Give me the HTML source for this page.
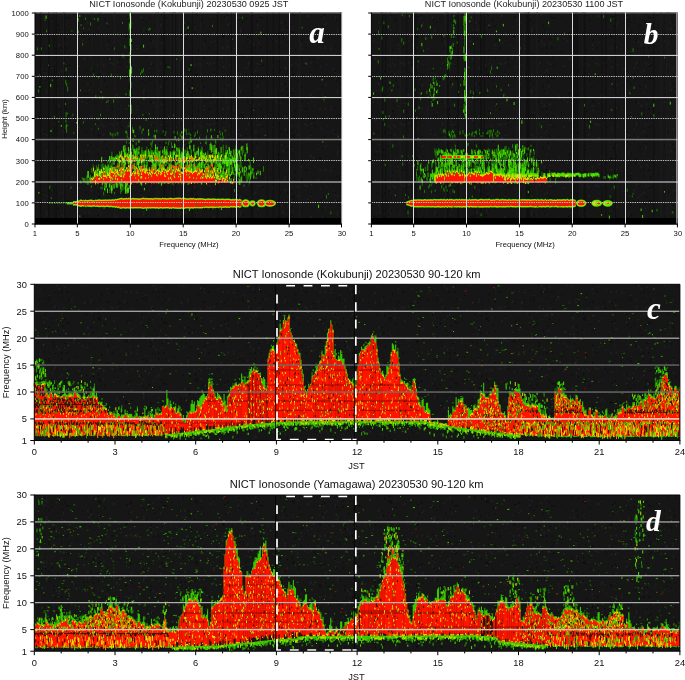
<!DOCTYPE html><html><head><meta charset="utf-8"><title>NICT Ionosonde</title><style>html,body{margin:0;padding:0;background:#fff}svg{display:block}</style></head><body>
<svg width="685" height="680" viewBox="0 0 685 680">
<defs>
<pattern id="nz" width="97" height="61" patternUnits="userSpaceOnUse"><rect width="97" height="61" fill="#161616"/><path d="M61.7 53.2v1.5M82.5 22.5v1M1.2 12.8v1.5M15.2 47v2M91.8 52.7v1.5M39.4 55.2v1.5M28.6 35.6v2M67.2 3.9v1.5M45.7 18.6v2M34.8 34.1v1M48.7 52.7v1.5M3.5 55.8v1.5M48.7 21.4v1.5M87.8 32.2v1.5M65.5 58.8v1M93.2 33.3v1.5M10.1 25.6v1.5M92.7 26.8v2M30.2 16.2v1M59.6 29.5v1M55.8 2v2M66.9 16.6v2M68 56.5v1M31 16.1v2M61.5 47.1v2M32.8 55.3v1M49.2 31.2v1.5M49.1 55.2v2M93.7 57.8v1M10.5 57.1v2M3.4 27.5v2M.1 23.9v1.5M52.2 17.8v2M44.4 9.2v1.5M78 39v1.5M53.8 36.3v2M83.3 33.3v1M70.4 17.7v1M30.3 58.1v1.5M23.3 2.4v1.5M1.3 31.4v1.5M74.3 14.5v1M68.5 16.9v1.5M1.5 7.4v2M3.5 14.9v1M84.4 32.2v1.5M45.8 53.8v1.5M86.5 8.4v2M55.7 47.9v1M25.4 5v1M31.6 25.3v1.5M58.4 48.6v1M94.4 41.6v1M58 24.4v2M37.9 36.8v1M29.9 35.4v2M54 40v2M52.2 13v1M76.8 50.9v1.5M68.9 3.2v1.5M64.7 13.2v2M33.7 13.9v2M67 47v2M91.3 21.4v2M20.4 10.7v1M3.2 11.9v1.5M62.8 20.6v1.5M84.5 36.5v1.5M11.2 39.4v2M22.8 58.6v2M2.4 13.6v1.5M44.5 45.8v1M89.3 38.1v1.5M64.9 38v1M4.6 49.2v2M66.1 37.8v1M8 18.5v2M93.6 9.6v2M68.9 53.9v1.5" stroke="#0c0c0c" stroke-width="1.3"/><path d="M59.2 43.8v2M61.9 31.3v1M42.3 7.8v1M19.9 12.7v1M27.5 56.7v2M59.4 10.7v1M16.7 15.1v2M34 23.9v1.5M67.2 36.8v1M71.8 54.8v1.5M10.3 44.2v1.5M29.1 47.1v2M7.7 35.4v1M22.5 35v1.5M61.8 8.6v2M3.1 29.1v1M28 26.7v1M10.7 48.5v1M46.7 30.4v2M34.3 46.4v2M55.2 .7v1.5M82.6 40.6v1.5M89.1 28.2v2M63.7 24.6v2M73.6 37.6v1M18.6 34.6v1M20.8 40.5v1M6.8 12.1v1.5M82.3 40.6v1M32.2 34.3v1M39.8 48v1.5M90.9 57.1v1.5M46.9 28.3v1.5M91.3 53.9v1.5M13.6 1.4v1.5M49.2 50.9v1M31.9 17.5v1.5M33.2 40.2v1M56.5 40.7v2M64.8 42.5v1.5M78.9 3.9v2M74 34.3v1.5M84.4 57.4v1.5M66.6 2.9v1M20.2 32.8v2M6.8 3.4v2M35.5 3.3v1M24.1 44.3v1M17 42.1v1M54.5 2.1v2M56.4 14.1v1.5M91.5 6.3v2M46.7 12.5v1.5M79 38.2v1.5M43.9 11.3v1M35.6 22.8v1M52.4 6.5v1.5M63.8 2v1.5M87.8 21.8v2M2.1 26.9v1M86.6 41.7v1M44.5 16.7v2M.6 3.6v1.5M16.1 2v2M53.7 55.4v1M85.4 29v1M4.9 2.2v1M20.4 1v1.5M40.2 45.3v1M84.7 59v1M29.6 5.2v1.5" stroke="#222" stroke-width="1.3"/></pattern>
</defs>
<rect width="685" height="680" fill="#fff"/>
<g fill="none">
<rect x="35" y="12.5" width="307" height="211.5" fill="url(#nz)"/>
<rect x="35" y="218" width="307" height="6.5" fill="#000"/>
<path d="M174 12.5v205.5M218.9 12.5v205.5M158.1 12.5v205.5M179.3 12.5v205.5M299.6 12.5v205.5M114.8 12.5v205.5" stroke="#1b1b1b" stroke-width="1.5"/>
<path d="M173.8 12.5v205.5M92.3 12.5v205.5M200.3 12.5v205.5M235.4 12.5v205.5M226.1 12.5v205.5M170.4 12.5v205.5M101.1 12.5v205.5M164 12.5v205.5M156.3 12.5v205.5M63.5 12.5v205.5" stroke="#1b1b1b" stroke-width="1"/>
<path d="M64.7 12.5v205.5M54.2 12.5v205.5M231.3 12.5v205.5M175.5 12.5v205.5M251.9 12.5v205.5M192.4 12.5v205.5M56.4 12.5v205.5M273.4 12.5v205.5M267.2 12.5v205.5M279.1 12.5v205.5M172.5 12.5v205.5M340.4 12.5v205.5M289.2 12.5v205.5" stroke="#101010" stroke-width="1"/>
<path d="M217.6 12.5v205.5M130.9 12.5v205.5M251.6 12.5v205.5M163.9 12.5v205.5M164.3 12.5v205.5M48.8 12.5v205.5M40.7 12.5v205.5" stroke="#101010" stroke-width="1.5"/>
<path d="M80.6 89.4v1.9M106.5 101.4v1.6M100 96.5v2.1M45.1 19.5v1.5M65.5 102.9v2.1M140.5 72.7v2.4M148.8 28.6v2.3M107.1 22.6v1.7M122.5 21.8v2.1M41.4 47.4v2.4M46.6 30.1v2.2M120.6 75.9v3.4M142.6 70.9v2M71.9 30.3v1.4M78.5 18.2v3.4M90.6 22.3v3.2M39.5 74.3v1.2M49.3 44.5v2.2M143.9 97.3v2.3M98.5 76v2.4M126 93.1v2.3M78.5 30.5v2.6M123 54.2v3.3M63.9 62.5v1.8M128.8 104.9v1.7M149.2 113.1v1.5M142.9 113.9v2.1M113.6 99.5v3.1M73 113.8v1.8M114.3 47.5v2M101.1 90.9v2.1M124.8 45.2v3M149.6 27.7v1.5M109.9 58.4v1.4M131.1 44v2.8M97.7 18v1.7M98.3 127.8v2.4M54.4 115.7v2.8M83.4 121.4v2.1M58.7 121.2v1.2M111.4 73.7v3.1M73.7 132.5v1.4M128.2 125.5v1.5M81.1 24.2v1.9M94.3 18v2M67.8 124.8v1.7M85.5 17.5v2.4M141.8 69.6v3.5M95.8 95.3v2.2M102.8 96.3v2.9M100.5 113.7v2.5M95.4 123.3v1.8M146.2 118.4v2.6M52.3 79.4v1.8M83.5 27.7v1.2M98.1 18.2v3.3M150.2 28.5v1.4M143.5 68.3v3.3M82.7 43.1v2.3M140 125.9v3.3M48.5 64.6v1.3M117.1 132v1.3M37.4 47.4v2.9M93.6 73.6v2.5M108 99.8v2.8M38.7 89.5v3.1M98.1 117.7v2.4M323.9 98.9v1.5M265.2 134.7v1.3M168.1 66.3v1.7M253.9 109.5v1.3M302.1 26.6v1.9M306.2 62.5v2.1M216.2 148.8v2.2M242.3 16.7v2.1M184 35.2v1.4M169.7 66.7v1.6M189.2 69.1v1.5M325.3 96v1.1M212.5 24.9v2.3M322.8 141v1.9M261.7 59.7v2.1M173.4 114.7v1.2M176.6 58.3v1.8M232.8 38.5v1.3M301.8 54.8v1.2M338.2 136.4v1.1M328.3 193v2M91.3 185.1v2.8M100.8 186.7v2.5M70.9 186.5v2.1M114.6 192v2.4M171.1 204.2v2.9M326.4 195v3.8M330.9 211.4v2.9M166.6 199.5v2.2M131 200.5v2.7M270.8 202.1v3.1M244 184.5v2.3M212.9 207.2v2.3M104 207.1v2.1M49.8 185.5v3.5M79.9 215.3v2.1M51.3 197.1v1.8M162.8 202.7v3.1M124.2 186.9v2.7M129.8 199.2v3.6M120.7 190.1v3.9M234.5 188.9v3.2M103.7 191.6v3.4M129.6 38.2v7.9M131.5 108.7v5.2M131.4 104.6v5.2M130.2 30v3.8M130.8 45.6v6.8M129.7 90.2v5.9M130.1 77.2v5.2M130 121.5v6M130.5 104.3v4.6M129.8 91.3v4.6M130.1 64.3v6M131 44.7v5.7M130.4 36.5v7.8M131 81.3v7M130.2 59.2v3.8M129.7 21.8v5.3M130 12.6v7.2M130.8 47.9v5.7M130.9 21.8v7.1M131.1 69.3v7.5M130.4 52.7v7M130.9 15.7v6.8M130.4 77.9v3.1M129.2 23.1v7.6M129.9 30.2v6.2M131.6 67.6v6.7M66 124.8v4.7M65.7 79.8v4.4M66.1 67.6v3.8M66.7 83.2v3.3M66.6 123.8v4.8M67.7 86.8v4.6M66.6 128.8v4M65.9 119.6v3.2M66 112.2v4.9M67.3 112.4v2.2M215.4 172.1v4.2M208.7 161.3v2.6M161.4 170.1v2.2M155.8 170.6v6.1M191.8 170.2v3.6M121.5 163.4v3.2M170.9 163v6.7M215.2 177v2.7M217.6 155.9v5M159.7 156.6v6.6M150.4 155.8v3.2M150.7 153.2v4.3M204.6 174.4v2.6M136.1 163.3v2.1M223.6 176.2v3.2M212.4 175.1v4.7M236.8 168.9v3.6M228.9 178.7v4.1M226.3 162.2v4.6M243.7 150.3v2.7M87.2 176.3v4.9M194.1 179.3v4.7M200.5 162.5v5.6M158.5 175.2v5M107.1 166v5.6M229.3 169.5v5.8M197 162.3v3.2M198.7 165.3v3.6M206.2 169.8v2.6M172.5 179.7v4M184.6 179.6v4.8M241.6 176.2v6.3M224.3 172.9v4M196.9 151.9v2.3M235.9 155.9v6.4M130.7 166.1v2.9M159.2 155.9v6.2M215.5 160v5.8M222.4 153.3v2.6M139.9 168.6v5.7M247.4 175.3v6.5M124.9 157.2v3.5M188.5 153.4v3.1M249.7 179.1v4.7M142.1 168.4v5.7M112.1 162.5v6.9M191.5 152.3v6.9M175.7 171.6v6.5M236.1 149.2v4.2M182.9 168.4v3.4M157.4 172.8v6.5M179.6 147.6v5.8M175.8 169v2.1M167.4 153.7v5.3M192.6 160.5v2.3M185.4 164.3v4.4M147.4 176.3v5.9M138.8 159.2v4.1M214.9 158.1v6.2M144.7 161.8v6.6M162.5 162.1v6.8M238.9 177.8v6.7M152.4 165.1v5.4M145.2 172.3v6.2M167 146.1v6.4M164.1 150.7v3.1M238.2 158.1v2.5M185.6 167.9v6.1M200.4 149.3v2.9M180 180v2.5M185.3 149.9v2.7M190.9 179.6v2.6M129.2 165.7v4.5M153 174.8v7M99.4 180.3v2.5M124.1 166.1v2.4M141.6 178.1v4.6M209.9 166.4v3.1M230.1 160.2v5.1M217.3 168.1v4.2M211.8 174.2v3.8M208.8 168.4v5.5M150.8 176.9v3M167.3 158.9v4.6M230 166.2v6M207.2 157.5v4.4M140 156.9v6.6M146.8 146.7v5.1M141.1 154.8v2.8M223.2 171.9v6.2M229.7 164v2.4M104.1 170.4v4.9M131.5 158.2v5.3M164.8 169v3.1M124.7 170.8v2.4M143.1 154.7v6.7M109.9 167.4v6.7M189.1 172.2v4.9M108.6 164.5v5.8M210.9 161.7v5.3M203.6 162.6v2.2M99.4 168.7v2.4M117.4 178.7v6.5M226.2 155.2v3.2M211.6 176.2v6.4M211.3 168.3v3.6M157.4 173.7v2.5M251.1 166.7v6.8M162.5 167.8v4.9M229.9 178.7v4.1M155 163.4v6.7M202.2 165.5v5.3M178.9 158.1v3.7M197.1 168.5v4M234.5 164.3v3.6M86.9 175.2v3.6M130 168.2v3.2M125.2 154.7v2.6M195.8 166.7v6.7M128 156.9v5.1M122.9 168.4v5.7M116 168.2v6.4M162.1 169v3.3M152.4 165.1v6.6M121.2 177.7v2M190.3 175.1v4.5M181.8 157.1v5.7M191.1 149.8v5.7M178 167.2v4.5M130 164.8v4.9M130.2 178.5v4.2M137.8 156.9v3.3M150.8 147.9v5.8M224.3 160.1v6.5M201.9 146.4v4.3M142.4 151.6v2.7M171 163v4M223.3 153.5v3.8M187.8 153.5v6.6M242.1 149v5M235.9 160.5v4.5M202.7 178.2v3.6M146.8 171.2v6.5M91.4 167.8v4.7M228.7 156.3v4.2M160 161.1v6.6M161.3 157.5v2.5M215 150.6v6.7M211.5 169v5.2M131 175.7v3.9M141.7 165.6v3.9M195.7 166.5v2.1M156.2 157v3.8M131.7 178.7v6M192.8 175.6v3.3M185.7 166.9v6.4M126 151.9v3.3M122.6 160.5v5.9M188.9 169.6v5.4M211 171.5v5.1M198 178.2v5M153.5 174.9v3M202 152.3v4.3M165 177.2v3.3M141.6 155.1v6.8M126.4 177.4v6.6M236 145.1v5.5M101.3 167.2v3.9M108 180.4v2.2M239.8 165.5v3.2M172 178.4v6M246.7 172.4v3.3M181.5 177.8v6.6M194.3 168.7v4.7M119.3 160.5v3.6M156.6 151.9v5.1M218.9 158.6v5.7M207.1 175v4.9M233.7 177.1v3.4M169.5 177v6.9M94.9 171.5v5.4M137.2 149.6v4.2M247 173.8v2.4M146.7 151.5v6.8M223.2 146.8v6.8M187.3 147.4v4.9M124.5 177.1v2.6M205.1 171.9v4M161.2 172.6v4.8M174.1 168v6.6M151.2 166.7v5.4M251.2 170.7v4M157.4 174.2v2.8M248.3 172.7v6.8M166.8 161.9v2.2M113.1 175.7v5.5M182.8 171.4v2.5M203.4 164.6v3.6M152.5 167.4v6.3M206.1 155v6.5M145 156.6v2.5M187.5 172.9v4.6M236.5 161.7v3.3M210.2 174v4.6M112.1 178v2.5M221.1 159.8v6.5M109 159.1v3.8M171.2 152.2v3.6M227 150.2v4.5M229.4 175.2v2.9M115.7 179.9v3.7M119.3 159.3v6.2M121.8 176.2v5M231.6 154.6v4.2M156.8 147v5.8M178.2 179.3v4.9M178.9 161.4v7M164.6 150.7v3.9M224.7 177.7v5.1M202.6 169.5v4.5M111.3 178.6v5.6M227.5 151.4v2.8M105.9 172.5v3.5M162.9 177.9v5.5M107.2 168.9v5.4M222.5 160.2v4.5M124.4 171.3v3.5M235.5 150v7M237 163.2v4.4M127.6 170.7v6.9M109 179.9v3.7M185.4 177.4v3.7M157.5 150.8v3.8M154.6 150.4v5.8M123.2 176.2v3.2M110.5 165.4v5.7M236.1 147.9v2.1M224.6 164.7v4.3M178.8 152v3M155 161.6v6.1M130.3 173.4v4.9M143.4 169v5M154.9 165.2v3.8M177.6 161.3v2.1M172.6 151.5v3.4M167.4 158v4.9M173.7 165v3.4M117.4 173.2v3.4M87.4 179.4v5.4M139.3 166.3v5.1M199.6 176.7v5.8M167.3 180.5v3.1M124 165.5v2.2M152.9 170.9v3.9M135.4 167.4v5.7M106.8 178.1v2.5M124.6 157.8v2.8M198.4 176.3v5.2M229.8 169v5.1M202.3 170.4v5.4M109.7 178.5v4.6M93 176.4v7M147.5 155.1v3.6M183.3 173.3v2.5M232.6 168.6v5.1M244.6 169.8v2.4M160 174.8v6M133.4 175.6v6.8M237.6 149.2v4.3M200.4 178.2v2.6M107.5 170.1v5.6M193 156.4v5.4M122.3 171.6v3.9M96.9 172.5v5.7M220.2 152.7v6.6M113.9 166.7v4.7M166.4 159.9v2.6M181.8 151.2v7M109.8 157.7v6.9M169.5 156.4v5.1M193 170.9v2.8M186.9 164.8v4M190.5 158.6v2.4M185.2 160v2.7M141.1 153.9v5.5M167.3 170.6v6.5M187.1 163.4v3.5M165.6 152.2v4.3M219.7 175.1v2M133.9 170.8v3M143.9 160.3v4.4M143 163.4v2.3M139.1 177.8v3.6M204.9 176.3v6.3M131.3 148.3v4.6M189.6 156.7v3.9M174.6 166v2.7M216.4 175.4v2.8M223.2 144.6v3.7M195.2 166.3v3.1M138.6 156v6.3M85.9 177.9v5.8M90.5 174.7v6.9M215.4 160.2v6.5M223.1 166.5v4.1M98.3 178.1v6.3M150.6 178.5v4.5M137.4 171.6v6.3M184.9 149.5v5.3M167.9 159.1v4.9M143.7 155.5v6.1M145.5 171.9v2.5M113.7 178.9v4M112.4 156.8v2.6M225.6 149.9v3.3M169.5 176.2v2.3M129.1 165.1v5.5M187.4 178.3v3.3M103.2 171.2v5.4M101.2 175.6v3.8M172.5 177.5v5.6M167 174.6v6.9M175.4 144.5v3.1M217.8 163.9v3.2M159.2 157.3v4.6M115.8 167.5v3.5M153.1 174.6v6.8M195.1 151.3v2.6M252.6 171.3v2.9M140.1 170v3.9M154.5 163.6v2.5M225.6 176.9v5.1M197.7 176.3v4.4M200.9 152.8v3.6M238.6 165.3v4.3M180.4 175.6v6.3M237 150.2v4.9M242.5 151.9v3.5M209.1 165.7v6.2M169.2 152.7v3M151.8 142.7v4.7M135.6 153.1v6.9M133 163.3v5.8M174.5 170.7v2.5M148.8 173.1v2M163.2 177.5v4.9M226.6 163.3v4.3M231.9 165.5v6.2M147.2 151.6v2.9M196.3 177v6.1M159.3 153.8v4.6M125.8 147.8v5.5M176.5 151.6v6.7M112.7 170.4v4.3M245.6 152.5v4.7M134.7 156.1v6.6M140.3 165.6v3.8M129.9 166.7v5.3M211.5 168.5v3.4M194.4 151.7v7M212.9 177.1v3.4M121.3 170.7v5.6M220.9 167.8v2.8M138.3 174.6v4.2M238.8 156.3v2.3M224 159.9v6.4M186.1 153.4v5.2M222.4 172.6v2.6M250.1 161.9v5.2M226.2 165.7v4.1M227.6 156.5v6.8M226.6 153.6v6.8M214.7 164.9v2.5M175.3 150.9v2.7M209.6 167.4v6M137.2 175.4v5.1M221 154.3v4.5M178.6 170.9v4.6M228.4 157.5v6.4M151.5 174.1v2.3M142.7 169.7v6.3M145.8 172.2v6.9M116 172.7v4.5M189.8 179.8v4M183.7 173.6v4.9M157.6 148.1v6.7M229.8 156.5v5.8M226.6 167.5v3.3M241.1 161.9v4.9M187.5 175.8v2.8M217.1 173.7v2.6M147.2 173.2v6.1M169.9 154.9v6.5M129.8 158v3.3M155.9 167.3v2.3M191.4 157.1v5.3M240 153.9v5.2M136.7 155.3v4.4M111.8 155.7v5.5M224.5 176.9v5.3M189.6 165.3v4.3M237.2 171.9v4.8M243 145.7v6.4M155.7 172v3.9M250.6 164.5v6.6M110.3 158.2v3.6M207.5 166.7v6.9M246.2 173.9v3.9M206.2 173.5v5.9M111.9 151.6v6.7M169.5 178.1v3.2M156.8 159.2v4.1M158.8 169v4.2M198.2 153v5.2M178.4 167.2v5.2M207.3 159.5v5.6M136.3 149.4v6.9M161.7 168.3v4.3M147.3 160.5v6.4M138.9 150.4v4.1M212.9 174.4v4.1M202.5 164.8v6.2M184 170.8v3.2M107.5 161.2v2.1M240.9 157.3v4.5M227 176.2v4.8M225.8 159v5.4M248.7 172.2v6.1M94.9 172.3v4.4M143.9 171.9v3.7M169.5 176.8v2.3M119.2 155v3.4M207.6 171.2v4.1M172.1 155.5v5M151.6 167.5v3.5M209.1 175.5v3.9M155 181.1v2.1M186.4 169.3v6.7M236.4 158.4v3.2M123.2 158.8v5.7M226.6 175.7v4.2M160.3 150.4v3.7M153.9 151.8v4M166.4 157.7v5.5M233.1 158v3.9M237.6 155.2v5.2M102.9 163.4v4.8M113 172.7v2.3M237.5 157.7v4.6M138.2 176.2v5.2M200 167.5v4.7M226.2 144.8v4.5M192.6 164v6.2M126.7 178.2v5.4M206.4 173.7v3.8M154.3 150.4v6.7M131.4 157.1v6.7M125 165.7v4.8M163.2 148.4v5.7M205.6 174.7v4.5M139.9 171v3.9M162.1 156.8v5M163 178.5v5.3M179.3 173.9v5.3M191.3 167.7v4.6M127.6 179.6v4.3M237.1 162.7v4.8M135 149.6v4.7M163.3 153.1v6.8M175.4 164.6v6.5M111.6 171.9v2.3M127.3 175.7v5.6M207.7 169.4v6.3M203.3 161.4v5.5M182.7 147.4v6.1M229.1 172.4v3.3M213.2 170v4.7M226.2 173.1v2.6M175.8 163.1v3.1M128.4 170v3.8M191.6 155.8v6.2M199.2 159.8v2.2M97.9 174.5v2.8M196.9 170.7v3.2M157.9 169.5v5.9M142.7 150v5.8M137.8 173.3v5.9M111.3 180.3v2.7M210.9 154.8v2.9M194.7 154.6v6.9M173.1 164.8v6.8M182.6 164.4v3.3M119.2 174.2v3M218.7 154.3v6.3M101.2 164.2v2.7M180.9 156.4v3.9M139.2 179.6v3.5M202 178.6v6.1M141.9 147.2v6.5M162.9 164.3v3.7M97.8 180.2v3.5M219.6 152.7v4.8M165.6 169.4v5.8M231.6 158.4v6.2M137 167.5v6.3M111.9 170.9v4.1M155.6 161.4v5.9M202.8 174.3v6.6M170.5 157.9v6.5M201.6 168.5v3.1M126.3 176.7v6.6M127.4 167.3v2.3M125.5 152.8v4.2M157.2 156.5v5.1M170.2 176.9v3.8M227.8 164v7M177.6 157.6v5M178.1 153.2v3M198.3 146.4v4M146.4 166v4.1M151.5 179.3v4.7M218.9 165.9v4.5M112.9 172.6v2.8M224.4 176.4v5.8M185.3 172.4v7M246.8 177.3v4.4M173.5 153.1v3.7M137.3 174.9v2.6M115.8 176v6M116.1 165.9v4.3M245.1 157.5v3.8M202.3 148.7v3.2M197.2 167.2v2.5M231.8 150.5v2.9M119.7 167.2v2.5M113 162.1v2.7M201 150.7v5.3M240.5 156.3v5.7M197.2 164.7v5.7M96.4 165.3v6.4M164.3 164v6.1M182.7 180v3.6M124 149v5.4M104.6 176.3v5.8M115.1 176.1v4.8M206.6 173.8v5M242 165.9v7M181.3 153.6v3.2M235.8 173v2.8M169.9 166.8v3.1M138.2 173.4v5.9M126.2 181v2.3M110.4 170.1v6.8M191 179.3v4.6M173.3 150.5v2.8M106.7 180.9v2.2M241.8 174.6v6.5M146 158v2.3M171 170.1v3.6M117.6 157v5.2M150 151.2v6M188.8 167v2.6M93.3 164.7v6.3M166.4 179.9v3.2M244.9 153.6v3.3M192.6 177.7v4.9M182.5 170.5v6M124.9 179.7v2.3M151.1 155.9v5.9M121.1 167.5v3.9M94.2 178.7v2.1M191.1 148.9v3.5M179.3 171.9v4.5M220.9 158.3v3.9M207.2 176.6v3.9M92.4 176.3v5.2M131.5 169.8v3.3M190.9 169.5v5.2M130.8 160.4v2M119.2 177.3v2.9M234.7 173.1v7M206.3 156v3.8M105 171.8v3.5M220.8 157.3v2.3M136.5 170.2v4.5M232.7 161.3v4.7M144.5 153.5v6.6M98.8 173.2v2.8M163.4 166.1v4.3M238.9 172.9v3.3M198.3 153.8v4.3M132.4 144.3v5.1M127.2 160.2v2.4M142.1 158.9v4M237.1 154.3v4.4M220.9 165.5v3.4M103.3 179.3v2M198.5 174.7v4.3M149.5 178.8v3.3M210.9 154.3v6.4M131.1 153.7v6.6M218.8 167v5.8M187.8 154.1v3.3M231.6 164v5.3M145.7 150.8v2.2M196.1 174.5v3.4M215.3 167.2v3.1M129.1 176.6v6.3M168.8 166.7v2.6M182 154.1v6.8M123.5 168.8v6.8M110.7 173.4v3.8M136.5 161.1v5.8M202.2 156.6v3M138.6 149.2v4.7M162.5 157.4v4.3M174.2 167.2v4.4M202 166.3v6.4M157.9 152.1v4.5M176.9 148v6.5M228.5 152.9v4.6M115.1 178.7v3.4M121.5 150.8v6.7M215.3 174.2v4.1M142.4 157.3v5M99.5 177.3v2.4M93 169.7v3.8M201.5 154.8v3.3M144.9 164.2v4.3M143.5 151.5v3.6M166.6 171.6v4.8M132 172.5v2.2M153.4 175.9v4.7M201.5 179.4v4.9M181.2 157.5v5.6M130.7 177.2v2.4M151.6 167.2v5M144.9 160.1v2.8M123.4 178.9v4.4M137 179.9v3.9M210.7 160.6v2.7M90 177.3v4.6M219.9 175.4v4.5M218.9 154.5v3.3M182.6 173.5v6.5M235.8 171v3.7M165.7 156.8v5M177.4 176.6v3.7M102.8 163.7v2.6M225.2 153.3v3M187 175.2v3.8M137.1 150.2v5.8M207.8 173.6v3.1M190.4 178v3.1M212.4 178.8v4.1M133.3 145.2v5.9M249.9 174.7v2.9M177.9 172.4v3.7M209.7 158.9v3.5M131.8 159.4v4.7M228.6 166.5v7M147.6 160v5.1M125.6 176.7v6.9M121.9 172.6v2.7M239 164.3v2.6M183.9 152.2v6.1M208.1 155.4v2.1M157.6 174.5v5.1M178.6 158.7v5.8M256.1 176.7v2.2M147.4 161.8v4.2M175.6 169.6v3.9M123.9 163.3v6.4M174.3 167.8v6.9M112.4 167.9v6.4M202.1 147.5v3.6M191.7 150.7v2.8M109.9 165.5v5.8M215.7 158.3v5.8M252.4 168.3v5.2M216.7 158.6v5.4M263.5 166.2v5.5M218.4 165v6M172 153.7v4.1M228.7 147.4v2.7M102.4 173.3v5M212 158.7v3.2M213.1 170.5v3.5M178.2 178.2v3.3M142.8 176.2v2.5M111.4 163.6v2.5M187.5 151.6v3.1M121.2 170.6v2.2M80.9 180.1v3.7M118.1 169.8v4.3M112.9 171v5.3M223.8 159.5v3.3M82.4 177.2v2.8M145.2 180v2.4M151.6 159.1v3M186.8 167.4v3.2M235.9 147.4v5.7M201.7 169.1v5.4M143.6 169.2v6.3M127.2 153.1v5.4M197.9 163.6v2.8M207.9 150.7v4.8M161.9 173.8v6.7M142.6 159.3v3M202.4 151.7v2.5M111.5 174v2.9M112.1 156.5v2M100.1 174.8v6.8M145.7 180.4v2.5M171.5 163.8v5.8M164.1 156.4v3M253.8 171.7v4.9M137.6 157.6v6.9M181.8 163.8v4.5M195.8 166.7v5.1M168.2 177.3v4.9M235.3 163.5v3.4M153.8 163.2v2.7M98.5 164.2v6.1M249.7 159.7v2.2M170.3 154.8v6.4M166.1 172.1v3.2M199.5 176.2v2.7M200.6 152.7v4.9M192.8 171v5.7M171.6 165.2v5.4M213.9 169.4v5.9M240.1 160.8v6.8M129.7 168.7v5M165.3 153.1v4.5M213.1 153v2.7M141.6 150.1v5.9M224.9 155.3v6M141 157.6v3.2M191.3 150.2v2.2M96.2 176.3v4.2M136.7 164.2v6.4M153.1 163.6v6.2M138.8 167.4v4.2M229.7 151.4v2.7M125.6 173.2v3.2M163.2 171.2v2.3M143.2 175.5v4.3M207.1 153v5.4M182.7 171.2v2.5M129.4 173.6v6.7M203.1 174v4M135.3 168.4v6.1M166.6 156.6v2.5M134.4 151v2.2M238.5 171.9v3.4M146.4 161v4M201.9 173v5.3M128.3 169.6v2.7M210.3 176v3.1M193.8 158.1v3.9M154.5 166.2v3.7M117 179.3v4M169.5 178v4.3M131.1 166.6v6.3M217.3 153.5v4.5M147.9 167.4v4.5M184.8 173.6v6.3M152.6 157.3v6.6M118.3 179v3.2M153 167.7v3.3M215 154.2v6.1M193.5 148.5v3.3M187.8 155.8v3.2M127.8 172v2.6M166.1 174.6v2.5M106.5 179.7v3.3M167.1 153.4v2.4M197.7 179.6v4.3M196.4 172.5v3.3M157.7 169.4v6.7M100.9 171.4v2.9M173.1 178.8v6.6M162.9 158.8v5.1M122.2 167.8v3.8M126.1 172.6v3.6M179.8 150.6v5.8M166.7 168.4v4.5M219.4 163.4v5M155.2 170v7M189.5 153.8v6.4M198.1 174.3v6.1M248.9 165v4.9M146.9 156.7v4.6M160.1 150.6v4.3M88.4 179.3v5.4M89.9 177.9v5.3M189.5 154.9v5.9M126.8 173.8v5M138.9 168.7v2.5M219.8 130.7v2.4M174 131v2.3M222.5 132.1v3.7M220.7 137.4v1.8M214.8 138.8v2M210.8 129.1v2.4M126.3 130.3v3.4M129 137.3v2.8M148.1 138.5v2M117.8 132.1v3.2M205.6 141.8v2.2M176.5 138.9v2.5M223.1 136.1v3.9M210.6 138.5v1.7M171.5 142.2v3.4M195.3 132.3v3.9M199.5 136.7v3.3M210.6 142.2v3.8M197.5 130.5v3.2M189 132.3v2.5M211.9 137.1v3.1M169.1 140.4v2.2M115.2 133.2v2.7M134.6 134.6v2.1M215.8 140.8v3.3M206.4 135.4v4M189.1 141.3v3.1M190.7 133.7v2.6M150.9 141.9v3.4M184.7 128.4v3.2M215.4 139.9v3M156.8 129.5v2.9M141.9 130.2v3.5M127.2 135.2v3M166 141.6v2.6M165.8 131.4v2.1M168.4 142.1v3.2M154 134.5v3.2M111.1 133.7v1.8M154.6 135.2v1.8M127 131.7v2.8M177.4 131.2v3.5M196.6 137.8v1.6M189.7 142.1v2.3M135.3 135.6v1.8M142.6 137.8v1.5M125.5 131v1.9M222.2 138.1v3.4M190.3 137.1v3.3M126.5 141.3v2.1M165.1 133.8v2.2M200.6 142.2v1.8M136.2 141.9v3.3M194.5 135.2v1.9M190.9 137.5v3.7M152.6 140.1v3.3M178.6 137.4v2M207.5 129.1v3.3M130.7 142.9v2.5M214.5 128.9v1.9M154.7 129.9v2.2M112.8 133.3v3.3M183 136.6v2.7M220.7 133.4v1.9M186.8 132.8v2.3M191.1 139.7v2.9M206.3 140.8v3.8M132.5 127.2v3.7M225.2 129.7v1.8M211 128.5v2.2M186.3 129.1v3.5M110.3 132.1v2.8M163.1 130.3v2.3M180.2 133.4v3.4M129.2 142.2v1.9M122.9 185.3v5.1M109.8 188.8v4.2M104.6 186.4v4.1M119.2 182.5v3.7M105 185.5v4.2M121.7 183v4.6M122.2 184.7v5.8M102.2 186.4v3.2M115.1 180.6v5M104.6 183.9v5.3M114.1 186.4v2.5M105.1 186v5.3M110.3 180.2v5.6M104.7 181.3v3.9M106.4 183.9v3.1M121.5 188.4v3.5M112.4 183.4v5.7M111.9 187.2v3M110.6 186.8v3.2M117.8 182v5.3M127.2 189.1v3.8M105.7 182.7v2.6M104.5 185v4.7M121.1 184.8v3.9M110.9 185.1v2.2" stroke="#1e8400" stroke-width=".9"/>
<path d="M50.7 83.9v3.1M39.9 86.1v1.4M51 130v2M79.8 15.3v1.4M46.1 15.5v3.4M61.3 125v1.7M76.5 122.1v1.3M143.6 44.7v2.9M192.2 87.2v1.9M188.1 26.5v2.3M322.1 79.1v1.3M260.8 31.7v2M191.1 64.1v2M189.4 208.1v3.1M162.4 199.7v3.6M318.6 204.6v3.4M144.4 187.9v2.4M146.7 207.3v3.5M221.4 206.8v3.2M38.9 191.9v1.6M130.2 52v5.5M131.4 66.4v7.1M130.6 20.2v7.1M131.4 38.8v3.3M129.9 24.1v4.6M129.6 69.5v7M130.1 11.5v4.9M130.1 58.1v5.6M158.9 150.9v6.4M191.2 161.7v4.9M112 177.8v2.6M176.7 162.3v2.9M203.1 173v2.2M167.3 178.4v3.6M179.1 181v2.3M217 164.2v2.9M162.6 166.8v3.9M119.8 180v3.3M131.6 159.8v3M123.8 175v5.6M181.6 162v6.6M223.2 158.7v2.5M129.5 165.9v3.9M119.3 175.3v4.4M104.4 167.8v2.6M182.8 159v5.6M117.1 154.5v3.6M100.4 170.7v6.4M118.1 177.7v5.3M136.9 178.6v4.1M124.4 170v3.5M153.8 162.6v6.9M107.3 169.3v6M188.1 151.2v6.9M132 178.7v3.1M113.8 157v4.1M217.9 160v5.1M165.9 163.9v2.2M221.1 146.9v6.2M164.3 168.4v4.7M179.5 155.1v5.9M166.5 176.9v5.5M226.4 159.6v6.3M242 145.8v3.6M129.8 172.7v5.2M138.2 175.6v5.5M189.9 145.1v4.3M203.3 152.9v4.4M123.4 145.7v6M148.6 149.3v2.8M204.5 172.9v4.1M132.2 173.9v5.4M191.6 158.4v3.7M214 168.2v5.2M97 171.1v2.8M205.3 172.7v3.3M121.1 167v5.4M103.1 180.6v3M196.9 151.2v4M124.6 164.1v4M179.3 149.8v6.1M233.2 157.6v5.1M186.3 153.3v2.9M233.1 171.9v2.9M168.3 171v6.1M159.2 154.4v2.3M175.4 154.6v5.1M249.2 173.1v2.6M121.1 153.5v2.2M171.8 156.9v2.1M166.3 179.5v2.5M217.4 175.4v4.5M198.5 149.7v5.8M122.4 156v3.5M239 172.4v2.4M144.5 166.4v2.7M143.1 154.7v5.3M159.5 151.6v2.1M164.5 167.7v3.1M223.6 158.7v4.7M142.9 174.7v2.5M199.4 162v3.8M227.4 161.3v4.8M116.7 171.8v5.7M176.6 171.4v3.9M146.4 167.8v2.6M134.6 172.7v5.6M144.3 164.3v5.4M120 177.8v6.2M95.6 170.1v6.3M185.4 172.4v5.2M148.7 152.2v2.2M229.6 148.6v5.4M94.8 175.5v3.6M177.8 175v3.6M159.4 163.9v5.9M121.7 150.7v6.5M237.2 171v2.8M105.2 180.3v3.6M242.6 167.4v4.8M182.6 177.7v3.5M189.8 178.2v2.5M90.1 176.9v3.1M103.1 177.2v3.5M114.3 157.8v3.8M147.8 177.3v2.2M152 150.2v4.3M189.4 164.7v4.9M214 150.9v3.2M246.9 143.4v6.8M167 152v2.7M118.3 173.9v5.3M189.8 145.4v3.7M180.2 167.7v5.7M180.1 175.9v6.7M168.9 176.7v5.4M156.2 157.2v5.8M130.8 160.9v2.5M173.4 153.7v3.8M129.4 174.7v4.7M119.8 172.2v6.3M238.8 150.8v2.5M112.6 167.5v4.2M250.3 176.4v3.1M188.2 165.1v4.3M180.4 157.6v3.7M227.4 161v5.8M155.5 144.4v4.7M192.5 174.5v3M246.6 167.2v3M128.6 155.3v3.8M163.3 164.5v5.8M239.4 171.9v5.6M127.4 153.3v5.2M239.4 149.8v4.7M154.4 163.9v3.4M249.3 165.7v3.6M226.5 176.7v3.6M152.3 166.9v5M205.5 156.4v5.3M193.8 165.9v6.7M195.9 166.1v4.4M176.5 178.8v3.9M190.3 175.7v5.2M151.2 157.8v2.5M153.7 172.6v3.4M241.1 176.8v5.3M155.9 163.1v6.8M124.2 168.7v2.2M169.6 165.8v3.3M163.5 167.6v4.8M141.5 165.7v6.7M143.9 159.2v3.2M175.9 155.4v3.4M240.2 170.9v2.8M131.6 157.1v6.8M119.5 158.4v4.4M180 153.5v2.8M174.9 172.7v2.5M250.8 172.8v4.4M181.7 172.9v2.1M130.1 155v3.5M256.5 172.6v2.7M182.5 167.1v2.5M152.9 160v6.5M139.4 166.2v5.8M135.7 168.2v2.2M181.2 161.6v6.8M197.2 165.6v5.3M142.8 159.6v2.5M200.5 152.1v2.4M108.6 173.9v3M92.2 179.9v2.3M138.5 161.6v6.3M152.3 157.8v5M168.4 172.1v3.4M118.4 172.1v5.7M153 157.2v5.3M229.3 157.8v6.5M207.2 166.8v5.3M253 168.2v2.6M126.1 177.4v2.6M187.9 169.7v2.7M204.1 175v3.6M145.3 168.2v6.7M200.8 169.5v3.5M161.1 171.4v5M232.6 155.9v5.2M221 173.5v2.7M175 166.6v2.5M161.4 155.8v6.8M157 174.5v2.1M113 169.5v6.5M115.7 168.8v6.1M237.7 169.4v2.4M124.9 144.9v6.2M183.8 157.1v6.4M118.6 174.8v3.8M230.1 152.8v3.9M161.3 170.2v3.2M152.4 178.9v3.4M159.1 157.2v5.2M128.9 148.9v6.4M215.9 148.5v2.8M138.8 174.3v4.3M149.4 167.2v3.7M213 172.1v3.2M109.5 167.8v4.3M239.4 168.4v2.6M226.6 152.8v6.1M173.4 151.9v6.7M167 176.3v3.8M169.1 162.9v2.8M232.8 166.9v6.2M214.9 157.8v3.5M102.4 172.7v4.8M128.8 166.8v4.7M161.9 165.4v6.7M191.1 168.4v3.8M188.9 164.6v7M156 152.1v3M190.7 170.8v2.5M187.2 159.8v5.6M123.4 158.2v3.6M130.7 169.8v4.5M227.3 159.9v4.8M161 174.4v3M202.2 162.6v3M187.8 167.2v4.4M172.5 169.7v6.3M159.7 169.8v2.7M110.4 159.8v2.4M130.5 156.9v3.5M103.2 166.6v5.9M141.6 178.1v6M211.2 143.5v6.7M215.3 150.8v6.3M144.9 150.8v5.5M204.3 153.7v5.4M123.2 159.5v3.3M137.6 159.6v5.5M158.7 167.9v4.4M145.6 170.3v5.4M208.4 157.3v4.4M214 156.8v4.2M234.6 160.5v2M107.3 179.3v4.2M99.9 172.9v6.8M164.1 175.1v3.8M130.2 154.9v3.8M234.5 159.8v7M145.6 154.9v4.2M179.5 149.5v6.5M220.3 156.9v2.6M153.4 152.2v3.1M155.2 168.3v5.2M121.6 167.4v2M180.1 160.4v6.7M169.1 164.8v4.1M159.7 177.8v2.6M97.7 172.9v4.1M115.3 156.7v3.6M157.6 173.2v5.1M221.4 165.7v2.8M131.3 152.2v5.8M113.5 175.6v3.4M188.2 179.3v5.5M196.3 159.3v2.6M235.5 157.6v4.5M231.3 158.8v5.6M181.2 155.8v6.4M83.9 178v3.6M137.1 153.2v5.8M107.2 167.3v2.2M130.1 167v5.4M174.2 171.1v7M247.2 147v6.4M201.9 151.7v4.6M139.3 173.6v6.8M121.1 173.1v6.3M231.2 159.1v5.7M157.3 146.8v2.5M163.9 172v5.5M164.3 178.5v5.2M138.2 161.1v2.1M138.8 159.9v5.1M115.3 169v4M160.1 160.2v5.9M175.1 167v3.8M182.5 153.1v4.7M195.2 167.8v3.7M148.2 176.6v6.6M220.3 174.7v4.8M151.8 179.2v4M122 158.5v5.9M218.3 156.4v4.7M172.7 168.9v4.2M88.3 171v6.8M130.6 153.8v2.4M177.6 180v3M201.4 152.3v5.3M208.8 164.6v3.2M233.9 149.3v6.4M106.2 166.1v6.9M141.7 158.3v6.5M163.7 159.8v4.3M108.1 164.4v6.1M234.4 155.2v4.6M218.3 151.7v6M174.5 152.1v2.9M135.6 150.7v4.7M198.2 170.8v5.8M211 169.7v6.4M164.4 159v5.1M236.3 149.6v5.6M205.8 162.7v2.2M184.8 176v5.7M208.4 174.9v6.9M195.4 169.1v3.3M158.6 175.3v2.2M145.7 150.3v6.2M222.9 175v5.6M206 171.3v5.4M136.9 147.8v5.4M216.6 147.9v6.2M180 173.3v2.1M101.1 169v3.9M97.9 180.7v3.1M114.8 179.9v2.7M131 169.3v4.3M185.4 169.3v6.3M170.4 151.3v6.4M149.2 151.3v6.3M150.3 158.3v3.7M121 168.7v3M213 145.2v6.6M167.5 176.6v5.3M202.6 159v4.2M113.4 175v4.6M91.3 179.6v2.7M120.1 168v2M118.1 165.7v4M250.8 171.1v2.6M215.5 179.2v6M158.8 174v5.2M142.7 174.1v4.1M253.8 175.5v3.3M155.6 169.5v3.5M149.3 155.3v4.7M239.8 179v6M176.2 166.1v5.5M212.3 161.2v4.5M173.6 175.9v2.3M241.2 147v3.7M214.9 144.7v6.7M218.9 164.1v6.3M205.1 168.1v4.4M131.4 154.5v3.9M193.9 144.7v6.4M151.7 155.3v2.6M133.9 149.2v6.5M225 171.3v5.5M178.7 155.2v3.8M135.4 155.2v5.5M109.5 156v3.9M141.7 178.7v6.9M124.6 150.4v4.1M137 170.9v2.1M130.7 178.8v3.5M165.8 175.8v2.1M141.5 168.3v7M119.8 151.4v6.4M125 152v6M175.5 179.1v4.3M114.7 169v3.3M127.1 167.3v3.1M124.8 170.7v3M205.1 173.5v5.3M194.8 163.2v4.9M211.5 159.3v7M221.6 174.3v2.4M184.3 177.1v3.4M201.3 179.2v5.1M225.7 152.8v6.6M204.6 173.1v6.8M226.4 152.4v5.7M204.7 163.8v4.4M124.4 156v6.2M168.4 177.8v4.8M161.6 178.7v6.9M124.2 176.9v6.1M109 169v5.9M95.9 170.5v6.1M216.3 172.2v6.3M194.3 161.5v2.4M166.8 150.7v5.1M230.8 150.9v5.5M203.8 156v3.1M188.6 177.2v3.1M195.1 167.4v2.3M162.4 167.2v4.7M171.6 156.8v5.7M187.6 160v4.4M233.7 157.6v5.2M109.7 173.6v6.6M127.3 169.2v2.8M231.5 171.6v3.4M131.2 172.3v2.7M125 159.9v5.7M224.9 155v6.5M237 163.6v3M119.2 175.8v4.7M198.7 163.3v4.4M193.3 177.3v2.6M179.3 160v3.2M195.1 152.4v6.5M130.8 155.4v6.2M168.6 171.3v4.9M108.9 172.3v4.9M216.4 149.4v2.7M244.2 170.1v5.7M134.8 148.5v4.7M139.2 158.3v3M183.3 170.6v2.2M229.3 147.1v4.3M159.2 178v5.2M220.1 159.5v6.1M178.1 147.8v4.5M216.1 149.1v4.5M146.6 164.9v4.1M124.7 159.1v5.7M128.4 157v2.6M165.9 168.8v5.5M197.5 175.2v6.8M142.6 175.1v4.5M210.1 144v6.1M205.7 175.3v2.5M210 155.4v5.1M112.5 167.2v5.4M236.8 170.9v3.4M184.5 155.9v5.1M201.9 157.6v5.1M168 169.5v3.7M141.7 154.3v4.8M112.2 157.5v4.2M222.8 157.2v6.8M167.7 167v3.1M161.3 178.7v5.8M165 156.4v6.9M153.2 174v6.7M134.4 165.8v6M236.7 170.6v2.7M195.6 153.6v4.7M211.4 146.2v6.5M183.5 148.4v2.6M220.5 177v2.9M139.5 159.5v3.5M228.2 160.1v5.8M155.8 163.3v5.5M181.1 173.4v6.6M174.1 150.3v4.7M245.9 170.1v2.3M157.1 153.3v5.5M145.5 176.2v6.3M220.5 164.3v6.1M139 146.3v3.7M236.3 152.4v3.7M228.9 171.1v4.3M109.3 171.6v2.5M229.2 164.2v6.4M170.9 174.3v4.6M128.4 173.1v5M140.8 178.2v6.3M109.4 176.2v4.9M114.4 176.6v4M131.1 177.5v6.3M114.1 158.7v6M191.2 163.7v5.6M197.3 174.5v6.4M183.4 171v5.4M225.2 157.7v6.3M260.3 170.8v4.4M187.3 151.3v6.8M165.6 177.1v6.2M161.1 163.9v6.5M136.7 157.4v2.9M162 157v6.3M198.4 148.2v3.6M212.2 175.8v6.9M166.1 149v4.6M130.3 154.2v4.5M214.9 166.7v3.1M114.6 174.3v2.8M240.8 156.3v3.5M253.5 157.5v5.5M201.5 150.7v5.4M174.8 174.9v5.4M227.1 173.5v5.8M131.4 170.2v5.9M122.8 166.6v5M151.6 178.9v3.4M220.9 170.4v3.6M101.7 156.9v5.6M124.4 154.9v6.4M208.2 170.2v5.4M248.6 158.9v2.4M152.3 159.3v2.6M212.7 169.9v5.7M158.1 160.4v5.2M175.3 161.1v4.3M177.5 162.4v2.2M159.9 154.1v6.2M145.1 169v2.6M168 156.9v4.3M129 161.8v5.9M224.6 159.9v4.1M134.3 163v6.3M128.3 161.2v2.8M216.3 157.7v6.1M120.3 172.8v4.9M111.2 156v3.4M117.9 163.1v4.5M132.9 154.7v3.9M189.9 165.9v6.3M156 171.7v3.1M145.8 173.2v2.1M162.6 150.2v3M226.8 161.5v4.6M91 178.9v4.6M129.9 155.9v5.9M171.9 170.3v6.6M115.8 156.3v2.9M131.3 179.5v4.8M145.3 169.8v4M197.3 150.7v2.1M157.4 155.4v5.5M125.7 161.7v3M235.6 166.5v4.6M92.1 177.2v2.2M170.4 178.7v2.5M181.9 152v5.9M132.5 178.6v3.1M144.4 171.8v3.6M237.3 153.3v3.1M172.2 145.8v2.2M182.8 176v3.8M170.3 174.3v2M160.6 158.6v5.5M152.1 158.7v4.5M131.1 158.4v3M158.7 179v4.9M151.8 152.6v3.3M235.3 164.5v6.5M103.6 172.9v6.7M107.6 169.6v6M182.3 177.7v3.4M216 166.5v4.1M245 154.2v6.9M236.8 158.8v4.4M124.5 153.6v3.5M131.5 171.7v5.6M135.3 168.9v6.7M237.5 163.4v6.9M87.9 171v6.8M123.2 169.3v4.1M99.1 174.7v2.8M164.9 151.3v3.9M205.5 152.4v2.9M125.5 171.1v5M231.1 178.3v5.8M166.8 174.2v4.3M225.8 158v3.2M95 172v4.8M157.7 172v5.2M155.6 147.7v5.7M119.7 162.5v4.6M227.3 149.9v3.6M182.2 154.4v5.6M196.2 180.4v2.6M97.1 175.2v4.9M222.8 170.8v6.9M201.5 162.1v6.2M209.9 174.2v3.9M131.3 151.7v3.8M114.4 166.9v2.5M205.9 166.5v2.4M168.6 170.8v2.2M155.9 152.7v6.6M226.9 157.1v5M145.6 153.4v2.7M192.2 156.9v2.6M194.5 164.7v4.6M192 169.1v5.2M105.8 169.4v5.4M158.3 169.2v6.4M105.2 164.6v4.9M164.6 146.3v5.7M138.8 151.7v2.7M138.4 161.8v5.2M139.9 174.9v3.5M144.8 165.4v4.1M193.8 163.7v2.8M156.7 177.5v5.8M102.3 178.8v6.4M186.2 168v2.7M219.2 163v6.2M230.4 158.4v6.2M186.3 155.8v3M199.8 162.7v6.7M104.1 172.3v5.1M191.6 169.9v6.1M174.5 143.5v4.8M111.3 166.1v4.9M129.1 156.7v5M245.1 166v2.4M217.9 155.2v5.9M97.3 178.3v4.7M118.7 155.7v6.2M96.6 178.6v3.4M128.4 156.4v6.7M170.2 164.1v4.7M150.1 170.8v2.8M101.8 172.2v4.4M258 170.6v3.5M228 168.1v4.9M129.8 156.6v2.3M138.3 169.3v5.1M217.8 170.4v4.9M97.9 167.3v6.7M107.5 174v6.3M117 170.3v5.8M244.2 167v3.3M189.8 162.3v6.9M237.4 153.3v5.2M94.4 171.6v6.3M239.7 150.7v5.5M223.3 167.7v6.3M111.6 175.2v2.1M176.8 147.2v3.7M128.4 147v4.1M208 164.1v5.7M179.8 156.4v3M203.3 155.3v2.3M177.7 168.9v3.2M101.6 177.1v3.9M200.3 152.6v6.1M143.1 128.6v1.9M181.8 131.2v2.4M138.9 139.2v3.6M175.1 136.1v3.1M133.1 130v3.3M211.4 135.3v2.8M178.8 138.5v2.6M181.9 135.5v3.3M155.4 134.9v3.9M148.7 132.2v3.6M191 140.3v2.3M148.5 129.5v2.1M133.7 129.6v3.4M217.9 135v3.1M133.1 138v3.9M128.5 187.9v4.8M125.9 188.6v5.4M111.5 185.2v5.9M122.8 183.3v3.1M121 181.9v4.3M125.4 182.5v5.8M126 183.1v3.5M109.4 183.5v4.2M106.2 182.9v5M117.1 183.6v4.5M111.7 187.5v5.9M107.5 188.4v4.7M125.5 185.8v5.3M127.7 187.8v5.7M126.3 183.1v4M116.3 181.3v6M125.5 186.2v4.2M104.5 188v2.2M120.7 184v5.5M114 183.6v4.7M127.4 181v4.6M127 186.4v5.3M129.2 185.2v3.8M112 188.4v2.4M125.7 189.2v3.8" stroke="#4ce200" stroke-width=".9"/>
<path d="M117.7 170.7v2.4M185.6 175.5v2.6M125.9 170.4v3.3M153.4 170.8v1.6M141.1 174.9v3.4M100.3 177.5v3M100 171.4v2.4M124 179v2.2M99.3 172.9v2.2M199.3 168.5v3.4M176.7 178.1v3.8M190.6 175.1v1.9M194.9 171.5v2.8M159 172v3.8M136.6 168.3v2.9M138.1 176.4v1.6M149.6 178.1v3.8M124.6 179.8v3.2M127.8 178.9v3.5M155.5 179.3v2.8M173 175v3.8M137.2 168.4v3.6M143.2 171.5v3.2M179.7 171.5v3.5M145.7 180.4v3.9M157.1 179.9v2.4M163.2 178.7v3.3M103.6 178.6v3.6M126.9 169.9v3.7M189 170.9v3.3M176.5 168.6v3.1M108.3 177v2.9M176 169.8v2M121.7 169.6v3.7M97.8 169.1v1.7M113 178.5v2.7M152 171v2.9M226.6 169.7v3.7M117.6 179.4v3.4M134.9 172.7v3.7M137 172.1v3.1M194.9 179.3v4M212.8 176.6v3.5M100.2 171.8v1.7M154.4 178.4v2M185.9 180.5v1.6M217.6 169.9v1.9M216.7 177.1v2.4M207.5 173.5v2.5M99.3 178.2v2.8M109.6 170.4v3.4M105 179v2.7M128.4 167.3v2M207.1 168.3v3.5M224.9 177.9v3.4M146.1 170v3.9M186.7 176.9v2.7M178.8 176v2.6M183.7 169.1v2.7M143.6 175.3v2.4M171.4 180.6v1.6M214.4 169.7v2.3M107.7 172.3v2.8M194.3 172.8v2.1M207.1 175.1v2.2M183.8 169.3v3.5M200.7 169.8v2.9M216.8 174.3v2.5M123.3 176.6v3.2M226 175.6v3.8M196.6 177.7v4M128.8 167.5v4M213.8 168.2v1.8M191.3 178.2v3.9M161.9 168.3v3.3M137.1 171.4v2M153.6 177.9v2.2M218.1 175.1v2.4M219 171.9v2.6M147.2 169.3v2M212 170.6v2.7M150.8 177.9v1.7M230.2 174.2v2.3M140.6 171.9v2.5M111.1 169.6v2.6M149.9 170.1v1.9M142.5 168.9v2.6M215.5 172.9v3.2M205.9 178.2v2.4M125.8 169.9v2.3M115.5 175.2v2M115 176.4v3.9M120.9 172.1v3.7M126.5 168.8v3.7M217.8 175.1v3.6M159.4 174.1v2.4M140.1 171.8v3.4M136.9 168.4v1.7M118.6 176.9v3.6M206.5 180.5v3.9M176.4 176.2v2.9M96.1 179.8v1.8M162 173v2.5M225.8 172.5v2.4M127.2 176.7v2.8M200.7 170.3v3.2M170.8 172.8v2.7M208.6 168.4v4M95.6 180.5v3.9M186.4 168.9v2.6M103.5 167.8v1.8M161.6 173.8v3.5M190 170.2v3.9M110.7 168.2v2.9M170.8 176.1v2.6M152.3 179.8v2.4M168.3 169.5v2.2M171.5 167.3v1.9M181 172.1v3.9M153.9 179.6v3.8M166.5 172.7v3.2M191.8 175.7v2.4M170.1 172.8v2.8M101.5 169.2v3.7M94.5 171.8v3.7M218.3 180.6v2.8M200.2 173.6v3.3M173 173.2v2.9M140.8 169.1v2.8M152 170.8v1.5M95.5 180.4v3M189.4 179.8v3.4M127.6 173.4v3.8M227.3 174.4v2.7M208.6 178.5v1.8M146.1 168.5v3.4M140.7 178.9v3.8M214 167.2v3.1M143.4 173v3.3M147.7 174.4v3.6M115.9 169.2v2M168.2 179.9v3.9M143.1 175.5v2.4M178.5 167.6v3.6M104.5 179v2.9M220.6 169.7v2.7M105.7 179v3.7M141.5 175.2v2.4M135.9 171.4v2M209.2 178.7v2.7M190.8 177.6v3M117.5 169.5v3.2M123.1 173.3v3.5M123.9 178.8v3.9M206 167.9v1.8M139.9 179.5v2.3M123.4 167.8v2.9M153 178v2.2M204.5 176v3.2M99.5 170.9v2.6M139 170.6v3.3M184.1 171.1v2.6M210.3 173.6v2.1M201.9 169.7v3.1M143.7 168.5v3.4M202.4 169.3v2.3M165.4 172.1v2.9M144.1 178.2v2.1M196.2 176.3v2.3M117.3 169.6v3.3M116.3 173.7v3.7M93.6 167.6v3.8M176.2 169.3v3.3M166.8 170.3v3.3M172.7 175.6v2.2M177.4 174.6v4M207.5 174.3v2.9M158.6 170.1v1.6M191.4 168.5v2.3M145 168.6v3.7M110.5 168.3v3.8M145.3 170.5v1.7M225.5 180.7v1.8M192.8 173.4v1.9M187 172.6v1.8M215.9 170.2v2.6M142.3 168.7v2M132.9 172.7v1.8M110.7 175.9v3.3M144.9 176.3v1.8M217.7 168.1v1.7M201.4 169.8v1.9M119.4 170.2v3M179.8 173.7v3.9M226.8 176.6v2.2M149.1 172v4M126 180.6v2.2M136.7 178.2v1.7M177.3 178.3v3.9M96.9 176.9v3.7M229.4 177v2.4M122 169.5v2.3M161 175.7v1.7M191.5 180.1v3.8M121 168.2v1.7M151 173.3v3.5M170.1 180.3v2.9M104.3 176.5v3.6M131 169.5v2.7M125.8 179.4v3.1M140.4 174.5v4M138.5 178.8v1.5M222.5 177.4v3.1M201.6 172.5v3.6M221.3 178.2v1.8M210.8 170.8v1.7M200.3 179.4v1.9M94.7 176.8v2.7M167.7 167v1.9M94.4 174.4v3.8M104.3 174.4v2.8M109.8 171.3v2.9M145.1 173.6v2.3M116.1 180.4v2.7M136.4 179.3v3.2M149.6 175v3.9M106 174.7v3.1M139.8 174.3v3.5M158.1 169.9v2.9M107 178v3.1M169.8 158.4v2.9M133 160.1v1.7M181 160.2v2.1M220.6 158.1v2.8M121.4 156v2.7M129.6 154.5v1.8M179 158.2v2.7M166.3 160.4v1.9M129.5 160.2v2M133.1 158v2.2M195.4 156.1v1.9M151.1 155v1.6M201.9 156.3v2.9M189.2 160.5v2.1M192.6 160.3v1.9M133.6 157.2v1.6M190.4 156.1v2.9M214.9 157v2.2M190 155.7v2.2M210.5 157.6v1.6M129.2 159.3v2.4M212.6 156.2v2M135.3 156.6v2.1M211 154.9v1.6M141.4 160.6v2.5M163.9 160.6v2.6M204.1 156.3v2M142.3 158.4v3M191.4 157.7v1.9M209.6 155.7v1.9M120.2 159.8v2.6M201.4 158.4v2.7M137.3 157.8v1.8M189.6 157.6v1.7M163.8 158.5v1.6M213 155.6v1.7M134.6 159.8v1.6M217.4 155.3v2.8M125.2 154.6v2.8M152.4 159.6v1.6M220.9 155.8v1.8M187.6 157.6v1.6M210.6 156.4v2.4M128.2 159v2.4M202.4 155.3v2.1M225.4 156.5v1.7M193.8 158.1v3M196.5 159.3v2.1M198.7 158.3v1.8M152.3 155.3v2.4M173.6 158v2.7M122.5 157.1v2M206.8 155.4v2.4M225.5 155.4v2M215.6 158.8v1.9M186.5 157v3M217.4 155.8v1.8M170.5 154.7v2.8M119.2 160.2v2.5M220.1 157.7v1.8M166.1 159.7v2M162.3 159.6v2.7M126.9 154.4v2.9M197.9 158.9v2.3M210.2 160v2.2M131.6 159.2v1.7M143.1 154.6v1.6M179.1 160.4v2.5M169.5 156.7v2.8M123.9 157.7v2.7M213.6 159v2.4M122.4 158.1v2.6M150.8 155.4v2.3M165.9 155.7v2M205.5 158.9v2M136.2 156.5v1.8M157.1 159.1v1.5M214.7 158.6v2.5M213.8 160.6v2.2M145.4 154.5v1.9M117.9 158.5v1.9M199.9 157.9v2M149.2 160.1v1.6M128.4 157.1v2.9M116.5 157.8v1.6M165.8 159v1.8M215.4 155.7v1.9M169.5 159.3v2.1M123.8 160v2.9M165.9 157.2v2.9M209.7 154.7v2.7M192.2 158.8v1.8M144.1 159.1v1.5M179.4 159.2v2.5M131.7 160.6v2.2M212.1 155v2.2M143.9 155.6v1.9M148.9 154.5v2.2M206.2 160.3v2.5M134.1 156.1v3M215 157v1.9M129 158.2v1.8M120.8 160.3v1.8M199.4 156.9v2.7M203.9 157.9v3M152.3 159.3v2.1M140.9 155.1v2.8M124 157.7v2.6M196 156.4v1.5M154.8 155.1v2.9M140 157.7v2.8M162.4 155.4v1.8M119.6 156.3v1.6M192.4 157.1v1.9M194.7 157.9v2.7M165.1 160v2.5M206.4 157.9v1.7M190 160.4v1.7M158.4 158.6v2.7M183.1 157.2v2M191.4 155.1v2.5M168.6 155.3v1.7M210.4 157.4v2.4M217.2 155.2v2.3M213 159.2v1.6M183.5 157.2v2.8M184.5 160.3v2.6M120.6 154.6v2.4M210.1 156v1.6M221.5 154.4v2.4M155.1 158.7v3M133.1 155.1v1.5M140.3 154.5v1.8M176.4 154.5v2.6M212.6 154.5v2.8M177.7 154.9v2.1M180.7 158.2v2.5M186.1 160.1v2.2M207.7 159.1v2.7M209.1 154.9v1.7" stroke="#d8e000" stroke-width="1"/>
<path d="M148.8 174.2v1.8M197.3 173.3v2.1M208.5 167v3.1M187.3 173.6v1.6M135.6 166v2.6M136.1 168.7v2.2M179.2 164.1v2.6M192.2 171.5v3.4M121.7 168.8v2.2M198.2 174.1v2.4M195.4 170.2v2.5M120.2 170.2v1.6M142.9 172v2M202.2 174v2.7M128.2 171.2v1.6M152.4 174.1v2.4M213.1 170.1v1.6M212.3 164.7v1.7M206.4 168.4v2.7M211.6 170.2v2.8M181 171.3v2.9M144.3 173.4v2.7M163 169.4v1.6M197.2 171.9v1.8M151.2 169.1v2.8M206.6 169.1v2.2M194.2 164.1v3.2M115.2 171.2v2.9M139.3 174v1.8M110.1 169.9v3.1M160.7 172.5v2M178.1 172.1v2.3M175.1 168.9v3.4M175.3 167v2.2M124.5 172.9v3.4M170.1 168.4v3.5M206.8 172.3v3.3M173.2 171.2v2.7M164.6 173.1v2.9M197.9 172.9v1.7M176 165.5v3.3M155.4 169.9v1.7M180.5 165.6v3.3M177.2 174.2v3.4M156.5 171.2v3.1M185.9 171.3v2.7M207.5 168.7v3.4M132.2 164.6v3.4M188.9 172.9v1.7M154.7 173.8v2.1M128.5 165v3M145.3 172.2v2.8M152.7 169.2v2.6M154.3 166.5v3.4M113.7 166.6v2.8M183.8 172.6v1.8M168.7 173.1v1.8M131.6 169.2v2.7M187.2 170.3v1.7M142.1 165.7v1.7M133.8 164.7v1.9M173.7 166.4v1.9M120.1 173.2v3.1M212.2 169.7v1.6M115.8 166.9v1.7M131.1 164.1v1.8M163.9 168.9v1.7M185.4 167.8v2M183.5 168.1v2.6M172.8 165v2.8M184.4 172.3v2.6M171.5 164.7v2.1M114.5 169.4v2.8M213.1 171.5v3M143.3 168.8v2.1M210.1 166.5v1.7M173.6 165.8v3M186.1 165v2.8M187.1 166.3v1.9M194.8 170.4v1.9M206.5 166v1.6M122.2 168v1.6M161.1 164.6v2.1M119 164.5v2.8M196.8 168.2v3.3M161.1 165.4v1.6M111 171.2v2.1M178 171.6v3.3M200.3 174.2v3.5M152.1 164.7v2.1M120.9 170.2v2.2M202.9 172.5v3.1M167.6 166.6v2.5M144.1 166.3v2.2M130 171.5v2.7M113.8 173.9v2.8M171 171.9v3.1M110.5 172.3v3M151.9 167.8v3M201 169.9v2.5M141.2 167.1v1.9M130.1 171v1.5M181.7 172.2v2.5M209.7 172.3v2.9M160.3 165.9v3.2M145.3 172.5v1.7M211.4 164.1v2M199.5 171.4v2.1M174.5 165.8v2.6M153.2 171.8v3.4M120.3 167.6v1.8M188.5 165.7v1.6M113.1 173.9v2.5M133.1 167.3v2M189.3 164.6v2.5M197.7 168.4v2.2M149.9 170.3v1.6M177.9 165.9v1.9M131 168v3.3M143 165.5v1.8M204.6 170.4v2.3M131.7 166.6v3M147 172.6v2M123.7 164.1v3.2M117.1 165.6v2M162.7 164.4v1.9M140.5 166v3.2M129 169.4v2M179.9 167.4v2.8M122.6 172.2v2.3M135.4 173v3.1M160.7 173.3v3.3M171.2 168v3M189.4 172.3v2.6M114 172.8v3.1M162.6 172.1v2.7M148 168.6v2.4M176.5 164.8v3.3M212.6 167.1v1.7M144.1 174.1v2.4M122.2 166.7v1.7M129.9 173.4v1.9M165.3 172.1v2.1M136.2 170.3v2.6M198.2 167.5v2.2M131.6 171.7v1.6M130.9 164.5v3.5M141.4 169.5v3.3M212.4 164.1v2.8M113.7 173.8v1.7M185 158.6v1.9M191.8 157.5v2.5M121.1 156.6v1.7M156.4 157v2M159.9 156.8v1.5M157.6 157.6v2.5M166.7 158.4v2M141.2 158.1v2.4M124.8 157.4v1.7M171.7 158.9v1.6M158.2 159.4v2.1M126.6 158.1v2.3M140.6 158.4v1.5M190.6 156.6v1.8M183 159.1v1.7M165.8 159.4v1.9M189.3 159.2v2.1M179.6 159v1.9M182.8 158.9v2.2M156 156.1v2.3M162.6 156.6v2.4M182.6 159.6v2.1M176.3 157.3v1.9M136.3 156.4v1.7M135.4 159.6v2.3M131.6 158v2.2M185.1 157.7v1.6M170.7 158.7v2.5M168.2 159.6v1.9M154.6 158.3v1.6M158.7 159.2v1.9M191.9 159.1v1.9M142.6 157v2.2M189.4 159.4v1.7M128.1 158.3v1.9M192.7 156.7v1.9M126.9 158.7v2.3M144.9 156.7v2M176.6 158.3v1.7M174.9 159.4v2.5" stroke="#ff5a00" stroke-width="1"/>
<path d="M91.1 179.1h1.1v3.8h-1.1zM92.1 179.9h1.1v3.1h-1.1zM93.1 178.5h1.1v4.1h-1.1zM94.1 176.6h1.1v6.1h-1.1zM95.1 182.3h1.1v1h-1.1zM96.1 175.2h1.1v7.3h-1.1zM97.1 175.8h1.1v7.4h-1.1zM98.1 179.1h1.1v4.1h-1.1zM99.1 175.6h1.1v7h-1.1zM100.1 176.9h1.1v6h-1.1zM101.1 178.1h1.1v4.1h-1.1zM102.1 172.6h1.1v10.1h-1.1zM103.1 176.5h1.1v6.5h-1.1zM104.1 172.1h1.1v10.7h-1.1zM105.1 176.5h1.1v6.4h-1.1zM106.1 177.8h1.1v5.3h-1.1zM107.1 175.4h1.1v7.1h-1.1zM108.1 175.5h1.1v7h-1.1zM109.1 176h1.1v6.2h-1.1zM110.1 180.6h1.1v2h-1.1zM111.1 172.5h1.1v10.2h-1.1zM112.1 172.9h1.1v10.2h-1.1zM113.1 172.9h1.1v9.8h-1.1zM114.1 174h1.1v9.1h-1.1zM115.1 179.2h1.1v3.8h-1.1zM116.1 172.7h1.1v9.8h-1.1zM117.1 174.2h1.1v8.8h-1.1zM118.1 175.1h1.1v7.3h-1.1zM119.1 170.7h1.1v11.9h-1.1zM120.1 176.6h1.1v6h-1.1zM121.1 176.5h1.1v5.8h-1.1zM122.1 170.1h1.1v12.4h-1.1zM123.1 177h1.1v5.7h-1.1zM124.1 174.9h1.1v7.3h-1.1zM125.1 170.8h1.1v11.9h-1.1zM126.1 168.5h1.1v14.7h-1.1zM127.1 171.4h1.1v11.4h-1.1zM128.1 166.7h1.1v16.5h-1.1zM129.1 171.2h1.1v11.7h-1.1zM130.1 175.4h1.1v7.2h-1.1zM131.1 175.4h1.1v7h-1.1zM132.1 173.9h1.1v9h-1.1zM133.1 172.2h1.1v10.1h-1.1zM134.1 173.8h1.1v9.3h-1.1zM135.1 173.8h1.1v8.6h-1.1zM136.1 168.4h1.1v14.5h-1.1zM137.1 173.9h1.1v8.3h-1.1zM138.1 175.9h1.1v7h-1.1zM139.1 169.4h1.1v12.8h-1.1zM140.1 171.2h1.1v11.1h-1.1zM141.1 174.5h1.1v8.3h-1.1zM142.1 171.4h1.1v11.4h-1.1zM143.1 169.9h1.1v12.6h-1.1zM144.1 172.7h1.1v9.6h-1.1zM145.1 173.3h1.1v9.6h-1.1zM146.1 171.1h1.1v11.5h-1.1zM147.1 173.2h1.1v9.1h-1.1zM148.1 175h1.1v7.4h-1.1zM149.1 170.8h1.1v11.8h-1.1zM150.1 174.5h1.1v8.3h-1.1zM151.1 172.5h1.1v10.7h-1.1zM152.1 173.6h1.1v9.1h-1.1zM153.1 170.1h1.1v12.9h-1.1zM154.1 173.9h1.1v9.3h-1.1zM155.1 173.1h1.1v9.1h-1.1zM156.1 171.4h1.1v10.8h-1.1zM157.1 170.6h1.1v12.5h-1.1zM158.1 173.8h1.1v8.7h-1.1zM159.1 171.7h1.1v11.1h-1.1zM160.1 172.8h1.1v9.5h-1.1zM161.1 173.8h1.1v9.2h-1.1zM162.1 171.6h1.1v10.7h-1.1zM163.1 169.6h1.1v13.1h-1.1zM164.1 172.9h1.1v9.4h-1.1zM165.1 170.5h1.1v12h-1.1zM166.1 171.9h1.1v11.2h-1.1zM167.1 171.8h1.1v11h-1.1zM168.1 171.4h1.1v11.3h-1.1zM169.1 169.8h1.1v12.9h-1.1zM170.1 174.3h1.1v7.9h-1.1zM171.1 174.7h1.1v8.1h-1.1zM172.1 173.4h1.1v9.8h-1.1zM173.1 170.8h1.1v12h-1.1zM174.1 177.5h1.1v5h-1.1zM175.1 172.1h1.1v10.9h-1.1zM176.1 169.6h1.1v12.8h-1.1zM177.1 171h1.1v11.8h-1.1zM178.1 177.2h1.1v5.3h-1.1zM179.1 171.3h1.1v11.7h-1.1zM180.1 177.1h1.1v5.4h-1.1zM181.1 173h1.1v9.3h-1.1zM182.1 173.5h1.1v9.7h-1.1zM183.1 172h1.1v10.6h-1.1zM184.1 168.5h1.1v14.4h-1.1zM185.1 171.4h1.1v11h-1.1zM186.1 172.4h1.1v10.3h-1.1zM187.1 170.8h1.1v11.7h-1.1zM188.1 171.7h1.1v11h-1.1zM189.1 177.8h1.1v5.2h-1.1zM190.1 172h1.1v10.9h-1.1zM191.1 172.5h1.1v10h-1.1zM192.1 173.8h1.1v8.9h-1.1zM193.1 172.6h1.1v9.6h-1.1zM194.1 171.8h1.1v11.4h-1.1zM195.1 171.3h1.1v11.6h-1.1zM196.1 171.8h1.1v11h-1.1zM197.1 175.2h1.1v7.6h-1.1zM198.1 173.8h1.1v8.8h-1.1zM199.1 174.1h1.1v8.9h-1.1zM200.1 172.3h1.1v10.8h-1.1zM201.1 171.8h1.1v11.3h-1.1zM202.1 178.3h1.1v4.2h-1.1zM203.1 174.8h1.1v7.4h-1.1zM204.1 171.5h1.1v11.7h-1.1zM205.1 177h1.1v5.3h-1.1zM206.1 178.5h1.1v4.4h-1.1zM207.1 176.9h1.1v5.5h-1.1zM208.1 176.6h1.1v6.5h-1.1zM209.1 178.1h1.1v4.2h-1.1zM210.1 176.5h1.1v6.4h-1.1zM211.1 178.3h1.1v4.3h-1.1zM212.1 173h1.1v9.7h-1.1zM213.1 175.9h1.1v6.6h-1.1zM214.1 177.8h1.1v5h-1.1zM215.1 181.1h1.1v1.3h-1.1zM216.1 181.1h1.1v1.6h-1.1zM218.1 177h1.1v5.7h-1.1zM219.1 179.5h1.1v3.4h-1.1zM221.1 176.8h1.1v6.1h-1.1zM222.1 180.4h1.1v2.4h-1.1zM223.1 178.7h1.1v3.6h-1.1zM224.1 181.4h1.1v1.5h-1.1zM225.1 180h1.1v2.8h-1.1zM226.1 177.3h1.1v5.4h-1.1zM227.1 181h1.1v1.3h-1.1zM230.1 182.6h1.1v1h-1.1zM232.1 183.2h1.1v1h-1.1zM233.1 180.4h1.1v2.6h-1.1z" fill="#ff1400"/>
<path d="M91.6 177.9v1.6M92.6 178.7v1.6M93.6 177.3v1.6M94.6 175.4v1.6M95.6 181.1v1.6M96.6 174v1.6M97.6 174.6v1.6M98.6 177.9v1.6M99.6 174.4v1.6M99.6 177.7v2.1M100.6 175.7v1.6M101.6 176.9v1.6M102.6 171.4v1.6M103.6 175.3v1.6M104.6 170.9v1.6M104.6 175.2v1.9M105.6 175.3v1.6M106.6 176.6v1.6M107.6 174.2v1.6M108.6 174.3v1.6M109.6 174.8v1.6M109.6 176.6v1.4M110.6 179.4v1.6M111.6 171.3v1.6M111.6 177.2v1.2M112.6 171.7v1.6M113.6 171.7v1.6M113.6 174.9v1.7M114.6 172.8v1.6M115.6 178v1.6M116.6 171.5v1.6M117.6 173v1.6M117.6 178.2v2.2M118.6 173.9v1.6M119.6 169.5v1.6M120.6 175.4v1.6M121.6 175.3v1.6M122.6 168.9v1.6M123.6 175.8v1.6M124.6 173.7v1.6M125.6 169.6v1.6M126.6 167.3v1.6M127.6 170.2v1.6M128.6 165.5v1.6M129.6 170v1.6M130.6 174.2v1.6M131.6 174.2v1.6M132.6 172.7v1.6M133.6 171v1.6M134.6 172.6v1.6M135.6 172.6v1.6M136.6 167.2v1.6M137.6 172.7v1.6M138.6 174.7v1.6M139.6 168.2v1.6M140.6 170v1.6M141.6 173.3v1.6M141.6 176v2.4M142.6 170.2v1.6M143.6 168.7v1.6M144.6 171.5v1.6M145.6 172.1v1.6M145.6 177.6v1.4M146.6 169.9v1.6M147.6 172v1.6M148.6 173.8v1.6M149.6 169.6v1.6M149.6 171.9v1.9M150.6 173.3v1.6M151.6 171.3v1.6M152.6 172.4v1.6M153.6 168.9v1.6M154.6 172.7v1.6M155.6 171.9v1.6M156.6 170.2v1.6M156.6 173.8v2M157.6 169.4v1.6M158.6 172.6v1.6M159.6 170.5v1.6M160.6 171.6v1.6M160.6 173.7v1.6M161.6 172.6v1.6M162.6 170.4v1.6M163.6 168.4v1.6M164.6 171.7v1.6M164.6 174.3v2.5M165.6 169.3v1.6M165.6 175.5v1.5M166.6 170.7v1.6M166.6 172.6v1M167.6 170.6v1.6M167.6 173.2v1.7M168.6 170.2v1.6M168.6 177.6v2M169.6 168.6v1.6M170.6 173.1v1.6M170.6 176.7v2.3M171.6 173.5v1.6M172.6 172.2v1.6M173.6 169.6v1.6M174.6 176.3v1.6M175.6 170.9v1.6M176.6 168.4v1.6M177.6 169.8v1.6M178.6 176v1.6M179.6 170.1v1.6M179.6 173.8v1.1M180.6 175.9v1.6M180.6 178.6v1.8M181.6 171.8v1.6M182.6 172.3v1.6M183.6 170.8v1.6M184.6 167.3v1.6M185.6 170.2v1.6M186.6 171.2v1.6M187.6 169.6v1.6M188.6 170.5v1.6M189.6 176.6v1.6M190.6 170.8v1.6M191.6 171.3v1.6M192.6 172.6v1.6M193.6 171.4v1.6M194.6 170.6v1.6M195.6 170.1v1.6M196.6 170.6v1.6M197.6 174v1.6M198.6 172.6v1.6M199.6 172.9v1.6M200.6 171.1v1.6M200.6 177.6v1.2M201.6 170.6v1.6M202.6 177.1v1.6M203.6 173.6v1.6M204.6 170.3v1.6M205.6 175.8v1.6M206.6 177.3v1.6M207.6 175.7v1.6M208.6 175.4v1.6M209.6 176.9v1.6M210.6 175.3v1.6M211.6 177.1v1.6M212.6 171.8v1.6M212.6 176.1v1.9M213.6 174.7v1.6M214.6 176.6v1.6M215.6 179.9v1.6M216.6 179.9v1.6M218.6 175.8v1.6M219.6 178.3v1.6M221.6 175.6v1.6M222.6 179.2v1.6M223.6 177.5v1.6M224.6 180.2v1.6M225.6 178.8v1.6M226.6 176.1v1.6M227.6 179.8v1.6M230.6 181.4v1.6M232.6 182v1.6M233.6 179.2v1.6" stroke="#d8e000" stroke-width="1.1"/>
<path d="M103.6 178.3v1.9M112.6 177.7v2.4M116.6 174.8v1.9M119.6 174.3v1.9M121.6 178.8v2M122.6 171.7v1.8M128.6 169.1v2.2M129.6 175.5v2.1M134.6 174.4v1.8M135.6 177.3v1.4M138.6 179.2v2.3M139.6 172.9v1.9M140.6 176.3v2.2M148.6 176.9v1.3M151.6 174.7v2.3M157.6 174.8v1.6M171.6 178.8v1.7M173.6 175.2v1.4M186.6 173.7v1.5M188.6 174.5v1.1M193.6 177.2v1.7M196.6 177.4v1.9M201.6 175.9v1.7M203.6 176.6v1.1M218.6 177.7v2.2" stroke="#4ce200" stroke-width="1.1"/>
<path d="M48.8 203.3H68.9" stroke="#1e8400" stroke-width="1.2" stroke-dasharray="1.5 1.2"/>
<path d="M66.8 203.3H74.2" stroke="#4ce200" stroke-width="2.2"/>
<path d="M73.1 203.3V200.9h1.1V201.1h1.1V200.9h1.1V200.8h1.1V200.2h1.1V200.2h1.1V199.6h1.1V199.5h1.1V200h1.1V199.8h1.1V200h1.1V199.4h1.1V199.9h1.1V199.9h1.1V199.7h1.1V199.6h1.1V199.4h1.1V199.7h1.1V199.9h1.1V199.9h1.1V199.6h1.1V199.7h1.1V199.5h1.1V199.3h1.1V199.3h1.1V199.7h1.1V199.4h1.1V199.6h1.1V199.4h1.1V199.3h1.1V199.6h1.1V199.5h1.1V199.3h1.1V199.2h1.1V199.5h1.1V199.1h1.1V199.2h1.1V199.2h1.1V198.7h1.1V198.9h1.1V198.4h1.1V198.5h1.1V197.9h1.1V197.7h1.1V197.8h1.1V198.3h1.1V197.9h1.1V197.9h1.1V197.8h1.1V198.1h1.1V197.8h1.1V197.8h1.1V198.1h1.1V198.1h1.1V197.8h1.1V198h1.1V198h1.1V198h1.1V198.1h1.1V198.2h1.1V198.2h1.1V198.1h1.1V197.9h1.1V197.6h1.1V197.7h1.1V198h1.1V197.7h1.1V198h1.1V197.9h1.1V198.1h1.1V197.9h1.1V198h1.1V198.2h1.1V198h1.1V197.8h1.1V197.8h1.1V198.1h1.1V197.7h1.1V197.9h1.1V198h1.1V198.1h1.1V197.6h1.1V198h1.1V197.8h1.1V198h1.1V198h1.1V198.1h1.1V197.7h1.1V197.8h1.1V197.7h1.1V198.1h1.1V198.1h1.1V197.7h1.1V197.8h1.1V197.5h1.1V197.7h1.1V197.6h1.1V197.5h1.1V197.9h1.1V197.6h1.1V197.6h1.1V197.7h1.1V198h1.1V198.2h1.1V198h1.1V198.2h1.1V197.7h1.1V198h1.1V197.9h1.1V197.8h1.1V198.3h1.1V198.2h1.1V198.3h1.1V198.1h1.1V198.2h1.1V198h1.1V198.2h1.1V198.1h1.1V198.5h1.1V198.4h1.1V198.7h1.1V198.5h1.1V198.3h1.1V198.3h1.1V198.6h1.1V198.6h1.1V198.5h1.1V198.3h1.1V198.6h1.1V198.4h1.1V198.7h1.1V198.6h1.1V198.4h1.1V198.8h1.1V198.6h1.1V198.6h1.1V198.5h1.1V198.7h1.1V198.8h1.1V198.5h1.1V198.6h1.1V198.6h1.1V198.7h1.1V199h1.1V199.1h1.1V198.8h1.1V199.1h1.1V198.7h1.1V199.2h1.1V199h1.1V199.2h1.1V198.7h1.1V199.2h1.1V207.4h-1.1V207.9h-1.1V207.4h-1.1V207.6h-1.1V207.4h-1.1V207.9h-1.1V207.5h-1.1V207.8h-1.1V207.5h-1.1V207.6h-1.1V207.9h-1.1V208h-1.1V208h-1.1V208.1h-1.1V207.8h-1.1V207.9h-1.1V208.1h-1.1V208h-1.1V208h-1.1V207.8h-1.1V208.2h-1.1V208h-1.1V207.9h-1.1V208.2h-1.1V208h-1.1V208.3h-1.1V208.1h-1.1V208h-1.1V208h-1.1V208.3h-1.1V208.3h-1.1V208.1h-1.1V207.9h-1.1V208.2h-1.1V208.1h-1.1V208.5h-1.1V208.4h-1.1V208.6h-1.1V208.4h-1.1V208.5h-1.1V208.3h-1.1V208.4h-1.1V208.3h-1.1V208.8h-1.1V208.7h-1.1V208.6h-1.1V208.9h-1.1V208.4h-1.1V208.6h-1.1V208.4h-1.1V208.6h-1.1V208.9h-1.1V209h-1.1V209h-1.1V208.7h-1.1V209.1h-1.1V209h-1.1V208.9h-1.1V209.1h-1.1V208.8h-1.1V208.9h-1.1V208.5h-1.1V208.5h-1.1V208.9h-1.1V208.8h-1.1V208.9h-1.1V208.5h-1.1V208.6h-1.1V208.6h-1.1V208.8h-1.1V208.6h-1.1V209h-1.1V208.5h-1.1V208.6h-1.1V208.7h-1.1V208.9h-1.1V208.5h-1.1V208.8h-1.1V208.8h-1.1V208.6h-1.1V208.4h-1.1V208.6h-1.1V208.7h-1.1V208.5h-1.1V208.7h-1.1V208.6h-1.1V208.9h-1.1V208.6h-1.1V208.9h-1.1V209h-1.1V208.7h-1.1V208.5h-1.1V208.4h-1.1V208.4h-1.1V208.5h-1.1V208.6h-1.1V208.6h-1.1V208.6h-1.1V208.8h-1.1V208.5h-1.1V208.5h-1.1V208.8h-1.1V208.8h-1.1V208.5h-1.1V208.8h-1.1V208.7h-1.1V208.7h-1.1V208.3h-1.1V208.8h-1.1V208.9h-1.1V208.7h-1.1V208.1h-1.1V208.2h-1.1V207.7h-1.1V207.9h-1.1V207.4h-1.1V207.4h-1.1V207.5h-1.1V207.1h-1.1V207.4h-1.1V207.3h-1.1V207.1h-1.1V207h-1.1V207.3h-1.1V207.2h-1.1V207h-1.1V207.2h-1.1V206.9h-1.1V207.3h-1.1V207.3h-1.1V207.1h-1.1V206.9h-1.1V207h-1.1V206.7h-1.1V206.7h-1.1V206.9h-1.1V207.2h-1.1V207h-1.1V206.9h-1.1V206.7h-1.1V206.7h-1.1V207.2h-1.1V206.6h-1.1V206.8h-1.1V206.6h-1.1V207.1h-1.1V207h-1.1V206.4h-1.1V206.4h-1.1V205.8h-1.1V205.7h-1.1V205.5h-1.1V205.7h-1.1z" fill="#4ce200"/>
<path d="M73.1 203.3V201.8h1.1V202h1.1V201.7h1.1V201.6h1.1V201h1.1V201.1h1.1V200.5h1.1V200.3h1.1V200.9h1.1V200.7h1.1V200.8h1.1V200.3h1.1V200.8h1.1V200.7h1.1V200.6h1.1V200.4h1.1V200.3h1.1V200.5h1.1V200.7h1.1V200.7h1.1V200.4h1.1V200.5h1.1V200.4h1.1V200.1h1.1V200.1h1.1V200.5h1.1V200.3h1.1V200.4h1.1V200.3h1.1V200.1h1.1V200.4h1.1V200.4h1.1V200.2h1.1V200h1.1V200.3h1.1V200h1.1V200.1h1.1V200h1.1V199.6h1.1V199.7h1.1V199.2h1.1V199.4h1.1V198.7h1.1V198.6h1.1V198.6h1.1V199.1h1.1V198.8h1.1V198.7h1.1V198.6h1.1V199h1.1V198.6h1.1V198.7h1.1V198.9h1.1V199h1.1V198.6h1.1V198.8h1.1V198.9h1.1V198.9h1.1V199h1.1V199.1h1.1V199.1h1.1V198.9h1.1V198.8h1.1V198.5h1.1V198.5h1.1V198.9h1.1V198.6h1.1V198.8h1.1V198.7h1.1V199h1.1V198.8h1.1V198.8h1.1V199h1.1V198.9h1.1V198.6h1.1V198.7h1.1V198.9h1.1V198.5h1.1V198.8h1.1V198.9h1.1V198.9h1.1V198.5h1.1V198.9h1.1V198.6h1.1V198.8h1.1V198.9h1.1V198.9h1.1V198.5h1.1V198.6h1.1V198.6h1.1V199h1.1V198.9h1.1V198.5h1.1V198.7h1.1V198.4h1.1V198.5h1.1V198.5h1.1V198.4h1.1V198.8h1.1V198.5h1.1V198.4h1.1V198.5h1.1V198.9h1.1V199h1.1V198.9h1.1V199h1.1V198.5h1.1V198.8h1.1V198.7h1.1V198.7h1.1V199.2h1.1V199h1.1V199.1h1.1V199h1.1V199.1h1.1V198.8h1.1V199h1.1V198.9h1.1V199.4h1.1V199.2h1.1V199.5h1.1V199.4h1.1V199.2h1.1V199.1h1.1V199.4h1.1V199.4h1.1V199.3h1.1V199.2h1.1V199.4h1.1V199.2h1.1V199.5h1.1V199.5h1.1V199.3h1.1V199.7h1.1V199.5h1.1V199.4h1.1V199.4h1.1V199.6h1.1V199.6h1.1V199.4h1.1V199.5h1.1V199.5h1.1V199.5h1.1V199.9h1.1V200h1.1V199.6h1.1V199.9h1.1V199.6h1.1V200.1h1.1V199.8h1.1V200h1.1V199.6h1.1V200.1h1.1V206.5h-1.1V207h-1.1V206.6h-1.1V206.8h-1.1V206.5h-1.1V207h-1.1V206.7h-1.1V207h-1.1V206.6h-1.1V206.7h-1.1V207.1h-1.1V207.1h-1.1V207.1h-1.1V207.2h-1.1V207h-1.1V207h-1.1V207.2h-1.1V207.2h-1.1V207.1h-1.1V206.9h-1.1V207.3h-1.1V207.1h-1.1V207.1h-1.1V207.4h-1.1V207.2h-1.1V207.4h-1.1V207.3h-1.1V207.2h-1.1V207.2h-1.1V207.5h-1.1V207.4h-1.1V207.2h-1.1V207.1h-1.1V207.4h-1.1V207.2h-1.1V207.7h-1.1V207.6h-1.1V207.8h-1.1V207.5h-1.1V207.6h-1.1V207.5h-1.1V207.6h-1.1V207.4h-1.1V207.9h-1.1V207.9h-1.1V207.8h-1.1V208.1h-1.1V207.6h-1.1V207.7h-1.1V207.6h-1.1V207.7h-1.1V208.1h-1.1V208.2h-1.1V208.1h-1.1V207.8h-1.1V208.2h-1.1V208.1h-1.1V208.1h-1.1V208.2h-1.1V207.9h-1.1V208.1h-1.1V207.7h-1.1V207.6h-1.1V208h-1.1V208h-1.1V208.1h-1.1V207.7h-1.1V207.7h-1.1V207.8h-1.1V208h-1.1V207.7h-1.1V208.1h-1.1V207.7h-1.1V207.7h-1.1V207.8h-1.1V208.1h-1.1V207.7h-1.1V207.9h-1.1V208h-1.1V207.7h-1.1V207.6h-1.1V207.8h-1.1V207.8h-1.1V207.6h-1.1V207.9h-1.1V207.8h-1.1V208h-1.1V207.7h-1.1V208.1h-1.1V208.1h-1.1V207.8h-1.1V207.7h-1.1V207.5h-1.1V207.5h-1.1V207.6h-1.1V207.7h-1.1V207.7h-1.1V207.8h-1.1V208h-1.1V207.6h-1.1V207.7h-1.1V207.9h-1.1V208h-1.1V207.6h-1.1V208h-1.1V207.9h-1.1V207.8h-1.1V207.5h-1.1V208h-1.1V208h-1.1V207.9h-1.1V207.2h-1.1V207.4h-1.1V206.9h-1.1V207h-1.1V206.6h-1.1V206.5h-1.1V206.6h-1.1V206.3h-1.1V206.6h-1.1V206.4h-1.1V206.2h-1.1V206.2h-1.1V206.5h-1.1V206.3h-1.1V206.2h-1.1V206.3h-1.1V206.1h-1.1V206.5h-1.1V206.5h-1.1V206.2h-1.1V206.1h-1.1V206.2h-1.1V205.9h-1.1V205.9h-1.1V206.1h-1.1V206.3h-1.1V206.2h-1.1V206h-1.1V205.9h-1.1V205.8h-1.1V206.3h-1.1V205.8h-1.1V205.9h-1.1V205.7h-1.1V206.3h-1.1V206.1h-1.1V205.5h-1.1V205.6h-1.1V205h-1.1V204.9h-1.1V204.6h-1.1V204.8h-1.1z" fill="#d8e000"/>
<path d="M73.1 203.3V202.4h1.1V202.6h1.1V202.4h1.1V202.3h1.1V201.7h1.1V201.7h1.1V201.1h1.1V201h1.1V201.5h1.1V201.3h1.1V201.5h1.1V200.9h1.1V201.4h1.1V201.4h1.1V201.2h1.1V201.1h1.1V200.9h1.1V201.2h1.1V201.4h1.1V201.4h1.1V201.1h1.1V201.2h1.1V201h1.1V200.8h1.1V200.8h1.1V201.2h1.1V200.9h1.1V201.1h1.1V200.9h1.1V200.8h1.1V201.1h1.1V201h1.1V200.8h1.1V200.7h1.1V201h1.1V200.6h1.1V200.7h1.1V200.7h1.1V200.2h1.1V200.4h1.1V199.9h1.1V200h1.1V199.4h1.1V199.2h1.1V199.3h1.1V199.8h1.1V199.4h1.1V199.4h1.1V199.3h1.1V199.6h1.1V199.3h1.1V199.3h1.1V199.6h1.1V199.6h1.1V199.3h1.1V199.5h1.1V199.5h1.1V199.5h1.1V199.6h1.1V199.7h1.1V199.7h1.1V199.6h1.1V199.4h1.1V199.1h1.1V199.2h1.1V199.5h1.1V199.2h1.1V199.5h1.1V199.4h1.1V199.6h1.1V199.4h1.1V199.5h1.1V199.7h1.1V199.5h1.1V199.3h1.1V199.3h1.1V199.6h1.1V199.2h1.1V199.4h1.1V199.5h1.1V199.6h1.1V199.1h1.1V199.5h1.1V199.3h1.1V199.5h1.1V199.5h1.1V199.6h1.1V199.2h1.1V199.3h1.1V199.2h1.1V199.6h1.1V199.6h1.1V199.2h1.1V199.3h1.1V199h1.1V199.2h1.1V199.1h1.1V199h1.1V199.4h1.1V199.1h1.1V199.1h1.1V199.2h1.1V199.5h1.1V199.7h1.1V199.5h1.1V199.7h1.1V199.2h1.1V199.5h1.1V199.4h1.1V199.3h1.1V199.8h1.1V199.7h1.1V199.8h1.1V199.6h1.1V199.7h1.1V199.5h1.1V199.7h1.1V199.6h1.1V200h1.1V199.9h1.1V200.2h1.1V200h1.1V199.8h1.1V199.8h1.1V200.1h1.1V200.1h1.1V200h1.1V199.8h1.1V200.1h1.1V199.9h1.1V200.2h1.1V200.1h1.1V199.9h1.1V200.3h1.1V200.1h1.1V200.1h1.1V200h1.1V200.2h1.1V200.3h1.1V200h1.1V200.1h1.1V200.1h1.1V200.2h1.1V200.5h1.1V200.6h1.1V200.3h1.1V200.6h1.1V200.2h1.1V200.7h1.1V200.5h1.1V200.7h1.1V200.2h1.1V200.7h1.1V205.9h-1.1V206.4h-1.1V205.9h-1.1V206.1h-1.1V205.9h-1.1V206.4h-1.1V206h-1.1V206.3h-1.1V206h-1.1V206.1h-1.1V206.4h-1.1V206.5h-1.1V206.5h-1.1V206.6h-1.1V206.3h-1.1V206.4h-1.1V206.6h-1.1V206.5h-1.1V206.5h-1.1V206.3h-1.1V206.7h-1.1V206.5h-1.1V206.4h-1.1V206.7h-1.1V206.5h-1.1V206.8h-1.1V206.6h-1.1V206.5h-1.1V206.5h-1.1V206.8h-1.1V206.8h-1.1V206.6h-1.1V206.4h-1.1V206.7h-1.1V206.6h-1.1V207h-1.1V206.9h-1.1V207.1h-1.1V206.9h-1.1V207h-1.1V206.8h-1.1V206.9h-1.1V206.8h-1.1V207.3h-1.1V207.2h-1.1V207.1h-1.1V207.4h-1.1V206.9h-1.1V207.1h-1.1V206.9h-1.1V207.1h-1.1V207.4h-1.1V207.5h-1.1V207.5h-1.1V207.2h-1.1V207.6h-1.1V207.5h-1.1V207.4h-1.1V207.6h-1.1V207.3h-1.1V207.4h-1.1V207h-1.1V207h-1.1V207.4h-1.1V207.3h-1.1V207.4h-1.1V207h-1.1V207.1h-1.1V207.1h-1.1V207.3h-1.1V207.1h-1.1V207.5h-1.1V207h-1.1V207.1h-1.1V207.2h-1.1V207.4h-1.1V207h-1.1V207.3h-1.1V207.3h-1.1V207.1h-1.1V206.9h-1.1V207.1h-1.1V207.2h-1.1V207h-1.1V207.2h-1.1V207.1h-1.1V207.4h-1.1V207.1h-1.1V207.4h-1.1V207.5h-1.1V207.2h-1.1V207h-1.1V206.9h-1.1V206.9h-1.1V207h-1.1V207.1h-1.1V207.1h-1.1V207.1h-1.1V207.3h-1.1V207h-1.1V207h-1.1V207.3h-1.1V207.3h-1.1V207h-1.1V207.3h-1.1V207.2h-1.1V207.2h-1.1V206.8h-1.1V207.3h-1.1V207.4h-1.1V207.2h-1.1V206.6h-1.1V206.7h-1.1V206.2h-1.1V206.4h-1.1V205.9h-1.1V205.9h-1.1V206h-1.1V205.6h-1.1V205.9h-1.1V205.8h-1.1V205.6h-1.1V205.5h-1.1V205.8h-1.1V205.7h-1.1V205.5h-1.1V205.7h-1.1V205.4h-1.1V205.8h-1.1V205.8h-1.1V205.6h-1.1V205.4h-1.1V205.5h-1.1V205.2h-1.1V205.2h-1.1V205.4h-1.1V205.7h-1.1V205.5h-1.1V205.4h-1.1V205.2h-1.1V205.2h-1.1V205.7h-1.1V205.1h-1.1V205.3h-1.1V205.1h-1.1V205.6h-1.1V205.5h-1.1V204.9h-1.1V204.9h-1.1V204.3h-1.1V204.2h-1.1V204h-1.1V204.2h-1.1z" fill="#ff1400"/>
<ellipse cx="245.7" cy="203.3" rx="4.4" ry="4" fill="#4ce200"/>
<ellipse cx="245.7" cy="203.3" rx="3.4" ry="3" fill="#d8e000"/>
<ellipse cx="245.7" cy="203.3" rx="2.6" ry="2.4" fill="#ff1400"/>
<ellipse cx="252.5" cy="203.3" rx="3.2" ry="3.1" fill="#4ce200"/>
<ellipse cx="252.5" cy="203.3" rx="2.2" ry="2.1" fill="#d8e000"/>
<ellipse cx="252.5" cy="203.3" rx="1.4" ry="1.5" fill="#ff1400"/>
<ellipse cx="261.5" cy="203.3" rx="4.8" ry="4" fill="#4ce200"/>
<ellipse cx="261.5" cy="203.3" rx="3.8" ry="3" fill="#d8e000"/>
<ellipse cx="261.5" cy="203.3" rx="3" ry="2.4" fill="#ff1400"/>
<ellipse cx="270" cy="203.3" rx="6" ry="3.6" fill="#4ce200"/>
<ellipse cx="270" cy="203.3" rx="5" ry="2.6" fill="#d8e000"/>
<ellipse cx="270" cy="203.3" rx="4.2" ry="2" fill="#ff1400"/>
<path d="M191.4 204.2v2.4M135.6 204.6v1.4M141.6 200.9v1M82.9 201.4v1.3M195.9 201.9v1.2M115.7 203.2v2.4M121.7 204.3v2.5M84.4 203.7v2.4M169.6 200.9v2.1M116.2 200.7v2.3M197.3 203.6v1.2M154.7 204.7v1.9M138.4 204.4v1.6M221.5 202.9v1.9M105.5 204.4v1.2M110.6 201.5v1.8M151.7 204.4v1.3M232.1 201.6v1.2M92.2 202.4v2.3M217.2 204.5v2.2M223 203.3v1.1M153.3 204.4v1.2M155.3 201.7v1.7M203.9 204.7v2.4M148.7 203.9v2.2M173.3 204.4v1.1M118.9 202v1M169.4 202.3v1.6M83.3 200.7v2.2M177.8 201.9v1.9M181.9 203.6v1.9M199.3 203.6v2.1M210.9 204v2M130.7 202.1v1.5M95.8 201.9v1.7M203.6 203.5v2.5M124.9 204.1v1.8M187.2 202.4v1.6M95.3 203.9v2M169.8 202.2v1.3M107.8 202.4v1.3M130.5 203.6v2M154.5 201.3v1.2M218.5 201.8v1.8M195.9 201.2v1.7M121.7 201.6v1.6M106.6 202.1v1.1M134.1 204.7v1.3M123.9 203.1v1.8M179.7 203.8v1.3M105.1 200.9v1.9M94.6 201.4v1.1M134.2 204.2v1.4M221.6 203.1v2.2M172.3 203.9v1.2M230.1 201.3v1.5M178.5 202.9v2.4M153.9 203.6v1.8M182.8 201.8v1.3M158.9 201.3v2.4M145.5 203.2v1.9M218.4 201.4v1.1M178.1 203.4v2.4M210.3 201.8v1.9M164.9 202.3v1.3M147.7 200.8v2.5M215.8 204.2v1.3M196.4 202.4v2M192.7 201.6v1.8M94.8 201.1v1.6M86.2 201.1v2.5M90.8 201.5v2.4M86.5 203.1v2M202.2 201.2v1.5M210.6 204.1v2.2M132.1 204.6v2.3M166.6 203.9v2.4M149.5 202.1v1.9M109.3 202.1v1.8M136.2 201.5v1.5M206.4 202.8v2.2M158.6 203.2v2.2M99 201.5v2.4M182.4 202.5v2.3M196.6 204.3v2.5M113.4 204.3v1.7M222.2 204.5v2M96.8 203.7v1.5M127 202.2v2.1M86.7 204v2.4M132.8 201.9v1.2M89.4 203.6v1.1M237.4 200.7v1.9M191.2 201.5v2M181.2 200.9v1.2M207.3 203.1v1.1M111.8 202.8v2M204.3 203.7v1.9M156.9 203.1v1.6M224.7 203.4v1.5M91.6 202.8v1.7M142.9 204.1v2.4M230.7 201.7v1.6M201.8 202.1v1.5M181.9 204v1.4M235.9 200.6v1.5M143 201.9v2.1M197.9 204.4v2.2M183.2 203.6v1.1M121.3 203.4v2.1M128.3 200.9v2.2M131.2 203.7v1M175.3 203.5v2M214.6 203.5v2.2M214.3 201.8v1.8M228.8 203.1v2.3M179.7 202.8v2M179.6 202.6v1.2M195.5 204.7v1M139.6 202.1v2.3" stroke="#b03800" stroke-width=".8"/>
<path d="M35 202.5H342" stroke="#c0c0c0" stroke-dasharray="1.4 .95"/>
<rect x="35" y="181.5" width="307" height="1" fill="#e2e2e2"/>
<path d="M35 160.5H342" stroke="#c0c0c0" stroke-dasharray="1.4 .95"/>
<rect x="35" y="138.8" width="307" height="1.5" fill="#7c7c7c"/>
<path d="M35 118.5H342" stroke="#c0c0c0" stroke-dasharray="1.4 .95"/>
<rect x="35" y="97.1" width="307" height="1" fill="#e2e2e2"/>
<path d="M35 76.5H342" stroke="#c0c0c0" stroke-dasharray="1.4 .95"/>
<rect x="35" y="54.9" width="307" height="1" fill="#e2e2e2"/>
<path d="M35 34.5H342" stroke="#c0c0c0" stroke-dasharray="1.4 .95"/>
<rect x="35" y="12.5" width="307" height="1" fill="#6c6c6c"/>
<rect x="77" y="12.5" width="1" height="211.5" fill="#dcdcdc"/>
<rect x="130" y="12.5" width="1" height="211.5" fill="#dcdcdc"/>
<rect x="183" y="12.5" width="1" height="211.5" fill="#dcdcdc"/>
<rect x="236" y="12.5" width="1" height="211.5" fill="#dcdcdc"/>
<rect x="289" y="12.5" width="1" height="211.5" fill="#dcdcdc"/>
<rect x="341.4" y="12.5" width="1" height="211.5" fill="#dcdcdc"/>
<path d="M35 12.5V224H342M35 224h-3.2M35 202.9h-3.2M35 181.8h-3.2M35 160.7h-3.2M35 139.6h-3.2M35 118.5h-3.2M35 97.4h-3.2M35 76.3h-3.2M35 55.2h-3.2M35 34.1h-3.2M35 13h-3.2M35 224v3.4M77.3 224v3.4M130.3 224v3.4M183.2 224v3.4M236.1 224v3.4M289.1 224v3.4M341.5 224v3.4" stroke="#000"/>
<g font-family="Liberation Sans, Arial, sans-serif" font-size="7.7" fill="#111">
<text x="28.7" y="226.8" text-anchor="end">0</text>
<text x="28.7" y="205.7" text-anchor="end">100</text>
<text x="28.7" y="184.6" text-anchor="end">200</text>
<text x="28.7" y="163.5" text-anchor="end">300</text>
<text x="28.7" y="142.4" text-anchor="end">400</text>
<text x="28.7" y="121.3" text-anchor="end">500</text>
<text x="28.7" y="100.2" text-anchor="end">600</text>
<text x="28.7" y="79.1" text-anchor="end">700</text>
<text x="28.7" y="58" text-anchor="end">800</text>
<text x="28.7" y="36.9" text-anchor="end">900</text>
<text x="28.7" y="15.8" text-anchor="end">1000</text>
<text transform="translate(6.7 119) rotate(-90)" text-anchor="middle">Height (km)</text>
<text x="35" y="235.6" text-anchor="middle">1</text>
<text x="77.3" y="235.6" text-anchor="middle">5</text>
<text x="130.3" y="235.6" text-anchor="middle">10</text>
<text x="183.2" y="235.6" text-anchor="middle">15</text>
<text x="236.1" y="235.6" text-anchor="middle">20</text>
<text x="289.1" y="235.6" text-anchor="middle">25</text>
<text x="342" y="235.6" text-anchor="middle">30</text>
<text x="189" y="246.8" text-anchor="middle">Frequency (MHz)</text>
</g>
<text x="188.8" y="7.1" text-anchor="middle" font-family="Liberation Sans, Arial, sans-serif" font-size="9.1" fill="#222">NICT Ionosonde (Kokubunji) 20230530 0925 JST</text>
<text x="309.3" y="43" font-family="Liberation Serif, Times New Roman, serif" font-weight="bold" font-style="italic" font-size="31" fill="#fff">a</text>
</g>
<g fill="none">
<rect x="371.4" y="12.5" width="306.5" height="211.5" fill="url(#nz)"/>
<rect x="371.4" y="218" width="306.5" height="6.5" fill="#000"/>
<path d="M516.9 12.5v205.5M519.3 12.5v205.5M528.8 12.5v205.5M400.1 12.5v205.5M667 12.5v205.5M381 12.5v205.5M445.5 12.5v205.5M661 12.5v205.5" stroke="#1b1b1b" stroke-width="1.5"/>
<path d="M415.8 12.5v205.5M573.8 12.5v205.5M526.9 12.5v205.5M575.9 12.5v205.5M480.9 12.5v205.5M382.4 12.5v205.5M584.3 12.5v205.5M528.9 12.5v205.5M458.2 12.5v205.5M447.8 12.5v205.5" stroke="#101010" stroke-width="1.5"/>
<path d="M582.7 12.5v205.5M390.3 12.5v205.5M622 12.5v205.5M536.7 12.5v205.5M669.6 12.5v205.5M537.2 12.5v205.5M524.1 12.5v205.5M427.1 12.5v205.5M676.4 12.5v205.5" stroke="#1b1b1b" stroke-width="1"/>
<path d="M484.4 12.5v205.5M615.4 12.5v205.5M406.7 12.5v205.5M577.6 12.5v205.5M474.5 12.5v205.5M385.6 12.5v205.5M601.8 12.5v205.5M653.8 12.5v205.5M605.8 12.5v205.5" stroke="#101010" stroke-width="1"/>
<path d="M653.9 113.9v3.2M408.2 102.9v2.8M479.8 91.6v2.6M508.6 84.4v1.6M634.1 86.5v2.6M433.2 67.7v1.6M541.4 125.2v3.1M383.9 21.6v2.5M454.6 103.7v3.2M557.9 37.3v3M473.3 91.5v3.3M426.9 90.7v3.1M425.8 36.9v3.1M389.6 81.2v2.6M401.8 38.2v3.9M630 92.2v2.2M416.9 116.7v2.3M490.4 70.2v3.3M610.8 18.4v3.4M584.5 103.8v2.8M388.3 25.2v2.9M603.7 14.7v3.4M564.4 32.7v2.7M413.2 69.9v2.6M496.4 85.3v2.2M612 83.1v1.9M382.3 88.2v3.5M501 88.8v2.3M611.8 109.3v1.8M641.8 112.4v3.1M589.5 124.9v3.8M633.1 48.3v3.7M633.3 77.3v1.6M431.7 35.3v3.5M648.8 54.9v2.7M402.2 14.3v1.8M520 46.9v2.4M631.2 116v1.6M378.6 30.6v3.4M403.7 109.4v3.5M664.6 56.6v1.7M423.6 49.7v2.2M495.4 160.1v1.3M455.4 157.8v2.9M496.7 166.5v2.6M490.5 112v2.3M467.9 143.2v3M468.8 66.7v1.3M443.8 35v1.8M390.5 81.8v2M419.1 106.1v3M491.6 66.6v3.2M463.5 23.6v2M455.3 144.6v2.7M458.7 90.7v2M463.7 56.8v2M505.7 156.4v3.4M382.9 110.8v3.2M420.7 97.2v3.1M403.6 41.7v2.9M391.9 89.2v2.2M412.5 155.2v1.7M487.7 89.2v2.7M383.3 118.5v1.9M415 88.5v2.8M457.2 41.5v2.2M393.3 84.3v2.4M403.4 135.4v2.5M417.6 28.3v1.6M428.2 96.5v1.8M493 136.9v1.5M452.7 82.9v2.3M416.7 168.8v2.1M384.9 98.5v3.3M488.3 165.3v2.9M421.7 24.5v2.8M418.2 60.5v1.8M414.5 163.9v2.8M468.5 143.1v1.5M381.8 36.6v3M397 98.8v3.3M439.7 85v2M409.4 15v2.2M402.7 162.4v3.3M415.4 109.6v2.1M378.3 60.3v3.2M453.9 14.7v2.6M392.9 144.3v3.3M452.6 135.4v3.3M385.2 163.5v2.6M518.4 168.2v2M379 47.8v2.1M465.2 168.3v1.9M504.9 148v2.6M470.7 90.3v3.1M402.1 155.1v2.4M472.7 96.2v2.8M389.3 115.5v1.7M382.8 86.5v3.3M385.7 115.6v3.3M496.6 103.2v1.6M384.8 123v2.9M469.8 20.2v2.3M481.4 34.8v3.3M440.1 169.1v2.5M508.9 165v3M503.7 94.2v2.6M465.1 52.7v2.1M460.6 83.9v2.4M465 133.7v2.5M471.2 16.7v1.5M431.6 101.3v1.4M476.6 144.6v3.1M489 24.5v1.6M373.9 132.6v2.1M481.1 213.4v3M614.3 185.5v3.3M610.1 195.4v2.2M405.4 193.9v2.1M657 208.8v2.7M408.7 196.5v1.9M523.8 200.2v3.6M672.8 211.1v2.6M522.2 201.1v3.4M472.3 195.6v2.3M395.4 194.5v1.6M444.1 189.2v2.5M633.1 192.9v1.6M570.1 207v1.6M632.3 195.4v1.9M408 210.5v3.8M627.2 188.6v3.1M474.8 185.6v3.3M464.5 67.5v6.8M464.6 23.6v5.9M464.1 103.9v5.8M464.8 97.2v4.9M464.9 56.2v4.5M464.2 32.6v3M465.9 27.1v8.8M465.6 98.9v3.1M465.6 77.1v8.2M465.4 81.1v4M464.2 57.4v4.1M465 103.1v4.5M465.9 57.3v3.4M464.9 13v7.6M465.8 12.2v8.1M464.8 109.2v6.7M464.7 37.5v8.6M464.1 26.3v7.4M465.6 91.8v5.2M465.1 67.9v6.7M465.3 24.8v7.9M464 54.5v3.2M464.5 36.1v3.3M465.6 84.5v7.5M464.5 93.4v8.5M464.9 24.7v5.9M465.1 12.9v8.6M465.8 68.9v8.2M464.5 33.8v5.8M465.5 96.7v6.8M464.3 24.4v8.2M464.5 107.9v7.2M436.4 90.5v1.8M435.1 77.3v2.1M430.4 85.5v3.2M437.2 90.3v3.1M430.3 93.4v2.4M439.5 85v1.6M433.3 77.4v3.6M432.3 96.7v1.6M431.9 95.7v2.9M430.4 90.9v1.8M434.8 98.1v1.5M436.3 80.5v2.9M437.5 89.4v1.9M433.2 98.7v2.4M434.1 91.3v3.7M434.3 82.1v3.7M453.6 130.7v2.6M476.3 130.4v2.6M495.9 132.7v2.5M475.6 131.3v2.1M449.1 132.9v3M499.3 132v2.3M472 133.8v2.8M490.8 130.3v2.7M481.1 135.1v1.8M463 131.7v2.1M445.2 131.5v1.8M489.9 129.8v2.4M469.5 132.8v2.5M497.4 131.2v1.7M474.4 135.2v1.9M454 134.7v2.6M460.1 130.7v2.4M455.1 134.9v2.9M449.6 133.4v2.8M497 134.9v2.4M472.3 131.6v2.8M444.1 128.8v2.9M497.7 130.1v2.7M488.1 130.2v2M475.7 131.1v1.7M448.9 130.8v2.4M487.5 132.2v2.1M492.6 132.3v1.9M453.1 131v2.5M454.4 133.7v2.8M451.7 133.6v1.6M492.5 133.9v2.4M450.3 134.9v2.9M452.6 129.7v2.3M471.7 133.6v1.6M474.2 131.7v1.7M451.5 131.4v1.8M491.1 129.7v2.9M489.5 134.8v2.6M479.5 129.4v1.8M452.1 135.3v1.6M479.6 132.1v2.9M482.9 135.2v1.5M489 132.2v2.2M489.8 135.6v1.6M462.9 130v1.7M490.3 133.3v2M445 129.9v1.7M467.7 134.3v1.8M443.3 130.1v2.6M466.4 134.7v2.3M497.8 134.2v2.3M476.5 132.3v2.5M493.5 129.2v2.9M486.9 132.3v2.1M492.1 134.3v2.4M465.5 134.9v1.8M459.9 132.9v1.9M483 132.1v2.1M494.6 149.1v4.8M489.7 149.1v3.6M504.2 156.2v4.9M460.7 149.6v3M437.7 152.5v3.4M457.8 152v2.6M498.3 153.4v4.6M522.2 152.4v3.5M483.5 156.4v2.3M482.3 151.1v3.7M436.1 155.1v2.7M471.1 155.6v3.8M509.6 152.3v4.3M500.3 153.6v5M448.4 152.4v3.8M519.5 157.7v2.6M438.8 157.1v4.3M501.8 152.9v4.4M458.2 156.6v3.6M488.3 148.4v3.8M472 153.1v3.3M487 153.6v4.3M518.1 151.3v3.7M457.8 149.3v3.8M436.7 149.3v3.9M492.9 154.7v4.7M443.4 157.6v4.8M501.3 148.6v4.9M447.8 152.8v5M462.5 152.8v3.8M458.4 149.4v2.4M479.8 152.9v3M460.2 154.1v3M444.3 153.8v4.4M461.2 157.8v3M446 150.4v4.8M506.4 150.2v4.5M503.2 149.4v2.8M523.3 153v2.3M459.4 157.6v3.4M500 154.6v4.1M455.5 147.8v4.9M480.1 149.5v3.2M454.3 153.7v3.7M438 150.2v4.8M478.7 148.9v2.9M489.6 153.4v4.6M499 154.5v2.1M460.2 154.9v2.5M515.6 149.2v4.1M477.6 159.3v2.3M465.7 157.7v4M438.9 148.6v5M453 152.6v2.1M484.4 149.1v2.3M443 151.3v4.1M446.6 148.5v4.7M437.4 157.6v4.1M451.7 148.8v3.8M470.3 158.6v2.6M480.5 154v4.6M443.1 150.3v2.3M484.6 154.5v2.6M448.5 155.4v4.3M506.3 158v3M443.2 153.7v4.2M472.3 152.3v2.8M435.3 150.9v4.9M498 151v4.6M493.6 154.4v2.4M514.8 159.4v2M514 153.2v3.3M498 149.4v4.5M440.9 156.6v2.9M512.1 157.7v3.6M441.2 158.7v4M476.7 156.9v2.2M507 156.6v2.9M436.6 151.5v3.2M460.7 156.6v3.1M514.5 153.6v2.8M496.8 156.4v2.5M456.4 151.5v3.4M496 157.2v2.7M520.3 152.1v4.7M467.6 153.4v2M481.8 151.7v2.8M499.6 158.3v2M515.1 153.9v4.7M508.5 154.1v3M472.4 151.4v3.8M459.9 151.4v2.3M472.5 158.5v3M478.1 154.6v2.8M441.1 156.5v4.1M457.1 155.4v2.9M504.1 157.4v4.8M440.1 156.2v4.3M447.1 157.3v2.6M486.2 153.4v3.2M455.2 159.2v2.6M520.4 157.3v4M498.3 151.6v3.5M477.3 154.1v3.7M505.3 153.3v4.2M524.6 159v2.7M465.8 152.6v4.6M464.3 156.3v4.7M510.2 150.7v3.8M510.2 149.8v4M504.5 150.5v2.6M473.1 157.4v2.4M452.4 158.5v2M448.5 156.7v4.3M474.2 152.3v2.4M498.6 148.7v4.2M457.1 154.4v4.1M482.3 152v2.6M523.1 156.5v3.7M492.6 159.2v2.8M471.5 156.2v3.6M434.9 148.3v4.3M472.8 150.2v3.4M471.2 157.8v4.4M516.9 155.7v4.9M453.7 149.4v3.6M523.7 153.1v2.3M513.5 155.8v4.7M478.4 155.1v4.5M441.2 149.2v3.1M486.5 152.2v3.5M494.6 155.7v2.2M504.1 157.3v2.9M450.8 153v4M508 151.4v2.3M511.9 155.1v4.2M462.8 149.7v2.2M438.6 148.1v4.3M507.1 150.8v2.1M520.9 157.5v3.5M524.4 148.8v4.5M463.9 155.4v3.2M493.2 156.5v4.5M496.3 148.6v3.7M484.3 168.5v6.4M534.7 174.1v5.8M416.8 174.5v6.2M453.8 165v5.4M501.3 177.2v4.4M482.1 170.5v3.6M447 166.8v6.3M509.1 176.2v6.9M495 179.9v3.8M460.5 179.2v4.1M478.2 161.2v3.2M476.4 172.8v5.1M521.2 174.5v3.6M427.9 163.9v6.8M457.9 173.6v2.1M493.4 168.3v3.7M475.6 162.6v6.5M481.7 162.9v4.6M513.7 174v2.1M508.8 171.3v4.7M496.8 159.5v3.5M555.6 177.7v6M500.4 167.4v6.8M485.1 177.2v3.7M467.9 175.7v6.8M462.9 171.9v3.5M473.2 180.3v2.7M442.3 164.9v6.9M467 161.2v5.7M432.3 176v2.8M471.7 167.8v7M536.4 177.8v2.9M482.8 160.9v4.8M482.7 179.1v3.1M518.2 163.4v5.6M467.2 173.2v3.8M504.5 163v6.1M466.4 171.7v6.9M524.4 176.1v2.7M479.9 178.9v2.1M469.3 161.3v5.3M496.4 163.5v2.9M532 159.5v5.4M419.9 178.9v2.9M458.3 165.9v6.1M458.2 162.2v3M445.1 162.1v5.3M474.2 173.2v5.2M531.4 177.1v5.8M455.3 171.7v4.6M459.5 170.5v6M471 177.4v5.5M515.6 168.9v2.9M470.3 172.2v3.7M440.9 169.8v5.8M542.3 175.4v2.5M513.6 170.3v3M501.8 178.9v3.5M496.7 161.1v5.7M445.8 165.9v3.7M527 170.7v2.1M439.7 176.6v3.4M508.9 160.4v2.7M432.2 161.5v5M436.7 177.1v6.3M439 177.1v2.1M492.8 173.4v3.9M488.9 175v4.4M537.1 170.2v6.7M528.3 170.9v5.6M486.8 175.4v4M454.5 166.4v6.6M465 174.2v4.4M468 173.8v5.5M519 169.6v2.4M476.6 175.8v4.5M495.6 167.6v5.2M491.6 162.6v2.3M482.4 174.6v5M536 161.9v4M550.2 178.3v3.5M436.4 174.3v3.8M526.4 161.2v5.3M508.7 174.5v6.6M502.6 170.9v2.8M464.2 177.8v3.2M507.6 177.1v4.7M481.2 161v6.7M464.6 171.7v5.2M507.9 179.5v3.1M449.2 173.6v4.8M443.6 177.9v6.4M493.1 175.7v3.7M520.9 166.9v6.6M430.5 174.9v6M463.4 171.6v6M440.7 164.1v6.4M487.4 166.7v6.1M448.7 168v2.8M513.1 169.9v4.5M478.8 174.6v7M456.2 160.9v6.4M547 176.2v6.2M443.6 177.1v3.7M435.8 162.7v2.8M464.5 169.1v5.5M497 165.4v4.2M424 174.5v2.5M476.5 159v4.8M450.7 172.7v2.1M498.1 168.5v2.9M465.4 162v5.1M418.3 177.1v4.6M449.2 163.8v4.4M441.8 161.3v5.2M489.2 169.4v2.8M523.7 178.3v3.5M469.9 170.7v6.2M492 160.9v6.9M505.4 168.7v3.6M464.3 164.6v2.3M468.6 165.7v2.3M465.4 176.5v2.8M532.9 169.4v5.9M447.2 160.1v4.3M439 161.4v2.5M474.2 165.4v4.8M466.6 159.7v4.8M461.7 162.9v3.9M441.6 176.8v4.5M514.1 178.3v4.6M451.9 168.5v6.8M458 174.2v6.6M499.8 159.8v4.9M541.9 171.8v6.3M507.7 179.5v4.5M462 177.8v6M518.1 170.5v7M531.6 168.6v4.7M438 177.1v3.5M503.8 179.9v2.8M481 177.9v5.2M461 165.7v7M528.9 162.4v2.9M493.5 173.3v4.3M446.5 162.3v5.7M499.1 168.6v6.6M437.7 172.8v4.7M433.3 172.8v6.6M469.9 177.9v6.8M508.8 175.5v7M439.2 177.6v3.5M468.7 171.1v2.2M522.7 167.5v3.6M492.1 180.2v2.6M508.7 163.7v3.4M492.2 167.5v5.4M420.8 168.6v5.9M514.2 160.6v2.9M495.8 169.8v6.3M515.3 171.1v3.1M549.7 170.3v6.8M515.6 157.5v6.6M441.3 158.9v4.5M453.1 174.7v5.6M471.3 161.1v6.1M441.6 175v3.3M448.1 167.9v4.9M439.2 174.4v6.1M489.1 173.4v6.3M444 167.3v3.8M520.5 165.9v3.1M515.1 163.8v4.7M507.1 178.8v5M454.9 170.6v4.9M457.7 177.7v5.4M442 161.6v3M425.3 166.8v4.3M504.1 169.1v5.6M485.7 174.5v4.5M522.6 176.4v6.2M518.4 176.9v3.8M494.1 163.1v6.6M510.8 159v5.1M468 174v2.2M508.9 163.6v6.7M480.4 173.7v5.2M447.8 175.4v6.1M461.6 174.8v3.1M434.6 171.9v6.1M520 173.6v3.5M516.2 176.7v5.1M510.9 164.4v4.4M524.7 162.3v6.3M525.7 164.9v6.3M490.8 176.1v5.3M495 160.4v3.2M480.6 178.2v5M463.1 162.8v7M494.8 170.2v6.3M494.3 175.7v6.1M477.2 165.6v3.8M449.3 171v6.8M475.5 176.9v3.4M423.3 172.2v5.3M471.4 168.3v5.7M527 159.1v6.2M469.5 159.7v3.3M448.3 159v6.4M439.1 174.6v2M529.5 176.7v6.6M464.8 176.5v2.4M436 177.9v5.7M427.3 174.7v6.2M533.1 168v4.7M437.2 170.1v3.2M529.9 178.1v3.3M441.2 176.4v6.5M438.2 167.5v5.4M511 172.3v3.3M462.2 173.6v5.4M484.4 169.4v5.7M520.8 170.9v3.9M447.1 167.7v6.7M454.6 166.9v4.8M477.7 157.5v6.7M481.9 175.6v6.7M458.8 172.2v6.9M515.7 178v5.3M426.7 177.1v3.2M508.5 159.4v4.2M430.7 173v4.8M507.3 168.5v6.6M440.9 167.5v3.3M503 170.1v2.9M460.3 174.4v3.8M460.4 167.7v4.3M493.1 161v4.7M450 171.6v2M435.4 171.8v5.9M513.7 160.6v6.9M467.6 167.5v4.8M464.2 162.5v5.4M482.3 168.1v2M480 167.8v3.3M429.5 178.7v2.2M460.4 177.7v5.1M422.3 168.9v2.6M494.9 161.9v4.9M523.6 170.9v5.4M445.4 162.2v4.5M507.5 172.3v3.6M479.5 163.8v5M479.3 168v6.9M475.3 174v4.6M499.2 168.2v3.6M500.7 158.9v4.2M488.9 172.5v4.5M455.1 171.3v3.3M440.9 172.1v4.6M522.4 171.6v5.6M485.6 176.3v3.8M512.4 178.9v4.9M520 159.8v5.4M463.8 161.3v5M450.5 177.4v4.3M525.9 168.9v2M500.5 175.3v6.2M483.6 167v2.4M465.1 174.5v3.3M528 161v2.1M433.7 175.6v2.8M527.2 175.1v2.6M457.9 174.5v5.8M513.2 168.5v4M515.8 175.4v2.1M457 174.9v2.4M502.5 172.9v3.4M504.2 161.5v3.2M444 178.5v4.6M467.1 167.7v2.5M522.2 172.3v2.8M470.3 168.5v3.4M488 170.4v2.2M473 177.8v3.6M500.2 171.5v5.5M449 174.8v3.1M487 168.4v5.5M419.5 175.6v2.5M514.7 168.9v2.8M469.1 164.9v3M418.9 177.4v3.4M491.1 175.1v3.8M493.8 162.4v4.8M431.8 162.8v5.6M469.3 169v5.8M517.6 179.9v2.1M454.4 172.8v4.8M481.2 172.1v5M476.4 164.9v5.9M536.2 165.1v5.1M520.3 172.3v6M441.8 161.9v4.4M478.4 169.8v3M417.7 165.7v4.4M475.1 171.1v4.4M455.7 176.9v5.4M462.7 165.5v4M503.5 170.7v5.6M451.9 167.1v3M454.1 173.2v4.6M482.2 174.1v3.9M504.5 166.2v2.8M421 162.9v4.6M503.1 179.6v2.4M441.9 175.7v3.1M509.1 171.5v6M475.2 170.3v4.8M514.8 177.3v6.6M499.8 168.4v5.4M483.9 165.8v6.2M427.3 165.1v6M439.9 164.9v3.7M508.8 170.7v6.8M466.1 170.1v2.8M509.3 177.4v4.8M439 176.3v3.2M499.5 173.9v5.8M461.6 167.9v3.7M435.7 174.7v3.1M450.2 172.7v4.9M453.2 174.3v3.8M536.9 170.4v6M467 174v5.8M488.3 164.7v6.5M523.5 169.3v5.2M479.2 170.1v3.5M508.7 171.7v4.4M516.7 177.1v5.8M432 177.9v6.4M503.7 169.9v6.7M454.7 172.7v3.2M468.4 169.4v4.5M505.3 159.6v5.6M488.5 163.6v4.5M452.9 161.8v3.6M424 175.3v2.1M501.1 176.7v4.2M536.2 179.6v2.3M461.9 169.4v5.2M468.1 159.1v4M463.6 170.6v3.2M507.2 171.3v3.3M482.1 161.4v4M527.2 173.1v2.5M436.6 171.4v5.6M458.8 175.1v4.7M436.5 176.5v6.9M475.5 168v3.5M463.7 169.8v2.8M451 170.1v2.3M539.2 169.7v2.7M496 168.2v2.8M462.1 169.6v6.1M507 174.3v2.6M431.5 174v2.9M537.9 162.6v6.4M520.1 171.1v2.3M440.1 168.4v2.7M428.6 172.6v4.5M459.9 169.4v3.1M500 168.6v6.8M495.3 172.5v5.3M507.9 170.1v3.6M486.7 159.4v3.8M457 169.2v4.9M473.8 174.7v2.8M515.3 171v3.1M463.9 158.2v6.6M519.5 175.3v5.5M497.2 170.8v6.4M520.1 170.3v2.4M489 173.9v5.6M460.4 174.1v4.7M476.1 168.9v5.8M427.7 172.4v2.8M518.4 179.7v4M444.4 163v4M458.6 177.5v5M464.2 175.1v4.9M470.6 177.2v3.7M488.8 168.6v6.9M435.7 160v5.5M475.6 169.6v4.4M530.3 172.3v2.1M463.7 159.6v3.7M477 168.1v2.4M447.4 168.6v6.9M498.6 175v5.6M481.5 169.8v6.5M491.8 167.3v6.7M416.5 171.5v4.8M518.3 178.5v2.2M523.9 178.9v5.1M496.9 173.2v6.5M458.7 177.3v5.5M483.7 162.5v6.9M497.2 159.2v5.2M455.8 170.7v4.7M530.5 172.3v2.8M472.8 174.1v5.2M458.8 164.7v3.1M480 167.1v6.7M504.9 174.3v4.8M493.8 177.2v2.6M535.3 177.7v3.7M536.1 175.9v4.9M523.5 168.2v5.8M452.1 179v3.5M435.8 166.5v4M466.7 169.3v2.7M529.3 176.5v4.1M537.8 171v7M446.6 170.5v3.2M495.5 158.2v5.4M508.9 160.3v5.1M433.7 177.9v3.4M512.5 144.2v3.9M494 169.6v3.3M518 168.3v4.7M525.4 165.9v4M515.3 146.3v2.1M516.8 152.7v5.3M496.7 149.9v4.7M534.2 150.4v4.5M497.1 159.4v2.3M494.4 163.9v4.7M521.1 169.3v3.2M527.1 147.8v2.6M493.8 168.4v3.5M529.9 153.4v5.7M504.3 149.7v5.7M496.5 165v5.2M504.9 151.7v2.8M512.8 150.4v4.2M501.7 157.4v4.6M518.9 159.8v4.7M494.9 156.1v2M505 146v5.1M513 167.8v5.8M498.2 153.1v3M508.8 147.5v5.2M502.9 155v4.7M524.9 169.4v5.2M500.2 157.6v2.9M532.4 169.9v5.6M519 159.2v4.1M506.1 146v5.4M524.6 160.5v3.3M523.4 148.5v3.1M515.4 144v5.5M524.4 166.6v4.4M524.1 170.1v3.1M531 144.7v2.4M516.7 144.3v5.3M518.9 164.6v4.1M505.3 153.8v5.7M517.5 163.4v3.6M518.7 158.4v2.7M528.2 161.8v5M496.1 165.3v4M524.8 148.3v5.1M517 155.2v5M526.9 153.2v3.5M513.5 165.6v4.8M515.1 156.2v3.6M516.9 145.7v5.8M505.5 161.6v5.1M522.7 151.6v2.4M519.2 145.2v2.1M534.3 162.4v4.4M514.1 156.8v5.1M515.4 169.7v5.6M494.3 165v2.6M525.5 168v3.2M522.9 170v4.3M494.5 150.5v2.2M520.6 154.5v2.6M529.9 169.5v4.7M525.8 160.4v4.2M526.8 163.1v2.7M504.6 161.1v4.4M527.8 167.9v2.9M533.1 170.4v5.7M526.7 161.4v3.2M514 154v2.4M495.3 165.6v5.4M495.3 169.1v2.5M531.4 167.7v3.9M520.7 148v2.1M496.5 160.7v3.3M523.1 168v4.1M494.5 166.1v5.3M506 152.3v4.1M519.6 144.3v5.8M523.9 169.9v2.9M517.2 143.7v5.1M516.1 163.7v5.6M504.1 148.6v2.1M530.1 149.6v5.8M522.1 161.9v2.3M528.6 147.3v3.1M512.1 165.9v4.7M527.9 170.4v2.4M533.8 155.8v3.9M506.1 165.8v2.8M498.4 152.6v2.5M509.5 164.4v5.7M498.7 157.9v3.4M499.8 170.1v3.4M516.3 165.6v3.6M519.9 171.3v3.8M522.8 147.3v3.4M518.1 162.7v2.3M499.6 170.7v4.9M429.5 184.3v3M431.1 184.2v2M422.2 183.2v2.5M447.1 189v2.7M428.6 186.3v2M448.9 184.7v2.5M443.8 187.4v3.1M446 185.6v3.1M454.5 190.7v2.5M441.7 184.8v3.8M435.2 189.4v2.4M431.7 190.5v2.7M424.6 189.8v3.1M453 189.5v3.2M616.4 176.9v1.6M610.5 175.5v2.6M610.7 176.5v2M613 174.7v2.4M608.6 174.9v3M615.5 175.9v1.5M613 176.9v2M605.2 176v2.8M611.2 176.8v1.6M604 176v2.8M613.3 176.6v2.1M608 174.3v2.4" stroke="#1e8400" stroke-width=".9"/>
<path d="M595.2 73.4v1.6M380.7 77.3v2.2M590.6 120.7v2.1M503.3 23.9v2.5M421.2 92.5v1.9M653.8 103.6v3.3M548.6 21.5v2.4M521.9 120.4v3.5M670.3 101.7v2.9M473.2 168.5v1.5M413.4 66.6v3.5M463.6 109.5v3.2M421.8 168.6v2.7M499.6 39v2.3M418.1 138v1.7M473.5 43v1.8M497.2 66.7v2.1M496.4 30.6v1.7M514.1 102v3.1M373.6 92.5v2.2M430.3 25.8v2.8M517.2 144.3v1.2M421.8 42.8v3.3M507 98.7v2.5M496.2 167.1v1.2M641.1 208.5v2.5M642.6 215v3M664.5 191.1v1.5M652.2 209.8v2.5M609.4 215.6v3M601.6 214.1v1.6M528.3 190.9v2.3M464.5 72.1v7.7M465.8 105.4v6.3M465.9 54.3v4.7M464.1 79.9v6.1M465.9 15.5v5.1M464.7 30.6v5.4M465.7 113.7v4.2M464.1 15.9v7.6M465.3 95.9v4.7M465.3 54.3v6.7M464 46.4v6.8M464.6 89.9v8.5M465.9 16.6v7.5M433.4 81.6v2.2M430.7 83.8v1.5M432.2 103.1v3.6M437.6 101v3.2M436.6 91v2.2M433.8 93.8v3.1M429.6 88.6v3.2M432 85.3v3.2M434.3 87.4v3.8M449.6 133.6v1.7M522.5 149.7v2.4M444 152v2.8M477.5 155.7v2M461.7 149.9v3.8M438.5 158.3v3.1M478.7 150.6v2.8M499.5 151.4v2.8M465.4 156.1v4.2M496.4 158.5v3.7M467.1 152.8v3.6M494.8 154.1v2.5M478.5 151.8v3.5M509.1 153.7v2.4M475.6 152v4M500.6 153.5v4.5M519.4 150.1v2.4M498.7 154.7v4.2M447.8 153.6v3.4M445.4 157.6v4.8M488.2 156.6v2.6M467.9 155.8v4.1M512.1 157.1v2.3M465.8 153.4v3.8M448.6 152.6v3.8M513 159v2M447.6 149.6v2.9M450.9 153.9v3.7M445.9 154.5v4.6M506.9 154.2v3.5M449.7 153.5v2.2M472.5 158.1v4.2M465.1 157.9v2.1M473 155.4v2.6M453.6 151.1v3.5M500.7 154.8v3.1M444.1 155.1v4M477.7 151v3.6M471.8 149.3v4.6M442.3 150.3v3.4M510.4 150.8v4.5M520.1 149v3M463.8 149.1v2.8M486 154.6v4.5M488.4 153.2v2.8M457.8 154.9v4.3M439.9 149.8v3.2M446.5 152.9v4.7M514.4 154.2v2.7M487.6 150.9v3.2M472.3 156.6v3M492.3 149.7v4.3M454.4 152.3v4.6M509.5 155.7v2.4M463.6 159.1v2.9M480.3 150.6v2.2M487 149.9v2.9M518.1 152.6v4M455.2 152.4v2.5M457.1 149.4v2.2M450.8 149.1v2.5M486.4 157.7v3.1M498.2 152.4v3M483.8 157.3v4.7M524.4 149v4.6M503.5 152.4v2.4M505.5 151.9v2.8M437.9 150.8v4.5M502.3 154.1v2.6M517.6 156v2.1M445.3 151.7v3.7M456.2 152.8v3.7M504.1 150.1v4.7M521.5 151.1v2.2M490.7 158.4v2.7M520.9 157.1v3.6M440.7 158.6v3.3M509.1 159.1v3M462 151.7v3.8M474.9 149.8v3M460.6 156.5v4.2M485.4 150.2v3.4M453.8 152.6v2.4M521.5 153v4.4M465 156.1v4.7M479 149.8v5M451.3 158.5v3.9M449.8 156.7v4.3M442.1 157.9v3M492.3 152.1v2.2M441.6 149.6v3.9M476.8 155.8v4.1M440.7 154.6v4.8M507.6 150.3v3.5M481 158.6v2.9M458 149.7v4.2M493.2 151.4v4.7M501 167.4v6.5M517.3 176.5v3.9M521.2 175.9v6.2M538.2 168v5.9M479.7 177.3v3.8M524.5 172.2v4.3M453.8 165.4v2.5M487.4 179v2.6M519.4 172.2v2.1M417.9 160.3v4.7M469.7 159.7v3.2M508.7 171.6v6.5M513.2 174v5.9M448.5 179.1v2M448.7 172.9v5.5M433.7 159.4v3.3M486.9 176.6v6.2M522.4 171.1v5.1M456.1 159.6v6.5M528.2 169.4v4.9M481.5 171v4.7M520 162.7v6.5M451.8 169.6v6.9M433.2 173.2v3.2M466.3 164.1v3.2M520.2 162.8v5.6M450.7 170.8v3.7M477.5 177.6v3.1M450.2 175.4v4.2M517.2 177.5v4.5M436.6 168v3.1M449.8 169.4v4.3M444.2 172.9v5M445.6 161.6v5.2M517.2 177v2.5M453 169.8v3.9M434.4 173.2v5.9M447 163v5.8M497.9 171.3v6.3M452 179.2v3.2M482 173v2.2M536.2 175.9v5.1M443.9 163.6v3.2M466.9 173.5v2.8M511.2 161.7v4.8M519.2 163.5v5.1M523.4 168.8v5.6M482.4 174.3v2.5M437.7 175.2v4.6M445.8 176.2v4M544 176.7v2.7M512 178.2v4.5M519.4 179.3v2.3M469.1 162.1v3.8M527.5 179.3v3.6M467.2 162.3v4.5M461.7 176.1v3.9M522.9 163.2v2.7M479.4 174.3v3.1M497.8 168.9v5.8M515.5 175.9v6.3M452.7 178.2v3.3M481.9 171.6v5.5M423.5 168.6v4.6M424.1 176.2v2.1M494.7 178.8v2.5M446.7 174v5M530.9 170.5v4.2M476 173.1v4M437.5 175.4v5.2M460.3 174.5v2.4M495.8 174.2v5.7M492 169.2v2.1M434.2 174v4.2M458 174.5v2.4M473.4 176.9v5.5M496.5 179.2v2.2M449.7 165.7v3.9M461.3 165.2v5.6M430.3 177.4v5.6M523.3 176.2v6.5M500.5 176.8v4.6M509.6 174.5v4.4M447.8 170.3v3.6M492.4 176.4v3.8M528.5 178.9v5.3M442.4 176.7v4.7M501.5 168v2.1M536.5 159.7v6.9M436.1 178.8v4M444.7 165.9v6.5M488.4 168.3v4.1M440.2 169.8v4.2M539.2 178.5v3.2M488.5 170.5v2.5M474.5 168.7v6.1M483.7 171.8v4.7M462.3 159v3.9M438 176.7v5.3M431.2 173.8v3.4M464.8 175.7v6.9M442 167.6v4.9M450.9 158.5v6.3M533.5 166.9v2.9M496.4 179.6v3.5M494.6 176.5v5.9M476.9 171v6.3M515.1 172.9v2M524.2 158.9v5.2M508.6 159.8v6M457.6 166.1v7M473 170.8v4.1M470 172.2v3M457.5 169v5.2M457.5 179.1v4.3M522.3 169.8v4.8M489.3 179v5.2M500.8 170.7v5.8M497.8 171.1v6.1M511.1 167.2v6.3M459.3 163.9v3.6M436.1 170.2v6.1M513 171.3v3.8M545.2 178.8v4.8M428.7 160.5v3.3M476.9 170.4v7M461.4 171.9v2.5M478.4 167.6v4.9M463.8 175.7v2.5M512.2 173.7v6.9M501.1 172.2v4.4M441 172.3v3.7M452.1 174.6v6.5M519.8 175.2v3.6M500.6 172.8v2.3M459.2 174.2v5.3M438.4 171.1v4.4M463 173.6v3.6M513.2 168.6v2.7M525.6 167.1v4M506.6 174.7v6.2M463.2 175.9v6.8M434.8 175.7v5.1M515.5 162.2v2.8M482.7 174.4v4.4M510.1 167v6M480.2 166.8v5.8M420.3 164.5v6M457.3 168.2v6M453.6 174.5v3.7M503.2 167.8v5.9M432.5 159.8v3.5M471.8 174.9v2.4M516 164.5v3.9M528.7 172.8v3.6M441.9 161.7v5.2M449.4 161.4v5.4M440.1 170.5v5.5M437.5 167.3v4.9M430.9 173.9v3.5M452.6 158.4v6.9M503.5 160.8v6.2M513.8 166.7v4.9M445.6 172v5.6M537.6 173.4v6.4M478.1 166.1v6M467.9 161.4v3.2M518.7 178.6v3.3M511.1 169.7v6M453.3 175v4.6M480.4 157.8v6M474.9 161.2v3.5M451.7 175v6.3M493.1 167.9v5.9M473.8 160.9v2.1M505.8 176.3v2.4M440.4 176.3v6.9M446.4 175.6v5.4M448.4 173.1v4.4M509 178.5v3.4M457.3 175.9v6.6M448.1 159.5v6M464.3 171.6v5.4M490.1 174v3.8M488.9 161.4v2.3M424.6 173v2.1M454.7 169.1v3.1M452.6 171.2v2.1M489.4 166.1v6.1M492.8 163.7v7M484.1 162.3v5.8M523.4 178v4.6M513.8 159.9v2.6M496.2 163.5v3.4M515.2 170.9v3.1M471.4 168.9v6.6M442.3 179.7v2.7M495.6 164.4v3.7M432.4 172.8v6.8M544.5 174.3v5.5M481 176.4v4.5M513.1 162.4v4.9M510.3 178.6v4.4M513.7 159.6v2.3M469.9 162v4.4M484.2 167.7v4.9M467.3 167.7v5.5M509.3 169v5.6M425.2 174.4v2.6M463.2 163.6v6.4M482.5 162.4v2.8M445.8 174.3v5.5M448.7 179.8v3.1M520.7 177.4v2.8M528.9 176.2v4.3M547.4 173.5v4.5M421.3 177.5v3.9M481.1 169.3v4.1M483.6 179.6v3.2M475.6 172.5v3.5M538.1 180v3.1M510.4 170.2v3.1M456.8 166.9v3.6M453.2 176.9v5M445.5 169.6v2.6M491 171v6.9M447.1 170.2v4.7M481.7 174.4v6.3M453 164.7v2.9M522.2 167.6v6.4M438.8 162v6M440.5 168.8v5.8M471.3 178.7v6.1M437.2 175.2v3.2M498.3 173.7v3.9M482.5 179.2v4.3M436.1 171.6v4.8M523.5 178.2v4.1M463 170.2v3.5M516.8 169.3v6.4M449.7 169.1v5.1M459.4 168.4v6.9M484.7 169v5M458.2 174.5v2.6M482.4 164.9v4.2M452.4 168.7v4.9M452.1 166.3v2.8M463.1 175.2v6.8M438.7 174.4v3.7M469.4 173.7v4.1M521 164.4v2.1M541.6 160.1v3.2M465.8 177.1v2.4M512.1 167.9v6.6M514.9 177.6v5.8M469.9 177.9v4.9M502.9 168.9v2.8M474.9 170.8v2.1M436.3 166.4v5.9M486.1 177.2v2.3M451.2 160.8v4.2M480.7 174.4v5.2M518.9 163.8v4.7M527.6 177.1v6.6M504.7 166.5v3.8M512.2 168.4v3.2M500.5 171.7v7M454.9 169.9v2.6M464.6 171.2v3.8M456.5 178.6v3.1M496.7 167.9v4.4M432.3 169.6v4.2M422.4 179.3v3.8M459.9 173.2v3.4M461.6 168.8v5.8M498.6 158.4v4.9M483 160.4v3.5M527.8 170.3v4.5M445.9 178.7v2.3M523.2 164.4v4.4M476.6 169.8v6.5M454.7 164.6v2.6M450.1 160v4.2M489.5 173.6v2.1M500.1 179.9v2.9M464.2 170.7v4.5M508 178.9v5M499.8 161.3v3.8M492.4 177.1v6.1M524.1 167.4v6.4M442.3 171.8v5M453 174.3v2.2M442.3 161.9v2.5M524.2 167.7v4.3M515.7 165.8v5.5M510.9 151.5v4M496.7 166.4v5.9M499.1 170.2v4.7M509.7 159.4v2.8M522.2 164.3v5.6M500.4 163.5v4.2M528.5 169.8v5.1M533.5 162.5v3.8M509.1 157.7v3.5M509.3 164.4v3.3M495.9 166.3v2.7M501.8 163.5v2.7M533.9 159.4v5.4M503.4 149.2v3.4M515.8 166.5v4.8M531.7 158.3v4.4M527.4 171.1v2.1M514.2 162.4v5.4M509.2 170v3.3M510.6 161v3.7M513.2 152.9v3.6M500.1 169.5v3M530.8 149.3v3.2M533.5 148.9v2.1M526.1 159.9v3.4M524.9 146.8v2.1M516.5 152v2.1M527.5 157.4v4.5M533.8 167.6v2.8M502.1 149.7v5.3M508.9 159.5v3.2M518.7 158.5v2.5M518.8 166.8v5.8M533.3 169.9v4M518.5 149.2v5.7M525.1 163.3v5M511.2 158.6v2M522.8 145.3v2.3M515.7 145.4v5.7M509.9 166.8v2.2M500.1 150.1v5.7M494.8 152v4.4M498.3 144.7v5.9M531.9 157.6v2.5M509.2 160.7v5.7M529.8 158.4v2.1M528.7 164.5v2.9M501.4 170v4.7M498.7 159.4v2.3M496 154.9v5.9M450.2 183.3v2.9M420.1 185.6v4M615.7 174.9v2.6M609.7 176.6v2.2M609.1 176.1v1.6M608.3 175.7v2.1M614.2 174.5v2.9M617.2 174v2.5" stroke="#4ce200" stroke-width=".9"/>
<path d="M453.6 24.3v1.9M451.4 34v3.9M449.9 46.2v2.9M447.5 65.9v3.8M450 47.9v3.7M445.4 74.2v2.1M447.6 57.4v3.7M450.4 57.2v2.6M447.5 60.5v2.9M454.1 27v2.5M450.1 49.7v3.3M448.5 60.6v3.7M454.2 18.8v2.2M454.8 19.8v2.5M451.3 53.3v1.9M450 61.9v2.8M446 74.3v2.7M449.1 66v2.7M444.2 76.6v2.8M449 56.3v1.7M451.9 51.3v2.9M453.3 43v3.3M452.5 48.2v3M447.9 62v3.2M451.6 55.8v3.4M449.2 63.2v3.8M443.2 76.8v3.5M454.2 20.6v2.1M450.6 53.9v2.9M453.7 35.7v2.4M455.6 20.9v3.4M451.7 45v4M450.1 46.2v1.9M454 20v2.4M444.7 74.7v3.2M453.4 26.5v3.1" stroke="#1e8400" stroke-width="1"/>
<path d="M437 82.9v3M450.3 46.1v3M452.2 51v3.5M450.9 47v1.6M447.6 64v1.9M453.7 30.2v3.7" stroke="#4ce200" stroke-width="1"/>
<path d="M492.9 173.4v3.3M493.9 172.5v4.3M494.9 173.8v3.9M498.9 172.4v3.7M499.9 173.6v3.1M501.9 172.6v2.6M502.9 173.3v4.3M503.9 172.3v4M504.9 173.1v3.5M506.9 173.5v2.9M507.9 172.3v3.7M508.9 172.4v3.2M509.9 173.3v4M512.9 173v3.4M513.9 172.5v4.3M514.9 173.4v3M515.9 173.8v3M516.9 173.4v3.4M517.9 173.6v2.6M520.9 172.7v4M521.9 172.8v4.4M522.9 173v4.3M523.9 172.9v4.5M524.9 173.4v3.5M525.9 173.7v2.9M526.9 172.5v2.7M528.9 173.7v2.7M529.9 173v3.8M530.9 172.4v2.5M531.9 173v4.4M532.9 172.9v2.6M533.9 173.6v2.5M534.9 172.8v3.6M535.9 173.5v3.1M536.9 173.4v2.7M537.9 172.8v3.9M543.9 173v4.3M544.9 173.2v2.8M547.9 173.5v4.1M548.9 173.3v3.7M549.9 172.9v4.4M551.9 172.6v3.5M552.9 172.9v3M553.9 172.6v3.7M554.9 172.4v2.6M555.9 173.4v3.7M556.9 173.8v3.5M557.9 172.5v4.3M558.9 173.1v4.2M559.9 173.2v4M560.9 173.5v2.6M561.9 172.4v4.3M562.9 172.8v3.7M563.9 172.4v2.9M564.9 173.6v3M565.9 173.6v4.3M566.9 173.4v2.5M567.9 172.5v3.7M568.9 173.3v4.5M569.9 172.7v4.5M570.9 173.6v3M571.9 173.4v3.7M572.9 172.7v4.2M573.9 173.6v2.7M574.9 173.6v2.7M575.9 172.8v2.7M576.9 173.1v2.5M577.9 172.5v2.8M578.9 172.7v4.1M579.9 173.4v4M580.9 173.7v3.1M582.9 173.7v3.4M583.9 173.6v4.4M584.9 173.3v3.3M585.9 173.1v4.2M587.9 173.7v2.5M588.9 172.7v4M590.9 172.7v3.2M591.9 173.4v3.3M592.9 173v4.5M593.9 172.9v3M594.9 173.6v3.1M595.9 172.3v3.2M596.9 173.2v3.2M597.9 172.5v3.1M598.9 173.8v3.5" stroke="#4ce200" stroke-width="1.1"/>
<path d="M468.4 176.6v2.7M437.8 180.6v2M446.4 174.9v3.4M483.9 179.1v1.7M516.8 176.7v2.6M474 176.1v3.1M513.8 179.6v2.1M488.5 177v1.5M490.1 180.5v1.8M518.8 173.8v3M466.9 175v2.6M519.8 175.5v2.4M509.7 177.6v1.5M458.3 174.4v2.7M435 175.3v1.8M442.2 173.8v2.5M443.4 179.7v2.9M454.5 179.3v2.3M458.2 175.4v2.3M443.9 176.1v2.3M436.7 180v3.1M515.1 178v1.7M520.4 179.7v2.1M495.8 178v2.6M444.9 178.6v1.8M469.6 180.3v2.4M496.2 173.5v1.8M466.4 177.9v2.2M442.1 174.1v3.1M471.6 173.8v3M497.1 174.4v1.7M519 179.5v1.7M445.1 176.1v2.7M512.1 174.1v2.8M485.8 177.2v1.9M478.8 177.9v1.6M513.5 177.2v1.8M464 180.9v1.9M437.8 178.4v1.6M509.3 177v2.7M478 174.2v1.8M488.2 176v1.8M470.4 177.6v1.7M471.5 180.7v1.7M479.9 175.5v3M440.5 180.3v2.4M510.4 178.3v2.3M451.8 174v2.6M434.9 176.9v3M505.5 176.8v3.3M456.3 180.9v2.1M519.6 173.4v2.9M477.5 177.2v1.7M509.2 175.1v1.6M478.5 179.5v2.5M519.6 179.4v3.4M469.2 177.3v1.7M446.2 175.2v3.5M488.9 174.1v2.6M520.1 174.7v1.9M509.9 177.9v3.1M456.4 180.2v2.3M503.8 179.7v3M460.9 181v3.2M481.9 180.7v2.8M504.4 176.8v2.3M512.8 173.6v1.8M458.8 180.4v2.5M491.8 174.1v3.2M440 179.4v2.9M466.4 174v2.1M503 179.2v1.8M514.3 175.7v1.8M481.2 180.1v3.4M508.9 174.2v1.7M437.6 178v2.9M446.5 175.7v3.3M517.3 174v3.4M466.9 174.3v2.3M455.3 177.4v2.7M465.6 176.3v2.3M444.5 177.9v1.5M494.6 173.7v2.7M457.2 180.7v1.6M508.9 173.5v2.9M523.8 180.1v2.7M436 177.1v2.9M453.2 179v3.5M446.2 174.2v1.8M516.3 174.9v2.7M513.1 179.8v1.7M481.7 180.8v2.1M440.6 177.6v2.5M529.3 175.6v1.9M462.9 180v3.2M508.4 178.4v3.3M441 177.8v1.8M467.8 180.2v2.9M438.9 176.3v2.8M475.7 178.4v3.5M507.8 180.7v3.2M439.3 173.9v2.4M461 177.4v2.3M500 175.7v2.8M442.2 174.2v2.9M436.2 181v2.5M442.2 179v3.5M506.3 174.3v3.3M451.1 177.9v2.5M473.7 174.1v2.6M500.9 180.3v1.5M474.7 173.5v3.2M509.9 179.2v1.6M492.2 180.5v1.5M480.4 175.1v2.9M464.7 176.3v1.8M503.3 180.9v2.2M466.2 174.8v2.8M527.9 176.9v2.1M498.2 174.4v1.7M446.9 180.4v2M487.5 179.6v2M477 179v1.6M498.4 174.6v3.2M456.3 179.4v2.1M482.7 174.7v2.6M452.1 181.1v2.4M511.3 180.9v2.8M493.1 173.6v1.7M438 177.7v2.5M442.1 173.5v2.5M451.4 173.8v2.7M462.1 176.3v2.3M471.5 177.9v1.6M470.1 180.6v1.7M487.2 174.1v2M476.1 180v2.6M501.9 177.8v1.6M504.7 180.7v2.1M505 178.6v2.4M455.2 178.9v1.9M462 176.9v3.2M447.4 177v2.3M518.7 174.4v2.7M523.6 178.9v1.8M447.6 178.8v2.5M450 175.2v2.9M472.7 178.5v1.6M486.8 179.8v1.5M471.9 178.2v2.9M435 178.6v2.8M465.3 176.5v2.8M503.4 180.2v3.3M483.2 180.7v2.6M522 176.9v2.2M516.1 175.1v3.5M476.8 174.4v2.3M486 176.3v2.8M482.5 179.5v3.3M483.7 177.6v3M471.8 177.8v2.7M452.2 181v2M494.1 175.5v3.5M471.6 177.2v2.6M521.5 178.8v2.3M451.1 176.7v1.7M477.9 180.7v2.7M445.7 175.3v1.8M484.4 177v2.8M509.6 178.7v3.1M447.5 175.1v1.6M505.5 176.5v2.4M483 175v2.4M478.5 175.8v2.4M497.5 177.1v3.2M528.4 179.4v3.4M449.7 175.5v2.9M442.5 173.4v1.9M480 179.1v3.4M453.9 176.5v2.8M526.3 174.5v2.5M518.2 180.6v2.4M525.6 180.7v3.3M473.5 173.4v2.4M493.3 177.3v3.1M455.2 181v1.5M455.8 179.7v2.4M511.7 178.4v2.9M450.2 178.6v2.1M467.5 174.6v3.1M493.5 178.5v3M517.4 180.9v2.8M469.3 180.3v1.7M471.3 179v3M445.8 175.4v2M494.2 178.5v1.9M465.1 180.8v1.9M521.5 178.3v2.3M437.7 174.5v2.4M445.1 180.3v2.1M457.4 178.1v2.2M488.5 179.7v3.2M502.9 174.5v2.3M525.7 176.9v2.1M471 180.1v1.8M477.1 175.9v2.7M491 179.1v2.2M466 175.3v2M439.2 178.4v1.7M523.1 178.6v2.4M495.2 180.4v2.7M510.1 179.7v2.5M473.6 178.2v1.6M486 175.6v3.2M511.7 178.3v2.5M441.6 177.5v1.9M505.8 178.3v3.3M446.2 177.5v2.7M524.8 178.5v1.9M465.8 175.1v1.8M522.5 175.9v3.2M464.5 173.6v2.4M524.2 175.1v1.7M493.9 181v1.7M474.5 177.3v2.4M469.5 181.1v2.6M455.7 180.9v2.3M510.9 174.4v2.5M477 177.7v3.1M457.8 180.4v1.7M511.2 176.2v3.1M507.7 178.5v2.4M475.4 178.4v1.6M477.5 178.3v2.6M495.9 178.4v2.2M497.1 177.6v3.4M490.6 173.9v2.4M453.6 173.7v2.6M506.4 178.7v3.1M487.4 176.7v1.9M473.6 179.3v2.4M522.8 176.2v2.3M462.4 178.1v2.3M508 176.9v2.4M485.7 180.8v3M522.3 178.4v2.9M529.8 174.9v1.7M467 175.1v1.6M435 180v2.9M511.9 176.3v2.7M499.2 177.6v3M477.2 178.3v3.2M440.8 175.4v3.2M483.7 178.4v2.1M458.7 175v1.9M439.3 177.1v3.1M525.8 180.5v3.5M450.8 180.4v1.7M516.9 181v2.5M520.2 174.1v2.7M438.8 177.1v3.3M447 179.2v1.5M500 173.6v1.9M445.6 176.5v2.8M450.2 178.9v2.1M459.6 176.1v2.5M507.1 178.9v3.1M484.1 177.6v2.7M476.3 180.5v2.3M456.9 177.2v2.8M468.3 177v2.2M440.8 181.1v2.7M440.1 176.7v3.1M450.9 180.2v1.7M486 178.3v3.2M435.7 174.6v2.9M443.1 177.5v3.3M511.3 180.5v3.4M527.5 177.7v1.7M498.9 178.9v2.3M476.2 180.3v2.4M492.5 177.1v1.9M482.4 175.8v2.2M524.7 177.4v2.7M518.5 178.5v1.7M460.9 175.8v2.1M483.5 180.3v3M487.6 177.3v3.4M519.7 174.7v3.4M479.9 176.7v2.8M497.4 179.2v1.8M443.3 173.9v2.7M470.8 175.3v2.4M497.8 180.4v1.6M485 179.2v3.2M441.2 176.7v2.1M479.3 179.3v2.8M490.4 176.7v1.7M496.8 179.7v2.2M491.9 175.7v1.9" stroke="#d8e000" stroke-width="1"/>
<path d="M492.9 174.8v2M493.9 175v2M498.9 174.8v2M499.9 175.4v2M501.9 175v2M503.9 174.7v2M504.9 175v2M506.9 174.9v2M512.9 175.3v2M515.9 174.5v2M516.9 175.4v2M517.9 175v2M520.9 174.5v2M522.9 174.7v2M524.9 175.1v2M528.9 175.1v2M529.9 175.4v2M530.9 175v2M531.9 174.6v2M533.9 175.2v2M535.9 175.1v2M537.9 174.8v2M543.9 175.3v2M548.9 174.5v2M549.9 175.1v2M552.9 175.1v2M553.9 175v2M555.9 174.6v2M557.9 174.6v2M563.9 175.1v2M565.9 175.1v2M566.9 174.9v2M567.9 174.6v2M574.9 175.1v2" stroke="#d8e000" stroke-width="1.1"/>
<path d="M442.2 156.9H483.4" stroke="#4ce200" stroke-width="3.8"/>
<path d="M443.3 156.9H481.3" stroke="#d8e000" stroke-width="2" stroke-dasharray="2.5 1"/>
<path d="M441.2 155.9h1.6v2h-1.6zM442.2 155.9h1.6v2h-1.6zM443.2 155.9h1.6v2h-1.6zM444.2 155.9h1.6v2h-1.6zM447.2 155.9h1.6v2h-1.6zM449.2 155.9h1.6v2h-1.6zM450.2 155.9h1.6v2h-1.6zM454.2 155.9h1.6v2h-1.6zM457.2 155.9h1.6v2h-1.6zM458.2 155.9h1.6v2h-1.6zM465.2 155.9h1.6v2h-1.6zM467.2 155.9h1.6v2h-1.6zM468.2 155.9h1.6v2h-1.6zM474.2 155.9h1.6v2h-1.6zM476.2 155.9h1.6v2h-1.6zM481.2 155.9h1.6v2h-1.6zM435.9 176.3h1.1v6.1h-1.1zM436.9 178h1.1v4.4h-1.1zM437.9 174.6h1.1v7.8h-1.1zM438.9 176.7h1.1v5.7h-1.1zM439.9 174.8h1.1v7.6h-1.1zM440.9 176.8h1.1v5.6h-1.1zM441.9 175.3h1.1v7.1h-1.1zM442.9 175.5h1.1v6.9h-1.1zM444.9 174.5h1.1v7.9h-1.1zM445.9 176.1h1.1v6.3h-1.1zM446.9 171.8h1.1v10.6h-1.1zM447.9 176.4h1.1v6h-1.1zM448.9 171.8h1.1v10.6h-1.1zM449.9 173.1h1.1v9.3h-1.1zM450.9 174.9h1.1v7.5h-1.1zM451.9 174.9h1.1v7.5h-1.1zM452.9 171.9h1.1v10.5h-1.1zM453.9 175.7h1.1v6.7h-1.1zM454.9 172.9h1.1v9.5h-1.1zM455.9 171.7h1.1v10.7h-1.1zM456.9 172h1.1v10.4h-1.1zM457.9 173.6h1.1v8.8h-1.1zM458.9 175.9h1.1v6.5h-1.1zM459.9 175.8h1.1v6.6h-1.1zM460.9 171.5h1.1v10.9h-1.1zM461.9 175.4h1.1v7h-1.1zM462.9 172.7h1.1v9.7h-1.1zM464.9 176.2h1.1v6.2h-1.1zM465.9 176.4h1.1v6h-1.1zM466.9 175.8h1.1v6.6h-1.1zM467.9 174.4h1.1v8h-1.1zM468.9 173.1h1.1v9.3h-1.1zM469.9 176.4h1.1v6h-1.1zM470.9 173.3h1.1v9.1h-1.1zM471.9 173.7h1.1v8.7h-1.1zM472.9 174.7h1.1v7.7h-1.1zM473.9 174.9h1.1v7.5h-1.1zM474.9 172h1.1v10.4h-1.1zM475.9 176.4h1.1v6h-1.1zM476.9 172.7h1.1v9.7h-1.1zM477.9 174.9h1.1v7.5h-1.1zM478.9 172.8h1.1v9.6h-1.1zM479.9 175.5h1.1v6.9h-1.1zM480.9 175.8h1.1v6.6h-1.1zM481.9 176.3h1.1v6.1h-1.1zM482.9 175.8h1.1v6.6h-1.1zM483.9 175h1.1v7.4h-1.1zM484.9 174.5h1.1v7.9h-1.1zM485.9 173.3h1.1v9.1h-1.1zM486.9 173.8h1.1v8.6h-1.1zM487.9 174.4h1.1v8h-1.1zM488.9 173.7h1.1v8.7h-1.1zM489.9 171.6h1.1v10.8h-1.1zM490.9 172.1h1.1v10.3h-1.1zM491.9 172.8h1.1v9.6h-1.1zM493.9 175.9h1.1v6.5h-1.1zM494.9 178.3h1.1v4.1h-1.1zM495.9 175.2h1.1v7.2h-1.1zM496.9 175.3h1.1v7.1h-1.1zM497.9 175.4h1.1v7h-1.1zM498.9 176.7h1.1v5.7h-1.1zM499.9 174.8h1.1v7.6h-1.1zM500.9 175.4h1.1v7h-1.1zM501.9 177.3h1.1v5.1h-1.1zM502.9 176.2h1.1v6.2h-1.1zM503.9 179.8h1.1v2.6h-1.1zM505.9 176.9h1.1v5.5h-1.1zM506.9 179.4h1.1v3h-1.1zM507.9 178.9h1.1v3.5h-1.1zM508.9 177.3h1.1v5.1h-1.1zM510.9 179.3h1.1v3.1h-1.1zM511.9 178.1h1.1v4.3h-1.1zM512.9 178.9h1.1v3.5h-1.1zM513.9 179.3h1.1v3.1h-1.1zM515.9 177.8h1.1v4.6h-1.1zM516.9 179.6h1.1v2.8h-1.1zM517.9 178.1h1.1v4.3h-1.1zM518.9 177.3h1.1v5.1h-1.1zM519.9 178.3h1.1v4.1h-1.1zM520.9 179.8h1.1v2.6h-1.1zM521.9 177h1.1v5.4h-1.1zM523.9 178.9h1.1v3.5h-1.1zM524.9 179.4h1.1v3h-1.1zM525.9 179.5h1.1v2.9h-1.1zM526.9 179.8h1.1v2.6h-1.1zM527.9 179.2h1.1v3.2h-1.1zM529.9 179.4h1.1v3h-1.1zM530.9 179.1h1.1v3.3h-1.1zM531.9 179.9h1.1v2.5h-1.1zM532.9 178.3h1.1v4.1h-1.1zM534.9 179.1h1.1v3.3h-1.1zM535.9 179.4h1.1v3h-1.1zM536.9 178.3h1.1v4.1h-1.1zM537.9 178.7h1.1v3.7h-1.1zM538.9 178.9h1.1v3.5h-1.1zM539.9 177.5h1.1v4.9h-1.1zM540.9 178.1h1.1v4.3h-1.1zM541.9 178.3h1.1v4.1h-1.1zM542.9 178.3h1.1v4.1h-1.1zM543.9 177.5h1.1v4.9h-1.1zM544.9 177.5h1.1v4.9h-1.1zM545.9 178.9h1.1v3.5h-1.1z" fill="#ff1400"/>
<path d="M436.4 175.1v1.6M437.4 176.8v1.6M438.4 173.4v1.6M439.4 175.5v1.6M440.4 173.6v1.6M441.4 175.6v1.6M442.4 174.1v1.6M443.4 174.3v1.6M445.4 173.3v1.6M446.4 174.9v1.6M447.4 170.6v1.6M448.4 175.2v1.6M449.4 170.6v1.6M450.4 171.9v1.6M451.4 173.7v1.6M452.4 173.7v1.6M453.4 170.7v1.6M454.4 174.5v1.6M455.4 171.7v1.6M456.4 170.5v1.6M457.4 170.8v1.6M458.4 172.4v1.6M459.4 174.7v1.6M460.4 174.6v1.6M461.4 170.3v1.6M462.4 174.2v1.6M463.4 171.5v1.6M465.4 175v1.6M466.4 175.2v1.6M467.4 174.6v1.6M468.4 173.2v1.6M469.4 171.9v1.6M470.4 175.2v1.6M471.4 172.1v1.6M472.4 172.5v1.6M473.4 173.5v1.6M474.4 173.7v1.6M475.4 170.8v1.6M476.4 175.2v1.6M477.4 171.5v1.6M478.4 173.7v1.6M479.4 171.6v1.6M480.4 174.3v1.6M481.4 174.6v1.6M482.4 175.1v1.6M483.4 174.6v1.6M484.4 173.8v1.6M485.4 173.3v1.6M486.4 172.1v1.6M487.4 172.6v1.6M488.4 173.2v1.6M489.4 172.5v1.6M490.4 170.4v1.6M491.4 170.9v1.6M492.4 171.6v1.6M494.4 174.7v1.6M495.4 177.1v1.6M496.4 174v1.6M497.4 174.1v1.6M498.4 174.2v1.6M499.4 175.5v1.6M500.4 173.6v1.6M501.4 174.2v1.6M502.4 176.1v1.6M503.4 175v1.6M504.4 178.6v1.6M506.4 175.7v1.6M507.4 178.2v1.6M508.4 177.7v1.6M509.4 176.1v1.6M511.4 178.1v1.6M512.4 176.9v1.6M513.4 177.7v1.6M514.4 178.1v1.6M516.4 176.6v1.6M517.4 178.4v1.6M518.4 176.9v1.6M519.4 176.1v1.6M520.4 177.1v1.6M521.4 178.6v1.6M522.4 175.8v1.6M524.4 177.7v1.6M525.4 178.2v1.6M526.4 178.3v1.6M527.4 178.6v1.6M528.4 178v1.6M530.4 178.2v1.6M531.4 177.9v1.6M532.4 178.7v1.6M533.4 177.1v1.6M535.4 177.9v1.6M536.4 178.2v1.6M537.4 177.1v1.6M538.4 177.5v1.6M539.4 177.7v1.6M540.4 176.3v1.6M541.4 176.9v1.6M542.4 177.1v1.6M543.4 177.1v1.6M544.4 176.3v1.6M545.4 176.3v1.6M546.4 177.7v1.6" stroke="#d8e000" stroke-width="1.1"/>
<path d="M406.3 203.3V201.2h1.1V201h1.1V200.5h1.1V200h1.1V199.7h1.1V199.8h1.1V199.4h1.1V199.2h1.1V199.2h1.1V199.2h1.1V199.1h1.1V199.2h1.1V199.1h1.1V199.2h1.1V199.3h1.1V199.2h1.1V198.9h1.1V199.1h1.1V199.2h1.1V199.2h1.1V199.1h1.1V199.2h1.1V198.9h1.1V199.2h1.1V199.1h1.1V198.8h1.1V198.9h1.1V198.9h1.1V199.1h1.1V199.1h1.1V198.9h1.1V198.7h1.1V199h1.1V199.1h1.1V198.7h1.1V199.3h1.1V199h1.1V198.7h1.1V199.3h1.1V198.8h1.1V199h1.1V198.7h1.1V199.3h1.1V199.2h1.1V199h1.1V198.8h1.1V199h1.1V199.1h1.1V198.8h1.1V199.2h1.1V198.7h1.1V199h1.1V199.1h1.1V198.9h1.1V198.9h1.1V199.3h1.1V199.2h1.1V198.8h1.1V199.3h1.1V199h1.1V198.9h1.1V199.1h1.1V198.8h1.1V198.9h1.1V199.2h1.1V199.2h1.1V198.9h1.1V198.8h1.1V198.8h1.1V198.9h1.1V198.9h1.1V199.1h1.1V198.8h1.1V199.1h1.1V198.8h1.1V198.8h1.1V199.3h1.1V199.2h1.1V199.2h1.1V199h1.1V199.3h1.1V198.8h1.1V198.8h1.1V198.8h1.1V199.2h1.1V199.1h1.1V199.1h1.1V198.8h1.1V199h1.1V198.9h1.1V199.1h1.1V199.2h1.1V199.3h1.1V198.8h1.1V199.3h1.1V199.3h1.1V199.1h1.1V199.1h1.1V199.1h1.1V198.9h1.1V199.2h1.1V199.3h1.1V198.9h1.1V199.3h1.1V199.1h1.1V199h1.1V199.1h1.1V199h1.1V199h1.1V199.2h1.1V199h1.1V199.1h1.1V199.3h1.1V199.3h1.1V199.1h1.1V199.1h1.1V198.9h1.1V198.9h1.1V199.2h1.1V198.8h1.1V199.2h1.1V199.3h1.1V199h1.1V198.9h1.1V199.4h1.1V199.2h1.1V198.8h1.1V199.4h1.1V199.3h1.1V199.4h1.1V198.9h1.1V199h1.1V199.3h1.1V199.4h1.1V199.2h1.1V199.4h1.1V199.4h1.1V198.9h1.1V199.2h1.1V199.1h1.1V199.2h1.1V199.2h1.1V198.9h1.1V198.9h1.1V199.2h1.1V199.1h1.1V198.8h1.1V199.2h1.1V199.4h1.1V198.9h1.1V199.1h1.1V199h1.1V199.3h1.1V199.7h1.1V206.9h-1.1V207.3h-1.1V207.6h-1.1V207.5h-1.1V207.7h-1.1V207.2h-1.1V207.4h-1.1V207.8h-1.1V207.5h-1.1V207.4h-1.1V207.7h-1.1V207.7h-1.1V207.4h-1.1V207.4h-1.1V207.5h-1.1V207.4h-1.1V207.7h-1.1V207.2h-1.1V207.2h-1.1V207.4h-1.1V207.2h-1.1V207.3h-1.1V207.6h-1.1V207.7h-1.1V207.2h-1.1V207.3h-1.1V207.2h-1.1V207.8h-1.1V207.4h-1.1V207.2h-1.1V207.7h-1.1V207.6h-1.1V207.3h-1.1V207.4h-1.1V207.8h-1.1V207.4h-1.1V207.7h-1.1V207.7h-1.1V207.5h-1.1V207.5h-1.1V207.3h-1.1V207.3h-1.1V207.5h-1.1V207.6h-1.1V207.4h-1.1V207.6h-1.1V207.6h-1.1V207.5h-1.1V207.6h-1.1V207.5h-1.1V207.3h-1.1V207.7h-1.1V207.3h-1.1V207.4h-1.1V207.7h-1.1V207.5h-1.1V207.5h-1.1V207.5h-1.1V207.3h-1.1V207.3h-1.1V207.8h-1.1V207.3h-1.1V207.4h-1.1V207.5h-1.1V207.7h-1.1V207.6h-1.1V207.8h-1.1V207.5h-1.1V207.5h-1.1V207.4h-1.1V207.8h-1.1V207.8h-1.1V207.8h-1.1V207.3h-1.1V207.6h-1.1V207.4h-1.1V207.4h-1.1V207.3h-1.1V207.8h-1.1V207.8h-1.1V207.5h-1.1V207.8h-1.1V207.5h-1.1V207.7h-1.1V207.7h-1.1V207.8h-1.1V207.8h-1.1V207.7h-1.1V207.4h-1.1V207.4h-1.1V207.7h-1.1V207.8h-1.1V207.5h-1.1V207.7h-1.1V207.6h-1.1V207.3h-1.1V207.8h-1.1V207.4h-1.1V207.3h-1.1V207.7h-1.1V207.7h-1.1V207.5h-1.1V207.6h-1.1V207.9h-1.1V207.4h-1.1V207.8h-1.1V207.5h-1.1V207.6h-1.1V207.8h-1.1V207.6h-1.1V207.4h-1.1V207.3h-1.1V207.9h-1.1V207.6h-1.1V207.8h-1.1V207.3h-1.1V207.9h-1.1V207.6h-1.1V207.3h-1.1V207.9h-1.1V207.5h-1.1V207.6h-1.1V207.9h-1.1V207.7h-1.1V207.5h-1.1V207.5h-1.1V207.7h-1.1V207.7h-1.1V207.8h-1.1V207.5h-1.1V207.4h-1.1V207.7h-1.1V207.4h-1.1V207.5h-1.1V207.4h-1.1V207.4h-1.1V207.5h-1.1V207.7h-1.1V207.4h-1.1V207.3h-1.1V207.4h-1.1V207.5h-1.1V207.4h-1.1V207.5h-1.1V207.4h-1.1V207.4h-1.1V207.4h-1.1V207.2h-1.1V206.8h-1.1V206.9h-1.1V206.6h-1.1V206.1h-1.1V205.6h-1.1V205.4h-1.1z" fill="#4ce200"/>
<path d="M406.3 203.3V202h1.1V201.8h1.1V201.3h1.1V200.9h1.1V200.5h1.1V200.6h1.1V200.3h1.1V200.1h1.1V200.1h1.1V200.1h1.1V199.9h1.1V200h1.1V199.9h1.1V200.1h1.1V200.2h1.1V200h1.1V199.7h1.1V200h1.1V200h1.1V200h1.1V200h1.1V200h1.1V199.8h1.1V200.1h1.1V199.9h1.1V199.7h1.1V199.8h1.1V199.8h1.1V199.9h1.1V199.9h1.1V199.7h1.1V199.6h1.1V199.9h1.1V200h1.1V199.6h1.1V200.1h1.1V199.8h1.1V199.6h1.1V200.1h1.1V199.6h1.1V199.8h1.1V199.6h1.1V200.1h1.1V200.1h1.1V199.9h1.1V199.7h1.1V199.9h1.1V200h1.1V199.6h1.1V200h1.1V199.6h1.1V199.8h1.1V199.9h1.1V199.7h1.1V199.7h1.1V200.2h1.1V200h1.1V199.7h1.1V200.1h1.1V199.9h1.1V199.7h1.1V199.9h1.1V199.6h1.1V199.8h1.1V200h1.1V200h1.1V199.8h1.1V199.6h1.1V199.6h1.1V199.7h1.1V199.7h1.1V199.9h1.1V199.7h1.1V199.9h1.1V199.6h1.1V199.6h1.1V200.2h1.1V200h1.1V200.1h1.1V199.9h1.1V200.1h1.1V199.6h1.1V199.6h1.1V199.6h1.1V200.1h1.1V200h1.1V200h1.1V199.6h1.1V199.9h1.1V199.7h1.1V199.9h1.1V200h1.1V200.1h1.1V199.6h1.1V200.1h1.1V200.1h1.1V199.9h1.1V200h1.1V199.9h1.1V199.7h1.1V200.1h1.1V200.2h1.1V199.8h1.1V200.2h1.1V200h1.1V199.8h1.1V200h1.1V199.8h1.1V199.8h1.1V200h1.1V199.8h1.1V199.9h1.1V200.1h1.1V200.1h1.1V200h1.1V199.9h1.1V199.8h1.1V199.7h1.1V200.1h1.1V199.7h1.1V200h1.1V200.2h1.1V199.9h1.1V199.7h1.1V200.2h1.1V200h1.1V199.7h1.1V200.2h1.1V200.2h1.1V200.2h1.1V199.8h1.1V199.8h1.1V200.2h1.1V200.2h1.1V200.1h1.1V200.2h1.1V200.2h1.1V199.8h1.1V200h1.1V199.9h1.1V200.1h1.1V200.1h1.1V199.7h1.1V199.8h1.1V200.1h1.1V199.9h1.1V199.7h1.1V200.1h1.1V200.2h1.1V199.7h1.1V200h1.1V199.9h1.1V200.2h1.1V200.6h1.1V206h-1.1V206.4h-1.1V206.7h-1.1V206.6h-1.1V206.9h-1.1V206.4h-1.1V206.5h-1.1V206.9h-1.1V206.7h-1.1V206.5h-1.1V206.8h-1.1V206.9h-1.1V206.5h-1.1V206.5h-1.1V206.7h-1.1V206.6h-1.1V206.8h-1.1V206.4h-1.1V206.4h-1.1V206.5h-1.1V206.4h-1.1V206.4h-1.1V206.8h-1.1V206.8h-1.1V206.4h-1.1V206.4h-1.1V206.4h-1.1V206.9h-1.1V206.6h-1.1V206.4h-1.1V206.9h-1.1V206.7h-1.1V206.4h-1.1V206.6h-1.1V206.9h-1.1V206.5h-1.1V206.9h-1.1V206.8h-1.1V206.7h-1.1V206.6h-1.1V206.5h-1.1V206.5h-1.1V206.7h-1.1V206.8h-1.1V206.6h-1.1V206.8h-1.1V206.8h-1.1V206.6h-1.1V206.8h-1.1V206.6h-1.1V206.4h-1.1V206.8h-1.1V206.4h-1.1V206.5h-1.1V206.9h-1.1V206.7h-1.1V206.6h-1.1V206.7h-1.1V206.5h-1.1V206.5h-1.1V207h-1.1V206.5h-1.1V206.6h-1.1V206.7h-1.1V206.9h-1.1V206.7h-1.1V207h-1.1V206.6h-1.1V206.6h-1.1V206.5h-1.1V207h-1.1V207h-1.1V207h-1.1V206.5h-1.1V206.7h-1.1V206.5h-1.1V206.6h-1.1V206.4h-1.1V207h-1.1V207h-1.1V206.7h-1.1V206.9h-1.1V206.7h-1.1V206.9h-1.1V206.9h-1.1V207h-1.1V207h-1.1V206.8h-1.1V206.6h-1.1V206.6h-1.1V206.8h-1.1V207h-1.1V206.7h-1.1V206.9h-1.1V206.7h-1.1V206.5h-1.1V206.9h-1.1V206.6h-1.1V206.4h-1.1V206.9h-1.1V206.9h-1.1V206.7h-1.1V206.8h-1.1V207h-1.1V206.6h-1.1V207h-1.1V206.6h-1.1V206.7h-1.1V206.9h-1.1V206.7h-1.1V206.5h-1.1V206.5h-1.1V207h-1.1V206.8h-1.1V207h-1.1V206.5h-1.1V207h-1.1V206.8h-1.1V206.5h-1.1V207h-1.1V206.6h-1.1V206.7h-1.1V207h-1.1V206.9h-1.1V206.7h-1.1V206.7h-1.1V206.8h-1.1V206.8h-1.1V206.9h-1.1V206.7h-1.1V206.5h-1.1V206.8h-1.1V206.6h-1.1V206.6h-1.1V206.6h-1.1V206.6h-1.1V206.6h-1.1V206.9h-1.1V206.6h-1.1V206.4h-1.1V206.5h-1.1V206.7h-1.1V206.6h-1.1V206.7h-1.1V206.5h-1.1V206.5h-1.1V206.5h-1.1V206.3h-1.1V206h-1.1V206.1h-1.1V205.7h-1.1V205.3h-1.1V204.8h-1.1V204.6h-1.1z" fill="#d8e000"/>
<path d="M406.3 203.3V202.7h1.1V202.5h1.1V202h1.1V201.5h1.1V201.2h1.1V201.3h1.1V200.9h1.1V200.7h1.1V200.7h1.1V200.7h1.1V200.6h1.1V200.7h1.1V200.6h1.1V200.7h1.1V200.8h1.1V200.7h1.1V200.4h1.1V200.6h1.1V200.7h1.1V200.7h1.1V200.6h1.1V200.7h1.1V200.4h1.1V200.7h1.1V200.6h1.1V200.3h1.1V200.4h1.1V200.4h1.1V200.6h1.1V200.6h1.1V200.4h1.1V200.2h1.1V200.5h1.1V200.6h1.1V200.2h1.1V200.8h1.1V200.5h1.1V200.2h1.1V200.8h1.1V200.3h1.1V200.5h1.1V200.2h1.1V200.8h1.1V200.7h1.1V200.5h1.1V200.3h1.1V200.5h1.1V200.6h1.1V200.3h1.1V200.7h1.1V200.2h1.1V200.5h1.1V200.6h1.1V200.4h1.1V200.4h1.1V200.8h1.1V200.7h1.1V200.3h1.1V200.8h1.1V200.5h1.1V200.4h1.1V200.6h1.1V200.3h1.1V200.4h1.1V200.7h1.1V200.7h1.1V200.4h1.1V200.3h1.1V200.3h1.1V200.4h1.1V200.4h1.1V200.6h1.1V200.3h1.1V200.6h1.1V200.3h1.1V200.3h1.1V200.8h1.1V200.7h1.1V200.7h1.1V200.5h1.1V200.8h1.1V200.3h1.1V200.3h1.1V200.3h1.1V200.7h1.1V200.6h1.1V200.6h1.1V200.3h1.1V200.5h1.1V200.4h1.1V200.6h1.1V200.7h1.1V200.8h1.1V200.3h1.1V200.8h1.1V200.8h1.1V200.6h1.1V200.6h1.1V200.6h1.1V200.4h1.1V200.7h1.1V200.8h1.1V200.4h1.1V200.8h1.1V200.6h1.1V200.5h1.1V200.6h1.1V200.5h1.1V200.5h1.1V200.7h1.1V200.5h1.1V200.6h1.1V200.8h1.1V200.8h1.1V200.6h1.1V200.6h1.1V200.4h1.1V200.4h1.1V200.7h1.1V200.3h1.1V200.7h1.1V200.8h1.1V200.5h1.1V200.4h1.1V200.9h1.1V200.7h1.1V200.3h1.1V200.9h1.1V200.8h1.1V200.9h1.1V200.4h1.1V200.5h1.1V200.8h1.1V200.9h1.1V200.7h1.1V200.9h1.1V200.9h1.1V200.4h1.1V200.7h1.1V200.6h1.1V200.7h1.1V200.7h1.1V200.4h1.1V200.4h1.1V200.7h1.1V200.6h1.1V200.3h1.1V200.7h1.1V200.9h1.1V200.4h1.1V200.6h1.1V200.5h1.1V200.8h1.1V201.2h1.1V205.4h-1.1V205.8h-1.1V206.1h-1.1V206h-1.1V206.2h-1.1V205.7h-1.1V205.9h-1.1V206.3h-1.1V206h-1.1V205.9h-1.1V206.2h-1.1V206.2h-1.1V205.9h-1.1V205.9h-1.1V206h-1.1V205.9h-1.1V206.2h-1.1V205.7h-1.1V205.7h-1.1V205.9h-1.1V205.7h-1.1V205.8h-1.1V206.1h-1.1V206.2h-1.1V205.7h-1.1V205.8h-1.1V205.7h-1.1V206.3h-1.1V205.9h-1.1V205.7h-1.1V206.2h-1.1V206.1h-1.1V205.8h-1.1V205.9h-1.1V206.3h-1.1V205.9h-1.1V206.2h-1.1V206.2h-1.1V206h-1.1V206h-1.1V205.8h-1.1V205.8h-1.1V206h-1.1V206.1h-1.1V205.9h-1.1V206.1h-1.1V206.1h-1.1V206h-1.1V206.1h-1.1V206h-1.1V205.8h-1.1V206.2h-1.1V205.8h-1.1V205.9h-1.1V206.2h-1.1V206h-1.1V206h-1.1V206h-1.1V205.8h-1.1V205.8h-1.1V206.3h-1.1V205.8h-1.1V205.9h-1.1V206h-1.1V206.2h-1.1V206.1h-1.1V206.3h-1.1V206h-1.1V206h-1.1V205.9h-1.1V206.3h-1.1V206.3h-1.1V206.3h-1.1V205.8h-1.1V206.1h-1.1V205.9h-1.1V205.9h-1.1V205.8h-1.1V206.3h-1.1V206.3h-1.1V206h-1.1V206.3h-1.1V206h-1.1V206.2h-1.1V206.2h-1.1V206.3h-1.1V206.3h-1.1V206.2h-1.1V205.9h-1.1V205.9h-1.1V206.2h-1.1V206.3h-1.1V206h-1.1V206.2h-1.1V206.1h-1.1V205.8h-1.1V206.3h-1.1V205.9h-1.1V205.8h-1.1V206.2h-1.1V206.2h-1.1V206h-1.1V206.1h-1.1V206.4h-1.1V205.9h-1.1V206.3h-1.1V206h-1.1V206.1h-1.1V206.3h-1.1V206.1h-1.1V205.9h-1.1V205.8h-1.1V206.4h-1.1V206.1h-1.1V206.3h-1.1V205.8h-1.1V206.4h-1.1V206.1h-1.1V205.8h-1.1V206.4h-1.1V206h-1.1V206.1h-1.1V206.4h-1.1V206.2h-1.1V206h-1.1V206h-1.1V206.2h-1.1V206.2h-1.1V206.3h-1.1V206h-1.1V205.9h-1.1V206.2h-1.1V205.9h-1.1V206h-1.1V205.9h-1.1V205.9h-1.1V206h-1.1V206.2h-1.1V205.9h-1.1V205.8h-1.1V205.9h-1.1V206h-1.1V205.9h-1.1V206h-1.1V205.9h-1.1V205.9h-1.1V205.9h-1.1V205.7h-1.1V205.3h-1.1V205.4h-1.1V205.1h-1.1V204.6h-1.1V204.1h-1.1V203.9h-1.1z" fill="#ff1400"/>
<ellipse cx="581.2" cy="203.3" rx="5.2" ry="3.8" fill="#4ce200"/>
<ellipse cx="581.2" cy="203.3" rx="4.2" ry="2.8" fill="#d8e000"/>
<ellipse cx="581.2" cy="203.3" rx="3.4" ry="2.2" fill="#ff1400"/>
<ellipse cx="596.5" cy="203.3" rx="5.1" ry="3.5" fill="#4ce200"/>
<ellipse cx="596.5" cy="203.3" rx="4.1" ry="2.5" fill="#d8e000"/>
<ellipse cx="598.6" cy="203.3" rx="3.3" ry="2.7" fill="#4ce200"/>
<ellipse cx="598.6" cy="203.3" rx="2.3" ry="1.7" fill="#d8e000"/>
<ellipse cx="598.6" cy="203.3" rx="1.5" ry="1.1" fill="#ff1400"/>
<ellipse cx="607.6" cy="203.3" rx="5.1" ry="3.4" fill="#4ce200"/>
<ellipse cx="607.6" cy="203.3" rx="4.1" ry="2.4" fill="#d8e000"/>
<ellipse cx="608.1" cy="203.3" rx="3" ry="2.4" fill="#4ce200"/>
<ellipse cx="608.1" cy="203.3" rx="2" ry="1.4" fill="#d8e000"/>
<ellipse cx="608.1" cy="203.3" rx="1.2" ry=".8" fill="#ff1400"/>
<path d="M464.2 201.5v1.1M476.2 204v1M548.6 203v2.1M558.3 202.7v1.6M455.2 202.3v2.1M561.9 203.2v1.5M438.2 201.3v2.3M559.8 204.6v2.4M437.3 200.6v2.3M517.1 202.8v2.5M510.2 201.2v1.8M551.6 202.5v2M541.2 202.1v1.7M520.3 203v1.6M553.8 204.4v2.1M422.9 201.7v2.3M501.8 201.4v2.1M534.3 201.3v2.1M525.7 202.3v2.1M480 204.4v1.4M446.1 203.3v1.5M442 201.1v1.8M530.7 202.3v1M459.4 200.7v1.8M444.7 201.3v1M434.6 202.8v1.8M424.5 202.7v2M465 203.4v2.2M467.7 203.1v2.4M438.1 203.1v1.2M523.1 201.7v1.6M455.9 204.5v1.8M436.1 201.2v2.5M466.4 200.9v1.3M429.1 204.8v1.2M424.9 204.3v2.2M457.8 203.1v1.4M533 204v2.5M457 202.5v2M460.2 201.3v1.9M561.6 201.6v2.3M510.8 202.5v1.6M552.8 204.6v1.7M507.6 203.7v1.1M458.2 203.2v2.4M477.6 204.5v2M544 200.6v1.6M453.9 204.6v1.4M548.9 200.6v2.4M447.3 201.2v1.5M571.2 204v1.2M466.6 201.4v1.7M573.6 203.1v1.4M528.5 204v2.2M502.2 204.6v1.3M509.7 204.7v1.5M537.3 204.2v1.4M506.8 200.9v2M501.3 203v1.8M549.2 201.8v1.8M417.5 201.8v1.5M472.5 204.1v1.6M454.4 201.6v1M433.6 204.3v1.2M481.5 200.8v2.1M452.5 202.6v1.9M453.4 204.4v2.5M460.9 203.5v1.5M554.3 202.4v2.2M417.7 201.4v1.7M538 201v2.1M525 203.1v1M537.6 204.8v2M512.5 201.9v1.1M467.1 200.7v2.1M434.9 200.9v2.4M466.8 204.2v1.8M547.5 200.6v1.5M564.7 204.3v2.1M522.5 204.1v1M536.2 201v2.4M565.6 201v1.4M434.4 200.6v1.9M449.1 203.9v1.2M487.7 203.8v1.6M518.5 201.7v1.4M479 203.4v1.9M545.8 202.2v2.1M492.9 204.1v2.3M467.9 203.3v1.4M560 201.8v1.4M485 200.5v1.3M499.7 203.9v1.5M550.8 202v1.5M480.7 201.8v1.5M486 203.4v2M545.2 204.6v1.5M505.2 204v1.3M511.7 200.6v2.2M533.6 204.2v1.2M430.3 201.3v1.8M540.9 203v2M549.3 201v1.3M432.2 203.3v1.7M452.4 200.6v2.1M528.4 203.3v1.7M540.9 200.6v1.4M459.9 202v2.5M535.3 200.9v1.9M504.8 201.9v1.8M524.8 201.2v1.3M520.5 200.5v1.9M538 204.6v2.3M433.8 204.2v2.2M447.4 200.9v1.5M506 202.6v1.9M481.5 200.8v2.2M480.1 201.6v2.1M549.4 203.8v2.3M557.9 204.6v1" stroke="#b03800" stroke-width=".8"/>
<path d="M371.4 202.5H677.9" stroke="#c0c0c0" stroke-dasharray="1.4 .95"/>
<rect x="371.4" y="181.5" width="306.5" height="1" fill="#e2e2e2"/>
<path d="M371.4 160.5H677.9" stroke="#c0c0c0" stroke-dasharray="1.4 .95"/>
<rect x="371.4" y="138.8" width="306.5" height="1.5" fill="#7c7c7c"/>
<path d="M371.4 118.5H677.9" stroke="#c0c0c0" stroke-dasharray="1.4 .95"/>
<rect x="371.4" y="97.1" width="306.5" height="1" fill="#e2e2e2"/>
<path d="M371.4 76.5H677.9" stroke="#c0c0c0" stroke-dasharray="1.4 .95"/>
<rect x="371.4" y="54.9" width="306.5" height="1" fill="#e2e2e2"/>
<path d="M371.4 34.5H677.9" stroke="#c0c0c0" stroke-dasharray="1.4 .95"/>
<rect x="371.4" y="12.5" width="306.5" height="1" fill="#6c6c6c"/>
<rect x="413" y="12.5" width="1" height="211.5" fill="#dcdcdc"/>
<rect x="466" y="12.5" width="1" height="211.5" fill="#dcdcdc"/>
<rect x="519" y="12.5" width="1" height="211.5" fill="#dcdcdc"/>
<rect x="572" y="12.5" width="1" height="211.5" fill="#dcdcdc"/>
<rect x="625" y="12.5" width="1" height="211.5" fill="#dcdcdc"/>
<rect x="676.4" y="12.5" width="1" height="211.5" fill="#dcdcdc"/>
<path d="M371.4 12.5V224H677.9M371.4 224h-3.2M371.4 202.9h-3.2M371.4 181.8h-3.2M371.4 160.7h-3.2M371.4 139.6h-3.2M371.4 118.5h-3.2M371.4 97.4h-3.2M371.4 76.3h-3.2M371.4 55.2h-3.2M371.4 34.1h-3.2M371.4 13h-3.2M371.4 224v3.4M413.7 224v3.4M466.5 224v3.4M519.4 224v3.4M572.2 224v3.4M625.1 224v3.4M677.4 224v3.4" stroke="#000"/>
<g font-family="Liberation Sans, Arial, sans-serif" font-size="7.7" fill="#111">
<text x="371.4" y="235.6" text-anchor="middle">1</text>
<text x="413.7" y="235.6" text-anchor="middle">5</text>
<text x="466.5" y="235.6" text-anchor="middle">10</text>
<text x="519.4" y="235.6" text-anchor="middle">15</text>
<text x="572.2" y="235.6" text-anchor="middle">20</text>
<text x="625.1" y="235.6" text-anchor="middle">25</text>
<text x="677.9" y="235.6" text-anchor="middle">30</text>
<text x="525.1" y="246.8" text-anchor="middle">Frequency (MHz)</text>
</g>
<text x="524" y="7.1" text-anchor="middle" font-family="Liberation Sans, Arial, sans-serif" font-size="9.1" fill="#222">NICT Ionosonde (Kokubunji) 20230530 1100 JST</text>
<text x="643.8" y="43.8" font-family="Liberation Serif, Times New Roman, serif" font-weight="bold" font-style="italic" font-size="29.5" fill="#fff">b</text>
</g>
<g fill="none">
<rect x="34.3" y="284.3" width="645.6" height="156.2" fill="url(#nz)"/>
<path d="M552.8 361h1M429.8 290.8h1M282.4 431.7h1M629.2 336.6h1M143.4 421.2h1M462.5 423.1h2M581.9 382.4h2M665.3 395.2h2M544.7 415.1h2M615.4 305.4h1M446.4 401.1h1.5M116.4 364.8h1M433.2 312.4h1M422.2 359.8h1M283.6 412.6h1M197.3 388h2M559.1 403.6h1M498.9 352.7h2M494.2 299.1h2M472 324.1h1.5M640.6 427.7h1M464.2 383.7h1M374.4 293h1M628 415.4h1M456.9 308.1h2M337.1 403.1h1.5M266 337.5h1.5M471.4 381.6h1.5M440.8 380h2M424.3 396.6h2M532.1 394.3h1M665.8 394.3h1.5M608.7 361.2h2M428.4 353.9h1M197.3 348.9h1.5M404.6 432.1h2M120 334.8h2M455.5 393.5h1M205 385.9h1M450.4 391.2h1M478.8 329.7h1M559.4 362.1h1.5M534.3 323.5h1M204.5 420.2h1M313.9 398.8h1M151.6 339.9h1M83 333.9h2M37.6 335.7h1M358.6 292h1M579.5 410h1M97.8 422h1M501.1 342.1h1M191.7 332.9h1M496.1 350.1h2M593.6 430.4h2M268.1 374.7h1.5M137.5 346.1h1.5M286.7 395h1M446.2 416.1h1M592.6 315.7h1M417.6 325.5h1M45.1 328.6h1.5M632 378.1h1M73.5 338.9h2M144.9 371h1M561.1 353.8h1M635.2 341.5h2M254.9 384.4h1M516.7 428.9h1.5M529.5 394.5h1.5M535.6 421.3h1.5M605.7 414.5h1.5M664 296h2M143 392.9h1M398.8 421.8h1.5M623.3 402.7h2M655.9 366.7h2M490.1 419.3h1M203.1 332.4h1M138.8 376.2h1M253.2 364h2M488.6 378.9h1M216.4 384.3h1.5M572.6 318.1h1M511.2 292.9h2M115.1 417.5h1M586.2 297.4h1M552.5 398.3h2M281.6 332.1h1M474.4 392h2M470.1 345.4h2M61.5 318.4h2M419.7 291.2h2M554.7 336.8h1.5M73.8 306.8h2M448.5 417.4h1M418.1 356.1h1M576.5 312.2h2M207.3 343h1M595.7 402.4h2M323.9 391.6h1.5M427.5 421.8h2M53.3 407.4h2M551.6 314.6h1M585 357.6h1M265.3 338.5h2M220.7 325.4h1M484.3 403.8h2M105.7 333.4h2M486.5 344.8h1M454.9 424.7h2M93.5 322.3h1M542.5 308.6h1M92.9 373.9h1.5M621.3 393.6h2M165.4 335h1M412.1 312.4h2M423.5 406.8h2M93 429.9h1.5M657.3 367.4h1.5M523 352.1h1M559.7 427h1M428.4 287.6h1M518.1 418.5h1M409.8 385.4h1M365.1 410.8h1M627.5 338.7h1.5M573.5 337.8h2M632 404.9h2M315.8 388.8h1M647 324.5h1M404.4 424.2h2M404 424.9h1.5M638.7 403.6h1M545.2 359.2h1.5M369.2 411.9h1M242.7 385.8h1.5M295.7 371.8h1.5M521.3 302.9h1M648.4 422.5h1M98.6 360.1h2M307.4 312.2h1M665.3 387.8h2M417.8 318.9h1M409.5 362.8h1.5M101.9 325.8h1M170.5 365.5h1M378.8 373.3h1.5M112.6 363.3h1M647 383.9h2M646.6 428.8h1M529.1 408.3h1M663.3 425h1M424.9 428.3h1M511.3 421.1h1M577 403.8h1M558.1 297h1M98.5 368.3h2M574.5 363.1h1M183.6 336.9h2M600.2 343h1M145.5 325.5h2M504.2 350.3h1M653.3 396.5h1M220.9 352.7h1M524.4 422.1h2M436.2 357.4h1.5M400.8 403.8h2M61.6 402.6h1.5M631.8 313.7h2M491.3 416.2h1M474.5 397.6h1M461.7 426.3h1M229.2 336.4h2M518.3 354.6h1M308.1 403h1M573.5 352.7h2M273.9 379.2h1M532.1 350h1M297.2 338.8h1M40.1 374.7h2M674.3 424h2M315.5 363.8h1.5M669.2 341.2h1M423.1 342.8h2M564.4 308.4h2M551.8 323.5h2M223.6 354.8h2M486.3 407.2h2M146.7 327.4h1.5M43.1 344.8h1M382.2 371.6h2M655.4 366.8h2M669.5 322.7h1M257.3 427.1h1M536.1 429.8h1M432.3 334.1h1M258.7 400.5h2M473 322.4h1.5M534.9 353.7h1.5M167.7 343.2h1M92.4 423.5h1M444.3 326.5h1.5M654 344.2h2M200.6 325.7h1.5M551.7 406.6h1M468.3 379.1h1.5M586.1 416.8h1M651.7 348.5h1M139.8 428.9h1.5M431 349.8h1M37.3 333h1M310.5 350.9h2M242.3 377h2M190.4 315.9h2M531.8 324.8h2M277.1 430.8h1M564.8 332.1h1M501.6 350.3h2M460.1 316h1M208.7 374.3h1.5M412.4 312h1M177.7 349.6h1.5M167.8 338.1h1.5M451.8 371.3h1M151.9 310.6h2M422.6 359.6h2M200.1 288.1h1M541.2 421.5h1M521.3 415.9h1M77 416.2h1M543 292.2h1M500.8 364.9h1.5M71.1 308.5h1M580.7 339.4h1.5M652.1 357.2h2M385.8 415.3h1M114.4 328.4h1M247.3 301.2h2M535.7 351.7h2M597.9 423.5h2M453 286.9h1M449 423.7h1M339.6 392.9h1.5M60.3 320.8h1M68 345.4h1M554.9 406h1M440.3 405.6h1M578.4 299.6h1M664.6 328.9h1M667.2 431.4h1.5M519.3 413.6h2M51.9 332h1.5M567.3 415.8h1.5M562.1 305.4h2M573.3 417.5h2M542 419.7h2M169.4 326.1h1.5M201 352.6h1M577.6 351.2h1M417.9 295.6h1M175.7 344h2M243.9 389.6h1.5M653.1 289h1.5M58 325.2h1M345.6 341.4h1.5M450.2 371.3h2M654.4 343.7h1.5M653.4 337.5h2M213.2 328.2h1M591.8 420h1M331.4 411.7h1.5M666.4 427.8h1M643.7 371.1h1.5M623.7 415.2h1.5M73.6 394.1h1.5M236.9 391h2M641.7 356.2h1.5M247.6 342.7h2M669.7 302.4h2" stroke="#1a6c00" stroke-width="1"/>
<path d="M479.8 349.9h2M450.9 423.4h1M551.2 399.3h1M232.6 364.2h1M591.3 381.4h2M487.3 354.9h1M422.6 317.5h1.5M192.4 420.2h1M608.3 340.1h2M219.8 379.7h1M501.5 362.7h1M615.9 385.5h1M189 373.7h1.5M61.2 411.7h1.5M411 403.5h1M276.7 343.5h1.5M418.7 387.4h1.5M416.7 334.7h1M362.6 431.9h2M356 426.9h1.5M90.9 357.7h1.5M347.1 406.2h1.5M318.8 319.8h2M251.1 383.6h2M506.2 297.3h1.5M427.7 394.9h1M562.8 429.3h1M656.2 381.9h1.5M528.5 362h1M166.5 309.4h1M623.6 353.4h1M55.3 331.2h1M456.8 355.2h1.5M96 391.9h2M445.6 388.3h2M285.1 362.9h1M385.5 422.2h2M157.7 402.6h1M597.3 397.6h1M543.8 336.7h1.5M168.1 406h1.5M466.3 352.3h2M314.4 380.5h1M555.8 360.9h2M368.9 401.7h1.5M35.4 330.2h1M81.1 375.9h1M612.5 314.8h1M397.7 380.4h1.5M533.1 420.3h1M443.5 353.1h1.5M596.5 411h1M432.9 325.2h1M497.6 285.9h2M116.6 429.9h2M517.5 400.2h1M182.3 420.7h1.5M424.8 369.6h1.5M533.4 321.3h1M80.4 322.8h1.5M460.3 396.6h2M115.9 411.6h1M68.2 374.8h1M509 396.7h1M673.2 312.2h2M417.8 296.2h2M284.8 414.2h1M491 309h1.5M481 414.5h1M313.8 336.1h1M508.9 362.4h2M547.5 364.7h2M165.3 313h1.5M431.8 414.3h2M298.2 304.2h2M358.2 322.4h2M285.3 407.5h1M583.3 379.2h1.5M261.6 397.7h1M447.7 427.7h1M211.1 373.8h2M439.4 371h1M470.6 324.1h1M45.4 376.7h1M569.5 396.1h1.5M169.3 373.9h2M66.6 378.1h1M381.4 424.4h2M123 396.8h1M102.9 338.3h2M125.8 354.9h1M504.7 349.4h2M484 340.3h1M659.8 330.1h1.5M193.9 319.1h1M479.9 326.7h1M614.8 403.6h2M464.6 379.5h1M619.7 365.2h1M179.2 319.6h1.5M566.1 367.2h2M536 334.6h1M189.3 383.3h2M550 343h2M454.4 319.3h1M436.6 355.4h1M283.4 315.4h2M671.6 420.9h2M263.9 399.2h1M418.4 416.8h1M414.6 412.6h1.5M632.7 412.3h1M575.3 386.2h2M599.8 419.7h2M247.2 286.3h1.5M622.1 357.6h1M468 372.3h1.5M417.5 295.6h1M137.2 371.1h1M41.2 372h2M416.8 408.6h2M355.6 391.4h2M663.7 341.6h1M604 343.4h1.5M546.1 420.8h1M355.8 316.7h1.5M518 404.5h1M629.9 344.9h2M105.2 319h1M535.2 335.4h1M422.1 414.3h1.5M621.6 366.2h1.5M405.2 379.3h1.5M259.1 289.4h1M312.1 376.5h1.5M564.2 365.1h1M466.4 371h1M496.8 399.6h1M540.9 376.7h2M516.2 324.5h1.5M351.2 338h2M660.8 356.4h2M242 381.9h1.5M444.3 374.4h1M501.1 343.1h1M65.5 333.8h1M412.4 305.4h2M649.6 424.4h1M667.5 379.6h2M595.2 407.8h1M366.5 366.3h1M647.8 333.9h1M217.9 355.3h2" stroke="#2a9c00" stroke-width="1"/>
<path d="M185.8 400.2h1M473.1 384.9h2M204.7 333.6h2M510.9 353.6h2M418.4 326.5h2M402.3 431.6h1M594.1 328.5h1M564.6 369.2h2M98.9 429.6h1.5M519.9 327.3h1M128.3 403.7h2M640.3 325.5h1M489.1 409.8h2M92 403.5h1M489.9 388h2M481.3 365.8h1.5M550.2 351.6h1.5M671.7 323.4h1M611 337.5h1.5M629 318.3h1" stroke="#7a6a00" stroke-width="1"/>
<path d="M369.8 369.6h1M661.1 337.9h1M578.3 368.4h1M481.5 360.7h1M584.7 352.7h2M493.3 287.5h1.5M489.9 402h1.5M339.5 407.1h1.5M402 387.2h1M464.6 290.9h2M140.4 422.6h1M584.4 388.4h1M392 360.4h2M531.3 359.2h2" stroke="#901400" stroke-width="1"/>
<path d="M656.8 343h1.5M650 404.1h2M529.4 370.8h1M542.6 414.5h1.5M577.4 305.6h1.5M364.3 324.5h1M511.2 325.8h1M375 356.2h1M150.8 407.5h1M252.5 427.4h1M396.9 358.1h1M92.4 367.8h1.5M649.1 333h1.5M452.2 318.4h1M522.7 345.8h1M191.2 314.2h1.5M238.6 318.6h1.5M637.4 363.6h2M424.4 389.9h1.5M152 387.5h1M198.8 358.6h1M516.6 402.9h1.5M66.8 373.2h1.5M453 331.6h1M652 334.7h1M241.5 394.6h2M272.7 314.2h1M580.6 293.6h1.5" stroke="#44d000" stroke-width="1"/>
<path d="M45.8 379.3v2.5M38.8 365v3.9M42.2 376.9v1.7M43.4 382.5v2.3M43.7 360.5v3.6M36.6 366.1v3.9M41.7 376.4v3.7M40 374.7v3.1M44.8 381.3v3.1M42.1 381.6v3.9M41.8 358.7v2.2M36.6 369.5v3.1M42.9 368.3v3.1M37.7 364.5v2.6M40.7 381.7v2.9M34.9 379.4v1.5M41.2 371.6v3.2M37.9 381.7v2.6M39.2 358.9v3.3M36.6 378.9v3.6M39.6 371.7v2.2M41.9 366.8v3.5M44.2 373.6v3.3M34.3 382.4v3.5M43.1 368.7v3.2M40.3 359v2M45.6 382.5v2.5M39 362.7v3.7M36.2 363.2v1.8M42.5 362.1v2.1M34.1 363.9v3.8M71 393.4v3.6M61.9 380.3v2.9M63 386.4v2.1M75.7 387.1v1.5M66.5 389.4v3.3M78.1 382.1v2.4M74.7 395.6v1.6M72.9 394.6v1.5M90.8 386.4v2.4M49.1 380.8v2.6M46.8 394.4v3.3M52 388.8v3.6M59 392.3v2.1M94.5 383.4v2.4M54.5 380.3v3.7M73.1 392.7v3.6M90.2 393.3v1.9M48 382v3.4M56.1 390.4v1.9M50.4 389.4v1.9M76.4 392v3.5M81 389.1v2M77.5 393.9v2.3M84.8 385.8v4M63.4 384.7v2.7M46.7 381.7v2.1M84.6 393.2v3.8M47.1 388.7v2.3M77.2 391.2v3.3M91.1 391.5v1.8M47.6 381.8v4M67 394.2v3.6M69.2 381.6v4M71.3 392v3.1M53.4 384v1.9M71 384.2v1.9M47.8 384.4v3.1M68 381.6v2.3M77.3 396v3.7M90.5 392.8v3.2M84.3 386.9v1.8M64.4 392.9v3.8M70 381.2v3.4M79.8 394.8v2.9M49.1 385.6v1.5M57.9 389.8v3.8M61.8 380.4v3.1M58 384.5v3M90.5 380.8v2.3M73.9 380.8v2.2M49.4 382.4v3.4M53.1 386.9v4M68.4 388v2.1M73 383v1.6M53.1 389.3v2.2M119.1 406.1v3.4M130.1 415.6v3.9M157.9 406.9v3.7M149 411.2v3.5M121.4 408.6v3M133.8 417.7v3.9M102.2 411.5v3.7M120.3 416.5v1.7M130.7 406.8v2.3M158 417.4v3.2M144 407.8v2M121.9 414.1v2.6M95.4 409.9v1.9M145.4 415.2v2.1M98.5 410v3.2M96.4 412.6v3.9M121.8 405.3v2.9M97.6 408.9v3.2M98.6 410.7v3.6M134.7 414.8v1.9M137.3 406.2v2.8M116.3 410.7v1.6M558.9 390.9v3.4M557.1 387.9v2.6M558.9 387.4v3.1M562.5 382.9v3.8M565.6 388.7v1.5M559.9 386.8v2.5M564.4 387.8v2.4M563.9 391.2v3.3M561.4 383.6v1.6M557.2 386.3v1.8M563.8 388.1v1.5M559.4 391.1v3.1M556.8 390.8v3.8M563 387v3.6M649.9 398.4v3.1M649.9 393.9v3.5M639.4 397.5v2.7M653.7 394.3v2.6M645.9 393.2v3.4M637.1 400.2v2.2M659.9 397.6v2.6M644.8 398.2v1.8M637.9 398.9v1.7M659.5 400.7v3.6M638.3 398.4v3M638.2 394.2v3M639.3 403.5v3.7M651.2 403.7v3.7M645.6 397.5v1.6M652 396.4v2.2M645.2 393.2v2M638.2 394.1v2M646.5 401.3v1.8M654.2 398.8v2.8M647.2 394.5v3.7M662.5 369.7v1.7M656.9 382.1v2.2M660.3 375.7v2.4M655.2 378.6v2.2M662 391.4v2.9M655.4 384.5v3M663.6 384.1v3.4M655.3 367.2v1.9M660.2 378.6v3.8M659.3 379.5v2.3M661.8 390.9v3.8M662.3 372v3.5M660.2 369.7v2.9M655.8 372.5v1.7M659 366.8v3.4M655.6 381.8v3.1M658.2 368.3v3.7M666.7 376.9v2.2M658.4 370.4v3M658.1 392.1v1.9M662.6 369v1.7M658.4 384.2v2.3M655.8 392.8v2.4M667.4 376.7v2.7M655.7 377.6v3.7M660.3 393v2.8M665.5 379.7v3.7M665.3 367.6v3.1M656.9 387.2v3.5M661.1 378.9v4M661.1 381.3v2.7M657.5 379.8v2.2M521.4 396.7v2.1M523.7 405.2v1.5M532.6 397.9v3.1M541.5 405.1v2.3M522 404.5v2.7M529.8 407.5v2.7M547 406.7v2M544.8 401.4v2.7M522.5 401.9v3.7M536.1 396.2v3.9M532 396.7v3.4M544.2 393.5v3.2M524.4 392.6v3M544 392.2v2.7M524.1 393v2.1M529.5 392.4v2.2M534.3 403.6v2.3M532.9 395.9v2.3M526.1 398.2v1.6M530 399.9v3.2M518.9 384v3.7M518 383.5v3.2M507.2 382.4v2.3M509.3 391.3v3M509.6 386.6v2.8" stroke="#1f8f00" stroke-width="1.1"/>
<path d="M39 365.2v2.5M34.3 383.5v3M45.6 373v3.7M36.8 359.4v3.2M39.6 360.6v1.5M37.4 374.5v3.2M35.7 375.7v3.9M35.7 361.1v3.5M34.4 360.2v1.5M38.1 365.4v3.3M41.5 373.2v3.8M39.5 358.3v2.6M40.2 368.3v3.1M43.7 367.3v2.4M39.8 370.3v2.3M42 381.1v2.1M41.6 372.2v3.3M34.5 369v3.6M45.4 375v1.6M39.8 375.4v3.8M38.7 364.2v3.3M37.3 361.4v2.1M43.1 370.1v3.6M45.4 369v3.3M50.4 388.1v3.4M64.4 385v3.9M65.9 394v2.3M67 395.3v3.3M66.1 395.4v2.1M47.3 393.5v2.1M55.2 387.3v1.6M50.8 382.7v2.7M56.3 395.1v1.8M76.7 386v2M60.3 382.7v2.5M65.4 393.5v1.7M52.7 393.7v2.9M75 389.7v2.2M69.9 383v3.3M59.3 382.8v2.3M62.9 389.5v3.6M55.1 395.7v2.7M87.2 383.4v3.1M50.4 392.2v2.4M81.8 387.1v2.6M86.3 391.2v2.6M74.6 392.6v2.6M63.4 387.4v3.5M82.3 386.3v2.2M80.8 389.6v1.6M47.7 383v2.9M60.5 381.4v2.9M72.6 388.4v1.9M60 385.4v2M61.3 381.4v1.5M51.4 382v1.9M64.5 389.3v2.6M49.1 393.6v3.3M84 393v4M85.1 382v3.1M58.2 387.7v2.4M62.5 394.7v3.1M59.7 390.8v2.7M52.8 384.9v4M74.4 387.5v3.3M81.1 384.6v3.3M49.8 380.6v3.1M69.1 381v3.2M48.9 384.1v3.8M109.4 412.3v1.7M126.8 416.5v3.7M154.4 414.7v3.3M143.6 416.5v3.4M118.7 407.2v2.5M114.9 412.9v2M154.1 414.7v1.6M103.9 409.2v2.3M146.3 406.3v3.1M96.3 413.8v2.6M159.6 415.4v2.8M103.1 405.3v3.6M121.4 408.5v3.9M124.8 416.5v2.5M151.6 408.7v3.4M116.7 417.4v3.2M152.5 409v2.2M116.7 414.2v3.3M137.5 408.6v2.9M140.7 416.8v3.9M111.3 413.3v2.9M117.3 410.2v3.8M560.2 383.9v2M559.5 381.3v3.6M558.8 381.3v3.6M561.7 388.2v3.5M563.6 381.6v3.4M557.8 382.3v2.4M637.8 400.9v1.7M637.9 395.6v2.8M639.7 395.3v2.1M634.2 403.4v3.7M633.4 396.2v3.4M633.1 401.9v4M644.1 398.8v2.8M634.6 395.2v3.1M642.5 394.2v1.7M642.9 399.3v3.6M645 393.6v3.6M636.2 398.9v1.9M641.6 400.7v2M658.6 394.1v3M636.3 398v2.4M644.4 399.2v3.6M656 393.6v1.6M642.9 402.4v2M639.3 402.1v1.7M657.9 398.9v1.9M636.2 397.9v3.1M632.5 393.8v2.9M663.2 390.5v3.2M665.9 388.8v2.9M659.9 369.2v3.9M666.6 391.9v3.3M666.5 387.1v1.8M663.3 371.1v2.9M666.4 373.1v2.3M659.4 382.1v3M655.7 390.3v3.5M657.9 384.9v2.7M658.3 367.4v3.1M664.1 377.4v2.7M664.6 366.3v3M658.9 383.5v1.5M667.4 383.9v3.6M656.6 369.9v2.3M662.6 394.2v3.6M661.5 384.7v1.7M661 370.7v1.9M664.6 368v1.9M656.8 382.7v3.6M664.3 366.5v1.6M662 378.6v3.3M533 394.2v2.2M533.3 407.2v2.7M536.8 400.1v1.9M541.1 404.5v3.2M538.7 406.4v2.7M529.9 404.9v3.7M541.8 404.4v2.8M544.4 405.7v3.1M530.5 394.3v3.4M542.9 399.7v1.8M532.3 405v1.8M520.5 404.8v1.9M524 399.1v2.6M534.9 395.1v2.1M533.3 407.5v2.3M535.6 400.8v3.9M526.4 396.6v3.5M530.1 404.5v2M532 399v1.7M531.1 405.5v3.5M521.9 406.1v1.7M542.2 405.3v2.5M525 394.1v2.2M528.9 397v3.7M537.1 392.6v2.4M525.1 396.2v3.1M528 401.1v2.6M506 383.5v2.3M510.1 391.1v3.3M506.2 385.8v3.8M512.2 388.2v2M516.5 389.1v2.8M518 391.7v3.7M510.4 381v3.3" stroke="#3fd400" stroke-width="1.1"/>
<path d="M35.4 362.7v2.1M35 377.2v3M43.8 371.3v3M34.9 383.1v2.7M38.5 364.6v2.3M78.1 385.9v3.1M69.1 383.8v1.5M81.5 380.2v2.7M83.4 388.7v4M93.5 388.6v3M123.8 416.3v2.1M157.3 415.1v3.2M115.8 407.3v3.1M142.8 412.6v1.5M635.1 394.4v1.9M649.5 398.3v2.7M640.2 396.2v3.5M654.9 402.9v2.8M664.4 394v2.9M656.5 389.4v2.5M659.8 384.4v3.2M657.9 386.6v3.5M666.1 387.1v2.6M524.9 394.1v2M521 400v2.2M522.5 392.6v3.3M547.1 398.6v3.1M515.3 382.1v3.8" stroke="#b4c800" stroke-width="1.1"/>
<path d="M34.3 435V382h1.1V382.2h1.1V381.4h1.1V383.9h1.1V384.3h1.1V384.8h1.1V383.9h1.1V382.1h1.1V380.8h1.1V381.3h1.1V388.2h1.1V392h1.1V395.1h1.1V394.6h1.1V391.7h1.1V391.6h1.1V394.4h1.1V396.6h1.1V392.4h1.1V393h1.1V394h1.1V395.3h1.1V395.1h1.1V396.7h1.1V395.9h1.1V395.3h1.1V394.2h1.1V389.4h1.1V395.2h1.1V396.1h1.1V394.7h1.1V392.9h1.1V393.2h1.1V393.6h1.1V394.4h1.1V392.5h1.1V390.7h1.1V392.3h1.1V392.7h1.1V393.3h1.1V393.8h1.1V395.2h1.1V397.7h1.1V397.7h1.1V395.5h1.1V396h1.1V396.4h1.1V397.2h1.1V396.3h1.1V394.8h1.1V396.6h1.1V395.7h1.1V391.8h1.1V389.5h1.1V386.2h1.1V395.4h1.1V393.1h1.1V396.8h1.1V401.9h1.1V403h1.1V402h1.1V401.5h1.1V406.7h1.1V405.5h1.1V407h1.1V407.8h1.1V412.4h1.1V414.8h1.1V411.6h1.1V411.6h1.1V412.1h1.1V413.7h1.1V413h1.1V414.2h1.1V416.8h1.1V411.8h1.1V413.1h1.1V414.3h1.1V416.6h1.1V414.6h1.1V415h1.1V415.1h1.1V409.6h1.1V413.2h1.1V412.8h1.1V414.3h1.1V413.8h1.1V414.1h1.1V414h1.1V416.5h1.1V416.4h1.1V416.4h1.1V412.2h1.1V413.2h1.1V416.7h1.1V415.8h1.1V416.2h1.1V416.4h1.1V416.6h1.1V416.4h1.1V408.6h1.1V416.2h1.1V415.5h1.1V414.6h1.1V417h1.1V413.1h1.1V414.2h1.1V413.5h1.1V417.4h1.1V414.8h1.1V408.8h1.1V412.6h1.1V414.7h1.1V413h1.1V413.1h1.1V411.8h1.1V406.2h1.1V405.5h1.1V406.5h1.1V404.9h1.1V389.9h1.1V398.4h1.1V407.5h1.1V400.5h1.1V404h1.1V408.2h1.1V406.9h1.1V406.8h1.1V405.7h1.1V412.4h1.1V408.3h1.1V405.5h1.1V412.1h1.1V413.6h1.1V418.7h1.1V414.9h1.1V421.7h1.1V418.6h1.1V415h1.1V413.1h1.1V412.6h1.1V410.8h1.1V403.7h1.1V399.9h1.1V404.1h1.1V401.6h1.1V410.7h1.1V407.9h1.1V400h1.1V401.1h1.1V397.8h1.1V396.1h1.1V395.1h1.1V393.3h1.1V394h1.1V396.5h1.1V395.9h1.1V393.9h1.1V381.6h1.1V377.9h1.1V384.5h1.1V381.1h1.1V388.8h1.1V391.7h1.1V395.5h1.1V397.6h1.1V392.3h1.1V395h1.1V394.8h1.1V396.6h1.1V399.7h1.1V402.2h1.1V393.9h1.1V400.7h1.1V405.5h1.1V396.3h1.1V394.5h1.1V392.7h1.1V386.7h1.1V387.8h1.1V385.5h1.1V385.3h1.1V383.3h1.1V382.1h1.1V385.3h1.1V384.1h1.1V383.4h1.1V383.6h1.1V373.4h1.1V379.5h1.1V383.4h1.1V376.3h1.1V382.6h1.1V380.6h1.1V380.1h1.1V371.2h1.1V369h1.1V367.1h1.1V370.7h1.1V367.8h1.1V371.5h1.1V369.5h1.1V369.7h1.1V373h1.1V373.1h1.1V372.6h1.1V377.9h1.1V380.4h1.1V377.1h1.1V379.1h1.1V388.5h1.1V387.3h1.1V358.6h1.1V352.9h1.1V349.5h1.1V348.4h1.1V346.1h1.1V345.4h1.1V350.5h1.1V348h1.1V342.5h1.1V337.7h1.1V335.6h1.1V323.6h1.1V328.6h1.1V328.7h1.1V320.1h1.1V317.9h1.1V320.3h1.1V320.7h1.1V317.4h1.1V314.5h1.1V328.8h1.1V332.6h1.1V336.2h1.1V340.1h1.1V339.5h1.1V342.8h1.1V343.8h1.1V349h1.1V353.1h1.1V353h1.1V359.7h1.1V368.9h1.1V373.7h1.1V386.2h1.1V389.5h1.1V391.3h1.1V389.1h1.1V383.8h1.1V386.1h1.1V383.5h1.1V375.6h1.1V374.9h1.1V374.2h1.1V370.5h1.1V367.3h1.1V365.3h1.1V364.1h1.1V361h1.1V360.2h1.1V352.4h1.1V353.9h1.1V355.1h1.1V345.6h1.1V341.1h1.1V332.7h1.1V328.7h1.1V328.6h1.1V320.2h1.1V324.4h1.1V329.2h1.1V354.8h1.1V348.9h1.1V358.9h1.1V359.8h1.1V355.6h1.1V358.6h1.1V350.1h1.1V354.1h1.1V358.8h1.1V358.5h1.1V365.7h1.1V368.9h1.1V373.6h1.1V377.9h1.1V379.6h1.1V381.1h1.1V381.5h1.1V378.8h1.1V383.2h1.1V380.5h1.1V384.8h1.1V375.2h1.1V364.5h1.1V352.9h1.1V351.4h1.1V346.6h1.1V348.7h1.1V348.7h1.1V346.4h1.1V345.7h1.1V345.1h1.1V343h1.1V341.5h1.1V341.8h1.1V335.2h1.1V333.2h1.1V336.4h1.1V339.1h1.1V335.4h1.1V348.2h1.1V357.5h1.1V362.7h1.1V368.2h1.1V372.5h1.1V370.8h1.1V373.5h1.1V377.1h1.1V374.7h1.1V365.4h1.1V366.3h1.1V367.6h1.1V363.7h1.1V352h1.1V343.2h1.1V344.5h1.1V349.2h1.1V344.6h1.1V351.7h1.1V350.5h1.1V362.5h1.1V373.7h1.1V379.3h1.1V380.3h1.1V381.4h1.1V381h1.1V383.5h1.1V383.1h1.1V382.4h1.1V388.8h1.1V386.1h1.1V389.3h1.1V385h1.1V379h1.1V378.1h1.1V382.6h1.1V388.6h1.1V396.3h1.1V397.3h1.1V402.1h1.1V405.9h1.1V399.9h1.1V398.9h1.1V406.6h1.1V410.2h1.1V402.8h1.1V402.8h1.1V408.3h1.1V409.7h1.1V420.1h1.1V422.4h1.1V421.9h1.1V421.1h1.1V421.6h1.1V422h1.1V419.6h1.1V421.5h1.1V423.4h1.1V422.6h1.1V422.9h1.1V423h1.1V424.7h1.1V422.9h1.1V423h1.1V425h1.1V410.1h1.1V414.9h1.1V413.2h1.1V414.5h1.1V406.3h1.1V408.8h1.1V409.9h1.1V397.2h1.1V405.1h1.1V398.8h1.1V400.7h1.1V399.8h1.1V398h1.1V397.2h1.1V404h1.1V405.7h1.1V405.3h1.1V408.1h1.1V407.2h1.1V408.4h1.1V410h1.1V409.7h1.1V412.2h1.1V405.3h1.1V405.9h1.1V407.7h1.1V405.5h1.1V399.4h1.1V398.6h1.1V390.4h1.1V390.9h1.1V393.1h1.1V382.7h1.1V393.6h1.1V396.7h1.1V397.1h1.1V396.5h1.1V397.4h1.1V391.1h1.1V391.5h1.1V389.8h1.1V388.2h1.1V381.7h1.1V385h1.1V388.3h1.1V387.9h1.1V403.9h1.1V404.8h1.1V411.8h1.1V412.8h1.1V413h1.1V411.4h1.1V415.1h1.1V421.7h1.1V406h1.1V397.1h1.1V393.9h1.1V392.1h1.1V392.1h1.1V392h1.1V389h1.1V388.1h1.1V389.2h1.1V389.1h1.1V383.9h1.1V388.5h1.1V395.3h1.1V398.8h1.1V400.9h1.1V401.4h1.1V398.4h1.1V402.9h1.1V403.2h1.1V403.1h1.1V407.8h1.1V405.8h1.1V402.4h1.1V403.6h1.1V404.5h1.1V405h1.1V404.6h1.1V404.7h1.1V403.3h1.1V402.8h1.1V409.4h1.1V415.2h1.1V411.2h1.1V415.2h1.1V408.1h1.1V413.5h1.1V418.6h1.1V416h1.1V415.2h1.1V417.4h1.1V421.2h1.1V422.6h1.1V418.2h1.1V390.6h1.1V395.1h1.1V392.5h1.1V387.4h1.1V384.1h1.1V388.4h1.1V387.7h1.1V393.1h1.1V393.1h1.1V394.8h1.1V394.4h1.1V397.4h1.1V398.7h1.1V399.4h1.1V397.4h1.1V399.3h1.1V399h1.1V400.2h1.1V401h1.1V394.8h1.1V395.6h1.1V401h1.1V400.6h1.1V399.2h1.1V405.1h1.1V401.5h1.1V407h1.1V410.6h1.1V409.4h1.1V415.1h1.1V415h1.1V407.4h1.1V407.5h1.1V414.2h1.1V414.6h1.1V416.1h1.1V412.1h1.1V409.1h1.1V409.8h1.1V415.6h1.1V415.3h1.1V413.9h1.1V415.5h1.1V415.1h1.1V416.1h1.1V414.8h1.1V409.4h1.1V410.1h1.1V417h1.1V417.9h1.1V416.6h1.1V414.3h1.1V412.9h1.1V416.5h1.1V415.8h1.1V414.2h1.1V415.2h1.1V408.9h1.1V411.6h1.1V408.2h1.1V410.1h1.1V404.3h1.1V406.3h1.1V408h1.1V408.9h1.1V404.3h1.1V407.6h1.1V405.5h1.1V406h1.1V408h1.1V406.1h1.1V405h1.1V402.1h1.1V405.8h1.1V402.2h1.1V405.6h1.1V404.2h1.1V402.3h1.1V399.4h1.1V404.4h1.1V401.8h1.1V399.3h1.1V397.1h1.1V397.2h1.1V397.7h1.1V391.4h1.1V393.8h1.1V394h1.1V395.8h1.1V397.1h1.1V395.4h1.1V398h1.1V396.5h1.1V394h1.1V391.3h1.1V394h1.1V391h1.1V380.8h1.1V376.3h1.1V375.4h1.1V373h1.1V372h1.1V372.4h1.1V382.2h1.1V381.5h1.1V385.6h1.1V386.6h1.1V390.7h1.1V390.8h1.1V385.8h1.1V386h1.1V390.4h1.1V390.9h1.1V386.7h1.1V437.3h-1.1V436.4h-1.1V437h-1.1V437.1h-1.1V436.1h-1.1V436.8h-1.1V436.1h-1.1V437.1h-1.1V436.7h-1.1V436.7h-1.1V436.4h-1.1V436.1h-1.1V436.4h-1.1V437.3h-1.1V436.2h-1.1V437.3h-1.1V437.1h-1.1V437.2h-1.1V436.5h-1.1V436.9h-1.1V436.6h-1.1V436.7h-1.1V436.8h-1.1V437.2h-1.1V437.2h-1.1V436.8h-1.1V436.7h-1.1V436.6h-1.1V436.5h-1.1V436.5h-1.1V436.8h-1.1V436.7h-1.1V436.8h-1.1V436.1h-1.1V436.9h-1.1V436.4h-1.1V437h-1.1V436.7h-1.1V436.7h-1.1V436.8h-1.1V436.4h-1.1V436.5h-1.1V437.2h-1.1V436.7h-1.1V436.3h-1.1V436.9h-1.1V437.1h-1.1V437.1h-1.1V436.2h-1.1V437.4h-1.1V436.4h-1.1V436.5h-1.1V436.8h-1.1V436.2h-1.1V437.2h-1.1V436.5h-1.1V436.4h-1.1V436.3h-1.1V436.3h-1.1V437.1h-1.1V436.8h-1.1V436.1h-1.1V436.7h-1.1V437.2h-1.1V436.2h-1.1V436.5h-1.1V437.2h-1.1V437.1h-1.1V437.2h-1.1V437h-1.1V437h-1.1V437.2h-1.1V437.4h-1.1V436.9h-1.1V436.3h-1.1V436.8h-1.1V436.7h-1.1V437.3h-1.1V436.9h-1.1V437.3h-1.1V437.3h-1.1V437.2h-1.1V436.1h-1.1V436.6h-1.1V436.9h-1.1V436.9h-1.1V437.1h-1.1V436.5h-1.1V436.5h-1.1V436.1h-1.1V436.1h-1.1V436.3h-1.1V436.2h-1.1V436.5h-1.1V437h-1.1V436.9h-1.1V436.9h-1.1V436.1h-1.1V436.1h-1.1V437.1h-1.1V436.8h-1.1V437h-1.1V437.3h-1.1V437.4h-1.1V436.8h-1.1V436.7h-1.1V437.4h-1.1V436.6h-1.1V437h-1.1V436.4h-1.1V436.6h-1.1V436.2h-1.1V436.9h-1.1V436.4h-1.1V436.9h-1.1V437h-1.1V436.1h-1.1V436.3h-1.1V436.3h-1.1V436.1h-1.1V436.5h-1.1V436.3h-1.1V437h-1.1V436.8h-1.1V435.6h-1.1V436.5h-1.1V436.6h-1.1V435.8h-1.1V435.4h-1.1V436.5h-1.1V436.1h-1.1V435.9h-1.1V435.2h-1.1V436.4h-1.1V435.5h-1.1V435.5h-1.1V436h-1.1V435.1h-1.1V435.9h-1.1V435.9h-1.1V435.1h-1.1V435.1h-1.1V435.1h-1.1V434.7h-1.1V435.3h-1.1V437.4h-1.1V438h-1.1V437.1h-1.1V437.6h-1.1V439.1h-1.1V439.2h-1.1V437.6h-1.1V436.2h-1.1V439h-1.1V438.3h-1.1V437.1h-1.1V437.5h-1.1V435.9h-1.1V436.5h-1.1V436h-1.1V434.8h-1.1V438h-1.1V436.1h-1.1V437.8h-1.1V435.7h-1.1V437.4h-1.1V437h-1.1V433.6h-1.1V437.4h-1.1V433.5h-1.1V436h-1.1V434.6h-1.1V433.9h-1.1V434h-1.1V434.7h-1.1V433.1h-1.1V434.3h-1.1V436h-1.1V433.4h-1.1V434.1h-1.1V433.3h-1.1V433.7h-1.1V432.9h-1.1V432.4h-1.1V431.8h-1.1V432.1h-1.1V432.1h-1.1V431.1h-1.1V433.9h-1.1V433.3h-1.1V431.1h-1.1V430.3h-1.1V431.7h-1.1V431.8h-1.1V433.7h-1.1V430.2h-1.1V431.8h-1.1V433.1h-1.1V429.6h-1.1V432.1h-1.1V432.1h-1.1V431.2h-1.1V429.6h-1.1V429h-1.1V429.5h-1.1V428.4h-1.1V428.1h-1.1V431.8h-1.1V429.2h-1.1V430.2h-1.1V428.5h-1.1V427.4h-1.1V427.5h-1.1V429.7h-1.1V429.7h-1.1V427.9h-1.1V428.9h-1.1V427.6h-1.1V427h-1.1V428.8h-1.1V429.4h-1.1V429.4h-1.1V427h-1.1V428.5h-1.1V428.4h-1.1V425h-1.1V426.7h-1.1V427.8h-1.1V426.4h-1.1V423.4h-1.1V424h-1.1V424.8h-1.1V425.1h-1.1V424.3h-1.1V424.1h-1.1V426.2h-1.1V422.7h-1.1V425.4h-1.1V425.4h-1.1V424h-1.1V423h-1.1V423.9h-1.1V424.3h-1.1V426.1h-1.1V425.2h-1.1V424.3h-1.1V425.1h-1.1V422.6h-1.1V423.8h-1.1V422.9h-1.1V426.1h-1.1V424.5h-1.1V425.7h-1.1V424h-1.1V422.6h-1.1V423.5h-1.1V425.7h-1.1V423.9h-1.1V422.7h-1.1V423.7h-1.1V424h-1.1V425.9h-1.1V423.7h-1.1V423.2h-1.1V424.2h-1.1V425.2h-1.1V422.7h-1.1V425.8h-1.1V426.1h-1.1V423.8h-1.1V425.5h-1.1V422.7h-1.1V424h-1.1V423.1h-1.1V422.8h-1.1V422.5h-1.1V424.2h-1.1V423.9h-1.1V424.8h-1.1V423.5h-1.1V426.1h-1.1V424.7h-1.1V422.8h-1.1V425.1h-1.1V423.2h-1.1V425.2h-1.1V423.3h-1.1V423.7h-1.1V423.4h-1.1V424.5h-1.1V426h-1.1V425.2h-1.1V422.5h-1.1V422.9h-1.1V424.7h-1.1V423.3h-1.1V423.6h-1.1V424.6h-1.1V425.1h-1.1V424.9h-1.1V422.8h-1.1V425.8h-1.1V422.7h-1.1V424.3h-1.1V422.7h-1.1V423.4h-1.1V424.7h-1.1V425.1h-1.1V426.1h-1.1V424.4h-1.1V425.1h-1.1V423.5h-1.1V425.7h-1.1V425.6h-1.1V423.5h-1.1V425.8h-1.1V425.7h-1.1V422.8h-1.1V425.3h-1.1V423.5h-1.1V425.5h-1.1V425h-1.1V424.4h-1.1V422.7h-1.1V426.4h-1.1V424.8h-1.1V423.5h-1.1V425.5h-1.1V423.7h-1.1V426.2h-1.1V424h-1.1V426.3h-1.1V425.2h-1.1V425.4h-1.1V424.4h-1.1V425.2h-1.1V423.6h-1.1V425.4h-1.1V422.6h-1.1V424.8h-1.1V425.6h-1.1V425.6h-1.1V424.3h-1.1V425.1h-1.1V425.6h-1.1V423.6h-1.1V423.7h-1.1V424.7h-1.1V426.1h-1.1V425.4h-1.1V422.9h-1.1V425.1h-1.1V426.3h-1.1V423.5h-1.1V426.1h-1.1V426.3h-1.1V424.6h-1.1V425.7h-1.1V425.3h-1.1V425.1h-1.1V424.6h-1.1V425.3h-1.1V424.4h-1.1V424.5h-1.1V424.1h-1.1V424.4h-1.1V426.7h-1.1V427.1h-1.1V427.3h-1.1V426.4h-1.1V425.7h-1.1V427.5h-1.1V427h-1.1V425.5h-1.1V424.4h-1.1V426.4h-1.1V425.3h-1.1V428.1h-1.1V426.6h-1.1V427.5h-1.1V427.3h-1.1V425.2h-1.1V427.1h-1.1V428.4h-1.1V426.6h-1.1V425.4h-1.1V425.7h-1.1V425.7h-1.1V429.2h-1.1V427.6h-1.1V427.7h-1.1V428.9h-1.1V426.8h-1.1V429.6h-1.1V426.3h-1.1V428.5h-1.1V428.1h-1.1V429.7h-1.1V429.1h-1.1V427.1h-1.1V429.5h-1.1V427.5h-1.1V428.1h-1.1V430.2h-1.1V427.7h-1.1V431.6h-1.1V430.2h-1.1V431.2h-1.1V431h-1.1V430.2h-1.1V430.1h-1.1V431.9h-1.1V430.2h-1.1V431.1h-1.1V432.7h-1.1V432.2h-1.1V432.4h-1.1V430.6h-1.1V429.7h-1.1V430.7h-1.1V433.4h-1.1V433h-1.1V430.8h-1.1V433.4h-1.1V432.7h-1.1V432h-1.1V432.4h-1.1V433.1h-1.1V432.4h-1.1V432.1h-1.1V432.8h-1.1V431.5h-1.1V432.9h-1.1V431.6h-1.1V433.8h-1.1V432.5h-1.1V434.6h-1.1V434.5h-1.1V434.6h-1.1V435.7h-1.1V436.1h-1.1V435.3h-1.1V434.8h-1.1V433.5h-1.1V433.8h-1.1V436h-1.1V435.2h-1.1V435.7h-1.1V437.2h-1.1V434.8h-1.1V437.2h-1.1V434.3h-1.1V436.4h-1.1V436.2h-1.1V437.1h-1.1V434.2h-1.1V436.3h-1.1V435.8h-1.1V437.4h-1.1V436.6h-1.1V436.9h-1.1V437.1h-1.1V436.3h-1.1V435.8h-1.1V436.3h-1.1V435.7h-1.1V437.8h-1.1V438.2h-1.1V434.5h-1.1V434.9h-1.1V435.6h-1.1V436.2h-1.1V435.8h-1.1V435h-1.1V435.4h-1.1V436.3h-1.1V435.5h-1.1V435.2h-1.1V435.1h-1.1V436.4h-1.1V435.1h-1.1V436.1h-1.1V435.1h-1.1V436.4h-1.1V436h-1.1V435.9h-1.1V436h-1.1V435.4h-1.1V435.3h-1.1V436.2h-1.1V435.6h-1.1V436.3h-1.1V435.5h-1.1V435.2h-1.1V435h-1.1V435.4h-1.1V436.1h-1.1V435.9h-1.1V435.7h-1.1V435.5h-1.1V436.1h-1.1V435.4h-1.1V435.2h-1.1V435.4h-1.1V436.3h-1.1V436.2h-1.1V436h-1.1V436.3h-1.1V435.5h-1.1V435.8h-1.1V435.2h-1.1V435.9h-1.1V436.3h-1.1V435.2h-1.1V435.7h-1.1V436.2h-1.1V435.4h-1.1V435.1h-1.1V435.4h-1.1V435.9h-1.1V436.3h-1.1V435h-1.1V436h-1.1V435.6h-1.1V435.5h-1.1V436.1h-1.1V435.8h-1.1V435.8h-1.1V435.2h-1.1V436.3h-1.1V435.7h-1.1V435.2h-1.1V436.3h-1.1V436.2h-1.1V436.1h-1.1V436h-1.1V435.4h-1.1V435.5h-1.1V435.3h-1.1V435.5h-1.1V435h-1.1V435.2h-1.1V435.4h-1.1V436.3h-1.1V435.9h-1.1V435h-1.1V435.3h-1.1V436.3h-1.1V435.9h-1.1V436.1h-1.1V435.7h-1.1V435.6h-1.1V436.1h-1.1V436.2h-1.1V435.2h-1.1V435.3h-1.1V435.3h-1.1V435.5h-1.1V435.7h-1.1V435.4h-1.1V436h-1.1V435.5h-1.1V436h-1.1V436.3h-1.1V435.6h-1.1V436.1h-1.1V435.4h-1.1V436h-1.1V436.3h-1.1V436.3h-1.1V435.9h-1.1V435.9h-1.1V435.3h-1.1V436.2h-1.1V436.3h-1.1V435.7h-1.1V435.4h-1.1V436.1h-1.1V436h-1.1V435.5h-1.1V435.7h-1.1V435.1h-1.1V436.2h-1.1V435.3h-1.1V436.2h-1.1V435.6h-1.1V435.8h-1.1z" fill="#35c800"/>
<path d="M34.3 435V383.3h1.1V383.9h1.1V384.9h1.1V385.1h1.1V385.3h1.1V386.2h1.1V384.7h1.1V383.9h1.1V383.7h1.1V383.6h1.1V390.9h1.1V393.6h1.1V396.3h1.1V397.3h1.1V392.7h1.1V393.5h1.1V396.9h1.1V397.8h1.1V394h1.1V394.3h1.1V395.4h1.1V396.2h1.1V397.8h1.1V397.7h1.1V396.8h1.1V397h1.1V396h1.1V395.9h1.1V398h1.1V397.3h1.1V396.2h1.1V396.4h1.1V394.7h1.1V394.9h1.1V396.6h1.1V397h1.1V392.9h1.1V393.2h1.1V395.4h1.1V395.1h1.1V397.6h1.1V397.8h1.1V399.8h1.1V399.5h1.1V397.5h1.1V397.1h1.1V398.8h1.1V398.9h1.1V397.2h1.1V396.3h1.1V398.4h1.1V398h1.1V396.8h1.1V395.9h1.1V396.7h1.1V397.4h1.1V398.1h1.1V398.2h1.1V402.7h1.1V404.2h1.1V403.8h1.1V405.2h1.1V407.5h1.1V409.3h1.1V408.5h1.1V408.7h1.1V413.5h1.1V416h1.1V413.5h1.1V413.2h1.1V413h1.1V414.6h1.1V416.2h1.1V415.7h1.1V418.3h1.1V418.8h1.1V416.1h1.1V415.4h1.1V418.5h1.1V417.7h1.1V417h1.1V417h1.1V415.3h1.1V414.6h1.1V417.4h1.1V416h1.1V418.5h1.1V418.4h1.1V417.5h1.1V417.4h1.1V418h1.1V418.2h1.1V417h1.1V416h1.1V418.2h1.1V416.9h1.1V418.1h1.1V417.8h1.1V417.4h1.1V417.2h1.1V417h1.1V417.4h1.1V416.7h1.1V415.7h1.1V418.1h1.1V416.7h1.1V417.4h1.1V418.3h1.1V418.6h1.1V417.3h1.1V413.9h1.1V413.5h1.1V415.6h1.1V414.5h1.1V414.8h1.1V414.1h1.1V407h1.1V406.3h1.1V408.4h1.1V406.4h1.1V406.1h1.1V404.7h1.1V409.1h1.1V408.8h1.1V407.4h1.1V409.1h1.1V408.1h1.1V408.6h1.1V413.6h1.1V413.2h1.1V411.2h1.1V412.2h1.1V414.1h1.1V416.5h1.1V421.2h1.1V420.7h1.1V422.7h1.1V421h1.1V418.2h1.1V417.1h1.1V413.5h1.1V412.4h1.1V412.3h1.1V411.4h1.1V412.6h1.1V412.2h1.1V411.8h1.1V409.9h1.1V405.7h1.1V404.7h1.1V408.5h1.1V408.1h1.1V404.6h1.1V403.1h1.1V400.6h1.1V398.6h1.1V398.6h1.1V395.7h1.1V387.9h1.1V382.6h1.1V385.6h1.1V387.4h1.1V390.5h1.1V393.9h1.1V397.2h1.1V399.4h1.1V399.3h1.1V399.2h1.1V397.2h1.1V398.2h1.1V401.4h1.1V403.6h1.1V405.3h1.1V409.5h1.1V412.8h1.1V405.5h1.1V397.3h1.1V394.6h1.1V390.7h1.1V389.7h1.1V388h1.1V386.5h1.1V385.6h1.1V384.9h1.1V386.2h1.1V385.5h1.1V384.8h1.1V385.3h1.1V382.6h1.1V382.1h1.1V386h1.1V384.4h1.1V383.8h1.1V382.4h1.1V382.7h1.1V381.1h1.1V375.6h1.1V373h1.1V371.9h1.1V369.6h1.1V372.3h1.1V370.6h1.1V371.3h1.1V374h1.1V373.9h1.1V376.4h1.1V381.8h1.1V384.2h1.1V387.4h1.1V388.5h1.1V389.4h1.1V390.1h1.1V359.4h1.1V356.9h1.1V351.3h1.1V350.6h1.1V349.1h1.1V349.2h1.1V352.1h1.1V351.5h1.1V344.2h1.1V342.3h1.1V337.3h1.1V330.4h1.1V330.9h1.1V329.5h1.1V322.7h1.1V319.9h1.1V323.5h1.1V321.8h1.1V318.3h1.1V316.8h1.1V331.2h1.1V334.2h1.1V337.5h1.1V340.9h1.1V341.3h1.1V344.7h1.1V347h1.1V350.5h1.1V354.3h1.1V356.4h1.1V366.1h1.1V374h1.1V381.5h1.1V388.6h1.1V391.7h1.1V395.3h1.1V391h1.1V386.4h1.1V387.4h1.1V384.5h1.1V378.9h1.1V376.6h1.1V375.2h1.1V372.4h1.1V372h1.1V370.2h1.1V365.2h1.1V363.2h1.1V361.1h1.1V354.2h1.1V356.1h1.1V359.1h1.1V354.9h1.1V346.4h1.1V338.9h1.1V332h1.1V329.5h1.1V323.3h1.1V325.3h1.1V330.9h1.1V356.8h1.1V358.7h1.1V359.9h1.1V361.2h1.1V359.7h1.1V359.9h1.1V360.2h1.1V361.8h1.1V363.7h1.1V364.6h1.1V369h1.1V372h1.1V376.4h1.1V379.4h1.1V380.4h1.1V383.1h1.1V382.6h1.1V384.1h1.1V387.5h1.1V389.3h1.1V385.6h1.1V381.7h1.1V366.1h1.1V355.7h1.1V352.9h1.1V349.7h1.1V349.9h1.1V350.4h1.1V349.8h1.1V348.3h1.1V346.4h1.1V343.8h1.1V345.7h1.1V344.3h1.1V338.5h1.1V335.1h1.1V337.8h1.1V342.2h1.1V343.1h1.1V350.1h1.1V361.6h1.1V365.8h1.1V369.8h1.1V373.9h1.1V374.8h1.1V375.9h1.1V379.8h1.1V377.3h1.1V375.9h1.1V372.6h1.1V368.7h1.1V365.1h1.1V354.3h1.1V350.4h1.1V350.2h1.1V350.3h1.1V350.2h1.1V353.7h1.1V357.2h1.1V364.8h1.1V376h1.1V382.8h1.1V382.3h1.1V382.2h1.1V383.9h1.1V385.7h1.1V385.2h1.1V387.6h1.1V389.8h1.1V389.4h1.1V392.9h1.1V388.1h1.1V381.1h1.1V381.1h1.1V386.6h1.1V391.7h1.1V398h1.1V403.3h1.1V405.3h1.1V408h1.1V406h1.1V407.2h1.1V411.5h1.1V412.2h1.1V410.9h1.1V412.8h1.1V413.1h1.1V414.1h1.1V423.1h1.1V423.3h1.1V423.5h1.1V423.7h1.1V423.9h1.1V424.1h1.1V422.9h1.1V422.3h1.1V424.6h1.1V424.8h1.1V425h1.1V425.2h1.1V425.3h1.1V425.5h1.1V425.7h1.1V425.9h1.1V418.2h1.1V416.9h1.1V417.2h1.1V415.9h1.1V413.1h1.1V411.3h1.1V410.7h1.1V407.1h1.1V405.9h1.1V403.7h1.1V401.6h1.1V401h1.1V400.9h1.1V402.9h1.1V405.1h1.1V407.1h1.1V406.5h1.1V409.2h1.1V418h1.1V417.7h1.1V414.6h1.1V413.6h1.1V413.2h1.1V410.3h1.1V408.6h1.1V408.6h1.1V407.5h1.1V405.8h1.1V402.8h1.1V398.9h1.1V393.1h1.1V395.1h1.1V394.9h1.1V397.7h1.1V398.1h1.1V398.7h1.1V398.2h1.1V398.3h1.1V394.4h1.1V394.3h1.1V392.6h1.1V390.1h1.1V385.2h1.1V388h1.1V398h1.1V401.3h1.1V406h1.1V408.8h1.1V413.8h1.1V413.8h1.1V414.7h1.1V416.3h1.1V419.2h1.1V422.5h1.1V410.1h1.1V399.1h1.1V395.3h1.1V393.4h1.1V395.2h1.1V393.4h1.1V390h1.1V391.2h1.1V392h1.1V392.6h1.1V392h1.1V394h1.1V398.4h1.1V400.5h1.1V404h1.1V404.4h1.1V406h1.1V406.2h1.1V405.3h1.1V404.9h1.1V409h1.1V408.2h1.1V404.8h1.1V405.5h1.1V405.7h1.1V406.3h1.1V406.1h1.1V406.3h1.1V411.7h1.1V412.2h1.1V414.4h1.1V417.1h1.1V414.6h1.1V416.3h1.1V415.7h1.1V416.1h1.1V419.6h1.1V419.2h1.1V417.3h1.1V418.3h1.1V423.3h1.1V423.5h1.1V419.9h1.1V392.4h1.1V395.9h1.1V394h1.1V389.5h1.1V387.6h1.1V389.3h1.1V390.8h1.1V395.1h1.1V397.4h1.1V396.8h1.1V397.2h1.1V399.5h1.1V399.5h1.1V401.3h1.1V401h1.1V401.5h1.1V400h1.1V401.3h1.1V402.5h1.1V397.7h1.1V398.2h1.1V402.9h1.1V402.7h1.1V401.5h1.1V406h1.1V410.9h1.1V412.5h1.1V412.9h1.1V414.5h1.1V416.1h1.1V416.2h1.1V409.6h1.1V408.8h1.1V415.1h1.1V415.9h1.1V417.6h1.1V416.7h1.1V410.2h1.1V411h1.1V417.2h1.1V416.9h1.1V416.2h1.1V417h1.1V416.9h1.1V417h1.1V416.1h1.1V415.3h1.1V417.9h1.1V418.8h1.1V419.2h1.1V420h1.1V416.9h1.1V415.2h1.1V420.3h1.1V419.2h1.1V418.7h1.1V418.1h1.1V413.3h1.1V412.8h1.1V412.8h1.1V412.3h1.1V407.3h1.1V407.1h1.1V410.5h1.1V410.9h1.1V409.4h1.1V408.6h1.1V407.3h1.1V407.9h1.1V409.1h1.1V407.7h1.1V406.1h1.1V405.4h1.1V406.6h1.1V406h1.1V407.5h1.1V405.7h1.1V403.1h1.1V401.6h1.1V406.4h1.1V405.2h1.1V401h1.1V400.4h1.1V399.8h1.1V399.1h1.1V395.1h1.1V395.1h1.1V397.9h1.1V396.8h1.1V398.8h1.1V398h1.1V399.8h1.1V398.6h1.1V395.6h1.1V393.9h1.1V396.5h1.1V392.2h1.1V382.1h1.1V377.4h1.1V376.3h1.1V374.9h1.1V374.5h1.1V378h1.1V384.1h1.1V386h1.1V387.4h1.1V388.4h1.1V392.2h1.1V391.6h1.1V388.1h1.1V388.6h1.1V391.2h1.1V392h1.1V389.4h1.1V436L679 436L555 436L510 434L480 430L448 426L430 423L427 421L297 421L276 422L250 424L220 428L168 434L160 435L34.3 435z" fill="#ff1400"/>
<path d="M39.2 381.7v2.4M54.6 389.7v1.8M57.9 392.1v2M62.3 389.9v1.7M65.6 393.2v1.4M69 390.6v2.3M73.3 388.6v2.5M76.6 389.5v2.2M78.8 389.3v2M80 390.1v1.7M86.5 392.3v1.2M92 388.3v1.5M99.8 401.1v1.9M102 397.9v1.8M105.2 404.9v1.2M106.3 403v2.3M108.5 409.1v1.9M109.7 406.2v2.1M114 411.1v2.5M121.8 408.9v2.3M124 413.9v1M127.2 410.8v1.4M135 410.6v1.8M136.1 410.6v1.2M144.9 405.5v1.8M148.2 412.4v1.2M150.4 410.9v1.4M151.5 411.3v2.2M158.1 411.4v1.5M159.2 408.5v2.2M160.2 409.9v1.2M162.5 400.3v1.1M163.6 400.5v1.2M166.9 436.5v2M173.5 401.7v2.5M173.5 436.9v2.7M174.6 435.5v2.8M175.7 403.6v1.2M180.1 406.8v2.3M181.2 409.1v1.9M184.5 419.4v2.1M185.6 438.3v1.8M186.7 411.5v1.4M187.8 411.8v1.8M190 433.8v2.3M193.2 436.6v2.2M196.6 405v2.5M201 437.5v1.6M202.1 390v2.3M203.2 391.7v1.6M204.2 433.9v2.2M205.4 434.5v2.7M207.6 433.6v2.1M208.7 378.7v2.2M210.9 378.9v1.3M212 378.3v2M213.1 383.5v1.2M215.2 393.6v1.2M218.6 393.7v2.3M221.9 431.9v1.9M224.1 432.3v2.8M227.4 429.1v3.4M228.5 390.1v1.8M232.9 383.5v1.1M232.9 435.7v2.9M235.1 379.1v1.3M236.2 428.6v2.1M239.5 378.3v1.4M242.8 376.7v1.1M242.8 430.1v1.2M243.9 379.5v1.6M243.9 428.4v3.1M247.2 376.9v1M248.2 375.4v2.3M249.4 369v1M251.6 427.3v2.2M253.8 363.2v1.7M253.8 426.6v2.2M254.9 366.3v2M256 426.1v2.3M257.1 367.3v1.7M258.2 369.9v2.2M259.2 429v3.2M262.6 378.6v1.9M264.8 426.8v3.2M265.9 385.2v2M267 382.7v1.4M267 426.2v2M270.2 427.7v3.2M271.4 344.7v1.7M271.4 427.1v1.6M272.5 426.3v3.1M273.6 340v1.7M273.6 427v1.2M275.8 424.9v1.3M276.9 428.8v1M280.2 320.2v1.2M282.4 327.6v1.2M282.4 423.9v1.9M283.5 425.4v2.5M284.6 316.1v2M291.2 328v1.1M292.3 334.9v2.1M292.3 424v2.3M294.5 427.8v3M298.9 351.8v1.5M300 429.8v1.6M303.3 426.5v1.6M304.4 427.2v1.5M305.5 385.5v2.1M305.5 423.9v1.5M307.7 423.8v1.9M308.8 423.3v1.4M311 427.2v2.4M312.1 372.2v2.5M313.2 369v2.5M315.4 366.2v1.5M315.4 425.3v1.9M316.5 366v1.1M316.5 425.4v2.1M317.6 423.2v3.3M318.7 425.7v2M319.8 355.5v1.7M319.8 430v2.2M322 350.6v2.5M330.8 428.3v3.5M334.1 351v2.2M335.2 344.3v1.3M335.2 432v1.4M336.3 352.9v2.5M338.5 352.6v1.4M339.6 356.4v2.3M339.6 424.2v3M341.8 351.6v1.7M345.1 427.7v2.1M346.2 427.2v2.1M349.5 423.8v3.3M350.6 379.5v1.1M351.7 425.5v1.6M353.9 377.6v2.2M356.1 426.7v2.3M357.2 369.6v1.5M359.4 426.4v1.6M361.6 432.3v3.1M362.7 424.8v2.7M363.8 343.7v2.3M363.8 423.1v2.3M366 341.8v1.6M367.1 432.6v2.4M368.2 423.2v2.2M370.4 338.5v2.1M372.6 426.4v2.5M373.7 331.2v1.1M374.8 335.5v1.2M377 345.7v1.1M377 424.5v1.8M380.3 424.3v3.1M385.8 423.6v2.8M388 362.1v1.1M390.2 359.8v2M390.2 429.6v2.5M394.6 428.2v2.7M395.7 341v1.5M397.9 347.9v1.9M397.9 427.4v1.5M399 357.3v1.6M402.3 424.3v1.6M404.5 377.6v1.5M405.6 430.4v2.3M407.8 428.3v1.1M408.9 383.6v1.3M410 381.3v1M410 425.4v1.7M411.1 423.4v2.2M414.4 423.3v1.8M415.5 378.9v1.7M415.5 423.3v3.5M418.8 424.4v3.1M419.9 426.6v2.9M422.1 397.4v1.3M428.7 424.9v3.2M435.3 428.5v1.1M440.8 426.9v2.8M443 433.6v3M446.3 435.4v2.9M448.5 407v2.2M448.5 429.3v3.1M451.8 435.5v2.1M452.9 402.2v1.3M452.9 429.8v2.7M455.1 407.6v1.6M457.3 402.6v1M459.5 399.5v1.7M460.6 397.9v2.4M460.6 431.5v2.4M463.9 435.9v2.9M465 404v1.8M466.1 430.3v3M467.2 433v1.7M470.5 407.9v1.3M471.6 404.9v1.3M472.7 410.6v1M473.8 434.9v2.6M474.9 404.1v1.8M480.4 433.5v2.5M481.5 385.2v1.6M489.2 394.1v2.1M491.4 433.5v3.2M492.5 388.3v2.2M496.9 384.7v2.3M506.8 420.7v2.4M516.6 386.9v1.8M523.2 398.3v1.1M529.9 405.2v1.6M535.4 403.2v2.3M537.5 399.3v2.1M543 409.6v1.3M544.1 411.4v2M552.9 417.2v2.2M555.1 388.4v1.4M560.6 384.7v1.6M563.9 387.4v1.1M572.8 397.9v2.3M576 389.3v1.1M592.5 408.7v1.3M593.6 412.2v2.5M599.1 412.1v1.9M602.4 410.8v2.1M603.5 412.6v1.6M606.8 408.2v2.2M609 414.5v2.4M614.5 409.8v2.1M616.8 412.7v1.1M618.9 409.4v1.4M620 404.5v2.1M623.3 402.9v1.2M626.6 400.7v2.4M627.8 403.4v1.2M638.8 402v2.1M640.9 397.4v2.4M642 399.5v1.4M646.4 396v1.1M647.5 395.2v1.8M648.6 389.4v2.3M650.8 389.3v2.2M654.1 393.5v1.9M657.4 389.5v1.4M658.5 386.5v2.1M660.8 389.3v1.6M661.8 376.5v1.4M665.1 370.1v1.2M666.2 368.6v2.5M667.3 367.3v1.3M668.4 379.6v1.3M670.6 381.5v1.1M677.2 388.3v1.1" stroke="#2a9c00" stroke-width="1.1"/>
<path d="M176.8 436.3v1.7M180.1 436.4v3.2M188.9 435.2v2.4M198.8 433v2.4M203.2 432.7v3.3M206.5 435.1v1.8M208.7 435.6v3.2M215.2 433.1v1.9M216.4 433.4v1.6M219.7 438.7v1.7M220.8 430.7v1.3M225.2 431.6v1.7M228.5 430.1v2.8M229.6 429.4v1.5M234 429v2.7M237.2 430.7v3.1M247.2 428.8v1.6M248.2 432.8v2.1M250.5 428v1.7M258.2 426v1.9M261.5 429.2v2.1M263.7 427.4v1.4M269.2 431.5v2.5M274.7 426.5v2M278 431v1M280.2 432.4v2.4M284.6 425.2v3.4M285.7 429.3v1.7M286.8 425.5v2.6M287.9 427.2v1.7M291.2 423.7v1M293.4 423.3v2.7M295.6 426.9v3.5M296.7 427.3v2.4M306.6 426.9v1.1M312.1 425.8v2.6M314.3 424.2v2.4M320.9 425.1v1.3M322 427.3v2.9M337.4 425v3.4M340.7 430.1v1M341.8 426.2v2.9M347.3 426.1v2.6M353.9 427.9v1.5M355 428.7v3.3M364.9 432.4v2.1M379.2 424.3v2.7M382.5 428.1v2.7M383.6 423.1v2M386.9 426.1v3.5M388 427.6v1.5M393.5 424.6v3.4M395.7 423.4v2.3M400.1 426.9v2.2M403.4 426.8v1M417.7 423.9v2.6M424.3 427.7v2.9M425.4 426.9v2.3M427.6 423.7v2.6M429.8 431.8v2.4M430.9 426.3v2.8M434.2 433.4v3.2M437.5 427.5v2.6M447.4 430v3.4M457.3 435.5v2.1M458.4 433.4v2.7M461.7 433v2.1M472.7 431.4v1.4M477.1 433.1v2.8M478.2 436.7v2M483.7 435.8v1.9" stroke="#3fd400" stroke-width="1.1"/>
<path d="M37 384.6v1.5M39.2 385v2.1M40.3 385.9v1.1M41.4 384.4v1.1M42.5 383.6v1.5M43.6 383.4v1.6M44.7 383.3v.9M45.8 433.8v1.7M46.9 393.3v1.2M48 396v1M49.1 397v1.2M50.2 433.8v.9M51.3 393.2v.8M53.5 397.5v1.6M54.6 393.7v1.8M55.8 394v1M55.8 433.8v1M56.8 395.1v2.1M57.9 395.9v1.7M59 397.5v1.1M60.1 397.4v1.6M61.2 396.5v.8M61.2 433.8v1.5M62.3 396.7v1.4M63.4 433.8v.9M65.6 397.7v1.5M65.6 433.8v1.5M69 396.1v1.1M69 433.8v1.3M70 394.4v2M71.1 394.6v2.1M77.8 394.8v2.1M78.8 397.3v2.1M80 397.5v1.9M80 433.8v1.4M81 433.8v1.8M83.2 397.2v1.8M84.4 396.8v1.6M84.4 433.8v.8M85.5 398.5v1.4M87.6 396.9v1.1M92 433.8v1.3M94.2 396.4v2.2M94.2 433.8v1.3M96.5 397.8v1.9M98.6 402.4v2M100.8 403.5v1.4M102 404.9v1.4M103 407.2v1.7M103 433.8v.9M105.2 408.2v1.5M106.3 408.4v1.5M107.5 413.2v1.6M110.8 412.9v2M113 433.8v.8M114 415.9v1.7M115.2 433.8v1.2M116.2 418v.8M117.3 418.5v1.3M118.5 433.8v1.6M120.7 418.2v1.9M122.8 416.7v1.2M126.2 433.8v1.1M128.4 415.7v1.7M129.5 433.8v1.4M130.6 418.1v1.8M132.8 433.8v1.7M135 417.9v1M137.2 433.8v1.3M139.4 433.8v1.5M140.5 417.8v1.8M141.6 417.5v1.9M143.8 416.9v1.2M143.8 433.8v1M144.9 416.7v2.1M144.9 433.8v1M147.1 416.4v2M148.2 415.4v.9M148.2 433.8v1.2M151.5 417.1v1.6M154.8 433.8v1.3M155.9 433.8v1.6M157 413.2v1.9M158.1 433.8v1.6M159.2 414.2v.9M161.4 413.8v.9M161.4 433.6v1.3M165.8 406.1v1.8M165.8 433.1v1.6M166.9 432.9v1.6M170.2 408.5v1.9M171.2 407.1v1.5M171.2 432.4v1.6M172.4 432.3v1.7M174.6 408.3v2M174.6 432v1.7M176.8 412.9v.9M177.9 410.9v2.1M179 431.5v1.1M180.1 413.8v1.9M182.2 431.2v1.3M184.5 430.9v1.7M190 430.3v1.1M191.1 412v2.1M191.1 430.1v1M193.2 412.3v1.3M194.4 429.8v.9M195.5 411.5v1.1M195.5 429.6v1.5M196.6 409.6v2.2M196.6 429.5v1.5M198.8 404.4v2.1M198.8 429.3v.9M199.9 429.1v1.7M201 407.8v1.7M203.2 402.8v1.1M203.2 428.7v1.5M204.2 400.3v1.3M204.2 428.6v1.7M205.4 398.3v1M206.5 398.3v2.1M206.5 428.4v1.7M207.6 428.2v1.5M208.7 387.6v1.4M209.8 382.3v.9M210.9 427.9v1.7M213.1 390.2v1.2M213.1 427.6v.8M215.2 396.9v1M215.2 427.3v.9M216.4 399.1v1M216.4 427.2v1.3M217.5 399v1.1M217.5 427.1v1.3M218.6 427v1.8M219.7 396.9v1.6M219.7 426.8v1.1M220.8 397.9v1.3M220.8 426.7v1.3M221.9 401.1v1.5M221.9 426.6v1.8M223 403.3v1.4M223 426.4v1.6M225.2 409.2v1.1M225.2 426.1v1.2M226.2 426v1.4M227.4 405.2v1.8M227.4 425.8v1.1M228.5 425.7v.9M229.6 394.3v1.9M230.7 425.4v1.1M231.8 425.2v1.7M232.9 387.7v1.1M234 386.2v1.6M234 424.9v1.8M236.2 384.6v1.3M238.4 385.2v1.4M239.5 424.2v.9M240.6 385v1.5M241.7 382.3v1M241.7 423.9v1.3M242.8 423.8v1.7M243.9 385.7v1.7M243.9 423.6v1M245 423.5v.9M246.1 423.3v1.2M247.2 382.1v1.1M248.2 423v1.7M249.4 380.8v1.2M249.4 422.9v1.3M250.5 375.3v1.7M250.5 422.8v1.2M253.8 369.3v1.4M253.8 422.5v1M254.9 372v1.4M256 370.3v1.9M257.1 371v1.3M260.4 376.1v1.2M261.5 381.5v1.3M261.5 421.9v1.5M263.7 387.1v1.9M263.7 421.8v.9M264.8 388.2v1.4M265.9 421.6v1M267 389.8v1.2M267 421.5v.8M269.2 356.6v.9M271.4 421.2v1.5M272.5 348.8v1.3M272.5 421.1v.9M273.6 348.9v2M274.7 420.9v.9M275.8 420.8v1.1M276.9 420.8v.9M278 420.7v1.2M279.1 337v1.4M279.1 420.7v1M280.2 330.1v1.2M280.2 420.6v1.4M281.3 420.6v.9M283.5 322.4v1.4M284.6 420.4v1.5M285.7 323.2v1.3M285.7 420.3v1.1M286.8 420.3v1.6M287.9 420.2v1.5M289 316.5v2.2M289 420.2v1.8M293.4 420v1.5M294.5 341v.9M295.6 344.4v1.6M297.8 350.2v1.1M297.8 419.8v1.2M301.1 365.8v2.1M302.2 419.8v1.2M303.3 419.8v1.1M304.4 419.8v.9M305.5 419.8v1.3M306.6 395v2.1M306.6 419.8v1.3M307.7 419.8v1.4M309.9 419.8v1M311 384.2v.8M311 419.8v1M312.1 419.8v1.3M313.2 419.8v1.4M314.3 419.8v1.5M315.4 372.1v1.5M315.4 419.8v1.7M316.5 371.7v.9M317.6 369.9v1.1M317.6 419.8v1M318.7 364.9v1M318.7 419.8v1.1M319.8 362.9v.9M319.8 419.8v1.5M320.9 360.8v2.1M320.9 419.8v1.3M322 419.8v1.7M323.1 419.8v1.4M324.2 358.8v2M324.2 419.8v1.8M326.4 346.1v.9M326.4 419.8v1M327.5 338.6v1.6M327.5 419.8v1.5M328.6 331.7v1.6M328.6 419.8v1.5M329.7 419.8v.8M331.9 419.8v1.3M333 330.6v1.9M333 419.8v1.8M334.1 419.8v1.7M335.2 419.8v1.4M338.5 359.4v1.7M339.6 359.6v1.5M340.7 419.8v1.1M342.9 363.4v2.1M344 419.8v1.3M345.1 419.8v1.2M346.2 371.7v1.5M346.2 419.8v1.1M347.3 419.8v1.5M348.4 379.1v.9M348.4 419.8v1.5M349.5 380.1v2.1M349.5 419.8v1.4M351.7 382.3v1.3M351.7 419.8v1M352.8 383.8v1.6M352.8 419.8v1.1M356.1 385.3v.9M356.1 419.8v1.1M357.2 419.8v1.1M358.3 419.8v1.6M359.4 419.8v.9M360.5 419.8v1M361.6 419.8v1.6M363.8 419.8v1.6M364.9 349.5v2.2M364.9 419.8v.9M366 348v.8M367.1 419.8v1.5M370.4 419.8v1.2M371.5 419.8v1.7M372.6 419.8v1.3M375.9 419.8v1.7M377 349.8v1.7M377 419.8v1.3M378.1 361.3v1.6M378.1 419.8v1.4M379.2 419.8v1.1M380.3 419.8v1.3M381.4 419.8v1.1M382.5 374.5v1.4M382.5 419.8v.9M383.6 375.6v1.6M384.7 379.5v.9M384.7 419.8v1.2M386.9 419.8v1.7M388 372.3v1.4M389.1 419.8v1.5M390.2 364.8v1.4M390.2 419.8v1.5M391.3 354v1.8M391.3 419.8v.9M393.5 349.9v1M393.5 419.8v1.5M394.6 350v1.9M394.6 419.8v1M397.9 419.8v1.4M399 364.5v1.1M399 419.8v1.8M401.2 382.5v1.4M401.2 419.8v1.1M402.3 382v1.7M403.4 419.8v1.2M404.5 419.8v.9M406.7 384.9v2.1M407.8 387.3v2.1M407.8 419.8v1.4M410 389.1v1.3M411.1 419.8v1.5M412.2 387.8v.9M412.2 419.8v1.6M414.4 380.8v2.1M414.4 419.8v1.7M415.5 386.3v1.7M417.7 397.7v1.9M418.8 403v1.9M419.9 405v1.5M419.9 419.8v.9M421 419.8v1.2M423.2 419.8v1.8M424.3 419.8v1.7M425.4 411.9v1.1M425.4 419.8v1.4M426.5 410.6v1.5M426.5 419.8v1.5M427.6 412.5v1.5M427.6 420.2v1M428.7 412.8v1.4M429.8 421.6v.9M430.9 421.9v1.4M433.1 422.3v.8M434.2 422.5v1.7M437.5 422.6v1.5M439.7 423.4v1M440.8 423.6v1.7M441.9 423.8v.8M443 424v1.3M444.1 424.1v1.8M445.2 424.3v.8M446.3 424.5v1.5M447.4 424.7v1.1M448.5 424.9v.8M450.7 416.9v1.6M450.7 425.1v.9M451.8 415.6v1M452.9 425.4v1.7M454 425.5v.8M455.1 410.4v1.1M457.3 405.6v1.5M458.4 426.1v1.2M460.6 400.7v1.6M460.6 426.4v.9M461.7 400.6v1.4M461.7 426.5v1.7M462.8 426.6v.9M466.1 427.1v1.6M467.2 408.9v1.4M467.2 427.2v1.7M468.3 417.7v1.7M468.3 427.3v.9M469.4 417.4v1.4M469.4 427.5v.8M470.5 414.3v1.6M471.6 413.3v1.8M471.6 427.7v1M472.7 412.9v2M472.7 427.9v1M473.8 410v1.2M474.9 408.3v1.7M476 408.3v1.7M476 428.3v1.2M478.2 405.5v1.6M478.2 428.6v.8M479.3 428.7v1.5M481.5 392.8v1.3M481.5 429v1.7M482.6 429.1v1.3M483.7 394.6v1.8M483.7 429.3v1.3M484.8 429.4v1.6M485.9 397.8v1.1M485.9 429.6v1.4M488.1 397.9v1.2M489.2 430v1.5M490.3 394.1v1.1M490.3 430.2v1M491.4 394v1.4M491.4 430.3v1.4M493.6 389.8v2M493.6 430.6v1.6M494.7 384.9v1.6M494.7 430.8v1.3M495.8 387.7v1.5M496.9 397.7v1.7M498 401v2.1M498 431.2v1M501.3 413.5v1M503.5 431.9v1.5M504.6 416v1.6M504.6 432.1v1.1M506.8 422.2v1.1M507.9 432.5v1M510.1 432.8v1.4M511.2 432.9v1.6M512.2 432.9v1.7M513.4 432.9v1.6M514.4 433v1.8M516.6 433.1v.8M517.8 433.1v1.2M518.9 391.7v1M518.9 433.2v1.3M522.1 400.2v.9M522.1 433.3v1.4M523.2 433.4v1.8M525.4 433.5v1M527.6 405v1.2M528.8 404.6v2.2M530.9 433.7v1.4M532 404.5v1.8M533.1 405.2v2.1M533.1 433.8v1M534.2 405.4v1.8M535.4 406v2M535.4 433.9v1.5M536.4 434v1.8M537.5 406v1.1M540.9 414.1v.8M541.9 416.8v2.1M543 414.3v2.2M544.1 416v2.1M545.2 415.4v1.4M545.2 434.4v1.1M546.4 415.8v2.1M546.4 434.4v1.5M547.4 419.3v1.7M548.5 434.5v1.8M549.6 417v1.4M549.6 434.6v1.3M552.9 434.7v1.1M555.1 392.1v1M555.1 434.8v1.5M560.6 389v1.1M561.8 434.8v1.1M562.8 394.8v1.6M563.9 397.1v1M565 396.5v1.5M566.1 396.9v1.2M568.3 434.8v1M570.5 400.7v1.5M572.8 399.7v.9M574.9 402.2v1.7M577.1 397.9v1.4M578.2 434.8v1.4M579.3 402.4v1.5M581.5 434.8v1.6M582.6 434.8v1.7M583.8 412.2v1.6M585.9 414.2v2.1M588.1 415.9v2M590.3 408.5v.9M590.3 434.8v.8M591.4 414.8v1.8M592.5 415.6v1.9M592.5 434.8v1.2M593.6 417.3v1.2M594.8 416.4v1.2M594.8 434.8v1.6M595.8 409.9v1.3M596.9 410.7v1.6M596.9 434.8v.8M600.2 415.9v2M601.3 434.8v1M602.4 416.6v1.1M607.9 418.5v2M607.9 434.8v1.6M609 418.9v1.6M610.1 419.7v1.1M614.5 418.9v1.5M615.6 418.4v.9M616.8 434.8v1.1M618.9 412.5v2.1M620 412.5v1.1M620 434.8v1.7M621.1 412v1.4M622.2 407v1.4M632.1 407.4v1.7M633.2 405.8v1.7M637.6 407.2v1.7M637.6 434.8v1.3M640.9 401.3v1.5M643.1 434.8v1.7M645.3 400.1v1.2M649.8 394.8v1.3M650.8 397.6v1M650.8 434.8v.9M651.9 396.5v1M651.9 434.8v.9M654.1 397.7v1.8M654.1 434.8v1.7M657.4 395.3v1.2M657.4 434.8v1.4M658.5 434.8v1M660.8 391.9v1.5M661.8 381.8v1.2M662.9 377.1v1M662.9 434.8v1.4M666.2 374.2v1.1M668.4 383.8v1.4M669.5 385.7v2.1M671.8 388.1v1.2M672.8 391.9v1M675 387.8v1.9M677.2 390.9v1.3M679.4 389.1v1.7" stroke="#e8d400" stroke-width="1.1"/>
<path d="M166.3 407.1v26.5M168.5 410.1v23.2M172.9 409.1v23.8M175.1 414.6v18M186.1 419.2v12.2M188.3 414.5v16.6M192.7 413.6v17M197.1 406.7v23.4M208.1 388.9v39.9M210.3 386.6v42M214.7 398.2v29.9M216.9 400.3v27.5M219.1 398.2v29.3M221.3 402.4v24.8M225.7 413.8v12.8M227.9 398.3v28M230.1 391.7v34.4M232.3 389v36.8M238.9 385.8v39.1M241.1 383.6v41M249.9 376.6v46.9M252.1 372.9v50.4M258.7 374.9v47.9M260.9 382.8v39.8M263.1 388.4v34.1M265.3 390.4v31.8M267.5 360.4v61.7M276.3 345.2v76.3M278.5 338.3v83M282.9 323.7v97.5M289.5 332.2v88.6M300.5 367.1v53.4M302.7 382.5v38M304.9 392.7v27.8M313.7 376.2v44.3M315.9 373v47.5M318.1 366.2v54.3M322.5 357.1v63.4M324.7 355.9v64.6M329.1 330.5v90M331.3 326.3v94.2M335.7 360.9v59.6M337.9 360.7v59.8M340.1 361.2v59.3M344.5 370v50.5M346.7 377.4v43.1M351.1 383.6v36.9M353.3 388.5v32M355.5 386.6v33.9M357.7 367.1v53.4M362.1 350.9v69.6M370.9 339.5v81M373.1 338.8v81.7M375.3 344.1v76.4M379.7 370.8v49.7M381.9 375.8v44.7M399.5 377v43.5M403.9 384.9v35.6M406.1 386.2v34.3M417.1 399v21.5M421.5 407v13.5M447.9 419.2v6.4M452.3 414.1v12M458.9 402.6v24.3M461.1 401.9v25.3M463.3 406.1v21.3M465.5 407.5v20.3M467.7 419v9M469.9 415.6v12.7M478.7 403.8v25.6M485.3 399.1v31.2M487.5 399.2v31.4M489.7 395.4v35.5M491.9 393.6v37.6M494.1 386.2v45.2M496.3 399v32.8M498.5 407v25.1M500.7 414.8v17.5M502.9 415.7v16.9M516.1 393v40.8M518.3 393v40.9" stroke="#b51000" stroke-width=".6"/>
<path d="M170.2 431.4v2.7M171.2 427.6v6.3M175.7 427.3v6.1M176.8 430.4v2.8M180.1 429.8v3.1M181.2 427.1v5.7M182.2 428.4v4.2M183.4 427.3v5.3M191.1 428.1v3.5M194.4 427.2v4.1M199.9 426.3v4.3M201 427.4v3.1M206.5 423.7v6.1M207.6 423.9v5.9M209.8 425.9v3.6M210.9 425.9v3.5M213.1 426v3.1M214.2 423.7v5.3M220.8 424.7v3.5M224.1 425.1v2.7M226.2 422.5v5M231.8 421.3v5.5M234 423v3.5M237.2 423.5v2.5M238.4 422.4v3.5M241.7 421.3v4.1M242.8 421.6v3.7M248.2 420.3v4.2M252.7 418.4v5.7M253.8 417.9v6.2M254.9 418.7v5.2M258.2 417.8v5.8M262.6 417.4v5.9M265.9 418.3v4.8M267 418.1v4.9M268.1 416.9v6M270.2 417.9v4.9M273.6 420v2.5M278 416.5v5.7M279.1 419.8v2.3M284.6 417.5v4.4M285.7 417.6v4.2M287.9 418.6v3.1M292.3 417.9v3.6M294.5 417.6v3.8M296.7 417.7v3.7M298.9 415v6.3M305.5 418.8v2.5M307.7 418.4v2.9M313.2 418.4v2.9M315.4 419.2v2.1M318.7 418.8v2.5M324.2 418.7v2.6M327.5 418.1v3.2M336.3 419.7v1.6M339.6 419.5v1.8M344 418.5v2.8M346.2 418.6v2.7M357.2 419.6v1.7M361.6 418.8v2.5M362.7 419.9v1.4M372.6 418.6v2.7M373.7 418.2v3.1M388 418v3.3M391.3 418.2v3.1M393.5 418.4v2.9M397.9 419.9v1.4M402.3 418v3.3M404.5 418.4v2.9M405.6 418.3v3M407.8 419.1v2.2M408.9 419.6v1.7M412.2 418.9v2.4M423.2 418.1v3.2M427.6 419.5v2.2M462.8 425.4v2.8M467.2 426.7v2M468.3 427.4v1.5M469.4 426.7v2.2M478.2 427v3.1M490.3 429.2v2.5M493.6 429.8v2.3M496.9 430.9v1.7M498 429.7v3M500.2 431v2M505.7 431v2.7M513.4 432.3v2.2" stroke="#161616" stroke-width="1.1"/>
<path d="M165.8 435.8v1.7M170.2 434.6v1.5M171.2 436.1v1.5M172.4 434.8v1.7M174.6 434.9v2.4M176.8 435.4v2.2M180.1 434.6v1.1M182.2 433v1.7M185.6 433.2v1.7M186.7 434.1v2.2M188.9 432.7v1.2M191.1 433.6v2.4M193.2 431.4v1.1M195.5 432.8v1.3M197.7 431.5v2.3M198.8 432.5v1.2M199.9 431.6v1.4M202.1 432.1v1.5M204.2 431.1v2M205.4 431.2v2.1M206.5 430.4v2.4M208.7 430.1v1.1M209.8 431.5v1.8M210.9 429.8v2.4M212 430.9v1.4M213.1 429.5v1.2M218.6 430.6v2.4M219.7 430.5v1.8M220.8 428.2v1.7M229.6 428.7v1.3M234 428.5v2.1M236.2 426.6v1.5M237.2 427.1v2.3M241.7 426.3v1.5M242.8 426.2v1.8M245 426.2v1.7M246.1 425.9v1.7M247.2 425.1v1.9M252.7 424.6v1.4M253.8 425v1.9M254.9 425.9v2.4M257.1 424.6v1.1M260.4 425v1.9M262.6 425.4v2.1M263.7 425.2v1.2M264.8 424.6v2.3M268.1 424.1v2.4M270.2 423.6v1.1M275.8 423.2v2.2M276.9 422.3v2M279.1 424.1v2M282.4 423.2v1.2M284.6 422.2v1.7M285.7 423.7v2M287.9 423.2v2M291.2 422.7v2.1M293.4 423.5v1.2M300 423.4v2.4M301.1 421.9v1.7M302.2 422.5v1.7M303.3 423.1v2.2M305.5 422.3v2.1M306.6 422v2.4M307.7 422.2v1.3M308.8 423.1v1.8M313.2 421.6v1.8M315.4 422.8v1.3M316.5 422.5v2M319.8 423.2v2.2M322 421.7v1.7M323.1 421.5v2.4M324.2 423.3v1.8M325.3 421.5v2.3M327.5 421.4v1.7M328.6 423.4v1.2M330.8 422.3v2.2M331.9 423.2v2.2M333 422.9v1.1M335.2 423.5v1.6M338.5 422.8v1.8M339.6 423.2v1.5M340.7 423.2v1.7M342.9 421.7v1.7M346.2 421.8v1.5M350.6 421.7v2.3M351.7 422.8v1M353.9 423.4v1.8M356.1 421.5v1.2M358.3 423.3v2.3M359.4 423.3v1.7M364.9 421.5v1.8M368.2 423.5v1.5M370.4 421.6v1.1M372.6 422.3v1.1M373.7 423.4v2.1M382.5 422.1v1.3M385.8 421.8v1.4M386.9 423.1v1.3M390.2 421.8v1.7M391.3 421.6v2.2M393.5 422.6v2.2M395.7 422.7v2.4M399 421.8v2.5M402.3 421.5v2.4M406.7 421.7v1.3M410 422.4v1.9M412.2 421.9v2.3M418.8 422.5v2M419.9 423.1v1.6M424.3 422.8v1.4M425.4 421.7v2.3M429.8 424.3v1.4M430.9 423.6v2.5M432 424.3v1.3M433.1 424.5v1.3M434.2 424.1v1.8M438.6 425.1v1.4M439.7 426.7v1.1M440.8 425.3v2.3M441.9 425.5v1.2M443 426.9v1.2M448.5 427.4v1.9M449.6 428v1.4M450.7 428.8v1.9M457.3 428.9v1.7M460.6 429.8v1.2M465 429.8v2.1M466.1 430.6v2.3M468.3 430.2v2.1M472.7 430.8v2.3M477.1 431.4v1.6M478.2 431.3v1.3M479.3 431.8v1.1M480.4 432.4v2.3M484.8 431.1v1.5M485.9 432.6v2.5M488.1 431.8v1.4M489.2 433.6v1.8M492.5 433.3v1.3M493.6 434.2v1.3M494.7 432.9v1.4M498 433.8v1.2M499.1 433.4v2M500.2 434.6v2.2M502.4 435.2v1.3M504.6 434.4v1.6M507.9 434.4v1.2M513.4 435.9v2M514.4 434.7v2.1M516.6 434.8v1.5M517.8 435.2v2.4M519.9 435.6v1.6" stroke="#b4e000" stroke-width="1.1"/>
<path d="M248.2 385.5v38.5M249.4 382.9v40M252.7 374.5v48.9M256 372.6v50M260.4 378.8v43.8M267 393v29.6" stroke="#8a1000" stroke-width="1.1"/>
<path d="M268 370H302M319 370H345M359 370H380M389 370H399M245 385H262M268 385H304M311 385H352M358 385H403M414 385H415M268 410.3H420M165 423H250" stroke="#a00c00" stroke-width="1"/>
<path d="M206 401H216M219 401H221M228 401H419" stroke="#8a0a00" stroke-width="1"/>
<path d="M34 404.5H100" stroke="#5a0c00" stroke-width="1"/>
<path d="M555 412.5H583M624 412.5H679" stroke="#7a0a00" stroke-width="1"/>
<path d="M35.3 413.7v2M38.5 430.4v2M40.3 415.7v1.5M43.3 424.2v4.5M43.3 431.1v3.5M47.3 431.8v2.8M49.3 432.8v4.8M50.7 415.3v2.5M52.3 416.8v1.5M52.3 428.7v4.1M53.3 414.4v2M53.7 432.1v4.7M54.7 426.4v3.1M54.5 429.5v4.8M56.7 418.4v1.5M58.7 425v3.8M59.7 424.5v2.4M59.3 426.9v4.4M60.3 431.2v2M62.3 426v4.8M63.3 420.6v1.5M64.3 432v5.4M67.7 426.6v4.9M68.5 416.7v1M69.7 433.1v4.8M70.7 408.2v1M71.7 414.7v1M71.7 432.7v3.7M72.7 433.1v2.4M73.7 430.4v5.5M74.3 431.7v4.6M75.3 430v2M79.3 419.4v1M82.7 425v3.8M82.3 431.8v3.1M83.5 408v2M86.3 416v1.5M88.7 408.1v1.5M88.7 428.1v5.4M90.3 412.6v2M91.3 408.6v2.5M91.7 431.4v4.5M92.7 425.2v5M93.5 416.2v2.5M94.3 407.2v1.5M96.7 424.7v3.3M96.3 428v4.1M97.5 414.7v1.5M97.7 432.8v5.2M98.5 407.7v1M100.3 407.2v1M101.7 408.7v2M102.7 432.6v4.9M104.7 414.3v2M107.5 413.1v1.5M107.3 416.1v1M107.5 424.6v5.1M107.3 432.8v3.1M108.7 425.8v2.5M109.3 432.3v4.6M110.5 424.8v3.2M113.5 424.8v3.4M113.7 432.9v5.3M114.3 430.6v5.5M115.5 417.8v1M115.3 427.3v2.3M117.3 418.4v1.5M117.3 424.4v3.9M123.7 430.5v3.7M124.3 419.3v2.5M126.3 430.1v4M131.5 424.4v3.4M133.3 425.4v4.5M134.7 420.9v1.5M136.7 426v2.9M137.5 426.5v4.1M139.3 419.5v1.5M139.3 430v2.2M143.7 430.1v3.9M147.5 424.7v3M148.7 426.7v4.7M150.7 430.4v2.2M151.7 424.8v4.4M154.7 427.4v5.3M155.5 425.8v5.2M157.5 429.7v3.9M158.7 431.1v4.5M161.3 417.4v2.5M162.7 424v3.1M163.7 417.1v2M167.5 413.6v2.5M169.5 428.2v2.5M170.7 416.4v1M171.5 421.6v2M175.3 424.4v2.5M176.7 431.1v2M178.3 422.9v2M187.5 420.9v2M190.3 425.9v1.5M193.5 421.4v1.5M196.3 423.7v1M198.3 418.7v1M198.7 421.2v1.5M200.5 425.7v1M201.7 425.7v1M203.3 426.3v2M205.3 419.6v2.5M211.3 389.2v2M211.7 391.2v1M211.3 406.7v1.5M211.3 418.7v1M214.5 404.7v1M214.7 423.2v1M215.3 421.5v1.5M215.3 424.5v1M218.7 400.9v2M220.5 403.9v1M221.5 411.4v1M222.3 408.4v2.5M222.7 412.4v1M224.3 407.7v2M225.3 410.7v1M225.3 418.2v1.5M228.5 417.2v2.5M232.3 418.7v1M232.5 422.7v2.5M234.3 402.5v2.5M234.3 417.5v2M235.7 415.7v2.5M236.5 419.9v2.5M237.3 414.5v1.5M238.7 420.7v1.5M242.7 397.1v1M243.3 392.8v1M244.5 391.1v2M245.7 412.3v2.5M246.5 395.1v1M246.5 396.1v1M246.5 420.6v1.5M246.5 422.1v2.5M248.5 401.4v2M251.7 394.9v1.5M251.3 404.4v2M251.5 406.4v2.5M252.7 396.2v2M253.7 416.5v2M254.5 387.4v2M254.5 389.4v1M256.5 398v2.5M256.5 400.5v2M258.5 377.7v2.5M258.3 414.7v1M259.7 384.9v1.5M259.7 399.4v1.5M260.5 403.4v1M261.3 389.9v2.5M265.3 398.7v1.5M267.7 385.7v1.5M267.3 394.7v2M267.3 417.7v1M268.3 360.1v2M268.3 368.1v1.5M269.5 364.8v2.5M269.5 370.3v1M269.7 399.3v2.5M270.5 387.1v1M271.7 350.3v1.5M271.3 382.3v1.5M271.7 388.3v2.5M271.7 395.3v2M271.5 406.3v1M272.3 406.2v2M272.7 412.7v2M272.5 417.7v1.5M273.7 352.2v2M273.7 400.7v2M274.7 359.2v2M274.7 373.7v1M275.7 417.4v2M276.5 352.7v1.5M276.7 395.2v1M277.3 349.5v1M277.5 356.5v2M277.5 376.5v1.5M277.3 390v1.5M278.3 360.9v1.5M278.3 382.9v2M278.3 416.9v2M279.7 338.4v1M279.5 407.4v2.5M280.5 350.9v1.5M280.7 400.9v1.5M280.3 408.4v1M281.5 386.2v2M282.3 406.5v2.5M283.3 373.9v2M283.5 381.9v1.5M284.5 326.7v2M284.7 340.7v2M284.5 401.7v1.5M284.5 410.7v2M285.3 342v1.5M285.3 387v2M287.5 348.2v1.5M287.3 419.7v1.5M288.3 322.5v2.5M288.7 355.5v1M288.7 395.5v2M289.5 389.7v1M289.7 399.7v1M290.3 341.2v1.5M290.5 354.7v2M291.7 342.7v1M291.3 412.7v2M292.5 385.9v1.5M292.5 390.4v2M292.5 394.9v1M293.3 362.9v2.5M293.3 396.4v2M294.5 402.9v2.5M295.7 352.9v2M295.3 359.4v2M296.3 358.9v2M296.5 388.4v2M297.7 368.4v1M299.7 405.9v1M300.5 363.2v1M300.3 381.2v1.5M300.3 382.7v1.5M300.7 387.2v1.5M300.7 393.2v1.5M300.3 394.7v2.5M300.7 414.7v1M301.7 418.2v2M302.3 382.5v2M302.5 395v1M302.7 415.5v2M303.3 388.2v2M303.3 402.7v1.5M304.3 409.9v1.5M305.5 402.7v2.5M305.7 413.7v1.5M306.3 400.7v2.5M307.3 406.7v1M309.5 397.9v1M310.5 393.7v1M311.3 405.5v2M312.3 397.2v1.5M313.3 401.7v1M313.7 410.2v2M314.7 395.2v1.5M316.5 387.9v2M316.5 400.4v1M318.3 376.4v2.5M319.3 368.9v2M319.5 384.4v2M320.7 370.7v1M320.7 393.7v2.5M321.5 365.2v2.5M321.7 367.7v2.5M321.7 377.7v2M321.5 406.7v1.5M322.7 358.7v1M322.5 365.7v1.5M322.7 407.2v2.5M322.5 414.2v2.5M323.5 384.2v2M323.3 419.2v1.5M324.3 392.2v2M324.3 415.7v1M325.7 373.9v1.5M325.3 379.4v2.5M325.3 397.9v1M326.3 351.2v2M326.3 386.2v1M326.5 390.2v1.5M326.7 403.7v1M326.7 418.2v2M327.7 349.5v1.5M327.5 360v2M328.3 338.2v2.5M328.7 412.7v2.5M329.7 342.2v2.5M330.5 331.2v1M330.3 369.7v1M330.5 373.7v2.5M330.3 376.2v1M331.5 394.4v2M331.5 416.9v2.5M332.3 338.4v2M332.5 340.4v2M332.3 358.4v1M332.7 382.9v1M332.7 398.9v1M332.5 416.4v1M333.5 397.7v1.5M334.3 373.4v2.5M335.7 362.2v1.5M336.3 392.5v2M336.7 399v2.5M338.7 403.2v2M338.5 418.2v2.5M339.5 372v2.5M339.3 374.5v1M339.5 380v2.5M340.3 374.9v1M340.5 398.4v1M340.5 416.9v1M342.5 386.9v2.5M342.3 401.4v1.5M344.3 392.2v2.5M345.7 377.2v1.5M345.7 408.2v1.5M347.7 398.7v1M347.7 406.7v2M348.5 389.9v1.5M351.3 392.9v2.5M352.7 395.4v2M354.3 398v2.5M355.3 403.7v2M355.7 412.7v1.5M358.7 401.2v1.5M358.5 414.2v2M359.5 370.9v2.5M359.3 373.4v2M359.5 376.9v2.5M360.7 378.2v2.5M360.5 418.7v1.5M362.5 382.4v1M364.3 366.9v2M364.3 407.4v1.5M365.5 403.9v2M366.7 361.7v1M366.7 378.2v2.5M366.3 404.2v2M366.5 413.7v2.5M367.3 356.2v1M367.7 366.2v1M367.3 395.7v1M367.5 401.2v2M367.7 411.2v1.5M369.5 376.2v2M369.3 401.2v1.5M370.5 361.2v2M371.7 385.7v2.5M371.3 397.2v2M372.3 336.2v2M372.7 354.7v1M372.3 360.2v1M372.3 365.7v2.5M372.3 392.2v1M374.3 369.7v1M374.3 403.7v1.5M375.5 406.4v1.5M376.5 362.2v1M376.5 388.2v1.5M376.5 418.7v2M377.5 376.7v1.5M377.5 378.2v1M378.3 370.2v2.5M380.7 407.7v2.5M381.3 386.2v1M381.3 412.7v2M382.3 408.4v2.5M383.3 392.2v1M385.3 395.5v2M385.3 412.5v2M386.5 380.2v1M386.3 393.2v1.5M387.5 397.9v1.5M388.3 379.2v2.5M388.7 405.2v2M389.5 381.2v1.5M390.7 380.2v2.5M392.3 397.7v2.5M392.5 400.2v2.5M393.5 354.9v1.5M393.3 375.4v1M394.3 383v2.5M395.7 387.2v1M395.7 406.2v2M395.5 418.2v2.5M396.7 365.9v2M396.3 379.4v1.5M396.5 411.4v1.5M397.7 372.2v2M398.3 367.2v2.5M398.3 372.7v1M398.5 373.7v2.5M398.3 405.7v1M398.5 409.7v1M400.5 382.2v1M400.3 415.7v1M402.5 393.9v1M404.7 387.4v1.5M405.5 396.2v2.5M405.7 415.2v2.5M406.3 415.7v1.5M408.7 411.7v2.5M409.5 398.2v2.5M412.7 393.7v2.5M413.5 391.4v2M414.3 403v2.5M414.3 418v2M415.7 416.2v2.5M416.5 413.9v1.5M418.3 407.7v2M419.7 413.9v2M453.7 421.5v1M454.5 415.2v1M454.3 417.7v2.5M454.5 423.2v2.5M456.3 419.2v1.5M456.5 422.2v2.5M457.3 415.2v2M460.5 404.2v1M461.3 423.2v1M461.7 424.2v1M463.7 421.7v1.5M465.7 409.5v1M465.7 422v2M465.5 425.5v2.5M473.7 413.7v2M475.7 424.4v2.5M479.7 402.7v1M480.7 417.4v1.5M480.7 421.9v1M481.7 405.6v2M481.3 416.6v2.5M484.5 427v1M486.7 400v2.5M487.7 422.2v1M488.7 399.4v1.5M488.5 400.9v2.5M488.5 429.4v1M489.5 402v1.5M489.7 424.5v1.5M490.7 424.2v1.5M491.7 398.4v1.5M491.7 405.4v1.5M491.3 417.4v2.5M493.3 409.2v2M493.3 412.7v2.5M494.3 392.2v1M494.5 417.7v2M495.3 404.4v2.5M496.7 403.4v2.5M496.7 427.4v1M500.7 416.9v2.5M502.7 418.9v2.5M502.3 421.4v1.5M502.5 430.4v2M504.5 423.4v1.5M506.3 426v2.5M507.3 425.7v2M508.3 418.2v1.5M509.5 404.9v2M510.3 404.3v1M512.5 407.1v2.5M512.7 418.1v1M513.3 414v2M513.3 429v2.5M514.7 396.7v2M514.3 403.2v1M514.5 412.7v2.5M515.3 407.7v1.5M515.7 412.2v2.5M515.7 416.2v1M516.3 423.2v2M516.3 429.2v1M517.5 427.2v2M518.3 410.2v1.5M518.5 425.2v1.5M518.5 426.7v2.5M520.5 432.4v2.5M521.3 427.2v4.6M522.7 415.7v1M522.7 419.7v1.5M523.3 408.7v2M524.5 416.2v1M526.7 408v2M526.5 430v2.7M528.7 424.9v3.4M530.3 413.2v2M530.3 425.2v2.8M532.5 430.8v5.4M535.5 433.1v2.2M536.3 430.1v3.2M541.7 415.2v2M544.7 433.1v3.9M556.5 429v3.7M557.7 430.8v3.1M559.3 407.1v1M560.3 408.4v1M560.7 418.4v2M561.3 413.9v2.5M563.7 425.4v3.2M565.3 430.2v2.3M567.3 424.2v4.8M568.5 419.8v2M569.5 407.4v1M569.7 416.9v2M571.5 426.8v2.6M573.7 427.1v2.7M576.3 426.1v4.4M577.5 412.8v2.5M577.3 416.8v2M577.3 428.8v5M578.7 406.4v1M579.7 430.1v4.9M583.7 424.2v5M583.5 433.7v4.4M587.3 425.4v3.4M587.3 431.7v3.3M588.5 432.2v3.8M591.3 427.1v5.2M597.7 425.9v2.2M597.5 432.6v4.8M601.3 417.9v1M601.7 427.4v3.8M602.5 434.1v5M606.7 426.5v4.5M606.7 431v3.7M609.7 433.3v3.9M610.3 434v4.7M612.5 429.4v5.1M615.7 426.8v5.5M616.5 434v5.1M618.7 430.1v3.7M619.5 426.4v3.3M622.7 425.6v5.2M623.5 415.5v1.5M623.3 428.5v4.9M624.7 434.1v5.1M627.7 427.9v3.6M628.5 413.1v2.5M628.3 427.7v2.3M630.3 426.5v5.2M635.3 412.1v1.5M638.3 408.7v1.5M638.3 424.2v2.8M639.3 415.9v2.5M639.3 428.9v4.4M639.7 433.3v4.2M641.7 413.8v2M643.7 407.7v1M643.5 424.7v4.3M643.5 429v3.4M650.7 427.7v3.5M654.7 425.2v2.1M654.7 427.3v4.4M656.5 406.7v2.5M658.5 424.2v2.5M659.7 412.7v2M662.3 407v1M662.7 418.5v2.5M662.7 425v2.8M664.7 413.2v2.5M664.5 432.2v3.5M665.7 406.4v2.5M666.3 416.2v2.5M668.3 411.9v2M672.3 413.8v1.5M673.7 408.1v1.5M676.7 414.5v1M677.3 414.8v2" stroke="#ff7a00" stroke-width="1"/>
<path d="M36.3 413.7v1M36.5 425.7v2.5M37.3 424.7v3.6M40.7 425.2v3.9M43.7 406.2v2M43.7 418.2v2M44.7 417.2v2M45.5 414.2v1M46.3 406.7v2.5M48.5 415.8v1M48.7 424.3v3.6M48.7 433.2v4.1M49.5 408.8v2M49.7 414.3v1M51.7 408.8v1.5M51.3 426.3v5.4M53.7 419.9v2.5M55.5 429.2v5.2M57.7 430.9v5.3M60.5 413v1.5M60.3 433.2v3.9M63.5 412.6v2M63.7 433.4v4.1M64.3 425.1v2.4M66.7 411.6v2M66.5 415.1v2M66.5 424.6v4.6M66.3 430.8v4.9M68.5 413.2v2M69.3 406.2v2.5M69.7 411.7v1.5M72.7 427.3v2.8M74.7 412.3v1.5M75.5 408.3v2M75.5 425.8v2.6M76.7 408.3v1.5M76.7 419.3v2M76.5 430.7v5.2M77.5 417.4v1.5M79.3 427.4v2.5M81.7 414.9v2M84.3 414v1.5M84.5 425.5v3.9M87.3 429.3v3.9M87.5 433.2v2.8M90.7 407.1v2.5M91.7 418.6v1M92.5 408.2v1.5M92.7 414.2v2M94.7 429.7v4.7M95.7 415.7v2M95.3 431.2v3M98.5 408.7v1.5M98.5 425.7v5.2M99.5 426.7v3.5M100.3 408.2v1M100.3 420.7v2.5M100.5 426.7v5.4M102.7 424.8v3.3M103.7 431.9v3.5M104.3 426.8v3.7M106.5 424.3v3.5M106.7 431.8v2.2M107.5 429.7v3.2M108.7 417.3v2.5M111.3 425.1v5.4M115.5 418.8v1.5M116.3 429.6v4.3M117.5 419.9v2M119.5 419.1v1.5M120.3 428.2v5.1M121.5 432.3v2.4M124.3 430.2v2.3M125.3 424.8v4.5M127.3 431.2v5.3M128.5 419.3v1.5M129.7 427.9v4.8M130.5 427.9v3.2M132.3 430.4v3.3M135.7 433.4v4.5M140.7 419.5v2M140.5 428.5v4M142.5 432.9v3.8M145.5 430.1v2.8M146.3 430.1v5.2M149.7 419.7v2.5M155.5 431v4.3M157.3 419.3v1.5M158.3 419.1v2.5M159.7 429.8v2.3M166.3 413v1.5M169.3 417.2v2M171.5 415.6v1.5M172.3 421.3v2.5M172.7 428.3v1.5M172.3 429.8v2.5M176.3 419.1v1.5M187.5 428.9v1M189.7 422.5v2M189.3 426v1.5M190.5 418.9v2.5M196.5 427.7v2M200.5 410.7v2.5M200.7 417.7v2.5M200.7 423.2v2.5M201.3 406.7v2.5M205.5 415.6v2.5M206.5 412.5v1M206.7 424v1.5M208.7 396.7v1M208.7 405.2v1M208.7 410.7v2M209.3 408.7v1M209.7 417.2v1.5M211.5 399.7v1M212.5 405.2v2.5M212.5 416.7v1M213.7 419.4v2M215.3 408v1.5M216.5 407.9v2.5M218.5 413.4v1.5M218.5 416.4v2.5M218.5 424.9v1.5M220.7 412.4v2M221.3 403.9v1.5M222.3 405.9v1M222.5 425.4v1M224.3 409.7v2M224.5 417.7v1.5M229.7 404.7v1M230.3 403.7v2.5M231.7 410.7v2M233.5 399.7v2.5M234.3 397v2.5M235.7 395.2v2.5M235.5 406.7v1M236.7 411.4v2M236.7 413.4v2M238.5 399.2v2M239.3 390.9v1.5M239.3 423.9v2M240.3 395.1v1.5M240.5 396.6v1.5M240.3 404.1v1.5M242.3 391.6v2.5M242.5 399.6v1.5M244.7 415.6v1M244.7 421.1v1M246.7 415.1v2.5M249.5 408.7v2M249.3 410.7v2.5M250.3 380v1M250.7 390v1M250.7 391v1M251.5 397.9v2M251.7 418.4v2.5M253.5 380.5v2M253.7 384v1.5M253.5 403.5v2.5M254.3 411.4v1M254.3 418.4v1M256.5 413v2.5M258.3 406.7v2M258.7 420.2v2.5M259.7 386.4v2.5M260.5 385.9v1M260.5 388.4v1.5M260.3 404.4v1M260.5 412.9v1M261.3 401.4v1M262.3 399.9v2.5M262.5 421.4v2M263.5 400.9v1.5M263.3 406.4v2M263.5 411.4v2.5M263.7 418.4v1.5M267.3 398.2v2M267.5 407.7v2.5M267.5 418.7v1.5M269.3 396.8v1M269.7 407.8v2.5M270.7 378.1v1.5M270.7 389.6v1M270.7 398.1v1M271.5 353.3v1M271.7 408.8v2M272.7 349.7v1M273.7 355.7v1M273.7 364.7v2M273.7 372.7v1M273.5 419.2v2.5M274.5 402.7v2M276.7 366.2v2M278.5 366.9v1M278.5 387.4v1.5M278.5 397.9v1M280.3 380.4v1.5M280.5 392.4v2.5M281.3 359.7v2.5M282.3 372v2M282.3 403v2M284.5 357.2v2M285.3 360v1.5M285.3 372v2M286.5 390.4v2.5M286.5 416.9v1M288.5 331v1M288.7 377.5v1.5M288.7 414v1M289.7 337.7v1M290.3 378.7v1.5M290.7 402.2v1.5M290.3 412.7v2.5M291.7 367.7v1.5M291.5 400.7v1.5M292.7 367.9v1.5M292.3 392.4v1M293.7 358.4v1.5M293.3 378.9v2.5M293.3 388.9v2M293.3 408.9v2.5M294.7 350.9v1.5M294.3 385.4v2M294.5 400.9v2M295.3 392.9v2M296.7 368.9v1M296.7 375.9v2M297.3 397.9v1.5M297.5 406.9v2M298.7 358.9v1.5M298.5 365.4v1.5M300.7 367.2v2M301.5 388.2v2M301.5 394.7v2M301.3 401.2v2.5M301.3 415.7v1M303.5 394.7v2M303.7 414.7v2.5M304.3 393.4v2M304.3 396.9v1M304.3 399.4v1.5M305.5 406.7v1M306.5 396.7v1M307.7 416.7v2M308.3 404.2v1.5M311.7 388v1.5M312.3 390.7v2M312.7 398.7v1M312.3 399.7v2M312.7 409.2v1.5M314.3 380.2v2M314.7 391.2v2.5M314.5 399.7v2.5M315.5 378.2v1M316.7 373.4v1M316.7 377.4v1.5M317.3 387.9v2.5M317.7 393.4v1.5M317.3 397.9v1.5M318.7 405.9v1.5M318.5 407.4v1.5M320.7 385.2v1M322.7 379.2v1.5M322.7 396.7v1.5M323.7 359.2v2M323.3 367.7v1.5M323.7 392.2v1.5M324.5 403.2v2M325.5 368.4v1M325.3 376.9v2.5M325.5 414.9v1M326.7 349.2v2M326.5 356.2v2M326.5 365.7v2.5M327.7 340.5v1.5M327.3 365.5v1.5M327.3 395.5v2M327.5 409.5v2M328.7 369.2v2M329.3 347.7v1.5M329.3 417.2v2.5M331.7 350.9v1.5M331.5 367.9v1.5M331.3 399.4v2.5M332.5 352.9v1M332.7 376.9v1.5M333.7 355.2v1.5M333.3 368.7v1.5M334.5 363.4v2.5M334.3 405.9v2M335.3 378.7v2.5M337.5 374.9v1.5M337.5 398.4v2M339.5 365v1M340.7 395.4v1.5M341.5 380.9v1M341.5 401.4v1M341.3 409.9v2.5M343.3 408.4v2.5M344.5 384.7v1.5M345.5 378.7v1M345.3 412.7v1M345.7 418.2v1M346.7 380.2v1M346.3 408.7v1.5M347.3 393.7v2.5M347.7 404.2v2.5M347.3 408.7v1M349.3 382.4v1.5M350.5 385.4v2.5M353.3 398.7v2.5M354.7 412.5v2M355.5 415.7v1M355.5 416.7v2M356.3 393.2v1M356.5 395.7v2.5M356.7 402.7v2.5M358.7 402.7v2.5M359.7 391.4v1.5M359.3 409.4v1.5M360.7 359.2v2M360.7 375.7v2.5M360.3 388.2v2M360.3 400.7v1.5M360.7 402.2v1.5M361.3 371.5v1.5M361.3 384.5v1M362.7 351.9v2M362.7 356.9v1.5M362.7 386.4v2M362.7 391.4v2M362.3 402.4v2.5M362.5 406.4v2.5M362.3 416.4v1M364.3 353.9v1M364.7 383.9v2M366.5 362.7v2M367.5 353.2v1.5M367.7 407.7v2M367.7 415.7v2M368.5 394.2v1.5M368.3 418.2v1M369.5 375.2v1M369.3 388.7v2M369.5 396.7v1.5M369.3 413.2v1M370.7 373.7v1M371.5 356.2v1.5M371.5 363.7v2.5M371.5 405.2v1M372.7 369.7v1.5M372.3 384.2v1M373.3 344v1M373.7 362.5v1M373.7 381.5v1.5M373.7 405.5v1M373.3 414v1M376.3 353.2v1.5M376.7 370.7v1M376.5 401.2v2.5M378.3 380.2v1.5M378.5 386.2v2.5M379.7 416.7v1.5M380.7 378.2v2.5M380.3 416.2v2M381.3 380.7v2.5M382.5 405.9v1M382.5 410.9v2M384.3 412.5v1M385.5 394v1.5M387.7 417.4v2M388.7 407.2v2.5M388.5 418.7v2.5M390.5 414.2v2M391.3 369v2.5M391.7 371.5v2M391.7 390v1M391.3 401.5v2M392.7 377.7v1M392.7 390.7v1M392.3 407.2v1.5M393.7 363.9v2.5M394.5 351.5v1.5M394.7 385.5v2.5M396.3 406.4v2M397.3 364.2v2M398.7 386.7v2M398.3 388.7v2.5M398.3 401.7v1M399.7 375.2v1M400.3 404.2v1M401.3 416.4v1.5M402.3 396.4v2.5M402.3 415.4v1M403.3 392.9v2.5M404.5 394.9v1M406.3 390.7v1M409.3 403.7v1.5M411.3 396.5v1M412.7 417.2v1.5M413.5 405.4v2.5M414.3 410v2M416.5 403.4v1.5M420.3 413.5v2M428.5 416.7v2.5M429.5 420.7v2M448.7 419.9v1M451.3 420.9v1.5M455.3 417.7v1.5M457.3 418.7v1.5M459.5 422.2v1.5M460.3 418.2v2M461.7 402.7v2.5M462.5 414v2M464.5 409.4v1.5M466.3 416.7v1M470.5 426.7v2.5M471.7 425.7v2.5M472.3 427.4v2M473.3 426.2v2M477.5 412v2M478.5 406v2M478.5 414v1.5M479.5 416.7v2M480.5 397.9v2.5M480.7 401.9v2.5M482.5 401.4v1M482.3 419.9v2.5M483.3 399.7v1.5M484.7 408.5v1.5M484.3 411.5v2.5M484.3 422.5v1.5M485.7 399.8v2.5M485.7 414.8v1M486.5 410.5v2M486.7 412.5v1.5M487.3 413.2v1M487.3 425.7v2M487.7 427.7v2M488.7 406.4v1M488.3 427.4v2M489.3 405v2M489.5 411.5v1.5M490.7 399.7v1M490.5 407.7v1.5M490.7 409.2v2.5M490.3 411.7v1.5M490.5 417.2v1M491.5 399.9v2.5M491.5 406.9v2.5M491.3 412.4v2M492.5 409.7v2.5M492.3 416.2v2M492.7 418.2v1M492.3 419.2v1M492.3 427.7v2M493.7 399.7v1M493.7 408.2v1M493.3 425.2v1M494.3 393.2v1.5M494.5 421.2v1M495.5 391.9v2.5M495.7 401.9v2.5M495.7 411.9v2.5M495.3 423.4v1.5M495.7 424.9v1M495.3 427.4v1.5M496.3 401.9v1.5M497.3 409.7v1.5M497.7 428.7v2M498.3 409.2v2.5M498.7 417.7v1M498.5 420.2v1.5M498.5 423.2v1.5M498.7 424.7v1M499.5 422.7v2.5M500.5 415.9v1M505.5 420.2v2.5M505.7 431.7v1.5M508.7 413.7v2M508.3 415.7v2.5M508.7 428.2v1.5M509.3 432.4v2M510.5 402.3v2M510.3 430.8v1.5M512.7 415.6v1M513.5 403v1.5M513.3 408.5v2.5M515.3 417.2v1.5M516.7 406.2v1M516.5 417.7v1M516.3 425.2v1M516.3 431.7v2.5M517.7 398.7v1M518.7 399.7v1M519.3 429.2v2M520.3 407.2v1M520.5 408.2v1M521.7 414.7v2M521.3 416.7v2.5M522.5 406.2v2M523.5 421.2v2.5M525.5 432.2v3.7M527.3 422.2v2M527.7 425.7v2.5M527.3 428.2v3.9M528.5 422.4v2.5M529.7 423v2.5M529.7 425.5v3.5M530.3 432.3v3.1M531.5 431.6v2.2M533.3 422.3v2.5M534.5 421.1v2.5M537.7 423.3v2M537.7 425.3v3M538.3 423.6v2M538.3 430.1v2.1M541.7 429.4v3M542.3 423.2v1.5M543.3 423.7v1.5M544.3 430.9v2.2M545.3 424.3v3.5M545.7 433.8v4M546.7 427.7v2.6M547.3 429.2v2.4M549.5 430.2v2.4M549.7 434.1v4.6M550.5 424.3v2.4M550.5 426.7v4.2M551.5 431.2v5.2M552.5 425.6v4M554.7 416.7v1M554.5 419.2v1.5M555.5 422.3v2M555.5 429.4v2.3M556.7 395v2.5M556.3 397.5v2.5M556.3 400v2M556.5 403.5v2M556.7 413v2.5M557.5 394.2v1M557.5 403.7v1M558.7 406.9v1M558.3 418.9v2.5M559.3 399.1v1.5M559.3 402.1v1.5M559.7 403.6v2M559.3 426.1v2.9M559.7 433.6v2.9M561.5 394.4v2.5M561.7 397.9v1.5M561.3 399.4v1M561.5 427.9v3.9M561.7 431.9v5M562.7 403.9v1M562.5 408.4v2.5M562.7 422.4v1.5M563.5 433.1v2.1M564.5 430.7v3.4M565.7 399.7v1.5M566.7 425.7v2.6M567.7 408.7v2M569.3 421.9v2M569.5 433.7v2.4M571.5 404.8v1.5M571.3 406.3v1.5M571.5 423.3v2M573.3 411.6v2.5M573.3 415.6v2M574.3 404.8v1M574.5 413.3v2M574.7 418.3v2M574.7 430.4v4.9M575.3 420.4v1M575.5 424.9v5M576.7 430.5v4M577.7 403.8v1.5M577.5 421.8v1.5M579.7 406.6v1M581.5 429.1v2M581.3 434.1v4M582.7 423.5v2M582.3 433.8v3.5M583.3 417.7v2M583.7 421.2v1M584.7 413.9v2M585.5 430.1v4.1M586.3 429.1v2.1M588.3 420.8v1M588.3 425.8v5M593.5 422.9v2M593.7 424.9v3.8M593.5 430.2v5.2M596.5 421.8v2M596.3 432.2v4.2M598.5 433v4.3M599.5 420.6v2M600.7 422.3v2M601.7 423.9v2M602.5 419.5v2.5M602.5 422v2.5M603.5 428.6v5.2M604.3 430.4v2.6M604.7 434.5v3.7M605.3 418.7v1M605.3 430.2v3.6M607.7 433.9v4.8M610.5 424.9v4.5M611.5 420.9v1M613.7 432.3v4.8M615.3 417.3v2.5M616.5 419.7v1.5M616.7 427.2v3.8M618.3 421.5v2.5M618.5 426.5v2.1M620.7 425.8v2.9M620.7 428.7v3.2M620.3 431.9v5.1M621.3 423.7v1.5M621.3 434.5v3.2M624.3 423.4v1.5M625.5 425.4v2.1M625.3 432.1v2.9M626.3 421.9v1M626.5 425.4v5.4M626.3 430.9v3.4M628.5 417.1v2.5M629.5 416.8v2.5M629.3 423.3v2M629.3 426.8v2.2M629.3 429v5.3M630.3 422.5v2.5M633.3 425.1v5.1M634.3 408.3v1.5M634.7 414.3v2.5M634.3 419.8v2M634.7 427.3v4.2M635.3 422.6v2.5M636.5 429.3v2.7M636.7 432v2.8M637.3 409v2.5M637.7 428v4.1M641.5 420.3v1M642.3 414.7v2M642.7 430.2v5.4M643.3 408.7v2.5M643.3 422.7v2M644.3 404.7v2M644.7 416.2v2.5M644.3 421.7v2.5M646.7 432.3v4.6M647.5 415.2v2M649.7 420.2v2M649.3 422.2v2M650.3 431.2v4.6M651.3 414.7v2.5M652.3 407.7v1M652.5 412.2v2M653.5 421.7v1.5M653.3 425.7v2.1M653.3 433.2v4.1M654.3 415.2v2.5M655.5 403.7v1M655.3 404.7v2M655.7 426.2v2.4M655.7 431.6v4.9M656.3 422.2v1M656.5 427.2v5.4M657.3 405.2v2.5M657.3 412.2v1M657.7 419.2v2M657.7 427.7v5.4M658.3 403.7v1.5M658.5 432v5.5M659.5 399.7v1.5M659.5 420.7v1M660.7 401.9v1.5M660.3 425.9v3.5M660.7 431.4v4.6M661.5 392.2v1M661.7 393.2v2M661.3 407.2v2.5M661.7 416.7v2M661.5 425.7v4.2M662.3 397.5v1.5M662.5 399v2M662.3 421v2.5M663.7 420.2v1M663.5 425.2v2.4M664.7 388.7v2.5M664.5 427.2v2M665.3 397.9v2.5M665.5 427.4v3.1M666.3 396.2v2.5M666.7 402.7v1M666.5 432.4v4M667.3 421v1.5M667.7 430v5.4M668.3 398.4v2.5M668.3 401.9v1M668.7 416.9v2.5M668.5 422.4v1M668.3 425.4v2.8M669.3 388.4v2M669.7 396.4v2M669.3 402.9v1M669.7 422.9v1.5M670.3 390.9v1M670.3 402.9v1.5M670.7 422.9v1M671.3 430.3v3.1M672.5 398.3v2M672.3 408.8v1M672.3 421.3v1M673.7 394.1v2.5M673.3 396.6v2M673.7 402.6v2.5M673.5 422.6v2M673.5 428.2v3.4M674.7 392.9v1.5M674.7 395.9v2M674.7 422.4v2M674.3 427.1v2.9M675.5 393.2v1M675.5 394.2v1.5M675.7 425.2v3.1M675.5 433.5v3.3M676.7 402.5v1M676.7 407.5v2.5M677.5 400.8v2.5M677.5 408.8v2M677.3 427.3v2.7M678.5 399.6v2.5M678.5 403.6v1M678.7 422.1v2" stroke="#e6e000" stroke-width="1"/>
<path d="M35.3 387.7v2.5M35.7 397.7v2.5M36.3 391.2v1M36.7 399.7v2.5M36.3 430.2v2.7M37.3 391.2v2.5M38.7 425.7v3.2M39.5 401.2v2.5M40.5 408.2v1M40.7 429.1v5M41.5 386.7v2M41.3 407.7v1.5M41.3 432.4v4M42.5 399.7v1M42.5 430.7v3.5M43.7 405.2v1M43.3 413.7v1.5M44.3 408.7v2M45.7 394.7v2M45.7 424.2v4.2M45.3 429.9v3.7M46.7 427.2v5.4M47.7 405.2v2.5M48.7 400.3v2.5M48.5 427.9v5.3M49.5 410.8v2M50.5 425.3v2.5M52.7 425.8v2.9M53.7 401.9v1.5M53.3 423.9v1.5M55.3 417.4v1.5M55.7 424.4v4.8M56.5 402.9v2.5M56.3 405.4v1M58.5 408.5v2.5M58.7 421.5v2M59.7 431.2v4.1M60.5 425.5v4.2M61.7 399v2M61.7 408.5v2.5M61.7 419.5v2.5M61.5 425v4.1M61.7 431.2v4M62.5 411v1M62.7 432.4v5.4M64.3 407.6v1.5M65.7 422.1v1M65.7 425.1v5.3M67.7 401.6v2M67.5 408.6v1M67.7 431.5v4.1M68.5 419.2v1.5M68.3 426.7v3.9M70.7 426.2v2.1M70.5 432.8v2.6M71.5 412.2v2.5M72.3 411.3v1.5M72.3 424.8v2.5M73.3 424.8v2.7M74.5 408.3v2.5M74.5 425.8v4.4M75.7 398.8v2.5M75.3 432v5.1M76.5 413.3v1.5M76.7 428.3v2.4M78.3 428.4v5.5M81.5 432.3v3.9M83.3 404v2.5M84.5 398v1.5M84.7 408v2M84.5 420v2.5M84.3 429.4v2.4M85.5 431v2.4M86.3 408.5v2M86.7 410.5v2.5M86.3 430.5v2.9M87.7 402.1v1M87.5 403.1v1.5M87.7 406.1v1M87.3 424.1v5.3M88.5 411.1v1M88.5 421.1v2.5M89.5 426.6v3.8M89.3 430.4v5M90.7 405.1v2M90.5 423.6v1M91.5 425.1v4.8M93.3 398.2v2.5M93.3 424.2v3.4M94.7 413.2v1M96.5 410.2v2M97.7 409.7v2M98.5 402.7v2M98.5 430.9v2.4M99.3 413.7v1.5M101.5 424.2v3.1M102.7 409.8v1M103.7 408.1v2M103.3 429.1v2.8M106.7 422.3v2M106.7 427.9v4M109.7 424.6v2.8M111.7 416.6v1.5M112.3 422.4v2.5M112.7 424.9v2.2M112.5 427.1v4.1M112.3 431.3v4.7M115.5 431.1v2.7M116.7 425.6v3.9M117.7 428.4v2.5M118.5 427.8v4.6M119.7 424.1v4.9M121.3 428.2v4M122.7 422.2v1.5M123.5 423.8v1M124.3 427.3v2.9M126.7 424.8v3.8M129.3 423.9v2.5M133.3 429.9v4.5M134.3 430.8v5.4M136.7 430.4v3M136.5 433.4v3.2M137.3 424v2.5M138.3 424v4M138.3 429.5v4.2M139.7 423.5v2M144.7 425.1v4.4M150.5 425.1v5.3M151.7 430.8v4.3M153.7 425.8v4M154.5 424.1v3.3M156.7 429.6v4.6M158.5 425.6v4M160.3 424.3v2.2M161.3 423.9v1.5M161.5 431.4v3.4M163.5 426.6v5.3M164.3 422.3v1.5M166.5 429.5v1.5M170.7 413.9v1M176.5 422.1v1.5M178.5 426.4v1.5M185.3 420.4v2.5M188.5 418.7v1.5M197.7 416.7v2M199.5 413.2v2.5M204.5 414.2v2.5M222.7 403.9v2M226.3 416.7v1M227.3 409.2v2.5M232.7 397.2v2M234.3 409.5v2M237.5 403.5v1M237.7 404.5v1.5M238.3 388.2v2M241.5 399.3v1M245.7 387.8v2M245.7 422.3v1.5M248.5 407.9v1.5M250.7 402.5v2.5M251.7 411.9v2.5M258.3 395.2v1M259.7 400.9v2M259.5 404.4v1M262.7 412.9v1.5M263.5 390.4v1.5M263.5 408.4v1.5M269.7 372.8v1.5M274.5 380.7v2.5M275.3 351.4v2.5M275.5 393.9v1M278.5 357.4v1.5M279.3 337.4v1M280.5 352.4v2.5M283.7 365.9v2M283.7 395.4v1.5M284.7 350.2v2.5M285.3 325v2.5M285.7 335v2.5M286.7 332.9v1.5M287.5 345.7v1M287.7 407.7v2M288.5 385v1.5M290.3 359.7v1M290.3 380.2v1M294.3 347.4v2M294.7 406.9v2M295.3 413.9v1.5M299.7 367.4v2.5M317.3 378.4v2M317.7 405.4v1M320.3 366.7v2.5M320.7 415.7v1.5M321.7 411.2v2M322.5 390.7v1.5M325.7 410.9v2.5M327.7 362v2M327.5 413v1M330.7 411.2v1.5M332.3 374.4v2.5M336.7 416.5v1.5M338.7 394.7v1M338.5 408.2v1.5M339.3 409.5v2M341.7 405.4v1.5M346.7 382.7v1M346.5 383.7v2.5M347.7 396.2v1M352.5 389.9v2.5M353.3 408.2v1M357.7 390.2v1M360.5 371.7v1M361.5 376v1M363.3 386.4v1M370.5 351.7v2M371.7 350.7v1M372.7 388.2v1M379.5 368.2v2M379.3 392.7v1.5M382.7 402.9v1.5M383.3 402.2v2M384.3 418v2M385.5 406.5v2M385.5 410v1M386.3 418.7v1M389.7 417.2v1M392.3 359.7v1M395.5 397.2v1.5M395.3 409.7v1M399.7 397.2v2.5M400.7 411.7v2.5M401.5 395.4v1.5M411.3 416v1.5M412.5 389.7v1M416.3 395.4v2M417.7 416.5v1M421.3 418.7v2.5M452.3 423.2v1.5M453.7 419.5v2M456.3 415.2v2.5M459.3 412.2v1M459.7 425.2v1M460.5 414.2v2.5M462.3 420.5v2.5M463.7 407.2v2.5M463.5 412.7v1.5M464.5 406.9v2.5M464.5 410.9v2M465.5 412v1M466.3 419.2v1M466.3 420.2v1.5M466.3 423.2v2.5M470.3 420.7v1.5M471.5 416.2v1M471.7 421.7v2M474.3 419v1M475.5 415.4v1.5M476.3 408.7v2.5M477.7 408.5v2M477.7 423.5v2.5M478.3 426v1M479.3 405.2v2.5M480.5 413.4v2.5M481.5 396.6v1.5M482.5 406.9v2.5M483.7 416.7v1.5M484.3 400.5v2M484.5 416v2M485.3 407.3v1M485.3 408.3v2.5M485.3 420.3v1.5M485.5 424.8v1.5M486.7 408.5v2M487.5 414.2v2M487.7 419.2v1.5M487.3 423.2v1M488.5 410.4v1M488.7 421.4v2M490.5 398.7v1M490.5 413.2v2.5M491.3 425.4v1.5M492.7 413.7v1M492.7 423.2v2M492.3 425.2v1.5M493.5 421.2v1M494.3 402.2v2M494.5 422.2v1M494.7 427.7v2.5M495.7 400.4v1.5M495.7 419.9v2M496.7 423.9v1M497.5 406.7v1.5M497.3 414.2v1.5M499.7 413.2v1M499.3 418.7v2.5M499.7 426.7v1.5M500.3 423.9v2M500.3 430.4v2.5M501.5 417.4v2M501.7 422.4v2M501.5 424.4v2M502.3 425.9v1.5M503.5 422.9v1M504.5 426.4v2.5M508.5 411.7v2M508.5 421.2v1.5M508.5 424.2v2.5M509.3 400.9v2.5M509.3 411.9v1.5M510.5 413.8v1.5M510.3 420.8v2.5M510.3 432.3v1.5M511.7 402.7v1M511.3 403.7v1M512.5 394.6v2M512.5 400.1v1.5M512.5 401.6v1.5M512.3 409.6v1.5M513.3 396.5v2M514.5 394.2v2.5M514.3 404.2v2M514.5 406.2v2M514.5 429.2v2.5M515.5 395.2v1M515.3 427.2v2.5M516.3 400.7v2.5M516.5 408.7v2.5M516.7 415.2v2.5M517.5 413.2v2M517.7 424.2v1.5M518.7 397.2v1M518.3 405.2v2.5M518.5 409.2v1M518.7 419.2v2.5M519.3 402.2v1M519.7 404.7v2.5M519.5 432.7v2.5M520.3 409.2v2M520.7 425.7v5.2M521.7 407.7v1.5M521.7 411.2v2M521.7 422.2v2M522.3 421.2v2.5M522.5 425.2v4M523.7 423.7v2.5M524.3 424.2v4.1M524.7 431.3v2.6M526.3 421.5v1M526.5 422.5v1.5M526.3 425.5v4.5M526.3 432.7v3.9M530.7 406.7v1M530.3 428v2.8M531.7 423.9v2.5M532.7 423.6v1.5M534.7 417.1v2.5M534.7 423.6v2.5M535.7 421.8v2M535.7 427.8v3.7M536.3 416.6v1.5M536.7 423.6v2M537.7 428.4v4.2M538.5 421.6v2M539.5 425.8v5.4M540.5 413.2v1.5M540.7 426.2v3.8M541.3 421.7v2M541.7 432.4v4.1M542.5 426.2v3.7M543.5 422.2v1.5M544.5 424.4v5M546.5 421.2v2M546.7 423.2v1.5M547.7 423.6v1M547.5 431.6v5M548.7 422v2M548.3 433.5v4.5M549.7 425.9v4.3M550.7 422.8v1.5M554.3 423.2v2.5M554.3 428.7v2.8M554.3 433v3.8M555.3 401.8v2M555.7 405.3v2.5M556.7 408.5v1.5M556.7 432.7v4.9M557.5 404.7v1.5M557.7 409.2v1M557.7 425.7v5.1M558.7 398.4v1M558.3 403.9v1M558.5 425.9v5.3M558.7 434.2v2.7M559.7 412.6v1M559.3 429v4.6M560.3 392.9v2M560.7 396.4v2.5M560.3 400.4v2M560.3 402.4v1.5M560.7 423.9v2M560.7 425.9v3.8M561.7 404.9v1M562.7 400.4v2.5M562.3 404.9v2M562.3 412.4v2.5M564.3 398.7v1.5M564.3 401.7v1.5M564.3 411.7v1.5M566.5 400.7v2M566.7 402.7v2.5M566.3 406.7v1.5M566.5 422.7v1.5M566.3 429.8v4.5M567.7 421.7v1M567.7 422.7v1.5M568.3 402.3v2.5M568.3 406.3v2M568.5 412.3v1.5M568.3 424.3v2.9M568.7 427.1v3.7M570.3 404.6v2M570.7 425.1v5M571.5 421.8v1.5M571.3 433.9v4.3M572.3 402.9v1M572.7 423.9v2M572.7 427.4v2.9M573.3 406.6v1.5M573.3 423.6v2M574.7 421.8v2M575.3 403.4v1.5M576.7 403.6v1.5M576.5 415.1v2.5M576.3 422.1v1.5M578.7 407.4v2M578.7 421.4v2M578.5 423.4v2.5M578.5 430.4v4.2M579.3 404.1v1M579.7 405.1v1.5M579.3 420.1v2.5M580.7 422.7v1.5M580.7 430.2v5.3M581.7 422.2v2M581.7 424.2v4.9M584.7 421.9v1M584.3 422.9v1.5M584.7 427.4v3.9M585.7 425v5.1M586.7 421.2v1M586.3 422.2v1.5M586.3 423.7v1.5M586.7 425.2v3.9M586.5 432.7v4.2M587.7 418.9v1.5M589.3 423.9v2.5M589.3 426.4v3.6M589.5 433v2.7M591.3 422.6v1.5M592.5 421.3v2M592.7 423.3v2.5M592.5 425.8v5M592.5 430.8v4.4M594.5 418.5v2.5M594.7 428.8v5M595.3 427.1v2.4M595.3 429.6v3.4M597.5 423.4v1M598.5 423.5v2M599.3 424.6v5M599.3 429.6v2.6M600.5 433.2v4M602.7 424.5v2.1M603.7 423.6v2M604.7 423.9v2.5M605.3 422.7v2.5M607.5 422.4v1.5M608.3 421.2v1M608.3 422.2v1M608.3 424.7v2.7M608.3 427.4v2.6M609.5 421.5v1.5M609.3 423v2M610.7 422.9v2M611.3 421.9v1.5M611.5 431.2v4.7M612.3 423.4v1M612.3 424.4v4.9M614.3 430.9v3.8M615.5 422.8v2.5M616.7 421.2v1.5M617.7 426.1v5M617.5 431.1v5M618.7 424v2.5M618.5 433.8v5M619.7 423.9v2.5M619.7 434.2v2.8M620.7 421.8v1M621.7 421.2v2.5M621.5 428.2v3.3M622.3 422.1v2M624.3 424.9v5M624.7 430v2.7M625.7 422.9v1M627.5 422.4v1.5M627.5 423.9v2.5M628.5 422.6v1.5M628.3 424.1v3.7M629.7 422.3v1M630.5 433.1v3.4M631.7 421.2v1.5M631.3 424.2v4.2M631.3 428.4v3.1M631.3 434.5v2.8M632.3 421.9v2.5M632.7 428.9v4.2M633.3 430.3v4.4M634.3 411.3v1.5M635.5 408.1v2M636.5 421.3v1M636.3 424.8v4.6M638.5 413.2v1M638.5 427v2.4M638.5 429.4v2.4M639.7 423.4v1M640.5 422.1v1.5M640.5 425.6v2.4M641.7 423.8v1.5M642.7 407.2v2M642.7 421.2v2M642.7 423.2v2.5M643.5 406.2v1.5M643.5 421.2v1.5M644.7 413.7v1M645.7 421.7v1M645.7 433v2.9M646.7 405.7v1M646.7 421.2v1.5M646.7 422.7v1M646.3 423.7v2M647.7 400.7v2.5M647.5 413.7v1.5M647.5 421.7v2.5M647.3 432.1v4.1M648.3 401.7v1M648.5 409.7v2M648.5 417.7v2.5M648.7 421.7v2M648.5 423.7v1M648.3 424.7v4.5M649.7 407.7v2M650.5 405.7v2.5M651.7 409.2v2.5M651.7 421.7v2.5M651.7 431.7v4.9M653.7 404.7v1.5M654.3 401.7v1M654.5 431.7v5M655.7 406.7v1M655.7 421.2v2M656.5 401.2v2M656.3 404.7v2M656.7 423.2v2.5M657.7 424.7v3M658.7 399.2v1.5M658.3 428.2v2.2M659.5 401.2v2M659.5 403.2v1.5M659.7 421.7v1M659.3 427.2v5M660.7 422.4v1.5M660.3 423.9v2M661.5 401.2v1M661.3 405.2v2M661.7 434.4v5.4M662.5 384.5v2M662.5 393.5v2M662.5 395.5v2M663.5 382.2v2.5M663.5 386.2v2.5M663.5 393.2v1.5M663.7 401.7v1.5M663.5 430.6v5.2M664.3 382.7v1.5M664.3 391.2v1M664.3 392.2v2.5M664.3 394.7v2.5M664.3 398.7v1M664.5 421.7v2.5M665.7 388.9v1.5M665.3 403.4v2M665.5 405.4v1M665.7 408.9v1M665.3 409.9v2M665.7 422.4v1M666.7 421.7v2.5M666.3 425.7v5.2M667.7 390v1M667.5 395v1.5M667.3 398v1.5M667.7 402v2.5M667.5 404.5v1.5M667.5 406v1.5M668.5 392.9v2.5M668.3 400.9v1M668.7 402.9v2M668.5 432.7v4.1M669.3 399.9v1.5M669.5 427.4v4.5M669.5 432v4.3M670.5 398.4v1.5M670.5 399.9v1M670.3 404.4v1.5M670.7 423.9v1.5M670.5 425.4v3M670.3 429.9v4.5M671.7 394.4v1M671.7 398.4v1.5M671.7 411.4v1.5M672.3 396.3v2M672.3 400.3v2.5M673.7 392.6v1.5M673.3 424.6v3.6M673.5 431.6v3.9M674.3 397.9v2M674.7 401.4v1.5M674.3 424.4v2.7M674.5 431.5v3.3M675.5 398.7v2.5M675.3 405.7v2M675.3 431.3v2.1M676.7 398v2M676.5 405v2.5M676.7 428v2.3M676.7 431.8v4M677.5 393.8v2M677.3 430v3.8M678.3 397.1v1.5M678.5 398.6v1M678.7 402.1v1.5M678.7 407.6v1M678.3 425.6v4.6" stroke="#62d800" stroke-width="1"/>
<path d="M35.5 390.2v2.5M35.3 423.7v1M35.3 430.7v2.8M36.7 395.7v1M36.3 428.2v2M37.7 395.2v2M37.3 400.2v2M37.7 422.2v2.5M37.3 431.3v3.5M38.5 394.7v1.5M38.7 397.7v2M38.7 403.7v2M38.7 408.2v2.5M38.3 410.7v2.5M39.3 398.7v2.5M39.5 412.2v2.5M40.3 400.2v1M40.7 405.7v2.5M40.3 411.2v1.5M40.5 421.2v2M41.7 393.7v2.5M42.3 404.2v1.5M42.3 405.7v2.5M42.3 413.7v1.5M42.5 422.7v1M43.7 399.2v1M43.7 400.2v2M43.3 409.7v2.5M43.7 428.7v2.4M44.7 385.2v2M44.3 387.2v1M44.5 388.2v2M44.5 390.2v2M44.7 401.2v2.5M44.7 406.7v1M44.3 407.7v1M44.7 412.2v2M44.3 428.2v3.7M44.7 431.9v5.3M45.3 392.7v2M46.3 410.7v1.5M47.3 397.2v2M47.7 410.2v1M47.3 426.2v2.2M47.5 428.4v3.4M48.5 405.8v2.5M50.3 403.8v2M50.5 405.8v2M50.3 409.3v2M50.5 423.3v2M51.3 401.8v1.5M51.5 423.3v1.5M52.3 404.8v2.5M53.7 399.9v1M53.7 410.9v2M54.5 410.9v1M54.7 411.9v1.5M54.3 423.9v2.5M56.3 411.4v2.5M56.5 431.5v2.4M57.3 404.9v1.5M58.3 400v2.5M58.7 423.5v1.5M60.3 397.5v1M60.3 411.5v1.5M65.3 423.1v2M66.5 397.6v2.5M66.3 405.6v1M66.5 406.6v1M66.3 409.1v2.5M67.3 397.6v1.5M68.3 399.2v1M68.5 409.7v1M68.7 423.7v1.5M70.5 403.7v2M70.7 423.7v2.5M71.7 402.2v2M72.5 421.8v2M73.3 408.3v2M74.5 406.3v2M74.5 413.8v1.5M76.5 411.3v2M77.3 397.9v1.5M77.3 399.4v2M77.5 411.9v1M77.7 424.9v5.4M77.5 430.3v3.3M78.7 400.4v1.5M78.3 409.4v2.5M79.3 397.9v2.5M79.5 421.9v1.5M79.7 429.9v4.3M81.7 421.4v2M82.3 399.5v1.5M82.7 411v1M83.5 402v2M83.5 427v3.5M84.5 410v2.5M85.5 411v2.5M85.3 425.5v5.4M86.5 398v2.5M86.3 405.5v1.5M86.5 433.4v4.9M87.5 422.1v2M88.7 405.6v2.5M89.5 400.6v1.5M90.7 409.6v1.5M90.3 427.6v5.5M91.5 403.6v2M93.3 400.7v2M93.5 405.2v1.5M93.5 427.6v2.1M93.5 432.7v3.2M94.3 402.2v2M96.3 406.2v2.5M97.7 401.7v1M98.5 411.7v1.5M99.7 411.2v2.5M99.7 421.2v2M99.3 423.2v2M100.5 404.7v1M100.3 409.2v1M104.7 423.8v1.5M104.3 432v3.5M105.3 423.6v2.5M107.7 421.1v2M109.3 427.4v4.9M110.5 422.3v1.5M110.5 423.8v1M110.5 428.1v3.1M111.7 421.1v2M111.7 430.6v3.8M113.5 421.8v1.5M115.3 421.8v2M118.7 421.8v2M119.5 422.1v1M119.3 423.1v1M119.7 431.9v2.7M120.7 422.2v1.5M124.5 421.8v2.5M125.3 423.8v1M125.7 429.3v5.1M126.5 423.3v1.5M130.3 423.9v2.5M133.3 423.9v1.5M134.5 426.4v2.9M135.7 430.2v3.2M140.3 421.5v2.5M141.5 425.6v3.9M142.7 424.1v5.1M142.7 429.2v2.2M143.7 421.1v2.5M143.3 424.6v5.5M144.3 431.1v3.8M145.5 421.1v1M146.5 421.1v2M147.3 430.8v3.6M148.7 421.2v2M149.3 429.2v3M152.3 422.1v2.5M153.7 422.3v1.5M157.3 423.3v2.5M160.3 426.5v3.5M164.7 427.8v4M164.3 431.7v2.4M456.3 412.7v1M460.5 416.7v1.5M471.5 423.7v1M474.7 418v1M477.5 415.5v2M478.7 427v1M479.7 407.7v1.5M482.3 402.4v1.5M482.5 428.4v1.5M483.3 415.7v1M483.3 419.7v2.5M483.3 426.7v1M484.7 414v2M484.5 418v1.5M485.5 402.3v2M485.5 421.8v1.5M488.7 404.9v1.5M488.5 423.4v2.5M489.5 414.5v2.5M491.5 422.9v1M492.3 408.7v1M494.7 423.2v1.5M495.7 409.9v2M496.3 414.9v2M496.7 429.9v2M497.7 412.7v1.5M497.7 420.2v1.5M497.5 427.7v1M501.3 426.4v2.5M502.7 427.4v2M503.7 431.4v2M509.7 406.9v2M511.5 413.7v2M511.5 420.2v1.5M513.3 393v2M513.3 406v1M513.5 416v1.5M514.3 418.2v2.5M515.7 402.2v2.5M515.7 422.7v1.5M516.5 412.7v2.5M517.5 404.2v2M517.3 410.7v2.5M519.5 410.2v2.5M519.7 412.7v1.5M524.5 409.7v2M524.5 421.7v1M524.7 422.7v1.5M525.7 422.2v2.5M529.3 432v4.7M530.7 421.2v1M531.7 410.9v1M533.7 424.8v5.4M535.7 423.8v1M537.5 421.3v2M538.7 433.7v3.6M539.7 432.7v4.5M540.3 433v2.5M543.3 425.2v5.2M545.7 422.3v2M547.7 421.6v2M548.3 428.5v5M549.5 422.4v2M551.3 423.2v2M552.3 423.6v2M553.5 424v2.5M554.3 410.2v1M555.7 424.3v2.1M556.5 421.5v1M556.3 422.5v1M556.7 423.5v1M557.7 398.2v2.5M557.5 433.9v4.8M558.5 393.4v2M558.3 404.9v2M558.3 409.4v2M558.3 421.4v1.5M560.7 394.9v1.5M560.3 409.4v1M560.5 411.9v2M561.7 396.9v1M561.7 405.9v1.5M561.7 422.4v1M562.3 402.9v1M563.5 422.9v2.5M564.7 404.7v1.5M564.3 407.7v1M564.7 409.7v2M564.5 423.7v2.5M565.3 404.2v1M565.3 421.7v1M568.3 421.8v2.5M568.5 430.9v3M569.5 405.4v2M569.5 423.9v1M570.3 402.6v2M570.7 433.1v5M571.3 402.8v2M572.5 410.9v2.5M573.7 403.1v1.5M574.3 426.3v4.1M575.5 407.4v2M576.5 423.6v1M577.7 409.3v1.5M577.7 423.3v1M578.5 413.9v2M579.3 412.1v2M580.3 421.2v1.5M581.7 410.2v1.5M582.5 425.5v2.6M585.3 422v1.5M587.5 421.9v2M588.7 421.8v1.5M588.5 423.3v2.5M594.5 421v1M594.3 422v1M594.7 424.5v2.8M595.3 423.1v2.5M601.3 421.9v2M603.7 422.6v1M603.5 433.8v4.5M604.3 426.4v2.5M607.3 423.9v2.5M609.5 425v5.3M611.5 426.4v4.8M613.5 422.9v1M613.7 426.9v5.3M615.7 421.3v1.5M622.7 433.8v5.4M623.7 423v2.5M624.5 421.4v2M625.7 421.4v1.5M626.7 410.9v2M626.3 422.9v2.5M626.5 434.3v2.9M628.3 421.1v1.5M631.7 409.2v1M632.5 410.4v1.5M633.3 423.6v1.5M634.7 421.8v1.5M634.7 433v3.6M635.5 428.1v5.1M636.3 423.8v1M638.7 423.2v1M640.5 423.6v2M641.3 422.8v1M643.7 404.7v1.5M644.7 403.7v1M645.7 405.7v2M645.3 407.7v2M646.5 409.7v2.5M647.5 403.2v2.5M647.5 405.7v1M647.7 427.2v4.9M648.5 404.2v2.5M648.7 429.2v2.9M649.5 433.2v2.2M650.3 400.2v1M650.7 422.2v2.5M652.7 404.2v2M652.7 431.9v5.2M653.5 403.2v1.5M653.7 410.7v1M653.3 427.8v5.4M657.5 409.2v1.5M658.3 409.7v1M658.3 413.7v2.5M658.3 422.2v2M659.5 398.2v1.5M659.7 404.7v1M660.7 429.3v2.1M661.5 398.2v1.5M661.5 421.7v2M662.3 389.5v1.5M662.5 391v2.5M662.7 411v1.5M662.3 433.8v3.3M663.7 380.7v1.5M663.7 394.7v1M664.3 380.2v1M665.3 380.9v1.5M665.7 387.9v1M665.7 430.5v3.7M666.5 392.2v2.5M666.7 401.7v1M667.5 392.5v1M667.3 399.5v1M667.5 413v2M667.7 425.5v4.5M668.5 396.9v1.5M668.3 404.9v1.5M668.5 409.4v2.5M668.3 423.4v2M670.3 389.9v1M670.7 410.4v1.5M670.3 411.9v2M671.3 396.9v1.5M672.7 392.3v2.5M672.5 427.8v4.8M672.3 434.2v2.7M673.7 409.6v1.5M673.3 411.1v2.5M673.3 421.1v1.5M676.5 393.5v2M676.3 395.5v2.5M676.3 411v2M676.7 423v2.5M676.3 425.5v2.6M677.5 404.8v2.5M677.3 410.8v1.5M677.5 433.8v4.2" stroke="#2f9e00" stroke-width="1"/>
<path d="M35.3 395.7v2M36.7 392.2v2M36.3 402.2v2.5M36.3 409.2v1M36.5 410.2v2M37.7 387.2v2.5M37.7 405.2v2.5M38.5 385.2v1M38.3 399.7v2M38.3 401.7v2M39.7 388.2v1.5M39.5 426.2v5.3M40.5 389.2v2M40.3 393.2v2.5M40.3 418.7v1M40.3 423.2v2M41.3 399.2v2.5M41.5 422.7v2M41.5 426.2v3.2M42.7 385.2v2M42.7 409.7v1.5M44.7 393.7v1M44.3 398.7v2.5M45.3 396.7v2M45.3 411.7v2.5M48.5 411.3v1.5M49.3 401.8v1M49.5 421.3v2.5M50.7 429.3v4.4M51.3 419.3v1M51.3 433.2v4.3M52.3 400.3v1.5M53.3 397.4v2.5M53.3 403.4v1.5M53.5 404.9v1.5M53.3 416.4v2M53.5 426.9v5.2M54.3 401.9v2M54.5 403.9v1.5M54.7 409.9v1M55.7 408.9v2.5M55.5 423.4v1M56.7 406.4v2M56.7 424.9v3.6M58.7 431.7v2.9M59.3 397.5v2.5M59.7 400v2.5M59.5 408.5v1.5M60.7 407v2.5M60.3 422v1.5M60.5 423.5v2M61.5 429.1v2.1M62.5 397.5v1.5M62.5 399v2M62.5 405.5v2.5M62.7 408v1M62.5 409v2M63.3 401.6v1.5M63.3 407.6v1.5M63.3 410.6v2M63.7 426.6v3.8M64.3 410.6v2.5M65.3 404.6v2.5M65.3 430.4v2.5M66.5 404.1v1.5M67.7 399.1v2.5M67.5 405.1v2M67.3 421.6v1M68.5 404.2v2.5M68.5 430.5v5.4M69.3 397.7v2.5M69.5 422.2v2.5M69.7 429.2v3.9M70.5 399.2v1.5M70.3 405.7v2.5M71.5 399.2v1M71.5 420.2v2M71.3 428.7v3.9M72.7 400.8v2.5M72.7 405.3v2.5M72.5 414.3v1.5M73.5 422.3v2.5M74.7 402.8v2M74.3 410.8v1.5M74.5 421.3v2M75.5 410.3v2M76.3 397.8v2M76.7 403.8v2M77.5 423.4v1.5M78.5 397.9v1M78.5 403.4v1.5M78.3 413.4v1.5M79.7 410.9v2.5M80.3 399.4v1.5M80.5 409.4v2.5M80.7 422.4v1.5M81.3 397.9v1.5M81.3 405.4v2.5M81.3 407.9v1M81.3 426.4v4.4M82.7 402.5v2M82.7 422.5v1M83.7 419.5v1M83.7 422v2M86.7 422v2.5M88.3 399.6v1.5M88.5 423.6v2M88.7 425.6v2.5M88.3 433.5v4.1M89.5 422.6v2.5M90.7 400.1v1M90.7 416.1v1.5M91.5 402.1v1.5M91.3 411.1v1.5M92.3 400.2v2.5M92.3 402.7v2M92.5 430.2v5.3M93.5 404.2v1M93.5 408.2v2M93.7 410.2v1.5M93.5 421.7v1.5M94.7 398.7v2M94.7 415.7v2M95.7 399.7v1M95.7 400.7v1.5M95.7 405.7v1.5M96.3 402.2v2.5M96.7 422.7v2M96.3 432.1v3.9M97.3 426.2v5.1M98.5 417.7v1M98.7 421.7v1.5M98.5 423.2v2.5M99.5 403.7v2M99.3 409.7v1.5M100.3 423.2v2M101.5 410.7v2.5M102.3 422.8v2M103.7 423.6v2.5M104.5 409.3v2M105.5 410.6v2.5M105.3 429.1v2.6M105.5 433.2v3.4M107.7 418.6v1M113.3 429.6v3.3M114.7 422.1v2.5M115.7 423.8v2M117.5 421.9v1M117.3 430.9v5.4M123.5 427.8v2.8M125.7 419.3v1M126.5 422.3v1M127.7 424.3v2.5M127.3 426.8v4.4M128.5 427.3v3.7M130.5 422.4v1.5M130.3 432.6v3.1M132.7 422.4v2M134.5 422.4v2.5M135.7 424v2.5M135.5 426.5v3.8M146.5 423.1v2.5M147.5 422.7v2M147.5 427.7v3.2M148.5 423.2v2M149.5 423.7v1M152.7 427.6v5M153.3 420.3v2M153.7 423.8v2M156.7 425.6v4M157.5 425.8v3.9M158.5 423.1v2.5M159.3 423.3v2M163.7 432v4.4M164.3 423.8v2.5M168.3 414.5v2M172.5 410.3v2M185.5 430.4v1.5M191.5 424.2v1.5M200.5 414.7v1.5M202.7 408.4v1M207.5 418.7v2M208.7 403.7v1.5M209.3 400.2v1M210.7 394.7v2M212.7 395.7v2M214.5 422.2v1M225.3 411.7v2M229.7 423.7v2M230.7 396.7v2.5M230.7 412.2v1M231.3 402.2v2.5M235.3 410.7v2M237.3 406v1M238.5 390.2v1.5M243.5 417.8v2M247.7 384.3v2M247.7 420.8v1M248.5 384.9v1.5M251.5 414.4v1M253.3 375v2.5M257.7 378v2.5M262.7 417.4v2.5M262.3 419.9v1.5M263.5 403.9v1M264.5 411.5v1.5M266.7 400.9v2.5M269.3 360.8v2.5M270.7 355.6v1M270.3 359.6v2M271.5 379.8v1M273.5 362.7v2M274.5 362.7v2M275.5 368.9v2.5M277.5 367.5v2M277.7 369.5v2.5M278.3 358.9v2M278.5 386.4v1M279.7 342.4v1M279.3 371.9v2.5M280.5 333.4v1M281.5 333.2v2.5M282.3 387.5v2M282.7 391v1.5M284.5 399.7v2M285.3 381.5v2.5M286.3 346.4v2M286.5 384.4v1.5M287.7 352.7v2M287.5 377.2v1.5M287.5 378.7v2M287.5 411.2v1M288.7 347v1.5M288.5 350v1M289.3 418.7v1.5M290.3 396.2v1.5M292.5 343.9v1.5M292.5 361.9v1.5M293.7 395.4v1M293.7 398.4v1.5M294.7 373.4v2M294.7 376.9v1M295.5 371.9v2M295.5 385.9v1M295.5 394.9v1M296.7 352.4v2M296.7 360.9v2M298.3 360.4v2M298.5 372.9v1.5M300.3 404.7v1M302.7 377v1M307.5 418.7v1M311.7 395.5v2.5M312.7 382.7v2M313.7 389.7v1.5M315.7 403.2v1.5M315.3 415.2v2M316.3 417.9v1.5M317.5 373.4v2M322.5 386.7v1M323.3 364.2v2.5M323.5 366.7v1M324.5 371.7v1M325.3 384.9v1M327.3 373v1.5M328.5 345.2v2M328.3 356.2v2.5M328.3 396.7v2.5M329.3 376.2v2.5M329.7 398.2v1M330.3 408.7v2.5M331.3 356.9v2M331.5 382.9v1M332.7 385.4v1.5M333.7 376.2v1M333.5 393.7v2.5M333.3 403.7v2M337.7 383.9v1M338.3 411.2v2.5M339.7 416v1M340.3 400.9v2.5M343.7 376.4v1M343.5 378.9v1M344.7 400.7v1.5M349.5 413.9v2M353.5 407.2v1M353.3 413.7v2.5M354.3 395.5v1M355.5 390.7v2.5M355.5 407.2v2.5M356.3 417.2v2.5M357.5 394.2v1M358.5 390.7v1.5M363.7 354.4v2M363.5 408.4v2M364.3 393.4v2M365.3 365.4v2.5M366.7 388.2v2.5M367.7 350.2v1.5M370.7 385.2v2.5M371.3 369.2v1.5M372.3 377.2v1M373.5 346.5v2.5M373.7 404v1.5M374.3 411.2v1M375.3 371.4v2M375.7 418.4v1M376.3 391.2v2.5M380.5 383.7v1.5M382.3 383.4v1.5M384.5 384.5v1M388.3 384.7v1M389.5 387.2v1.5M392.5 362.2v2M396.3 376.9v2.5M400.5 409.7v2M401.7 393.4v2M402.3 416.4v1M404.7 400.4v1.5M405.5 410.7v1.5M407.5 403.2v1.5M407.7 415.2v1.5M410.7 399.7v1.5M410.7 405.7v2.5M411.7 406.5v2M412.3 387.2v2.5M414.7 390.5v2M419.5 418.9v2.5M425.3 418.4v1.5M450.5 424.5v1.5M459.5 405.2v2.5M460.3 403.2v1M462.7 407.5v2M462.3 412.5v1.5M467.3 426.9v1.5M471.3 424.7v1M475.7 413.4v2M476.3 411.2v1M482.3 398.9v1M483.5 414.7v1M485.3 413.8v1M486.7 414v2.5M486.5 419.5v2.5M488.7 414.4v2.5M490.3 405.2v2.5M491.7 429.9v1M492.5 426.7v1M492.3 429.7v2M494.5 414.7v1.5M495.7 415.9v1M496.7 419.9v2.5M496.7 424.9v2.5M498.7 414.7v1.5M500.5 420.9v1.5M502.5 429.4v1M503.7 420.4v1M505.3 424.2v2M505.3 429.2v2.5M509.3 420.9v1M510.7 409.8v2.5M510.3 418.3v2.5M511.3 396.2v2M511.3 429.2v1M512.7 396.6v1M512.5 397.6v2.5M512.3 404.6v2.5M513.7 425v2.5M514.7 426.7v2.5M515.5 396.2v1.5M515.5 420.2v2.5M517.7 399.7v1.5M518.7 402.2v1.5M518.3 423.2v2M523.5 429.2v5.1M525.5 420.7v1.5M527.3 409.2v1M528.7 428.3v5.1M529.3 419v1M531.3 426.4v5.2M532.3 408.1v1M532.5 428.1v2.8M533.5 414.3v2M536.5 419.6v1M537.3 415.8v2M537.7 419.3v2M541.5 425.2v2.7M543.5 430.4v3.9M547.3 424.6v3.1M552.3 431.1v3.7M555.7 431.7v5.1M557.3 411.2v1M560.3 432.8v3.5M561.5 407.4v1.5M562.7 426.9v5.2M564.7 408.7v1M564.3 426.2v3M565.5 408.2v1.5M565.3 411.2v1.5M565.7 432.5v2.7M569.7 426.4v4.3M570.3 409.6v1.5M572.5 409.9v1M573.5 429.8v5.2M575.3 409.4v1.5M575.3 431.4v4.8M576.7 412.6v1M577.3 406.8v2.5M578.7 417.4v2.5M579.5 410.6v1.5M580.5 409.2v1.5M582.7 412.5v2M582.3 429.7v2.7M584.7 417.4v1.5M590.7 425.5v5M590.7 430.5v3.5M595.5 433v3.1M596.3 425.3v5.5M600.7 424.3v5.2M600.5 429.4v3.8M601.3 431.2v3.2M605.5 426.7v2M607.3 419.4v1.5M608.5 430.1v3.2M624.7 414.9v2M627.5 412.4v1M628.7 430.1v5.1M629.5 409.8v1.5M630.7 411v2.5M631.5 410.2v1M632.5 413.4v1M634.5 412.8v1.5M636.5 409.3v2M636.5 411.3v1M637.3 411.5v1.5M640.3 434v3.3M641.3 425.3v3.2M641.7 430v3.7M644.5 425.7v3.1M644.7 430.3v4.5M645.7 425.7v4.3M646.3 406.7v1.5M646.5 427.2v5.1M647.3 410.7v1.5M649.3 424.2v4.5M650.7 411.2v2M651.3 411.7v1.5M652.3 425.7v4.7M653.5 413.2v1.5M653.5 417.7v1.5M653.3 419.2v2.5M656.5 409.2v2.5M657.3 410.7v1.5M660.7 407.9v1M660.3 411.4v2M661.3 409.7v1M661.3 418.7v1.5M662.3 417v1.5M666.5 413.7v1M667.7 409v2.5M669.3 409.9v2.5M671.5 425.9v2.8M672.7 411.3v2.5M675.3 407.7v1M677.7 412.3v1M678.3 431.7v4.7" stroke="#3a1200" stroke-width="1"/>
<path d="M35.5 385.2v1M35.5 386.2v1.5M35.3 400.2v2M35.3 403.7v2M35.5 405.7v2.5M35.5 411.2v1M35.7 421.7v2M36.7 386.7v1M36.5 387.7v1.5M36.7 389.2v2M36.5 398.2v1.5M36.5 404.7v1.5M36.7 423.7v2M37.7 385.2v2M37.5 398.7v1.5M37.5 402.2v1.5M37.7 409.2v2M37.3 411.2v2M38.3 389.2v2.5M38.5 405.7v2.5M38.5 422.2v2M39.7 385.2v1.5M39.5 391.2v1.5M39.5 403.7v2.5M39.3 422.2v2.5M40.5 385.2v2.5M40.7 391.2v2M40.7 409.2v2M41.7 391.7v2M41.5 410.7v1.5M42.7 388.7v2M42.5 392.2v2M42.7 394.2v2.5M42.7 400.7v1.5M42.3 402.2v2M42.3 411.2v2.5M42.5 423.7v2.5M43.3 386.7v1.5M43.3 388.2v2.5M43.7 393.7v1M43.7 394.7v1.5M43.7 403.7v1.5M43.7 421.7v2.5M44.7 392.2v1.5M44.5 397.7v1M45.5 398.7v1.5M45.5 401.7v2.5M45.3 405.7v1.5M46.5 398.7v2.5M46.3 404.2v1M47.7 409.2v1M48.3 421.3v1.5M49.5 405.8v1.5M50.5 400.3v2M50.3 411.3v2.5M50.3 422.3v1M51.5 403.3v1M51.7 405.8v1.5M52.5 410.3v2M53.5 400.9v1M54.3 398.9v1.5M55.3 397.4v1M55.5 398.4v1.5M55.3 402.9v1.5M55.3 421.9v1.5M56.3 401.9v1M56.3 421.4v2M57.3 397.4v1.5M57.3 398.9v2.5M57.7 401.4v2M57.5 409.4v2.5M57.7 422.4v2.5M58.7 397.5v2.5M58.7 404v2M58.5 406v2.5M59.7 422v2.5M60.7 398.5v2.5M60.5 404v1M60.5 405v2M60.3 409.5v2M61.3 402.5v1.5M61.3 411v2.5M62.5 421v2.5M62.5 423.5v1M63.5 399.1v2.5M64.5 399.1v2M64.7 402.6v2M64.5 409.1v1.5M64.5 423.6v1.5M65.3 402.1v2.5M66.3 400.1v2M66.7 402.1v2M66.3 423.1v1.5M67.5 422.6v2.5M68.7 401.7v2.5M68.7 410.7v1M69.3 401.7v1.5M69.7 403.2v1M69.5 404.2v2M69.3 410.2v1.5M70.3 397.7v1.5M70.3 409.2v2.5M71.5 400.2v2M71.7 405.7v2.5M71.7 411.2v1M71.7 422.2v2M72.5 403.3v2M72.3 409.3v2M72.5 423.8v1M73.7 410.3v1.5M74.5 397.8v2M74.5 401.3v1.5M74.7 423.3v1M75.7 397.8v1M75.5 402.8v1.5M75.5 404.3v1M76.5 399.8v1M76.7 405.8v2.5M76.5 422.8v2.5M77.5 401.4v1M77.3 409.9v2M77.3 421.9v1.5M79.5 400.4v1.5M79.5 423.4v2.5M80.3 400.9v2.5M81.5 410.4v1.5M82.7 398v1.5M82.7 404.5v2M83.5 401v1M83.7 411.5v2M84.7 401v1M84.3 405v1.5M85.7 398v1.5M85.3 405.5v2.5M86.3 402v2.5M86.7 404.5v1M87.3 399.6v2.5M87.7 404.6v1.5M88.7 401.1v1M88.7 402.1v2M88.7 409.6v1.5M89.7 398.1v1M89.7 409.6v2.5M90.3 398.1v2M90.3 402.6v2.5M90.5 422.1v1.5M91.5 398.1v1M91.3 399.1v1.5M91.5 422.6v2.5M92.3 398.2v2M92.5 404.7v2M93.3 423.2v1M95.5 403.7v1M95.3 404.7v1M95.5 410.2v1M95.5 422.2v1.5M97.7 405.7v2.5M97.7 422.2v1.5M97.3 423.7v2.5M99.7 405.7v2.5M101.5 405.7v1.5M101.5 422.2v2M104.3 422.3v1.5M108.7 422.8v1.5M109.5 423.1v1.5M111.5 423.1v2M112.7 421.4v1M118.5 423.8v2.5M120.7 423.7v1.5M122.5 423.7v1.5M125.5 421.8v2M127.5 422.3v2M128.5 422.3v2M131.3 422.4v2M133.3 422.4v1.5M136.7 424v2M139.5 421v1.5M139.5 422.5v1M141.3 421.1v2.5M141.3 423.6v2M142.5 421.1v1.5M143.5 423.6v1M144.3 421.1v2.5M145.5 422.1v2M150.3 422.6v2.5M151.5 423.8v1M154.7 423.1v1M155.5 422.8v1M155.3 423.8v2M157.3 422.3v1M160.7 421.3v1.5M160.7 422.8v1.5M161.3 421.4v1M161.5 422.4v1.5M520.3 404.2v1.5M520.7 411.2v1M521.5 409.2v2M522.7 423.7v1.5M525.7 410.7v1M526.3 410v1M528.7 410.4v1.5M530.7 410.7v2.5M532.3 409.1v2.5M533.7 410.3v2.5M535.5 410.3v1M536.7 409.6v1.5M536.5 411.1v2.5M537.7 410.3v2.5M539.5 422.3v2M540.7 423.7v2.5M542.7 421.7v1.5M544.5 421.9v2.5M554.5 411.2v1M554.5 422.2v1M555.7 409.3v2.5M557.5 410.2v1M557.3 421.2v1.5M559.7 394.1v1.5M559.5 395.6v2M559.3 421.1v2.5M559.5 423.6v1M560.7 421.9v2M561.3 410.4v1M561.3 411.4v1M563.3 400.4v2.5M563.3 405.9v2M563.7 409.4v1.5M566.5 409.7v2.5M567.5 404.7v2.5M567.3 410.7v2M568.7 409.8v1M569.7 409.9v1.5M569.5 411.4v1M570.5 411.1v2.5M570.5 421.1v2.5M571.7 409.3v2M573.5 404.6v2M573.5 409.6v2M574.5 423.8v2.5M575.7 404.9v2.5M575.3 410.9v2M575.3 421.4v2.5M575.3 423.9v1M577.5 410.8v2M578.3 403.9v1M583.7 422.2v2M591.3 421.1v1.5M599.3 422.6v2M603.3 421.1v1.5M604.3 421.4v1M614.5 422.4v2.5M617.7 422.1v1M625.5 411.4v2.5M627.5 410.4v1M627.5 411.4v1M629.3 411.3v2.5M630.5 409.5v1.5M631.7 411.2v2.5M633.5 422.1v1.5M634.7 423.3v2.5M635.5 410.1v2M638.3 410.2v1.5M639.7 411.4v1.5M639.3 421.4v2M640.5 409.6v2M641.5 409.3v1M641.5 410.3v1M641.3 411.3v2.5M642.3 409.2v1M643.5 411.2v2.5M644.7 409.7v2.5M646.7 401.7v1M647.5 409.7v1M651.7 400.2v1.5M652.7 403.2v1M652.5 410.2v2M652.3 421.7v2.5M653.3 423.2v1M654.3 410.2v2M655.7 401.7v2M655.3 409.2v1.5M657.3 398.7v2M657.7 421.2v2M658.5 402.2v1.5M659.3 405.7v2.5M659.7 409.7v1.5M660.7 395.4v1.5M660.3 399.9v2M660.3 410.4v1M661.5 423.7v2M663.3 395.7v1.5M663.7 409.2v2M663.7 411.2v1.5M663.3 421.2v2.5M664.5 379.2v1M665.3 382.4v1M665.3 390.4v2.5M665.3 392.9v2M665.3 423.4v2.5M666.5 382.7v2.5M666.3 388.2v1.5M666.3 391.2v1M666.5 398.7v1.5M666.5 411.2v2.5M667.5 384.5v2.5M667.5 396.5v1.5M668.7 388.4v2M668.7 390.4v1M670.7 394.9v2M670.7 400.9v2M671.5 401.4v2.5M671.7 423.4v2.5M672.3 404.3v1.5M672.5 422.3v2.5M673.5 398.6v1M676.7 400v1M676.3 410v1M677.3 397.3v2" stroke="#1a1a1a" stroke-width="1"/>
<rect x="34.3" y="310.7" width="645.6" height="1.1" fill="#c4c4c4"/>
<rect x="34.3" y="337.6" width="645.6" height="1.2" fill="#b4b4b4"/>
<rect x="34.3" y="364.4" width="645.6" height="1.3" fill="#6e6e6e"/>
<rect x="34.3" y="391.4" width="645.6" height="1.3" fill="#727272"/>
<rect x="34.3" y="418.1" width="645.6" height="1.6" fill="#ecd0c0"/>
<path d="M275.6 285.3V439.5M354.4 285.3V439.5" stroke="#050505" stroke-width=".9"/>
<path d="M277 294.6V303.4M277 311.3V320.1M277 328V336.8M277 344.7V353.5M277 361.4V370.2M277 378.1V386.9M277 394.8V403.6M277 411.5V420.3M277 428.2V440.2M355.8 284.8V294.3M355.8 302.2V311.2M355.8 319.5V328.5M355.8 336.8V345.8M355.8 354V363M355.8 371.2V380.2M355.8 388.5V397.5M355.8 405.8V414.8M355.8 423V432M286.2 285.6h8.8M303.6 285.6h8.8M321 285.6h8.8M338.4 285.6h8.8M276.2 439.5H281M289.8 439.5h8.9M307.3 439.5h8.9M324.8 439.5h8.9M342.3 439.5h8.9M352.5 439.5H356.6" stroke="#fff" stroke-width="1.7"/>
<path d="M34.3 284.3H679.9M34.3 283.8V440.5H680.4M679.9 284.3V440.5M34.3 284.3h-4M34.3 311.2h-4M34.3 338.2h-4M34.3 365.1h-4M34.3 392h-4M34.3 418.9h-4M34.3 440.5h-4M34.3 440.5v4M61.2 440.5v2.2M88.1 440.5v2.2M115 440.5v4M141.9 440.5v2.2M168.8 440.5v2.2M195.7 440.5v4M222.6 440.5v2.2M249.5 440.5v2.2M276.4 440.5v4M303.3 440.5v2.2M330.2 440.5v2.2M357.1 440.5v4M384 440.5v2.2M410.9 440.5v2.2M437.8 440.5v4M464.7 440.5v2.2M491.6 440.5v2.2M518.5 440.5v4M545.4 440.5v2.2M572.3 440.5v2.2M599.2 440.5v4M626.1 440.5v2.2M653 440.5v2.2M679.9 440.5v4" stroke="#000"/>
<g font-family="Liberation Sans, Arial, sans-serif" font-size="9.3" fill="#111">
<text x="26.9" y="287.7" text-anchor="end">30</text>
<text x="26.9" y="314.6" text-anchor="end">25</text>
<text x="26.9" y="341.6" text-anchor="end">20</text>
<text x="26.9" y="368.5" text-anchor="end">15</text>
<text x="26.9" y="395.4" text-anchor="end">10</text>
<text x="26.9" y="422.3" text-anchor="end">5</text>
<text x="26.9" y="443.9" text-anchor="end">1</text>
<text x="34.3" y="455.2" text-anchor="middle">0</text>
<text x="115" y="455.2" text-anchor="middle">3</text>
<text x="195.7" y="455.2" text-anchor="middle">6</text>
<text x="276.4" y="455.2" text-anchor="middle">9</text>
<text x="357.1" y="455.2" text-anchor="middle">12</text>
<text x="437.8" y="455.2" text-anchor="middle">15</text>
<text x="518.5" y="455.2" text-anchor="middle">18</text>
<text x="599.2" y="455.2" text-anchor="middle">21</text>
<text x="679.9" y="455.2" text-anchor="middle">24</text>
<text x="356.4" y="469.1" text-anchor="middle">JST</text>
<text transform="translate(9.1 362.4) rotate(-90)" text-anchor="middle">Frequency (MHz)</text>
</g>
<text x="356.6" y="277.7" text-anchor="middle" font-family="Liberation Sans, Arial, sans-serif" font-size="11.1" fill="#111">NICT Ionosonde (Kokubunji) 20230530 90-120 km</text>
<text x="647" y="318.5" font-family="Liberation Serif, Times New Roman, serif" font-weight="bold" font-style="italic" font-size="31" fill="#fff">c</text>
</g>
<g fill="none">
<rect x="34.3" y="495" width="645.6" height="156.2" fill="url(#nz)"/>
<path d="M649.1 517.1h1M334.5 591.7h2M65.6 591.2h2M223.7 496.6h2M259.1 585h1.5M89.6 542.9h1.5M463.1 567.4h1M494.6 610h2M138.6 586.9h2M565.1 592.5h1M660.6 594.1h2M305.6 522.8h2M324.9 550.7h1M213.3 570.4h1M455.5 571.6h1M341.2 608.5h2M620.1 541.6h2M286.8 568.1h1M341.5 532.4h1M149.9 527.7h1M391.3 521.9h1.5M330.4 532.5h2M522.1 539.8h1M596.5 603.2h1M207.4 574.9h1M219.8 631.9h2M221.7 569.2h1M341.5 612.2h1M407 639.6h1M415.2 529.2h1.5M272.6 606.9h2M584.2 501.5h2M366.2 549.9h1M54.3 545.4h1.5M612.4 597.6h1M215.3 524.6h1.5M407.6 539.2h1M227.6 563.5h2" stroke="#901400" stroke-width="1"/>
<path d="M67.1 639.7h2M622.4 541.6h1.5M520.6 628.4h2M455.3 511.3h1M201.1 514h1M59.8 551.9h1M332.8 533h1M71.7 569.7h2M588.7 616.4h1M147.7 614.2h1.5M213.9 620.4h1M258.2 613h1M283 592.7h1M625.3 546.1h1M161.4 549.6h1.5M98.4 506.3h1.5M548.3 592.2h1M94.8 617.1h2M66.7 642.3h2M266.5 538.4h1M575.5 607h1.5M203 623.9h1.5M116.5 596.3h1M100.7 570.6h1M487.6 534.8h1M443.7 586.6h2M583.4 638.7h1.5M129.2 629.3h1M332.6 526.2h1M141.4 499.3h2M504.5 550.4h1M156.7 527.6h1M106.8 530h1M108.9 623.6h1.5M178.3 589.6h1M650.5 633.2h2M569.8 539.5h1M147.3 535.2h2M186.7 578h1M211 543.6h1M548.2 551.8h1M244 535.6h1.5M535.5 531h1.5M91.2 548.4h1.5M417.4 583.6h2M58.2 596.8h1M294.7 565h1M362.1 582.2h1M384.2 602.4h1.5M216.2 536h2M262.5 529.6h1.5M194.9 632.1h1M106 573.2h1M277.3 555.1h2M522.2 589.9h1M619.9 639.7h1M654.7 520.7h2M194.6 572.6h2M61.2 589.4h2M202.9 623.9h2M364.9 543.6h2M119.1 579.1h1.5M242.3 566.2h1M265.4 587.8h2M141.1 622h2M242.7 614.7h2M345.9 551.7h1.5M371 626.9h1.5M147.2 570.8h1.5M136.8 613.8h1M48.9 539.8h1M663.4 569.7h2M393.5 528.4h1M162.5 556.3h2M320.8 563.4h1M448.8 595.4h1.5M486.4 625.5h1.5M150.4 532.9h2M532 595h1.5M146.1 510h1M48 521h2M648 583.8h1M101.5 591h2M352.7 632.7h2M206.7 595.5h1M355.1 589.8h1M413.9 524.4h2M198.2 589.7h1M148 504.5h1.5M103.8 499h1M463.3 611.4h1.5M480.3 623.5h1.5M283.2 640.7h1.5M595.9 622.9h1.5M274 599.3h1M522.7 617.8h2M179 557.2h1M44.5 543.7h1M108.1 626.9h1M313 561.7h1.5M311.3 589.9h1M217 610.2h2M296.8 516.8h1M172 621.7h1M318.1 539.2h1.5M489.5 524.9h2M512.9 540.8h1M349.6 520.3h1M298.9 539.3h1M75 605.9h1M417.3 611.2h1.5M65.7 590.1h1.5M64.5 591.9h1.5M449.8 631.7h2M636.9 556.9h2M68.1 577.2h1M109.9 550.5h2M165.2 584.3h1.5M205.3 642.7h1M591.3 555.5h1M327.8 604h1M431 518.4h1.5M376.6 620h1.5M327.9 565.1h1M58.1 587.4h2M231.2 623.8h2M118.6 634.5h1.5M126.2 562h1M597 623.9h1.5M436.8 522.9h1M108.6 615.6h2M497.3 608.2h2M659 610.8h1M368.5 593.8h1.5M593.5 618.6h1M582.5 537.7h2M222.7 554.1h1M461.4 575.3h1.5M376.6 567.5h1.5M132.7 631.7h1M590.5 585.8h1M470.2 542.3h2M609.4 527.9h1M442.7 591.9h1.5M248.8 639.4h1M490.4 634.6h1M203.5 579.5h1M219.4 584.4h2M654.2 551.1h1M113.3 572.4h1M605.1 618.1h2M418.6 584.3h1M294.6 532.8h2M472.9 559.6h2M478.2 573h1M556.8 540.3h1M395.3 608.3h2M395.5 609.5h1M644.1 535.4h2M249.3 521.6h2M387.6 524.8h1M96.3 539.9h1.5M198.7 621h1.5M615.8 599.1h1.5M64.2 642.6h2M521.8 584.4h1M186.3 628h1M346.9 552.4h1M545.3 580.4h2M630.1 625.8h1M97.6 536.5h2M87.1 589.7h1M256.8 553.4h2M274.3 629.2h1M215.6 584.9h1M483.9 526.7h1M648.8 628.8h1M360.9 584h2M62 583.7h1M111.8 547.6h1M114.9 546.2h1.5M571.8 573.1h1M110.8 558.4h1M652.3 556.4h1.5M270.6 594.6h1.5M358.7 624.3h1.5M251.1 503.4h2M70 510.1h1.5M85.4 553h1M176.7 532.1h1M543.4 556.9h2M485 498.8h1M385.3 557.7h2M435.9 535.8h1M655.5 578.3h1.5M490.5 544.7h2M327.2 540.8h2M467 551.4h1.5M555 528h1.5M314.6 563.5h1M278.5 562.1h1.5M193.1 600h2M371.6 532.9h1M171.6 572.4h1M238.9 536.3h1M41.2 501.5h2M123.3 527.3h2M126.3 566.2h1M64.7 624.9h1M524.3 575h1.5M654.7 620.1h2M252.2 633.9h1M375.2 546.7h2M68 593.4h1.5M87.3 636.3h1.5M669.8 576.1h2M59.2 591h1M119.2 614.3h1M260.1 604h1M201.4 552.9h2M134.2 536h1M628.9 559.5h2M139.8 624.9h2M610 633.1h2M675 539.5h1.5M244.5 610.8h2M42.3 563h1.5M368.5 520.4h2M83.4 564.9h1M390 607.5h1M301.4 620.4h1.5M503.6 521h1M152.4 560.9h1.5M326.2 640.5h1M143.6 602.6h1.5M151.7 580h1M59.6 618.7h1M176.2 515.6h1M590 584.8h1M183.5 547.3h1M167.5 562.6h1M109.5 518.7h1.5M576.1 584.8h1.5M235.8 563.9h1.5M201.9 630.5h1.5M68.7 613.9h2M344.6 538.5h2M78.1 609.2h1M139.8 642.2h2M424.4 633.6h1M218.8 609.1h2M211.2 583.9h2M657.4 531.6h2M98.8 526.2h1M539.9 546.2h1M609.2 631h2M412.5 635h1M638 575.5h1.5M184.2 576.2h1M248.3 571.2h1M588.3 613.5h1.5M668.4 613.2h1M413.9 599.7h1M409.7 634.2h1.5M163.5 540.5h1.5M444.4 609h1.5M463.6 522.8h2M592.6 633.6h1M657.3 523h2M209 575.9h2M116.2 535.9h1M383.5 590.3h1M391.1 591.2h1M85.3 614.6h2M545.3 560.6h1M166.9 601.6h1M406.1 516.6h2M558 609.9h1M362.8 623.9h1M447.5 544.1h1M601.6 526.2h1M199.2 591.1h1M43.7 523.1h2M112.3 561.3h2M444 600.5h2M644.5 583.5h1M549.7 585.9h1.5M217 513.7h2M175 597.9h1.5M147.5 549.7h2M426.3 607.7h1M560.3 560.4h1.5M124.9 626.2h1M40 575.4h1M156.5 635.4h1M388 559.6h1M593.9 604.6h1M170.6 561.6h1.5M135.4 535.3h1M191.8 558h1.5M39.7 533.5h1M239.9 606.7h2M73.5 630h2M207.3 558.6h1M113.6 577.9h1M148 568.1h1.5M223.3 597.2h1M418.3 604h1.5M639.1 617.3h2M657.5 620.3h1M197.9 535.9h1.5M218.9 551.4h1M180.5 600.9h1M41.5 607.9h1M639 535.8h1M267.8 629.6h1M47.7 576.6h1.5M182.7 540.2h2M290.9 551.7h1.5M445.4 619.3h1M193.7 606.6h1M77.2 564.6h1.5M45.8 578.7h1.5M91.2 514.8h1M87.9 543.7h1.5M146.3 530.7h1M471.5 552.8h1.5M114.2 540.5h1.5M433.2 541.6h1M195.2 630.4h1M167.3 498h2M109.9 638.6h2M567.9 568.5h1M60.5 546.5h2M407.6 560.9h1M88.7 547.6h1M636.5 537.7h1M629.6 641.2h2M39.7 632.8h1M419.1 597.7h1M650.4 566.7h1M88.1 563.6h1M672.9 633.9h1M450.9 637.4h1M510.4 637h1M43 612h2M268.3 640.1h1M343.1 525.7h1M94.7 499h2M129.2 607.3h1.5M128.4 617.6h2M348.4 559.8h2M454.1 592.7h1M577.2 561.2h1M190.7 531.5h1M61.6 583.5h2M516.5 621.7h1.5M74.7 621.9h1M179.6 553.9h1.5M525.2 592.4h1M98.8 603h1M600.2 563.3h1.5M139.6 619.5h1.5M284.3 618.5h2M331.7 543.5h1M606.2 572.7h1M146.9 505h1M134.7 642.4h1M582.1 553.5h1M640.2 623.6h2M54 637.6h2M52.5 525h2M171.4 538.1h1M622.5 544h2M526.2 535.6h1.5M623.8 637.7h2M57.3 498.4h1M496.5 503.3h1.5M273.1 604.4h2M175 578h2M410.3 569.4h2M624.6 531.1h2M662.8 580.6h1M322.8 517.4h1M645.3 584.1h1M95 558.1h1.5M191.1 559.1h1.5M83.8 589.2h2M97 576.1h1M205.8 525.6h2M73.3 504.9h2M176.2 635.3h2M43.2 521.8h1M84.7 591.1h1M216.2 540.4h1M663 574.2h1M105.9 549.1h2M93.6 541.2h1M646.7 530.1h1M170.3 533.3h1.5M213.6 568.1h1M275.1 579.8h1M180.8 563.6h1M140.3 629.2h1M619.9 520.4h1M129.1 620.9h2M222.2 540.9h1M78.5 606.7h1.5M455.7 593.2h1.5M275 555.6h1M263.3 577.2h2M512.9 573.7h1M312.2 599.7h1.5M50.5 626.2h2M140.3 628.1h1.5M289.1 587.3h2M513.4 580.9h1.5M225.7 528.6h1.5M64.1 609.5h1M664.2 542.4h1M166.3 548.4h1M602.2 604h1M430.1 538.9h1.5M71.5 535.4h1M473.1 523.8h1M378.2 542.4h1M354.4 603h1M492.1 609h1M145.7 587h1.5M188.6 560.1h1M219.1 517.8h1M300.1 618h1M130.1 520.2h1M126.3 630.7h2M90.7 604.2h2M175.1 593.4h1M590 605.3h1M340.1 612.2h1M103.5 641h2M183.8 544h1.5M450.1 594.6h1M322.2 550h1.5M97.9 523.5h1M172.2 550.2h1M61.3 560.5h1M514.6 637h1.5M639.7 504.2h2M292.1 546h1.5M455.4 635.9h2M621.5 576.7h1M36.1 581.5h2M98.5 597.3h2M389.6 567.6h1.5M224.7 637.1h2M502.4 524.4h1M468.3 497h2M138.6 582.5h1M221.6 538.8h1M298.4 620.5h2M40.4 641.4h1M371.9 586.1h2M139.5 536.8h1M84 557.2h1M227.1 604.4h1M167.3 558.2h1.5M454.6 599.3h2M199.2 579.7h1M80.4 544.4h1M214.2 579.1h2M547.7 590.1h1M164.8 584h1M225.9 621.4h1M91.3 538.4h1M147.7 529.7h1M671.4 578.7h1.5M125.6 526.8h1M657 551h1M394.8 569.5h1.5M522.1 544.8h2M124.3 634.5h2M530.3 555h1.5M52.6 595.3h1M247.1 587.5h1.5M298.7 601.9h2M344.6 522.7h1M635.1 587h1M36.5 641h1.5M249.5 557h1.5M628.9 631.8h2M45 521.3h1M192.3 581.1h1M445 606.5h1M406.1 631.5h2M350.9 588.8h2M69.7 619.1h1.5M442.3 529.8h1M130.9 521.2h1.5M382.6 606.8h2M320 497.9h1M672.8 633.9h1M294.6 545h1M419.3 640.2h2M546.5 577.8h1.5M58.3 637.7h1M358.1 608.1h1M470.5 559.9h1.5M97.9 597.1h1M222.8 498.2h1M97.7 555h1M382.9 604.5h2M221.6 574.8h1M298.9 564.4h1.5M657.2 601.1h1.5M561.5 638.5h1.5M404.5 544.8h2M479.2 520.5h1M216.6 551.7h1M506.3 554.9h2M189 556.4h2M637.3 588h2M594.4 524.4h1.5M547.3 571.1h2M411.4 606h1.5M218 556.1h1M188.7 600.5h1M124 629.1h1M135.1 550.4h1M399.5 600.4h1M143.5 606h2M529.8 624.4h1.5M464.9 607h1M420 630.8h2M102 516.5h1.5M250.8 626.2h1.5M165.4 562h1M222.9 521h2M247.3 631.6h2M106.2 621.6h1M330.9 627.3h1M58.7 631.5h1M69.4 524.7h1M509.2 620.6h1.5M124.4 549.4h2M143.9 564.2h1M103.7 568h1M335.7 514.7h1M314.8 582.4h1M415.8 523.3h1M119.9 558.1h1M468.8 522.1h2M113.5 530.9h2M391 565.9h1M512.1 590.9h2M668.7 625.9h1.5M205.7 525.4h2M138.4 604.6h2M87.4 530.2h1M282 614.4h2M179.5 584.3h1M401.1 535.7h2M140.8 573.4h1M102.2 581.5h1M384.7 571.1h1.5M313.4 541.1h1M579 619.1h1M587.2 529.6h1M180.4 546.6h1M564.7 636.3h1M75.2 518.5h2M37.9 511.3h1M547.7 530.1h1M393.7 515.3h1.5M378.1 625.8h1M128 598.2h1.5M107.6 570.2h1M356.5 557.1h1M342.7 523.8h2M514.4 545.2h2M270.2 530.6h1M502.9 547.4h1M165.5 522.5h1.5M49 607.3h1M339.8 530h1M172.7 569.5h2M95.6 562.9h1M664.2 607.2h1M63.8 521.2h1M296.9 557.4h1.5M163.9 593.1h1M125.9 535.6h1M284.4 602.7h2M405.2 576.4h1.5M68 589.3h1.5M316.1 621.9h2M327 578.1h2M277.6 550.9h2M612.8 624h2M179.4 626.9h1.5M635.3 638.3h1M183 616.7h1.5M569.6 640.9h2M589.5 619.7h1M543.6 570.5h2M71.2 627.6h1.5M142.5 554.1h1M170.6 636.3h1.5M223.7 576.3h1.5M62.9 580.9h2M535.7 553.9h2M120.3 528.8h1M190.3 595.8h1.5M510.4 639.5h1M372.5 591.2h2M193.8 590h2M198.5 616.6h1M76.1 588.8h1M486.4 565.5h1M197.1 511.4h1.5M102 535.9h1M235.8 537.8h1.5M124.2 616.9h2M169 551h1M188.4 603.7h1M460.5 637.5h1M251.6 550.7h1.5M632.7 578.2h1M77.1 534.4h2M110.3 617.6h1M167.5 543.6h1.5M286.7 594.2h1M425.3 598.4h2M93.5 595h2M81.8 614.9h1M40.1 542.8h1M220.1 568.5h2M580.5 582.4h1M113.4 568h1M350.6 611.2h1M198.2 548.1h1M656.5 617.9h2M185.3 615h1M47.3 616.3h1.5M609.3 631.4h2M183.7 630.9h1M235.6 565h1.5M612.1 511.6h1.5M637.3 505.8h1.5M176.4 632.7h1M205.7 619.3h1M171.2 509.5h1.5M227 627.9h2M474.8 628.9h1M675.9 525.9h1M56.3 549.1h2M483.2 545.3h1M51.2 563.2h1M192 635h2M223.1 582h2M92.4 521.3h1.5M212.5 526.2h1M133.3 623.3h2M455.9 549.3h1M662.4 592.1h1M463.7 577.1h1.5M615.2 598.6h1M562.7 623.8h2M201.2 607.8h1M358.2 536.3h1.5M663.4 581.8h2M311.4 517.8h1.5M588.1 541h1.5M547.6 510.7h2M67.6 612.7h2M494.4 605.5h2M181.1 528.4h1.5M178.9 548h1M505.2 612.4h2M656.7 616.6h1M625.6 544h2M239.5 520.2h2M222.1 635.1h1M113.3 587.2h1M485.8 555.3h1M669.4 602.7h1M615.2 554.2h1M259.9 616.7h2M37.7 585.4h2M178.3 605h1M378 562.4h2M615 601.9h1M145.2 576.2h1M369.3 500.1h1.5M76.3 571.2h1M159.4 566.9h1M176.3 546.2h2M75.6 527.5h1M349.1 601.4h1M373.8 580.2h1.5M473.2 518.4h1M428.2 562.9h2M188.2 587.8h1M624.6 634.5h1M110.9 576.7h1M110.8 605.9h2M98.2 624.8h2M524.1 527.9h2M197.3 546.4h1.5M143.3 633.1h1.5M295.7 639.5h1M285.4 499.5h2M137.7 610.6h1M163.8 612.8h1.5M38.7 637.1h1M533.2 547.9h1.5M376.6 565.5h2M138.5 583.5h1M362.7 556.2h2M50.2 640.8h1.5M207.6 562.2h1M427.8 547.7h2M552.1 569.4h1.5M574.9 617.6h1M430.5 507.4h1M174.5 554.2h1M584.9 589.7h2M218.5 543.2h1.5M340.1 640h1M121.9 624.5h1.5M78.8 633.3h1M545.5 511h2M296.5 582.2h2M594 535.9h2M38.6 576.4h2M55.6 531.7h1.5M358.1 512.7h1.5M236.7 616.5h2M623 531.2h1M670.8 568.5h2M486.2 557.8h1M610.9 539.2h1.5M76.6 618h1.5M112.3 642.5h1.5M154.9 553.2h2M48.6 528.5h1.5M658.5 503.8h1.5M387.9 596.5h1M229.4 507.4h2M184.9 539.8h1M99.5 542.9h2M215.1 625.3h1.5M489.3 561.7h1M622.3 510.7h1M369.4 524.4h1M482.6 628.9h1.5M372.8 630.9h1.5M361.4 530.9h2M229.4 634.2h1M189.1 637.3h1.5M190 602.5h2M211.4 596.6h1.5M241.6 523.4h1.5M100.5 614.8h1M271.6 565.2h2M113.6 611.6h1.5M136.2 517.2h1.5M77.1 528.4h1M622.6 549.1h1.5M599.1 591.7h1M423.3 604.9h1.5M37.6 633h1M349.6 617.5h2M589.6 546.3h1.5M261.4 525.1h2M588.9 580.8h2M92.3 592.8h1M533.8 571.8h1.5M156.1 633.7h2M447.5 522h1.5M68 642h1M388.8 565.8h1.5M108.4 525h2M415.5 576.3h1.5M450.1 567.6h1M93 594h1M283 507h1M194.8 537h2M239 535h1M104.8 534.6h1.5M594.9 563.6h1M659.6 530.8h2M277.9 567.4h1M184.2 519.3h1.5M216.3 585.7h1M63.3 553h1M186.6 536.2h1M87.3 639.9h1M89.3 586.7h1M590.1 622.6h1.5M48 607.7h2M180.1 510.9h1M44.1 610.8h2M41.9 587.8h1M142.6 499.3h2M593.2 570.1h1M505.7 579.5h2M205.1 571.7h1" stroke="#1a6c00" stroke-width="1"/>
<path d="M413 542.1h1M365.4 537.5h2M319.5 505.7h1M670.3 605.6h1.5M347 506.5h2M518.1 589.6h2M173.2 615.5h2M659.1 524.4h1M340.7 557.3h1.5M244.4 520.9h1M329.3 589h2M410.2 541h1.5M532.3 594.4h2M189.1 577.7h1.5M123.8 577.2h1M436.5 545.7h1M324.8 552.9h2M543.5 521.4h1M126.1 558.4h1.5M555.2 631.1h2M201.2 630.2h2M430 606.5h1M124 642h2M252 626.1h1.5M94.8 566.3h2M631.1 539.4h1M195.2 541.2h1M289 621.1h1M216.3 557.3h1M666.6 641.9h2M664.5 569.2h2M519.2 628.1h1.5M41.2 534.2h1M545.6 634.3h1M129.9 580.5h1M206.2 627.8h2M35.4 589.4h1.5M53.4 538.1h1M85.9 549.9h1M562.3 559.5h1M324.6 613.7h2M54.6 578.4h1M557.5 552.6h2M606.2 642.2h2M112 639h1M642.9 535.3h1.5M50.3 536.7h2M110.8 588.4h1M67.5 599h1M146.9 556.7h2M206.4 563h1.5M635.8 534h1.5M508.3 607.1h1M278.6 627.7h1M79.7 556.8h1M567.9 606.9h2M355.8 503h1.5M567 522.3h1.5M548.8 614.8h1.5M478.6 582.3h1M145.6 630.2h2M207.9 560.5h1M435 612.7h1M200 594.1h1M82.1 640.8h1M435.3 635.5h1.5M307.7 643.1h1M345.7 631.3h2M165.5 577.7h1.5M252.3 610.3h1M355.6 637.7h1.5M579.9 534h1M354.1 549.2h2M402.8 540.5h1.5M591.5 589.5h1.5M665.5 558.5h2M124.6 582.4h2M618.3 540.9h1M224.7 533.1h1.5M503.3 638.2h1.5M441.8 531.5h1M642.3 523h1.5M106.9 549.5h1M438.8 568.1h1M107.4 585h2M223.4 584.5h1M100.7 563.4h1M576.2 583.2h1M192.2 545h1.5M511.6 601.7h1M71.6 581.9h1M656.3 592.3h1M144.6 604.8h1.5M237.6 577.3h2M94.6 629.9h1M550.4 517.3h1M299.9 600.3h2M478.4 521h1M196.6 531.9h1M209 553.2h2M226.5 593.3h2M62.6 535.4h1.5M404.1 583.2h1M276.5 585.8h1.5M236.4 587.1h1.5M462.7 629h1M99.8 573.8h1.5M419.9 551h2M543.3 632h2M256.1 501.6h1M254.7 566.5h1M414.6 572.3h1M113.9 521.5h2M302.9 525.4h1M541.2 624.7h1M147.3 613.7h1.5M448.3 589.3h2M220.1 639.6h2M502.2 595.5h1.5M531.3 599.1h1M334 613.8h1M560.9 537.3h1M177.3 587.1h1.5M533.7 515.7h1M41.4 575.2h2M75.7 568.9h1.5M619.5 507.1h1.5M169.4 531.8h1.5M146.2 563.5h1M293.9 617.4h1M488.4 594.1h1M362.8 509.9h1M189.8 527.2h1M211.7 555h1M143.2 589.7h1.5M180.1 568.6h2M429.4 623.7h1.5M458.4 629.3h1.5M157.3 601.3h1.5M104.1 577h1M630.7 499.1h1M226.4 597.4h1M199.9 538.6h1.5M598.5 575.3h1.5M656 578.7h2M99.7 539.1h1M128.8 560.8h1.5M201.1 551.7h1M460 540.6h1M394.3 638.6h1M401.9 588.7h1M414.4 543.1h2M512.6 545.3h1M164.8 533.4h2M69.4 545.6h1M656.1 538.8h1M495 586.8h1M164.2 523.3h1M129.2 559.1h1M121.5 624.6h1M616 624.7h1M233.2 623.1h2M586.6 608.7h1M108.3 630.1h2M313.4 557.3h2M148.3 629.5h1M36.4 551.7h2M263.2 532.9h1.5M40.1 562.1h2M332.2 585.2h1M189.3 540.3h1M200.2 547.8h1.5M101.5 566.1h2M98.7 632.7h1.5M360.3 630.6h1.5M530.4 606.3h1M181.4 529.5h1.5M539.2 640.9h1.5M79.4 611.4h1.5M167.4 536.6h1M245.2 598.7h1M563.8 565.8h1M303.2 564.9h1.5M162.7 507.6h1M68.8 595.9h1M517.9 580.6h1M527.3 537.4h1M254.9 629.8h2M433.1 521.6h1.5M551.8 588.6h1M38 500.2h1M276 557.4h1.5M174.2 630.4h1M207.8 576.1h1.5M195.5 570.1h2M152.4 508.3h1M58.9 565.6h1M101.4 535.5h1.5M163.4 534.4h1.5M526.6 570.5h2M71.9 511.5h1M460.7 600.8h2M144.2 637.2h1M318.5 618.6h1M362.5 643h2M224.3 536.2h2M436.7 501.5h2M371.1 637.6h1M425.2 578.4h1M317.6 553.7h1M587.2 536.9h1M392 509.1h1M411.8 521.5h2M670.8 521.2h1M249.6 586.8h1M393.2 640.8h2M207.2 535.4h1M626.7 579.8h2M318.2 612.5h1M539.1 594.8h2M400.1 496.6h1M316.2 633.5h1M173.9 615.4h1.5M657.8 539.5h1.5M504.4 629.1h1M537.1 619.9h1M64.3 564.2h1.5M56.7 563h2M279.3 565.4h2M602.6 632h1M484.6 593.9h1M109.1 573.4h1M638.6 592.5h1.5M371.2 535.5h2M463.6 554.9h1M652 636.4h1M641.7 588.2h1M514.6 592.3h1M59.2 623h2M664.7 553.6h1M670.7 640.5h1M540.7 636.9h2M451.9 633.2h1.5M633.3 628.4h1M158 556.3h1M154.9 632.6h1.5M111.5 611.4h1.5M214.9 529.5h1M538.9 552.2h1M59.2 566.9h1.5M323.8 599.6h1M61.5 527.4h1.5M374.2 552.9h1M669.2 613.3h1M428.2 616.4h2M558.4 536h2M376.6 593h1M283.2 608.6h2M199.8 560.4h1.5M212.6 541.2h1.5M216.5 565.9h1M148.8 597.9h1M131.3 601.3h2M645.7 575.1h1M46.7 610.8h2M233.6 625.4h1.5M353.8 526.9h1.5M601.2 614.6h1.5M545.8 621.6h2M166.8 501.6h1M410.1 500.1h1.5M67.7 642.4h1M184.7 563.7h1M417.3 612.8h1.5M74.2 576h1M67.5 529.7h1M425 632.8h1M42 634.8h2M494.4 558.1h1.5M70.2 553.4h1M617 567.8h1M41.1 573.4h1M229.6 633.4h1M540.1 535.1h1.5M537.1 580.6h1M443 535.5h1.5M588.9 551.6h1M256.9 602.1h1M280.9 555.6h2M633.4 537.5h2M109.8 642.6h2M382.9 601.1h1M253.7 566.9h1M405.3 583.1h1M397.1 602.7h1M93.1 522.7h2M573.7 603.2h1M55.1 626.2h1M52.9 611h2M58.5 565.1h1.5M137.8 547.3h2M89.1 538h1.5M274.2 578.5h1M499.7 582.3h2M463.4 619.8h1.5M627.8 608.1h1.5M451.7 543.9h1M89.1 629.3h1M625.1 637h2M92.9 562.1h1M139.4 594h1.5M106.6 571.3h1.5M566.6 572h1.5M35.8 555.4h2M419 544.8h1.5M172.7 573.1h1.5M660.5 535.6h1M639 527.7h1M75.6 629.1h1M168.4 532h1M661.6 633.4h2M568.1 639.4h1M262.6 518.7h1M188.3 581.8h1.5M119.8 590.2h1.5M584.3 610.8h1M262.5 537.7h1M208.3 625.3h1M488 584.7h1M53.3 545.2h1M51.1 547.4h1M188.7 615.7h1.5M656.1 524.3h1M139.7 563.3h1.5M125.3 551.3h1.5M37.4 568.9h2M571 571.7h1M491.7 532.6h1M292.2 532.6h2M296.5 604.3h1.5M654.9 628.2h1M648 545.9h2M503.5 500.1h1M521 599h2M40.7 542.1h1M146.6 587.3h1.5M103.7 528.4h1.5M80.9 556.1h2M432.8 501.7h1M39.1 583.2h1M103 622.7h1.5" stroke="#2a9c00" stroke-width="1"/>
<path d="M482.7 586.3h1.5M313.6 536h1.5M631.6 579.5h1.5M318.1 615.1h1M477.3 575.4h1M199.1 607.1h1.5M90.9 588.1h2M471.6 620.8h1M43 592.9h1.5M623 520.8h2M528 513.7h1.5M556.4 593.9h1.5M427.3 623.5h1.5M546.8 610.3h1M117 609h1M410.4 635.8h1M594.6 639.1h2M503.8 614.2h2M150.7 624.3h1M142.6 572.1h2M67.9 568.5h2M506.9 581.5h2M69.3 529.3h1M447.1 575.6h1M495.3 507.9h1M158.8 593.5h2M69.7 532.3h1.5M165.8 566.2h2M190.6 580.6h1M143.9 617.1h1M461.5 580h1M182.1 602.1h2M134.3 526.6h1M527.5 612.6h1M168.4 605.6h1.5M89.6 607.9h1.5M69 620.6h1M50.3 531.8h2M622.1 577.9h1M604.9 528h1M75.2 576.7h1.5M73.1 531h1M240.7 536.1h2M63.9 625.4h1" stroke="#7a6a00" stroke-width="1"/>
<path d="M66.8 574.5h1.5M263.2 559.8h1M363.3 555.3h1M54.6 551.7h1M431.5 555.6h1M190.6 513.8h1.5M107.5 629.5h1M185.7 529.8h1M573.3 545.5h1M608.2 626h1.5M358.1 576.9h2M355.3 518.3h1M251.6 528.2h1M59 499.8h1M329.4 570.6h1M71.9 632.6h1M175.7 615.8h1M322.7 548.2h1M412.9 507.6h2M570.5 561h2M288.5 624.6h1M423.5 637.5h1M71.2 570.7h1M133.1 627.8h1.5M105.9 633.9h1.5M176.2 592.4h1.5M237.7 615.8h1M376.7 615.1h1.5M464.8 577.1h1M387.4 528.1h1M188.4 592.3h1M304.4 589.4h1.5M543.7 526.2h1M47.7 607h1M651.9 558.1h1.5M219.4 568.1h1M154.4 606.6h1M95.7 618.8h1.5M568.9 580.9h1M594.1 628.1h2M196.3 571.8h1.5M647.4 567.9h2M468.9 562h1.5M79.4 526.8h2M496.8 519.7h1.5M517.5 625.7h2M510.6 521.1h1M477.7 582.8h1.5M618.6 588.8h2M175.9 534.3h1.5M621 578.1h1M345.6 615.2h1.5M284.3 588.7h1.5M349.2 572.9h1M447.5 542.4h1.5M63.7 612.6h1M566.8 617.5h2M124.4 637.3h1.5M447.5 617.2h1M628.3 593h2M241.6 628.4h1M507.3 509.4h2M259.8 531.9h1.5M355.8 570.6h1M481.1 602.2h1M639.4 557.6h1.5M165.7 563.9h1.5M190.8 499h1.5M229.4 554.1h1M345.7 539.9h1.5M197 578h1M306.4 525.7h1M437.4 599.3h1M61.2 609.5h1M154.7 597.3h1M274.9 555h1.5M212.3 600.3h1M199.2 589.3h2M361.7 591.7h2M541.4 509.7h1" stroke="#44d000" stroke-width="1"/>
<path d="M41.5 622.6v2.7M38.8 624.4v1.8M41.3 624.7v3.1M34.2 624.5v1.7M51 624.1v2.7M38.3 618.7v1.8M37.8 617.3v2.4M41.5 621.4v1.8M50.8 621.7v3.7M41.6 617.6v3.2M39.4 624.3v3.7M42.4 621.2v3.9M41 620.4v2.8M45 617.4v1.6M44.9 617.9v3.8M47.5 620v3.9M45.5 617.6v3.4M42.5 623.4v1.6M51.7 618.1v2.8M46.9 621.4v3.8M67.9 614.8v3.8M87.1 622.8v2.5M78.1 617v3M80.6 617.7v1.5M63.8 622.8v3.4M68.5 621.8v3.4M81 615.6v2.6M65.6 622.9v3.4M58 616v2M61.1 621.3v2.2M60.9 617.8v2.5M68.2 621.7v2.6M69.8 619v2.2M89.2 619.4v1.9M87.1 622v3.5M59.4 621.9v2.6M76.5 614.5v2.5M63.8 621.5v2.4M82.4 616.8v2.5M61.8 621.9v3.6M89.9 615.7v2.8M56 619.5v3.9M81.7 620.2v2.4M56.3 618.9v2.9M85.4 614.4v3.6M88.5 622.4v2.6M88.2 618.6v2.6M57.7 621.9v3.5M74.6 622.4v2.4M83.8 615.1v2.3M84.6 614.7v2.2M86.2 615.6v4M57.6 620.2v1.7M61.4 609.5v4M60.3 612.9v2.6M69.6 612.1v1.5M70 610.5v3.7M56.7 614.3v2M67.8 615.6v2M60.4 608.4v3.5M132.8 609.7v3.6M92.9 603.6v3.5M92.5 607.6v2.6M94.7 610.2v2.4M110.7 608.3v3.8M121 611v2.3M98.4 602.3v3M114.1 611.9v2.2M110.3 608.9v1.7M106.4 600.1v3M94.6 609.8v2.9M94.5 608.7v2.3M131.1 609.4v3.4M98.6 602.8v2.2M119 606.2v3.1M98.8 605.6v2.6M114.8 609.2v2.4M99.1 603.9v1.9M90.9 609.4v2.4M92.2 600.7v2M96.5 601.3v2M133.8 600.1v1.8M109.3 609.8v1.9M101.7 607.5v3.1M108.8 596.8v3.1M110.4 596v2.8M111.3 601.4v1.6M109 606.3v4M115.9 600.8v1.8M113.1 597.1v1.8M194.3 598.7v2.9M187.7 591.2v3.2M180.4 592.9v3.1M200.2 593.5v3.8M180.9 598.9v3.9M183 595.7v3.5M187.4 599.7v2.9M180.9 591.2v2.9M197.7 591.7v3.7M199 591.4v2.2M198.4 591.8v3.7M195.9 597.1v2.1M201.3 589.8v3.7M194.2 594v2.9M186.3 597.1v3.7M186.6 588.9v1.5M191.6 597.2v1.9M194 591.3v2.1M186.2 595.8v2.9M166.3 609.4v2.6M163.6 609.1v3.8M389.4 545v2.3M386.1 532.7v3.5M389.8 539.6v2.8M395.6 532.6v3.8M390 537.9v2.3M397.3 546.3v3.3M392.7 533.4v2.8M391.6 535.2v2.8M384.8 547.3v3.6M396.7 543.4v2M397.4 541.1v3.2M394.6 533.6v2.8M391 542.9v1.9M386 541.4v3.7M393.8 527.2v3.1M387.3 527.2v3.3M398.4 543.2v2.2M392.4 528.3v2.7M399.3 545.1v3.7M398.4 546.6v3M388.8 531v3.1M395.7 549.2v2.9M391.4 537.2v2.6M391.4 543.9v3.1M389.6 526.7v2.6M390.5 539v2.5M395.9 535.3v2.8M395.3 547.4v2M387.7 526.1v3.5M395.9 559.1v3.6M392.3 549.8v2.9M396.8 571.4v2.5M393.7 548.8v1.6M398.6 572v3.5M388.8 557.5v2.5M389 572v2.7M392.4 562.2v3.3M402.1 558.7v1.5M394.5 550.2v3.4M388.8 565.1v3M393.3 549.6v2.1M386.8 563v3.6M396.1 563.2v2.7M381.8 558.1v3.5M385.4 568.7v3.3M395 558.8v2.7M400.6 559.8v3.8M390.6 548v1.7M402.9 571.2v2.9M401.9 553.1v3.8M398.9 566.8v1.6M389.7 550v1.8M391 560.5v2.6M402.6 557.8v2.1M381.9 555.9v3.4M398.5 566.4v2.6M394.5 567v2.8M402.4 557.7v2.5M398 552.4v2.6M388.8 561.9v2.2M394.8 555.9v3M403.3 560.9v3.8M381.8 569.7v1.7M402.6 564v1.8M369.1 593.3v1.6M377.5 593.8v3.5M369.6 595.7v1.7M361.9 593.8v3.1M367.9 590.5v3.2M371.3 599.7v2.1M361.6 594.2v2.7M378.2 590v3.8M370.9 588.5v2.9M367.2 590.2v2.7M364.4 590v2.1M370.9 597.1v3.9M366.6 598.1v2M360.8 596.9v1.7M376.3 597.7v3.6M368.7 598v3M378.2 588.5v2.3M367.1 598.4v1.9M517.5 600v2.5M516.6 590.6v2.1M508.5 577.8v1.6M514.7 605v3.2M517.6 599.5v2M515.5 605.8v3.7M518.7 602.6v2.3M510.9 581.2v3.6M515.9 591.9v3.4M509.8 594.6v2.5M510.3 595.2v1.6M515.7 599v3.5M512.5 603.5v2.1M516.1 607v3.5M513.7 577.5v3.1M519.1 579.7v2.8M512.6 583.5v2.7M516.8 601.1v2M512.9 588.8v3.5M518.1 579.9v3.5M516.3 590.9v2.2M513.8 575.2v1.7M544.1 589.5v3.8M535.5 596.1v2.4M540.3 588.3v2.5M540.4 590.2v2M544.7 599.2v3.3M544.6 599.5v3.4M538.1 596.4v1.9M543.6 600.6v3.1M541.7 595.8v1.8M543.2 588v2.3M537 604.2v2M571.5 585.3v3.1M564 599.4v1.7M572.1 591.9v2.6M566.5 591.5v2.4M568.2 604.9v3.6M571 605.8v2.2M566.4 606.9v3.5M564.1 608.5v2.9M564.2 595.4v1.8M563.8 603.8v2.5M574.9 603.8v3.3M567.3 607v2.9M568.1 589.7v1.9M573.4 596.8v3.9M568.1 605.7v1.7M569.1 598.5v3.3M565.6 602.9v4M564.3 597.7v2.2M574.1 597.7v2.8M620.6 608.3v1.8M620.4 612.1v3.6M622 603.1v3.8M618 606.2v3.3M612.4 608.9v4M635.4 515.9v3.1M643.1 538.2v2.7M639.8 532v3.7M636 522.2v2.5M637.9 508.4v2.2M638.2 555.8v3.3M639.6 532.9v3.7M641.5 561.2v3.3M636 514.1v2.7M636.2 560.7v2.3M641.9 564.7v3.3M639.3 538.8v2.9M636.3 566.6v2.5M641 504.2v2.4M635.3 529.4v2.6M635.3 532.8v3.9M635.1 518v3.5M639.2 597.4v2.6M638.7 580.9v1.9M41.8 517.7v3.8M42.8 526.5v2.9M37 528.5v3.9M40.6 523.7v1.7M42.1 498v1.7M40.2 518.2v2.4M42 501.6v2.9M41.2 532.6v2.8M39.7 546.3v3.7M38.5 553.4v3.4M39 501.1v3.8M37.3 538.2v1.6M453.9 595.2v2M462.8 595v3.1M440.4 586.7v3.3M455.6 596.5v3.3M451.5 592.5v2.2M461.4 593.6v3.8M446.1 589v2.4M446 589.2v1.6M455.2 594.8v2.3M469.6 597v3.9M465.7 588.6v3M448.8 595.7v2.8M466 587.9v2.4M455 591.4v1.7M450.7 587.3v3.3M438.5 597.6v2" stroke="#1f8f00" stroke-width="1.1"/>
<path d="M34.9 624.1v3.8M48.2 623.4v1.9M45.9 619.4v3.2M53.9 624.7v1.7M43.7 620.4v2.1M35.3 623.6v2.7M55.9 623v1.6M42 618.5v1.8M39.6 618.6v2.5M55.6 624v3.6M40 624.9v1.9M51.3 624.8v2.1M52.4 617.1v2.7M37.8 624.2v2.1M39.1 619.9v3.3M50.1 624.4v3.3M82.6 618.3v4M71.7 616.5v2.2M74.4 614.1v3.5M89 616.6v2.8M82.1 618v1.9M66 622.1v3.4M56.9 616.5v2.7M85.4 615.9v2.7M83.7 621.3v2.7M71.5 615.7v3.1M56.5 614.5v2.7M66.1 618.3v2.2M71.6 615.5v2.1M72.6 622.6v2.8M85.7 618.3v3.5M75.6 621.3v1.7M56.2 622.2v2.2M86.3 617.6v4M67.5 618v3.4M59.2 616v3.7M83.3 615.7v2.4M84.4 619v2.1M69.5 617.1v3.5M79.5 621.1v2.1M82.9 616.1v2M86.1 618.1v1.6M88 617.2v3.9M63.7 620.5v3.1M67.3 619.6v3.4M60.5 609.1v2.4M70 614.8v3.6M65.2 615.2v3.5M60.1 615.4v2.8M59.1 606.6v2.8M69.1 615.3v3.3M107.3 611.2v2.8M128.6 610v2.5M119.7 601.4v2.2M118.4 606.3v2.5M105.4 601.7v2.4M118.1 603.5v1.9M100.3 609.3v1.6M91 610.4v2.5M115.4 602.7v2.5M122.2 610.1v2.7M119.3 609.3v3.9M124.8 601.4v3.8M89.1 600.1v1.7M107.5 603.5v1.7M88.9 610.8v3.4M98.8 607.4v3.1M131.7 606.7v2.8M121.8 611.3v3.6M92 607.8v2.4M131.3 608.3v2.3M101.7 603.2v4M89.1 605v2.1M132.5 600.9v2.4M127 607.4v3.7M97.7 607.7v2.5M127.3 604.3v2.4M112.1 602.7v2.8M109.1 602.8v4M113.4 598v2.4M114.5 597.2v2.9M113.1 597v2.8M109.7 598v1.8M198.1 599.8v2.4M193.4 592.6v2.8M197.1 594v2.8M201.3 590.8v2.3M196.7 595.1v3.5M185.1 596.1v2.1M182.8 597.3v3.6M185.8 599.5v3.8M192.7 591.2v3.1M197.4 594.2v3.9M201.3 598.4v2.2M194.8 595.4v3.2M195.3 590.7v1.7M193.9 597v3.3M187.9 593.7v2.4M202.7 591.5v1.5M200.7 598.6v3.5M165.8 603.3v1.8M163.9 605.6v3M163.1 610.3v2.8M166.4 609.1v3M164.6 612.3v2.2M163.1 610v3.6M165.6 610.9v3.7M396.4 527v2.3M394.4 534.6v1.8M397.4 543.6v2.3M398.2 539.4v2.4M398.5 545.2v3.3M395.9 549v2.9M390.1 545.4v4M392.1 543.1v3.2M399 527.2v2.9M387.9 526.8v3.9M387.6 531.8v3.3M384.1 532.8v2M386.4 546.6v2.6M392.6 542.1v2.7M391.4 528.7v1.9M390.2 536.4v1.9M388.5 529.4v2.4M386.3 536.8v3.6M391.4 535.9v3M396 537.6v2.1M387.8 537.5v1.7M396.3 548v3.8M385 544.1v4M398.8 541v2.7M391.2 527v2.5M387.9 547.4v3.1M384.5 529v2.3M392.1 540.4v3.1M394 528.6v3.5M389.3 537.3v1.5M386.3 540.6v2.4M392 553.4v1.8M390.9 565.9v2M397.6 553.3v2.6M393.2 567.4v3M393.1 547.8v2.4M396.1 546.6v3.1M397.8 553v2.5M387.4 560.5v4M395.6 557.2v3.9M395.2 563.5v2.5M387.5 559.2v3.7M396.7 562.7v2.1M395.6 558.9v2.2M393.6 555v3.7M393.4 557.4v2.8M398.2 545.9v2.3M389.6 557.8v2.9M388.8 567.6v2.1M392.7 558.3v3.2M391.5 562.2v3M394 560.6v1.6M390.5 565.9v3.8M387.9 567v3.5M397 551.1v2.2M390.8 545.5v3.8M389.4 547v3.8M395 558.3v3.4M384.4 569.4v3M401.9 554.8v2.5M384.4 566.3v2.8M402.7 566v2.3M380.1 564.6v2.9M384.2 549v1.6M386.7 570.5v2.5M396.8 554.3v2.1M383.9 567.3v3.2M386.5 563.2v3.8M402 571.3v3.3M392.1 552.2v3.6M395.9 569.8v2.6M394.2 553.6v2.9M399.7 564.2v3.8M393.4 562.9v2.9M382.9 560.6v2.5M393.4 554v3.1M385.7 556.3v2.2M382.6 548.2v2.1M401 567v3.9M391.7 574.8v1.6M387.8 569.3v1.7M382.5 552.9v2.7M393.1 569.6v1.7M381.6 560.6v1.7M401.1 571.4v2.1M399.4 557.7v3.4M402.9 553.5v3.8M384 571.3v2M399.2 572.2v3.9M377.2 588.7v3M365.8 590.3v2M379.1 594.6v2.4M372.8 596.9v1.9M372.2 593.2v1.7M377.8 594.9v3.6M377.6 598.1v3.1M366.2 598.5v1.7M373.3 599.2v3.3M510.5 606.9v3.7M510.2 589.7v3.8M513.5 593v1.7M519.3 604.6v3.7M519.6 583v1.6M508.6 575.8v2M513.4 584.2v2.9M517.9 577.5v2M515 595.5v2.4M512.9 577.1v2.6M512.3 588.2v1.7M511 604.5v3.4M515.3 590.1v4M515.3 603.1v3.5M515.3 583.6v1.8M512.9 601v2.7M513.1 582.6v2.4M539.1 602.5v1.9M545 587.8v3.6M544.5 597.2v4M544.2 592.5v3.8M537.1 602.9v1.5M538.4 589.3v3.8M543.3 605.8v3.2M543.7 596v1.8M536.4 605.7v3.8M537.7 588.8v3.2M537.9 604.5v2.1M566 602.1v2.3M568 585.3v2.9M566.6 600.9v3.1M569 589.1v3.7M563.8 591.5v3.9M572.6 599.5v3.8M564.4 586.1v2.7M572.8 585.2v3.5M565.3 588.8v2.7M567.8 607.1v2.3M570.4 610.8v1.9M570.6 597.7v2.1M570.8 594v1.7M567.9 587.9v3.9M567.7 600.9v3.3M566 585v2.2M574.8 610v3M563.4 609.6v2.1M573.5 602.2v2.1M565.3 590.3v3.7M567.9 597.8v3.9M567.7 596.6v1.6M568.2 607.9v1.7M569.8 605.4v2M568.6 588.4v2M621 604.4v3.7M613.1 605.7v2.2M619.4 602.7v3.1M613.8 603.2v2.3M619.7 604.5v1.8M614.4 605.2v3.3M621.4 606.6v3M613.4 609.2v3.7M638.7 500.5v2.5M643.2 515.3v3.3M635.6 562.6v3.6M638.8 509.7v3.7M640.5 500.9v2.8M635.2 547.1v3.5M635.5 563.8v2.9M642.8 528.5v3.4M641.1 523.9v3.1M643.5 500.8v2.3M636.9 516.7v4M636 538v2.7M642.7 550.2v3.3M637 540.4v2.7M637.5 548.1v1.6M636.5 531.9v1.8M636.6 526.7v3M641.2 517.5v3M636.2 540.3v2.1M640 539.6v1.6M643.9 506v1.6M641.8 517.7v3M635.7 557.6v1.7M640.9 507.4v2.1M643.8 533.4v3.7M636.7 514.9v3.6M638.9 500.8v1.7M636.9 578v4M638.6 572.1v3.4M639 575.3v2.7M637.1 575v3.7M641 575.4v3M38.7 517.9v2.7M40.2 540.9v2.2M42.2 535.9v2.7M38.4 553.5v1.9M40.5 539.2v3.1M40 528.6v3.1M441.1 591.2v2.2M450.7 590.6v3.5M453.9 585.3v2.8M454.6 591.5v3.4M454.1 587.9v3.8M438.2 588.3v2.2M455.5 592.1v3.8M450.7 586.5v3.1M442.2 591.9v2.6M443.4 590v2.9M443.2 595.9v2.9" stroke="#3fd400" stroke-width="1.1"/>
<path d="M46.4 619.1v3.6M44 624.3v3M52.5 621.1v3.5M39.9 617.5v2.6M75.9 614.9v1.6M68.3 619.4v3.2M82.9 620.9v1.5M69.1 616.1v1.9M57.2 616.7v2M62.8 615v1.8M87.1 616.4v3.8M57.5 616.6v3.6M109.7 607.4v2.7M128.2 601.7v2.6M97.8 607.1v2.5M96 603.5v3.3M108.4 598.4v1.7M186.2 594.7v2.8M200.8 598.8v2.9M165.5 601.8v3.5M164.7 612.7v2.7M384.9 536.8v3.8M389 528.9v2.3M388.5 535.2v2M397.3 535.2v3.2M396.1 532.6v1.7M386.6 540.7v2.7M394.5 534.2v3.5M390 534.3v1.8M386.3 535.8v2.4M396 569.2v2.5M402.9 549.9v1.6M380.2 574v3.7M394.5 569.6v3.2M395.8 553.5v1.8M403 566.8v3.7M381.9 552.1v1.6M361.7 588.6v3.2M369.3 593.2v3.7M378.9 591.7v3.9M364 598.2v2.9M365.1 589.7v1.6M516.2 582.9v2.9M517.6 577.9v2.6M513.3 585.8v1.9M517.2 604.2v2.1M510 580.4v3.6M537.2 596.5v3.3M568 599.8v2.9M568.5 589.3v1.8M567.7 603.3v1.5M573.6 603.6v2.6M622.4 607.8v1.9M616.7 609v3.7M619.5 611.5v3.5M640.7 511.5v3.7M636.8 543.2v3M636.5 558.9v2.8M640.3 500.3v3.5M469.4 590.6v3.7M442.3 591.6v1.9M448.2 587v3.5M452.1 595.4v2.5M465.1 589v1.8" stroke="#b4c800" stroke-width="1.1"/>
<path d="M392.6 546.7v2.6M397.8 567.3v3.8M395.4 565.9v3.2M397.3 549.1v3M395.4 565.1v3.6M394.8 545.2v2M387.8 558.2v2.5M394.8 562.6v3.2M391.8 567.3v2.5M389.3 548.5v2.8M388.4 550.5v3.1M396.3 565.4v3.9M389.3 566.7v3.9M395.1 557.5v3M388.7 547v3.2M388.5 553.3v2.9M397.9 548v2.5M397.3 556.4v3.7M393.2 549.3v3.1M393.1 547.8v3.2M398.8 567.4v2.9M396.6 545.2v3.8M388.5 547.6v3.9M390 560v2.4" stroke="#c8d400" stroke-width="1.1"/>
<path d="M391.7 563v1.7M387.8 566.2v3.2M398.5 565v2.5M391.6 561.5v3.8M398.9 564.2v3.6M395.2 559.1v3M390.3 547.6v1.9M389.4 556.2v2.6M392.8 551.2v4M389.7 545.4v4M390.2 554.8v3.3M390.9 550.7v1.5M387.7 553.3v2.1M392.8 557.2v2.8M392.9 548.4v2M387.9 556.5v2.5M398.6 555.5v1.8M397.4 564.2v3.7M387.8 559.4v3.7M393.6 551.8v2.3M389.2 547.7v2M393.1 563.2v3.7M392.1 558.2v1.6M391.8 547.4v1.9M396.8 554.5v3.8M393.4 566.1v4M393.8 550.2v3.1M396.8 552.9v1.8M390.3 567.2v3" stroke="#ff2a00" stroke-width="1.1"/>
<path d="M34.3 647V624.8h1.1V624.4h1.1V621.4h1.1V622.2h1.1V623.5h1.1V624.3h1.1V618.9h1.1V623.1h1.1V624.2h1.1V624.2h1.1V614.2h1.1V620.8h1.1V622.5h1.1V623.6h1.1V624.2h1.1V623.6h1.1V623.4h1.1V623.9h1.1V621.7h1.1V624.4h1.1V623.7h1.1V619.8h1.1V620h1.1V622.4h1.1V605.1h1.1V612.2h1.1V619.4h1.1V616.1h1.1V617.4h1.1V615.4h1.1V623.1h1.1V624.2h1.1V621.8h1.1V623.7h1.1V617.1h1.1V617.9h1.1V618.9h1.1V619.5h1.1V621.1h1.1V622.1h1.1V620.9h1.1V620.3h1.1V622.2h1.1V620.8h1.1V619.3h1.1V622.6h1.1V614.2h1.1V619.6h1.1V621.3h1.1V620.4h1.1V615.8h1.1V614.5h1.1V616.9h1.1V617.1h1.1V614.4h1.1V610.6h1.1V613h1.1V609.9h1.1V612.8h1.1V613h1.1V607.1h1.1V606.8h1.1V611.5h1.1V610.8h1.1V612.4h1.1V611.7h1.1V608.9h1.1V606.9h1.1V604.8h1.1V599.6h1.1V603.6h1.1V606.4h1.1V607.7h1.1V608h1.1V598.4h1.1V605h1.1V608.5h1.1V607.7h1.1V611.2h1.1V610.9h1.1V606.8h1.1V608.9h1.1V611.4h1.1V613.1h1.1V615.8h1.1V614.9h1.1V615.6h1.1V617.3h1.1V616.3h1.1V618.3h1.1V619.6h1.1V619.6h1.1V621.1h1.1V622.4h1.1V613.2h1.1V614h1.1V623h1.1V623.4h1.1V622.1h1.1V616.6h1.1V622.3h1.1V626.3h1.1V623.3h1.1V626.2h1.1V625h1.1V626.1h1.1V618.7h1.1V623.6h1.1V624.7h1.1V623.3h1.1V623.6h1.1V620.3h1.1V621.5h1.1V623.2h1.1V624.5h1.1V625.6h1.1V624h1.1V620.4h1.1V616.3h1.1V619h1.1V627.2h1.1V628.3h1.1V629.4h1.1V627.3h1.1V630.8h1.1V627.2h1.1V626.1h1.1V628.2h1.1V631.4h1.1V625.9h1.1V627.8h1.1V619.4h1.1V617h1.1V615.3h1.1V613.7h1.1V604.5h1.1V606.3h1.1V594.5h1.1V596.2h1.1V602.2h1.1V595.3h1.1V598h1.1V592.8h1.1V589h1.1V599.8h1.1V598.7h1.1V596.8h1.1V597.5h1.1V598.2h1.1V603.1h1.1V604.3h1.1V608h1.1V606h1.1V615h1.1V614.1h1.1V616.6h1.1V614.8h1.1V611.1h1.1V622.1h1.1V626.1h1.1V621.5h1.1V600.2h1.1V605.7h1.1V604.1h1.1V600.7h1.1V603.3h1.1V600.1h1.1V600.7h1.1V599.9h1.1V597.8h1.1V597h1.1V595h1.1V566.6h1.1V554.1h1.1V539.9h1.1V538.5h1.1V533.5h1.1V530.6h1.1V530.6h1.1V528.3h1.1V535.4h1.1V540.7h1.1V541.3h1.1V548.5h1.1V549h1.1V556.6h1.1V559.1h1.1V570.3h1.1V571.5h1.1V586.1h1.1V593.6h1.1V591.2h1.1V575.5h1.1V571.1h1.1V575.8h1.1V574.9h1.1V574.6h1.1V570.8h1.1V567.6h1.1V561.7h1.1V560.3h1.1V556.9h1.1V558.2h1.1V553.9h1.1V550.8h1.1V546.4h1.1V557.3h1.1V546.6h1.1V542.4h1.1V543.6h1.1V540.5h1.1V549.6h1.1V556.8h1.1V564.2h1.1V567.2h1.1V570.7h1.1V572.3h1.1V568.9h1.1V569.2h1.1V571.7h1.1V579h1.1V578.7h1.1V577.2h1.1V580.8h1.1V583.9h1.1V588.6h1.1V588.7h1.1V591.2h1.1V591.5h1.1V598h1.1V588.5h1.1V581.8h1.1V589.1h1.1V585.1h1.1V588.5h1.1V580h1.1V586.3h1.1V587.7h1.1V598.2h1.1V595.1h1.1V600.4h1.1V603.5h1.1V608.6h1.1V606.3h1.1V601.2h1.1V599.8h1.1V594.4h1.1V594.3h1.1V605.2h1.1V607h1.1V604.5h1.1V603.3h1.1V602.7h1.1V609.5h1.1V601h1.1V600.1h1.1V607.3h1.1V610.9h1.1V609h1.1V611.8h1.1V614h1.1V618.9h1.1V616.7h1.1V624.7h1.1V629.4h1.1V632.7h1.1V631.7h1.1V631.2h1.1V624.8h1.1V617.8h1.1V626.1h1.1V630h1.1V631.8h1.1V630.5h1.1V626.5h1.1V628.5h1.1V632.7h1.1V631.6h1.1V621.6h1.1V621.4h1.1V629.1h1.1V626.6h1.1V622h1.1V621.7h1.1V621.6h1.1V618.9h1.1V621.6h1.1V618.5h1.1V618h1.1V619.3h1.1V611.2h1.1V613h1.1V613.2h1.1V614h1.1V605.8h1.1V603.5h1.1V600.9h1.1V599.9h1.1V595.4h1.1V596.3h1.1V599.2h1.1V597.6h1.1V598.2h1.1V600.9h1.1V599h1.1V601.2h1.1V596.5h1.1V599.8h1.1V597.6h1.1V596.9h1.1V596.5h1.1V594.1h1.1V597h1.1V589.2h1.1V586.3h1.1V584.6h1.1V579.4h1.1V574.9h1.1V572h1.1V572.8h1.1V566.3h1.1V559.4h1.1V561.1h1.1V560.9h1.1V555h1.1V556.4h1.1V555.1h1.1V556.6h1.1V555.8h1.1V558.2h1.1V562.7h1.1V562.2h1.1V566.6h1.1V564.3h1.1V571.6h1.1V580.7h1.1V584h1.1V593.3h1.1V602h1.1V609.3h1.1V614.9h1.1V618.5h1.1V622.6h1.1V620.5h1.1V604.8h1.1V603.4h1.1V598.9h1.1V595.6h1.1V598.2h1.1V592.7h1.1V596.4h1.1V596.5h1.1V593.1h1.1V593.8h1.1V597h1.1V596.4h1.1V597.8h1.1V599.3h1.1V604.8h1.1V600.8h1.1V602.1h1.1V601.1h1.1V601.3h1.1V600.6h1.1V597.4h1.1V598.1h1.1V589.5h1.1V587.4h1.1V598.8h1.1V597.6h1.1V596h1.1V598h1.1V591.2h1.1V587.6h1.1V604.1h1.1V604.5h1.1V600.7h1.1V600.9h1.1V595.8h1.1V596.1h1.1V595.3h1.1V592.6h1.1V589.5h1.1V589.5h1.1V582.6h1.1V584h1.1V588.6h1.1V592h1.1V588.8h1.1V587.7h1.1V592h1.1V591.5h1.1V594h1.1V595.1h1.1V597.7h1.1V598.7h1.1V602.3h1.1V603.7h1.1V601.9h1.1V605.1h1.1V610.8h1.1V615.1h1.1V618h1.1V609.6h1.1V607.4h1.1V610.6h1.1V606.6h1.1V610.1h1.1V614.4h1.1V609.5h1.1V610.6h1.1V609.4h1.1V613.3h1.1V613.1h1.1V615.6h1.1V616.3h1.1V615.2h1.1V617.5h1.1V616.3h1.1V612.4h1.1V608.7h1.1V600.6h1.1V601.4h1.1V600.2h1.1V594.4h1.1V597.1h1.1V599.9h1.1V601.6h1.1V596.7h1.1V597.7h1.1V605.3h1.1V606.9h1.1V606.5h1.1V603.9h1.1V605.9h1.1V602.9h1.1V605.4h1.1V599.6h1.1V593.8h1.1V598.5h1.1V596.6h1.1V601.9h1.1V619.8h1.1V620.3h1.1V616.6h1.1V617.4h1.1V612.2h1.1V607.7h1.1V604.2h1.1V605.4h1.1V602.2h1.1V596.6h1.1V603h1.1V605.9h1.1V607.7h1.1V606.4h1.1V611.2h1.1V612.4h1.1V612.1h1.1V613.1h1.1V614.1h1.1V613.3h1.1V605.8h1.1V606.8h1.1V599.8h1.1V606.5h1.1V611.3h1.1V612.9h1.1V614.3h1.1V613.5h1.1V612h1.1V614.3h1.1V616.5h1.1V615.9h1.1V616.2h1.1V617.6h1.1V616.6h1.1V617.3h1.1V616.6h1.1V615h1.1V611.6h1.1V611.1h1.1V607.7h1.1V604.8h1.1V608.4h1.1V608.6h1.1V607.2h1.1V607.8h1.1V607.4h1.1V608h1.1V608.9h1.1V610.8h1.1V607.2h1.1V609.2h1.1V612.5h1.1V612.8h1.1V607h1.1V612.6h1.1V613.2h1.1V613.7h1.1V615.4h1.1V617h1.1V614.4h1.1V619.1h1.1V620.6h1.1V619.7h1.1V618.2h1.1V618.6h1.1V618.8h1.1V619h1.1V619.7h1.1V620.6h1.1V612.6h1.1V612.1h1.1V620.2h1.1V620.8h1.1V618h1.1V619.5h1.1V620.8h1.1V620.6h1.1V620h1.1V620.3h1.1V614.9h1.1V611.9h1.1V616h1.1V616.3h1.1V610.7h1.1V611.3h1.1V611.5h1.1V611.1h1.1V608.9h1.1V612.3h1.1V613.9h1.1V614.4h1.1V613.4h1.1V614.6h1.1V623.1h1.1V624.2h1.1V618.7h1.1V621.8h1.1V612.3h1.1V620.1h1.1V623.4h1.1V627.1h1.1V626.9h1.1V626.2h1.1V628.7h1.1V628.9h1.1V629.7h1.1V627.3h1.1V631.2h1.1V628.9h1.1V625.4h1.1V626.7h1.1V629.3h1.1V629.2h1.1V630.2h1.1V623.8h1.1V626.6h1.1V627.7h1.1V632h1.1V632.2h1.1V627.6h1.1V627.2h1.1V627.9h1.1V627.3h1.1V626.8h1.1V629h1.1V628.4h1.1V627.4h1.1V623h1.1V623.8h1.1V625.9h1.1V626.4h1.1V621.6h1.1V624.5h1.1V626.9h1.1V628h1.1V630.6h1.1V631.4h1.1V627.9h1.1V627.7h1.1V629.1h1.1V630.6h1.1V629.2h1.1V630.7h1.1V624.8h1.1V646.9h-1.1V647.3h-1.1V646h-1.1V647.4h-1.1V646.8h-1.1V646.7h-1.1V646.5h-1.1V646.7h-1.1V647.4h-1.1V646.6h-1.1V646.7h-1.1V646.2h-1.1V647.3h-1.1V646.8h-1.1V646.2h-1.1V646.1h-1.1V646.9h-1.1V646.7h-1.1V647.2h-1.1V646.3h-1.1V646.2h-1.1V646.9h-1.1V647.3h-1.1V646.5h-1.1V646.6h-1.1V647h-1.1V646.4h-1.1V646.8h-1.1V646.5h-1.1V646.7h-1.1V647h-1.1V646.2h-1.1V646.6h-1.1V646.3h-1.1V646.3h-1.1V646.6h-1.1V646.1h-1.1V646.1h-1.1V646.4h-1.1V646.5h-1.1V647.2h-1.1V646.2h-1.1V646.9h-1.1V646.1h-1.1V646.6h-1.1V647h-1.1V647.1h-1.1V646.5h-1.1V646.5h-1.1V646.1h-1.1V646.6h-1.1V646.8h-1.1V647.3h-1.1V647.3h-1.1V647.3h-1.1V646.8h-1.1V646.5h-1.1V646.8h-1.1V646.3h-1.1V647.4h-1.1V647h-1.1V646.2h-1.1V646.4h-1.1V647.3h-1.1V647.1h-1.1V646.4h-1.1V647h-1.1V647.1h-1.1V647.1h-1.1V646.1h-1.1V647.2h-1.1V646.5h-1.1V646h-1.1V647.2h-1.1V646.1h-1.1V646.5h-1.1V646.7h-1.1V646.4h-1.1V646.9h-1.1V647.4h-1.1V646.1h-1.1V646.5h-1.1V646.4h-1.1V646.9h-1.1V646.2h-1.1V646.7h-1.1V646.6h-1.1V646.2h-1.1V646.6h-1.1V646.5h-1.1V646.6h-1.1V646.1h-1.1V646.5h-1.1V646.8h-1.1V647h-1.1V647.3h-1.1V647h-1.1V646.1h-1.1V646.9h-1.1V646.5h-1.1V646.3h-1.1V646.4h-1.1V646.8h-1.1V646.7h-1.1V646.6h-1.1V647.3h-1.1V646.4h-1.1V646.6h-1.1V646.4h-1.1V646.8h-1.1V646.1h-1.1V647h-1.1V646.6h-1.1V647.1h-1.1V646.7h-1.1V646.2h-1.1V645.7h-1.1V646.4h-1.1V645.6h-1.1V646.1h-1.1V647.9h-1.1V646.7h-1.1V648.4h-1.1V648.2h-1.1V649.4h-1.1V649.3h-1.1V646.4h-1.1V647.5h-1.1V649.6h-1.1V648h-1.1V649.3h-1.1V647.9h-1.1V647.1h-1.1V646.2h-1.1V645.4h-1.1V646.3h-1.1V645.7h-1.1V647.6h-1.1V646.2h-1.1V648.4h-1.1V647.4h-1.1V645.9h-1.1V646.4h-1.1V646.2h-1.1V647.6h-1.1V646.4h-1.1V646.3h-1.1V645.9h-1.1V645.7h-1.1V647h-1.1V646.6h-1.1V647.3h-1.1V644.9h-1.1V645.1h-1.1V644.4h-1.1V645.9h-1.1V645.6h-1.1V646.8h-1.1V646.2h-1.1V644.7h-1.1V646.3h-1.1V645.6h-1.1V643h-1.1V642.7h-1.1V644.7h-1.1V642.4h-1.1V639.8h-1.1V638.9h-1.1V640.2h-1.1V639.6h-1.1V640.6h-1.1V641.2h-1.1V638.2h-1.1V641.8h-1.1V639.8h-1.1V639.8h-1.1V641h-1.1V640.8h-1.1V637.8h-1.1V640.9h-1.1V638.5h-1.1V637.7h-1.1V640.2h-1.1V637.9h-1.1V640.5h-1.1V638.8h-1.1V637.3h-1.1V639.7h-1.1V639.7h-1.1V637.6h-1.1V638.5h-1.1V640h-1.1V637.6h-1.1V637.5h-1.1V639.7h-1.1V639h-1.1V636.9h-1.1V640h-1.1V638h-1.1V638.8h-1.1V636.8h-1.1V639.5h-1.1V638.1h-1.1V637.9h-1.1V638.8h-1.1V638.7h-1.1V640.6h-1.1V639.4h-1.1V638h-1.1V638.4h-1.1V637h-1.1V637.6h-1.1V638.1h-1.1V639h-1.1V638.2h-1.1V637.5h-1.1V639.6h-1.1V640.5h-1.1V638.8h-1.1V637.7h-1.1V637.1h-1.1V637.8h-1.1V638.1h-1.1V638.8h-1.1V640.1h-1.1V636.8h-1.1V640.7h-1.1V639.1h-1.1V637.3h-1.1V638.4h-1.1V640.7h-1.1V637.3h-1.1V637.4h-1.1V637.5h-1.1V640.1h-1.1V639.9h-1.1V640.1h-1.1V640.4h-1.1V639.7h-1.1V637.7h-1.1V637.2h-1.1V637.1h-1.1V637.8h-1.1V640.1h-1.1V639.2h-1.1V638.6h-1.1V640.8h-1.1V637.6h-1.1V640.9h-1.1V640.6h-1.1V639.4h-1.1V638.6h-1.1V638.7h-1.1V637.5h-1.1V637.2h-1.1V637.2h-1.1V638.1h-1.1V639.6h-1.1V638.4h-1.1V638.6h-1.1V638.8h-1.1V639.1h-1.1V639.5h-1.1V637.1h-1.1V639.6h-1.1V640.9h-1.1V638.6h-1.1V637.6h-1.1V639h-1.1V638.7h-1.1V637.2h-1.1V640.4h-1.1V637.7h-1.1V640.4h-1.1V640.2h-1.1V638h-1.1V638.9h-1.1V640.8h-1.1V637.5h-1.1V640.6h-1.1V640.4h-1.1V639.1h-1.1V638.8h-1.1V640.9h-1.1V640.7h-1.1V641h-1.1V639.4h-1.1V638.2h-1.1V639.8h-1.1V638.6h-1.1V640.9h-1.1V640.7h-1.1V639.1h-1.1V638.5h-1.1V637.5h-1.1V638.4h-1.1V637.3h-1.1V641h-1.1V639.2h-1.1V638.8h-1.1V640.5h-1.1V637.5h-1.1V640.9h-1.1V637.5h-1.1V639.8h-1.1V641.2h-1.1V639.6h-1.1V638.2h-1.1V639.9h-1.1V638h-1.1V640.2h-1.1V638.6h-1.1V638.1h-1.1V640.1h-1.1V637.4h-1.1V640.6h-1.1V638.3h-1.1V640.4h-1.1V640.5h-1.1V638.3h-1.1V640.1h-1.1V638.6h-1.1V639.3h-1.1V639.8h-1.1V639.3h-1.1V638.7h-1.1V640.7h-1.1V638.3h-1.1V637.8h-1.1V637.4h-1.1V640.7h-1.1V639.7h-1.1V639.3h-1.1V638.6h-1.1V638.2h-1.1V639.1h-1.1V637.7h-1.1V638.8h-1.1V641.1h-1.1V640.6h-1.1V640.9h-1.1V637.7h-1.1V638.8h-1.1V640.1h-1.1V640.6h-1.1V638.6h-1.1V639.9h-1.1V639.5h-1.1V641.5h-1.1V643h-1.1V640.8h-1.1V640.7h-1.1V641.2h-1.1V643.2h-1.1V640h-1.1V640.5h-1.1V642.5h-1.1V643.5h-1.1V642.6h-1.1V642.4h-1.1V643.4h-1.1V643.7h-1.1V641h-1.1V642.6h-1.1V640.4h-1.1V642h-1.1V642.2h-1.1V641h-1.1V644.2h-1.1V642.2h-1.1V641h-1.1V641.6h-1.1V644.7h-1.1V641.6h-1.1V642.7h-1.1V645.2h-1.1V643.6h-1.1V644.4h-1.1V642.8h-1.1V645h-1.1V644.1h-1.1V646.3h-1.1V646.1h-1.1V643.6h-1.1V645.6h-1.1V645.2h-1.1V645.2h-1.1V647h-1.1V643.8h-1.1V646.1h-1.1V646.9h-1.1V644.5h-1.1V644.1h-1.1V644.4h-1.1V647h-1.1V645.7h-1.1V644.6h-1.1V646.3h-1.1V645.8h-1.1V648h-1.1V644.8h-1.1V647.7h-1.1V647.7h-1.1V645.2h-1.1V648.9h-1.1V648.6h-1.1V646.4h-1.1V645.8h-1.1V646.3h-1.1V648.9h-1.1V648h-1.1V645.9h-1.1V648.5h-1.1V646.7h-1.1V648.2h-1.1V647.9h-1.1V647.1h-1.1V648.8h-1.1V647.8h-1.1V648.4h-1.1V649h-1.1V649.6h-1.1V648.7h-1.1V648.8h-1.1V647.9h-1.1V648.5h-1.1V647.3h-1.1V647h-1.1V649.3h-1.1V650.1h-1.1V649.9h-1.1V649.9h-1.1V649.2h-1.1V648.8h-1.1V647.6h-1.1V648.3h-1.1V647.5h-1.1V648.1h-1.1V649.2h-1.1V648.5h-1.1V647.6h-1.1V650.6h-1.1V650.1h-1.1V648.4h-1.1V650.4h-1.1V649.8h-1.1V648.7h-1.1V650.3h-1.1V649.5h-1.1V648.1h-1.1V648.8h-1.1V651.6h-1.1V649.5h-1.1V649.3h-1.1V648.3h-1.1V649.2h-1.1V650.9h-1.1V650.5h-1.1V651.8h-1.1V649.2h-1.1V649.1h-1.1V649.4h-1.1V647.9h-1.1V647.4h-1.1V647.6h-1.1V647.9h-1.1V647.5h-1.1V648h-1.1V647h-1.1V647.4h-1.1V647.2h-1.1V647.6h-1.1V647h-1.1V647.3h-1.1V647.4h-1.1V647.3h-1.1V648h-1.1V647.7h-1.1V647.8h-1.1V647.7h-1.1V647h-1.1V648h-1.1V647.8h-1.1V647.1h-1.1V647.6h-1.1V648h-1.1V648h-1.1V647.1h-1.1V647.6h-1.1V647.9h-1.1V648.3h-1.1V648.3h-1.1V647.4h-1.1V648.3h-1.1V648.2h-1.1V648.2h-1.1V647.4h-1.1V647.5h-1.1V647.3h-1.1V647.7h-1.1V648h-1.1V647.5h-1.1V647.4h-1.1V647.6h-1.1V648.3h-1.1V648.4h-1.1V648h-1.1V647.1h-1.1V647.9h-1.1V648h-1.1V647.9h-1.1V647.8h-1.1V648.4h-1.1V647.2h-1.1V648.1h-1.1V648.1h-1.1V648.4h-1.1V648.1h-1.1V647.5h-1.1V648.3h-1.1V647.9h-1.1V647.8h-1.1V647.7h-1.1V648h-1.1V647.4h-1.1V647h-1.1V647.1h-1.1V648.3h-1.1V647.2h-1.1V648.1h-1.1V648.3h-1.1V648h-1.1V647.2h-1.1V647.2h-1.1V647.7h-1.1V648h-1.1V647.8h-1.1V647.8h-1.1V648.1h-1.1V648.1h-1.1V647.6h-1.1V648.2h-1.1V647.8h-1.1V648.3h-1.1V648.3h-1.1V647.8h-1.1V647.2h-1.1V648.4h-1.1V648.2h-1.1V647.9h-1.1V647.9h-1.1V647.5h-1.1V648.3h-1.1V648.2h-1.1V647.1h-1.1V647.4h-1.1V648.2h-1.1V648.1h-1.1V647.9h-1.1V647.6h-1.1V648.2h-1.1V647.5h-1.1V647.8h-1.1V647.6h-1.1V647.4h-1.1V647.3h-1.1V647.1h-1.1V647.1h-1.1V647.1h-1.1V648.3h-1.1V648.4h-1.1V647.8h-1.1V647.1h-1.1V647.2h-1.1V647.9h-1.1V647.9h-1.1V647.7h-1.1V648.3h-1.1V647.9h-1.1V648.4h-1.1V648h-1.1V647.5h-1.1V647.1h-1.1V647.5h-1.1V648.3h-1.1V647.4h-1.1V648.2h-1.1z" fill="#35c800"/>
<path d="M34.3 647V625.6h1.1V625.3h1.1V623.4h1.1V623.3h1.1V624.6h1.1V626.6h1.1V624.9h1.1V625.2h1.1V625.5h1.1V626h1.1V622h1.1V622h1.1V624.3h1.1V624.5h1.1V625.8h1.1V625.6h1.1V625h1.1V625.5h1.1V626.3h1.1V626.3h1.1V624.5h1.1V624.3h1.1V623.2h1.1V624.1h1.1V620.5h1.1V621.5h1.1V621.7h1.1V621.9h1.1V619.4h1.1V617.6h1.1V624.5h1.1V625.2h1.1V624.2h1.1V625.5h1.1V620.5h1.1V619.9h1.1V621.6h1.1V621.4h1.1V624h1.1V624.7h1.1V622.1h1.1V622h1.1V623.1h1.1V623h1.1V623.4h1.1V623.6h1.1V620.6h1.1V620.9h1.1V625.2h1.1V622.2h1.1V616.7h1.1V616h1.1V618.7h1.1V618.1h1.1V615.8h1.1V614.8h1.1V614h1.1V613.1h1.1V614.3h1.1V615.3h1.1V609.7h1.1V607.8h1.1V612.6h1.1V611.8h1.1V614.4h1.1V612.8h1.1V609.8h1.1V610h1.1V606.7h1.1V606.1h1.1V608.3h1.1V608.5h1.1V609.5h1.1V609.8h1.1V605.2h1.1V606.1h1.1V610h1.1V610h1.1V612.8h1.1V614.6h1.1V610.2h1.1V610.2h1.1V613.8h1.1V614.1h1.1V617.3h1.1V619h1.1V617.7h1.1V618.9h1.1V618h1.1V619.6h1.1V621.2h1.1V621.2h1.1V623.8h1.1V624h1.1V621.3h1.1V622h1.1V624.6h1.1V624.3h1.1V624.8h1.1V624.6h1.1V628h1.1V627.8h1.1V626.4h1.1V627.2h1.1V628.1h1.1V627.6h1.1V624.3h1.1V625.3h1.1V626.1h1.1V626.3h1.1V625.1h1.1V624.7h1.1V624.4h1.1V624.6h1.1V627.8h1.1V626.6h1.1V626h1.1V624.4h1.1V618.2h1.1V621.6h1.1V628.3h1.1V631.6h1.1V631.9h1.1V631.3h1.1V632.2h1.1V631.3h1.1V630.7h1.1V631.3h1.1V632.6h1.1V630.2h1.1V629.4h1.1V624.5h1.1V618.7h1.1V616.2h1.1V615h1.1V610.9h1.1V610.2h1.1V606.5h1.1V604.7h1.1V604.1h1.1V599.3h1.1V599.1h1.1V600.6h1.1V600.9h1.1V600.8h1.1V601.6h1.1V598.5h1.1V600.8h1.1V602.9h1.1V606.3h1.1V605.2h1.1V609.3h1.1V614.9h1.1V617.9h1.1V617.5h1.1V617.6h1.1V618.5h1.1V619.8h1.1V626h1.1V627.1h1.1V622.9h1.1V607.6h1.1V606.8h1.1V606.5h1.1V604.8h1.1V604.2h1.1V603.3h1.1V602.2h1.1V600.8h1.1V599.1h1.1V598.4h1.1V596.9h1.1V567.7h1.1V555.3h1.1V545.2h1.1V539.8h1.1V534.8h1.1V532.3h1.1V533.5h1.1V530.6h1.1V536.5h1.1V542.3h1.1V546.6h1.1V553.5h1.1V558.7h1.1V561.7h1.1V567.3h1.1V571.3h1.1V572.6h1.1V588.9h1.1V594.5h1.1V594.3h1.1V576.4h1.1V576.4h1.1V577.2h1.1V576.8h1.1V576.2h1.1V573.3h1.1V569.9h1.1V568.8h1.1V567.8h1.1V565.7h1.1V561.9h1.1V560h1.1V560.8h1.1V558.9h1.1V558.5h1.1V554.7h1.1V545h1.1V545.6h1.1V549.7h1.1V554.8h1.1V560.4h1.1V565.5h1.1V569.4h1.1V572.3h1.1V573.8h1.1V576.1h1.1V575.3h1.1V576.1h1.1V580.8h1.1V580.1h1.1V580.3h1.1V585.1h1.1V585.5h1.1V589.7h1.1V589.9h1.1V592.1h1.1V595.5h1.1V598.9h1.1V593.9h1.1V587.6h1.1V590.4h1.1V589.2h1.1V589.5h1.1V590.4h1.1V595.6h1.1V598.1h1.1V599.3h1.1V600.8h1.1V601.5h1.1V604.9h1.1V609.4h1.1V607.5h1.1V605.4h1.1V603.6h1.1V602.2h1.1V604.1h1.1V607.7h1.1V610h1.1V607.8h1.1V608.9h1.1V613h1.1V611.4h1.1V602.8h1.1V603.6h1.1V609.1h1.1V612.6h1.1V612.3h1.1V614.4h1.1V619.3h1.1V620.3h1.1V624.8h1.1V628.9h1.1V632.1h1.1V634.2h1.1V634.1h1.1V633.8h1.1V630.9h1.1V630.6h1.1V631.4h1.1V631.1h1.1V632.8h1.1V632.7h1.1V630.3h1.1V629.6h1.1V634.2h1.1V634h1.1V630.6h1.1V628.1h1.1V630.5h1.1V628.5h1.1V626.6h1.1V625.3h1.1V624.1h1.1V622.6h1.1V622.6h1.1V620.6h1.1V619.8h1.1V620.1h1.1V616.3h1.1V615.6h1.1V617h1.1V615.8h1.1V611.6h1.1V607.7h1.1V605.7h1.1V601.8h1.1V603.1h1.1V601.5h1.1V600.4h1.1V600.1h1.1V602.1h1.1V601.9h1.1V602.2h1.1V602.3h1.1V600.4h1.1V601.3h1.1V601.8h1.1V600.4h1.1V597.6h1.1V596.4h1.1V599.4h1.1V597.3h1.1V590.2h1.1V585.5h1.1V581h1.1V578h1.1V577.7h1.1V574.1h1.1V568.3h1.1V564.5h1.1V564.4h1.1V562.3h1.1V558.9h1.1V557.7h1.1V557.6h1.1V558.5h1.1V557.8h1.1V559.1h1.1V563.6h1.1V565.3h1.1V570.5h1.1V573.2h1.1V579h1.1V583.1h1.1V587.9h1.1V595.3h1.1V603.3h1.1V610.4h1.1V616.4h1.1V621.6h1.1V623.7h1.1V622.7h1.1V617.3h1.1V611h1.1V609.5h1.1V606.1h1.1V599.3h1.1V597.5h1.1V598.8h1.1V597.3h1.1V596.7h1.1V594.9h1.1V599.1h1.1V601.3h1.1V599.2h1.1V600.8h1.1V605.6h1.1V604.1h1.1V603h1.1V602.4h1.1V602.2h1.1V601.6h1.1V600.2h1.1V600.7h1.1V600.7h1.1V599.7h1.1V599.8h1.1V599.6h1.1V600.4h1.1V600.3h1.1V600.3h1.1V600.4h1.1V606.6h1.1V606.7h1.1V602.3h1.1V602h1.1V597.4h1.1V597.8h1.1V596.7h1.1V596.1h1.1V592h1.1V590.3h1.1V586.4h1.1V586h1.1V591.6h1.1V593h1.1V590h1.1V591.5h1.1V593.5h1.1V593.9h1.1V598.8h1.1V600.2h1.1V599.4h1.1V601.1h1.1V603.8h1.1V604.7h1.1V606.8h1.1V610.4h1.1V613h1.1V618.2h1.1V619.2h1.1V613.7h1.1V610.5h1.1V612.1h1.1V614.6h1.1V615.8h1.1V615.7h1.1V615.7h1.1V614.4h1.1V614.7h1.1V614.9h1.1V615.2h1.1V618.6h1.1V619.2h1.1V620.1h1.1V619.3h1.1V617.4h1.1V613.3h1.1V610.9h1.1V608.4h1.1V604.8h1.1V601.3h1.1V601.3h1.1V601.4h1.1V601.6h1.1V602.5h1.1V606.6h1.1V607.2h1.1V608.9h1.1V609.5h1.1V607.8h1.1V607.9h1.1V608.6h1.1V606.1h1.1V606.3h1.1V603.3h1.1V597.2h1.1V599.5h1.1V603.6h1.1V609.9h1.1V620.7h1.1V621.1h1.1V621.9h1.1V620.6h1.1V613.9h1.1V608.7h1.1V605.8h1.1V606.2h1.1V603.4h1.1V604.4h1.1V605.1h1.1V608.6h1.1V612.8h1.1V614h1.1V613.6h1.1V614.6h1.1V613.5h1.1V614.2h1.1V615.9h1.1V614.6h1.1V608.1h1.1V607.7h1.1V606.8h1.1V610.1h1.1V612.7h1.1V613.7h1.1V616.2h1.1V617.5h1.1V614.4h1.1V615.5h1.1V617.6h1.1V618.8h1.1V617.6h1.1V618.7h1.1V618h1.1V618.4h1.1V618.3h1.1V616.4h1.1V612.9h1.1V612.7h1.1V609.2h1.1V608.8h1.1V610.7h1.1V609.5h1.1V610h1.1V610.2h1.1V609.1h1.1V609.6h1.1V611.3h1.1V611.8h1.1V610.6h1.1V611.1h1.1V613.4h1.1V613.9h1.1V614.7h1.1V616.2h1.1V614.3h1.1V615.8h1.1V616.5h1.1V617.9h1.1V617.8h1.1V620.6h1.1V621.5h1.1V621.3h1.1V619.7h1.1V620.6h1.1V619.9h1.1V620.5h1.1V621.6h1.1V622.3h1.1V621.5h1.1V622.9h1.1V623.3h1.1V622h1.1V621.1h1.1V620.6h1.1V622.7h1.1V622.8h1.1V621.3h1.1V621.3h1.1V616.7h1.1V615.5h1.1V617.9h1.1V617.1h1.1V614.6h1.1V613.1h1.1V612.3h1.1V611.9h1.1V612.2h1.1V614.2h1.1V615.3h1.1V615.7h1.1V614.9h1.1V615.4h1.1V624.1h1.1V625.6h1.1V622h1.1V623.9h1.1V628.5h1.1V629.4h1.1V626.3h1.1V628.1h1.1V628.7h1.1V629h1.1V629.7h1.1V630h1.1V630.9h1.1V630h1.1V632.1h1.1V631.5h1.1V626.9h1.1V627.7h1.1V633.8h1.1V635.4h1.1V631.5h1.1V631.4h1.1V627.6h1.1V629h1.1V633.8h1.1V633.6h1.1V629.4h1.1V629.4h1.1V629.3h1.1V629.6h1.1V628.8h1.1V629.9h1.1V629.9h1.1V629.6h1.1V626.1h1.1V625.9h1.1V628.7h1.1V627.9h1.1V629.3h1.1V628.8h1.1V629.6h1.1V629.7h1.1V631.9h1.1V632.3h1.1V630.8h1.1V630.6h1.1V632.7h1.1V632.4h1.1V630.5h1.1V631.8h1.1V628.1h1.1V646L679 646L557 646L500 641L496 637L476 635L300 636L297 638L276 639L250 642L220 645L160 647L34.3 647z" fill="#ff1400"/>
<path d="M34.8 619.4v1.6M39.2 621.1v2.4M41.4 617.9v1.2M42.5 618.7v1.7M45.8 612.6v2M49.1 618.3v2.4M50.2 623.1v1.1M52.4 621v2.3M53.5 618.3v1.5M59 617.6v2.3M62.3 606.7v1.2M63.4 616.6v1.1M66.8 612.2v2.5M71.1 621v2.5M76.6 618.9v1.2M77.8 619.5v1.3M80 616.2v1.8M81 619.7v1.4M92 612.8v1.1M94.2 611.3v1.8M105.2 611.1v1.4M110.8 597.5v2.1M115.2 603.3v2.2M119.5 606.3v1M121.8 608v1.1M124 603.6v2.2M125 610.3v1.4M128.4 610.8v1.4M130.6 615.7v1.8M131.7 610.9v2.5M132.8 617.1v1.9M137.2 618.5v2.2M138.2 609.9v1.8M140.5 621.4v1.7M144.9 617.2v2.4M153.7 619.3v1.8M154.8 618.6v2.5M155.9 620.7v1.6M157 617.3v1.5M158.1 616.2v2M159.2 617.8v1.7M166.9 622.3v1.5M175.7 626.1v2.4M176.8 621.4v1.9M179 616.1v1.5M183.4 598.8v2M186.7 591.5v1.3M191.1 590.2v1.2M195.5 594.2v1.8M207.6 608.7v2.3M208.7 620.6v2.1M210.9 617.4v1.3M212 597.2v1.1M218.6 595.3v2.4M218.6 648.4v1.2M223 589.2v1.4M228.5 531.1v1.5M229.6 528.4v1.4M230.7 646.4v2M232.9 645.8v2.5M234 646.9v2.9M235.1 537.4v2.3M236.2 544.2v1.8M237.2 547.8v2.4M239.5 557.8v1.5M240.6 567.6v1.4M242.8 584.9v1.2M242.8 647.1v3.4M243.9 647.3v2.5M245 647.4v1.9M246.1 646.1v2.1M248.2 572.8v1.8M248.2 647.6v2.3M249.4 573.9v1.5M252.7 644.8v2.7M253.8 649v1.3M254.9 557.5v2.2M254.9 646.9v1.6M261.5 644.9v2.4M263.7 538v1.8M265.9 644.2v2M272.5 644.3v1.6M274.7 566.8v1.3M278 576.4v1.4M278 644.4v2.2M280.2 576v1.5M281.3 643.4v1.7M283.5 585.6v1.7M285.7 642.8v3.4M287.9 644.5v1.1M289 576.4v1.6M290.1 584.6v1.6M291.2 643.4v1.5M292.3 645.7v2.9M300 598.4v2.4M300 640.5v2M302.2 644.4v1.8M304.4 639.4v1.4M305.5 589.9v1.7M306.6 643.1v2.6M309.9 599v2.3M309.9 640v3.2M312.1 597.5v1.4M312.1 645v1.4M313.2 606.8v2.1M314.3 599.6v1M314.3 638.8v2.3M315.4 638.1v1.2M319.8 639.6v1.3M320.9 612.2v1.7M322 638.5v2.6M323.1 639.8v3.3M324.2 637.9v1.5M325.3 624.2v1.2M327.5 627.9v1.8M329.7 638.7v1.4M331.9 620.2v2.1M333 640.2v1.8M338.5 638.8v1.8M339.6 640.5v2.3M340.7 642.8v2M342.9 638.8v3.5M344 639.9v1.4M345.1 639.1v1.6M347.3 617.9v1.1M348.4 617.7v1.5M350.6 639.5v1.2M351.7 612.6v2.3M352.8 641.7v1.9M353.9 607.1v1M355 611.6v1.8M357.2 641.2v3.2M362.7 590.2v1.6M363.8 638.9v1M366 595.5v2.1M367.1 597.1v1.7M367.1 639.5v3.1M370.4 641.1v1.4M371.5 637.7v3.5M374.8 641.8v1.2M377 641.5v1.8M378.1 642.1v1.5M379.2 584v2.4M380.3 583v2.4M381.4 643.4v2.3M382.5 575.6v1.8M382.5 645.7v3.1M384.7 637.7v2.4M386.9 564.3v2.3M389.1 639.1v1.4M392.4 554.4v1.3M393.5 640.8v2.4M394.6 551.9v1.7M395.7 643.8v2.4M397.9 559.6v2.2M399 557.5v2M399 640v2.8M400.1 641.6v1.5M402.3 568.3v1.6M403.4 575.3v2.4M404.5 578.9v1.9M405.6 589.5v1.4M405.6 639.5v1.1M406.7 642.4v1.1M408.9 637.6v2.9M410 614.9v2.1M411.1 638.3v3M413.3 638v2.1M415.5 637.8v3.1M416.6 592.8v1.1M418.8 587.1v1.1M419.9 591.2v1.2M421 641.1v1.8M422.1 643.5v2.7M424.3 594.7v2M425.4 638.5v2.9M427.6 595.6v2.2M429.8 640.9v2.5M433.1 642.8v3M436.4 640.5v1.1M437.5 638.8v1M441.9 642.3v2.8M443 594.6v2.1M443 638.9v1.4M444.1 586.3v1.6M446.3 601.4v1.7M449.6 598.8v1.9M450.7 639.3v2.7M451.8 594.3v1.6M455.1 584.4v2M456.2 586.9v2M461.7 637.9v2.7M463.9 588.8v2M465 590.2v2.1M465 644.4v2.2M466.1 589.2v2.1M466.1 642.1v2.3M467.2 638.7v2.6M468.3 595.3v2.2M471.6 601.2v2.5M472.7 595.9v1.1M474.9 604.9v2.1M478.2 639v2.7M483.7 611.2v1.8M484.8 607.8v1.7M487 639.9v1M490.3 641.9v2.5M491.4 613.5v1.1M492.5 613.2v1.5M500.2 643.5v3M501.3 646v2.9M506.8 644.3v3.5M507.9 603.9v1.4M511.2 598.5v1.1M511.2 644.5v3.3M519.9 600.8v1.1M523.2 645.1v2.4M527.6 601.5v2.4M529.9 597.2v1.6M530.9 592.6v1.7M535.4 600.8v1.5M536.4 607.7v1.6M537.5 610.6v1.8M547.4 608.2v1.5M549.6 608.3v1.7M561.8 612.4v2M566.1 601v2.5M567.2 602.5v1.6M573.8 605.4v1M576 603.3v2.2M577.1 603.9v2.4M578.2 610v1.3M581.5 611v1.7M583.8 612.1v2.5M587 611.9v1.9M593.6 616.8v1.1M596.9 616.6v1.7M598 607v1.8M604.6 616.6v1.8M607.9 618.3v2.2M610.1 606.2v1.4M611.2 613.3v1.2M613.4 609.3v1.5M614.5 606v1.6M616.8 608.3v1.7M620 608.7v1.5M636.5 623.5v1.5M640.9 627.2v2.5M647.5 618.4v2.2M648.6 622v1.4M649.8 621.8v1.9M657.4 625.4v1M660.8 623.4v1.1M665.1 621.6v1.6M666.2 619v2.2M668.4 624.3v1.3M671.8 628v1M673.9 623.2v2.4M676.1 624.7v2.3M678.3 626.9v1.8M679.4 621.6v2.4" stroke="#2a9c00" stroke-width="1.1"/>
<path d="M229.6 648.9v2.3M231.8 649.6v3M257.1 644.1v1.8M263.7 642.5v3.2M270.2 642.2v2M273.6 644.2v3.2M276.9 643.4v2.2M282.4 642.1v2.1M283.5 642.3v2.1M290.1 642.4v2.6M293.4 646.2v2.5M296.7 640.2v2.7M297.8 641.9v1.1M301.1 638v1.9M303.3 641.3v1M305.5 640.8v1.2M308.8 639.6v1M316.5 642.8v1.3M317.6 638v2.8M325.3 638.9v2.7M328.6 644.6v2M330.8 640v2.3M331.9 640.8v1.8M334.1 639.7v1.3M337.4 644.2v2.9M341.8 637.9v1.6M348.4 642.1v2.3M349.5 637.8v1.5M358.3 638.1v3.2M360.5 644.2v2.5M361.6 640.1v3.4M362.7 638.9v2M364.9 638.9v1.1M366 638v2.6M368.2 641v1.8M369.3 638.8v2.6M392.4 639.3v2.1M396.8 640.2v2.7M397.9 639.7v2.3M403.4 637.8v2.3M407.8 644.8v2M412.2 640.1v2.4M414.4 639.6v2M418.8 643v1.3M423.2 641.5v1.5M424.3 639v1.6M426.5 638.4v1.7M454 637.9v1.7M455.1 641.4v2.6M457.3 637.9v3.4M459.5 639v3M460.6 638v2.3M470.5 639.7v1.7M471.6 646v2.9M474.9 644.3v2.1M477.1 637.7v2.7M479.3 637.8v1.9M481.5 638.9v2.3M484.8 645.4v2.3M488.1 639.2v2.4M491.4 645.1v2.9M493.6 638.9v1.4M494.7 641.2v3.2M495.8 639.4v2.4M499.1 645.7v1.8M512.2 646v1.5M513.4 647.4v2.4M522.1 646.8v2.2M535.4 647.2v3.2" stroke="#3fd400" stroke-width="1.1"/>
<path d="M38.1 623v1.4M39.2 624.3v1M40.3 626.3v1.2M40.3 645.8v1.5M41.4 624.6v.9M42.5 624.9v1.1M43.6 625.2v1.8M43.6 645.8v.8M44.7 645.8v1.3M46.9 621.7v1.8M48 624v1.8M53.5 625.2v2.2M54.6 626v1M55.8 626v.9M57.9 624v1.7M59 622.9v1.2M60.1 623.8v1.4M62.3 621.2v1.8M63.4 645.8v1M65.6 619.1v1.9M70 623.9v2.1M71.1 625.2v1.5M72.2 620.2v1.6M74.5 621.3v2M75.5 621.1v.9M76.6 623.7v1.2M77.8 624.4v1.6M80 621.7v1.2M81 622.8v1.5M86.5 645.8v1.8M87.6 624.9v1.3M88.8 621.9v2.1M89.9 616.4v2M91 615.7v2.1M92 645.8v1.1M94.2 615.5v.9M95.4 614.5v.9M95.4 645.8v1M96.5 613.7v1M98.6 614v1.4M104.2 611.5v1.4M105.2 645.8v1.3M106.3 612.5v1.9M107.5 609.5v1.4M109.7 606.4v.8M109.7 645.8v1.6M110.8 605.8v1.9M110.8 645.8v1.5M113 608.2v1.8M113 645.8v1.2M114 645.8v1.3M115.2 609.5v2M118.5 609.7v.9M119.5 609.7v2M119.5 645.8v1.7M120.7 612.5v1.6M120.7 645.8v1.8M121.8 614.3v1.3M122.8 609.9v1M122.8 645.8v1.6M124 609.9v1.6M125 613.5v1.8M129.5 617.4v2M130.6 618.6v1.1M131.7 617.7v1.1M132.8 619.3v1.6M133.9 620.9v1.9M136.1 623.5v1.4M136.1 645.8v1.6M138.2 621v1.1M140.5 645.8v1.2M141.6 624v2.1M143.8 624.3v1.3M147.1 626.1v2.1M148.2 626.9v1.1M149.2 627.8v2.1M150.4 627.3v.9M151.5 624v1.2M151.5 645.8v1.5M152.6 625v1.9M153.7 645.8v1.3M154.8 626v2.1M157 624.4v1.3M157 645.8v1.4M159.2 624.3v1.7M161.4 645.8v1.6M163.6 624.1v.9M163.6 645.7v1.8M166.9 628v1.5M168 631.3v1.6M171.2 645.4v.9M172.4 631v1.5M172.4 645.4v1.7M173.5 645.4v1.1M174.6 631v1.8M175.7 632.3v.9M176.8 645.2v.8M177.9 629.1v1.8M177.9 645.2v1.7M179 645.2v1.6M180.1 645.1v1.6M181.2 645.1v1.5M182.2 645.1v1.8M184.5 609.9v2.2M185.6 606.2v1.2M185.6 644.9v1.5M186.7 604.4v1.3M187.8 644.9v1.4M188.9 599v1.6M188.9 644.8v1.4M190 598.8v1.8M190 644.8v.8M192.2 600.6v1.5M192.2 644.7v1M193.2 644.7v1M195.5 598.2v1.4M197.7 602.6v1.2M197.7 644.5v1.8M199.9 604.9v1.9M199.9 644.5v1.7M203.2 617.6v1.1M205.4 644.3v1.5M206.5 644.3v.9M207.6 619.5v1.7M209.8 626.8v.8M209.8 644.1v1.7M210.9 622.6v1.8M212 607.3v2M213.1 644v.9M215.2 644v1M216.4 643.9v1M217.5 603v1M218.6 601.9v1.5M218.6 643.8v1.3M219.7 600.5v1.1M220.8 598.8v2.1M221.9 598.1v1.7M223 596.6v.9M224.1 567.4v1.8M224.1 643.4v1.7M225.2 643.3v1.3M226.2 643.2v1.2M228.5 534.5v2.2M228.5 643v1.5M229.6 532v1.4M229.6 642.8v.9M230.7 533.2v1.3M231.8 530.3v2M232.9 642.5v1.7M234 642.4v1.6M235.1 546.3v1.9M235.1 642.3v1.3M236.2 642.2v1.1M237.2 558.4v1.4M237.2 642.1v1.7M238.4 642v1.1M239.5 567v1.6M239.5 641.9v1.1M240.6 571v.9M240.6 641.7v1.6M242.8 641.5v.9M245 594v1.8M245 641.3v1.1M246.1 576.1v1.1M246.1 641.2v1.5M247.2 641.1v1.6M248.2 641v1.5M249.4 576.5v1.1M249.4 640.9v.9M250.5 575.9v1.7M251.6 640.6v.8M252.7 640.5v1.5M254.9 567.5v1.6M254.9 640.2v1.1M256 565.4v1.2M256 640.1v1.4M257.1 561.6v1.4M257.1 640v1.1M258.2 639.9v1.5M259.2 560.5v1.2M259.2 639.7v1.1M260.4 558.6v1.9M261.5 639.5v1.6M262.6 639.4v1.3M263.7 544.7v1.9M263.7 639.2v.9M265.9 549.4v2.2M267 554.5v.8M269.2 565.2v1.4M270.2 569.1v1.2M270.2 638.5v1.2M271.4 572v1.2M271.4 638.3v.8M272.5 573.5v2.1M272.5 638.2v1.3M273.6 575.8v1.2M273.6 638.1v1.5M274.7 575v2.1M274.7 638v1.5M275.8 575.8v.9M278 579.8v1.9M278 637.7v1.1M279.1 580v.8M280.2 584.8v1.4M280.2 637.6v1.3M281.3 585.2v1.7M282.4 589.4v1.2M282.4 637.5v1.6M283.5 589.6v2M283.5 637.4v1.7M284.6 591.8v1M285.7 595.2v2.1M286.8 637.3v1.7M287.9 593.6v1.6M289 637.2v1.7M290.1 590.1v1M291.2 637.1v.8M293.4 637v.8M294.5 595.3v1.4M294.5 636.9v1.2M295.6 636.9v1.1M296.7 599v1.3M296.7 636.8v1.1M297.8 636.3v1.2M298.9 601.2v1.1M298.9 635.6v1.4M300 604.6v1.6M300 634.8v1.4M302.2 607.2v1M303.3 605.1v1.3M304.4 603.3v1.8M305.5 601.9v2.2M306.6 634.8v.9M307.7 634.8v1.6M308.8 634.8v1.3M309.9 607.5v1.8M311 608.6v1.9M311 634.7v1.3M312.1 612.7v1.2M312.1 634.7v1.2M313.2 634.7v1.6M314.3 602.5v1M314.3 634.7v1.4M315.4 603.3v2.1M315.4 634.7v.9M316.5 608.8v1.3M317.6 634.7v1.1M318.7 612v1.6M318.7 634.7v1.2M320.9 619v1.2M322 634.7v1M323.1 624.5v1.8M323.1 634.7v1.5M324.2 634.7v1.7M326.4 633.9v1.2M327.5 633.8v2M328.6 633.5v1.3M329.7 630.6v1.5M330.8 630.3v2.1M331.9 634.6v.9M333 634.6v1.5M334.1 634.6v1.2M335.2 632.4v1.6M335.2 634.6v1.5M336.3 630v1.9M337.4 629.3v1.5M337.4 634.6v1.1M338.5 633.9v1.1M338.5 634.6v.9M339.6 633.7v1M340.7 630.3v1.9M340.7 634.6v1.6M341.8 634.6v1.2M344 634.6v1.5M345.1 634.5v1.3M348.4 622.3v1.7M348.4 634.5v1.2M349.5 634.5v1.3M350.6 634.5v1M352.8 634.5v1.2M355 634.5v.8M356.1 616.7v1.2M357.2 615.5v1.3M357.2 634.5v1.3M358.3 634.5v.8M359.4 607.4v2.1M361.6 634.5v1M362.7 602.8v2M362.7 634.4v1.1M364.9 634.4v1.3M366 599.8v1.2M366 634.4v.9M367.1 601.8v1.4M368.2 634.4v1.2M369.3 601.9v1.6M369.3 634.4v1.1M370.4 634.4v1.6M371.5 600.1v.9M371.5 634.4v1.2M372.6 601v2M373.7 601.5v1.2M373.7 634.4v1M374.8 600.1v1M374.8 634.4v1.5M377 596.1v1.9M377 634.4v1M378.1 599.1v1.3M379.2 634.4v1.1M380.3 589.9v1.3M380.3 634.3v.9M381.4 585.2v1.4M382.5 580.7v1.1M382.5 634.3v1M383.6 577.7v.9M383.6 634.3v1.6M384.7 634.3v.9M385.8 573.8v1.3M388 564.2v1.3M389.1 564.1v1.5M390.2 562v1.7M390.2 634.3v1M391.3 558.6v1.1M392.4 634.3v.8M393.5 557.3v1.1M394.6 558.2v1.4M394.6 634.3v1.7M395.7 557.5v1.4M395.7 634.3v1M396.8 558.8v1.8M396.8 634.3v1M397.9 634.2v1.1M399 565v1M400.1 570.2v1.2M400.1 634.2v1M401.2 572.9v.9M402.3 634.2v1.7M403.4 634.2v1.8M404.5 634.2v1.8M406.7 603v1.1M407.8 610.1v2.1M408.9 616.1v1.9M408.9 634.2v1.5M410 621.3v1.6M411.1 623.4v.9M411.1 634.2v1.7M412.2 622.4v2.1M412.2 634.2v1.4M413.3 617v.9M414.4 634.2v.8M415.5 609.2v1.9M415.5 634.1v1.5M416.6 605.8v.9M416.6 634.1v1.4M417.7 599v1.8M417.7 634.1v.9M418.8 597.2v2M418.8 634.1v1.6M419.9 598.5v1.8M421 597v1.5M422.1 596.4v1.7M423.2 594.6v1.7M423.2 634.1v.9M424.3 598.8v1.4M424.3 634.1v1.8M425.4 601v1M425.4 634.1v1M426.5 634.1v1.5M428.7 605.3v1.3M429.8 634.1v1.6M430.9 602.7v2.1M430.9 634.1v1.5M432 634.1v1.1M433.1 634v.9M435.3 634v1.2M436.4 600.4v2.2M436.4 634v1.8M437.5 600.4v1.1M437.5 634v1.6M438.6 599.4v1.9M439.7 634v1.3M445.2 600.1v.8M445.2 634v1.2M449.6 601.7v1M449.6 634v1M450.7 597.1v1.3M450.7 633.9v1.7M451.8 633.9v1.4M452.9 596.4v.9M452.9 633.9v1.6M454 595.8v1.6M454 633.9v1M455.1 633.9v1.1M456.2 590v1.7M457.3 633.9v1.5M458.4 585.7v1M458.4 633.9v1.4M459.5 633.9v1.4M460.6 592.7v1.7M460.6 633.9v1M461.7 589.7v2M461.7 633.9v1.3M462.8 591.2v1M462.8 633.9v1.1M465 593.6v1.3M465 633.9v.9M466.1 598.5v1.6M466.1 633.9v1M467.2 599.9v1.9M468.3 599.1v1.6M468.3 633.8v1.8M470.5 603.5v1.6M470.5 633.8v1.4M471.6 633.8v1M472.7 633.8v1.5M473.8 610.1v1.7M474.9 612.7v1.1M474.9 633.8v1.6M476 633.8v1.7M477.1 633.9v1.6M478.2 613.4v2M478.2 634v1.1M479.3 610.2v1.1M480.4 634.2v1.2M481.5 614.3v.8M481.5 634.3v1.4M483.7 615.4v2.1M484.8 634.7v1.1M487 614.4v1.5M487 634.9v1.7M488.1 635v.9M489.2 614.9v.9M490.3 635.2v1M492.5 619.8v1.3M492.5 635.4v1.3M493.6 619v1M494.7 617.1v1.9M495.8 635.8v1M496.9 610.6v2M499.1 604.5v.9M500.2 601v1.1M501.3 601v1.3M502.4 601.1v1.6M502.4 640v1.6M503.5 640.1v1.1M504.6 640.2v1.6M505.7 606.3v1.1M506.8 606.9v1.1M507.9 640.5v1M509 609.2v1.2M509 640.6v1.2M511.2 640.8v1.5M512.2 608.3v2.1M512.2 640.9v1.2M513.4 605.8v1.3M515.5 603v1M515.5 641.2v1.2M516.6 641.3v.9M518.9 641.5v1M519.9 609.6v2.1M519.9 641.5v1.3M521 620.4v1.2M521 641.6v.9M523.2 621.6v.9M523.2 641.8v1.5M524.4 620.3v2.2M524.4 641.9v1.6M525.4 642v1.7M526.5 642.1v1.1M527.6 642.2v1M528.8 642.3v1.1M530.9 604.1v2M533.1 608.3v1.2M533.1 642.7v1.6M536.4 613.3v1.6M536.4 643v1.1M537.5 643.1v.8M538.6 613.2v1.1M538.6 643.2v.9M539.8 613.9v.8M540.9 643.4v1.4M541.9 643.5v1.2M543 607.8v1.2M544.1 643.7v1.2M545.2 606.5v1.1M545.2 643.8v1.6M546.4 609.8v1.3M546.4 643.9v1.2M547.4 612.4v1.7M547.4 644v1.5M548.5 613.4v1.4M554 617.3v1.1M555.1 618.5v1.4M556.2 617.3v.9M557.3 618.4v1.4M558.4 617.7v1.1M558.4 644.8v1.1M559.5 644.8v1.1M561.8 616.1v1.7M563.9 612.4v2.2M566.1 608.5v1.4M567.2 610.4v1.1M571.6 608.8v2.1M571.6 644.8v1M573.8 611v1.1M574.9 611.5v1.3M574.9 644.8v1.6M576 610.3v1.2M577.1 610.8v1.6M577.1 644.8v1M583.8 615.5v1.6M584.8 616.2v2M584.8 644.8v1.7M585.9 617.6v2.2M585.9 644.8v1.6M591.4 619.4v1.8M592.5 620.3v2.1M598 621.2v1.6M599.1 622.6v2.1M601.3 621.7v2.1M604.6 622.4v1.5M604.6 644.8v1.5M606.8 621v1.2M607.9 621v1.7M609 644.8v1M611.2 617.6v1.6M614.5 612.8v1.2M614.5 644.8v1.4M615.6 612v1.3M615.6 644.8v.9M616.8 611.6v2.2M617.8 611.9v1.9M618.9 613.9v.9M620 615v1M620 644.8v1.4M621.1 644.8v1.6M622.2 614.6v2.1M624.4 623.8v1.7M624.4 644.8v1.3M625.5 625.3v.8M626.6 621.7v1.6M632.1 644.8v1.4M634.3 628.7v.9M635.4 629.4v1.6M640.9 631.2v1.7M643.1 627.4v1.2M644.2 633.5v1.8M646.4 631.2v1.2M646.4 644.8v1.5M647.5 644.8v1.6M648.6 627.3v1.7M649.8 628.7v1.9M649.8 644.8v.9M650.8 644.8v1.5M651.9 633.3v2M653 629.1v2.1M654.1 629.1v1.6M655.2 629v1.8M658.5 629.6v1.9M665.1 627.6v1.5M666.2 644.8v1.2M667.3 628.5v1.9M668.4 629.3v1.3M669.5 629.4v1.1M670.6 631.6v1.6M671.8 632v.8M672.8 630.5v1.8M676.1 632.1v1.8M677.2 630.2v1.6" stroke="#e8d400" stroke-width="1.1"/>
<path d="M177.3 630.4v15.5M179.5 619.7v26.1M181.7 616v29.8M186.1 605.7v39.9M203.7 618.5v26.6M208.1 627v17.8M214.7 605.8v38.9M216.9 604.3v40.3M223.5 568.7v75.4M230.1 534.5v108.9M232.3 537.5v105.7M238.9 568.3v74.3M243.3 595.5v46.7M245.5 577.4v64.5M247.7 578.2v63.5M249.9 577.2v64.3M252.1 570.9v70.3M254.3 568.8v72.2M256.5 562.9v77.8M258.7 561.8v78.6M260.9 559.5v80.7M263.1 546v93.9M265.3 550.7v89M269.7 570.4v68.8M274.1 576.3v62.4M276.3 581.8v56.7M282.9 590.9v47.2M287.3 594.9v43.1M289.5 591.4v46.4M298.3 602.5v33.7M302.7 606.4v29.1M304.9 603.2v32.2M311.5 614v21.5M320.3 620.3v15.1M329.1 631.9v3.4M340.1 631.6v3.7M344.5 627.6v7.7M359.9 606.7v28.5M362.1 604.1v31M364.3 601.4v33.8M368.7 603.2v31.9M370.9 601.4v33.7M373.1 602.8v32.3M375.3 598.6v36.4M379.7 591.2v43.9M381.9 582v53.1M384.1 578.7v56.3M392.9 558.6v76.4M395.1 558.8v76.1M403.9 588.9v46M412.7 618.3v16.6M417.1 600.3v34.5M419.3 599.8v35.1M421.5 597.7v37.1M428.1 606.6v28.1M430.3 604v30.8M432.5 603.2v31.6M443.5 601.3v33.4M445.7 607.6v27.1M450.1 598.4v36.2M452.3 597.7v36.9M454.5 593v41.6M456.7 587.4v47.2M461.1 591v43.6M463.3 594.5v40M469.9 604.8v29.7M472.1 607.8v26.7M474.3 614v20.5M476.5 620.2v14.5M478.7 611.5v23.4M485.3 615.4v20.1M489.7 619.6v16.3M491.9 621.1v15.1M496.3 611.9v25.4M498.5 605.8v33.8M500.7 602.3v38.3M502.9 602.6v38.2M507.3 609.9v31.3M509.5 608.8v32.6M511.7 609.6v32M513.9 607.3v34.5M518.3 604.6v37.5M520.5 621.7v20.7M522.7 622.9v19.7M524.9 614.9v27.9M527.1 606.8v36.1M529.3 604.4v38.8M531.5 606.1v37.2M535.9 614.6v29.1M538.1 614.5v29.4M540.3 616.9v27.2M542.5 609.1v35.2M544.7 607.8v36.6" stroke="#b51000" stroke-width=".6"/>
<path d="M173.5 644.3v2.6M176.8 641.9v4.8M177.9 640.9v5.8M181.2 643.2v3.4M187.8 642v4.4M190 640.2v6.1M194.4 641.9v4.3M197.7 643.7v2.4M201 642.6v3.3M202.1 641.8v4.1M209.8 639.6v6.1M210.9 641.5v4.1M215.2 642.4v3M217.5 642.7v2.7M219.7 641.1v4.3M220.8 641.6v3.6M223 639.4v5.6M225.2 640.9v3.9M228.5 640.1v4.3M234 639.2v4.7M235.1 638.8v5M240.6 639.3v3.9M243.9 640.4v2.5M246.1 639.6v3.1M249.4 636.9v5.4M250.5 639.9v2.3M251.6 638.2v4M252.7 637.9v4.1M253.8 637.2v4.7M254.9 637.7v4.1M256 638v3.6M257.1 636.7v4.8M258.2 638.8v2.5M259.2 637.4v3.8M261.5 635.8v5.2M262.6 635.5v5.3M263.7 638.3v2.4M264.8 636.6v4M265.9 635.3v5.2M267 635.9v4.5M269.2 635.2v4.9M270.2 634.7v5.2M271.4 635.6v4.3M273.6 633.8v5.8M275.8 634v5.3M279.1 634.6v4.6M284.6 634.4v4.5M285.7 634.5v4.3M286.8 635.4v3.4M292.3 632.5v6.1M293.4 634.2v4.2M295.6 632.7v5.7M296.7 635.4v2.9M298.9 632.9v4.2M300 632.3v4.1M301.1 633.4v2.9M302.2 634.8v1.5M304.4 634.7v1.6M309.9 633.2v3.1M311 633.3v2.9M312.1 634.7v1.5M316.5 634.5v1.7M320.9 634.5v1.6M330.8 633v3.2M335.2 634v2.1M336.3 633.3v2.8M344 634.1v2M353.9 633.3v2.7M356.1 632.9v3.1M357.2 633.5v2.5M364.9 634.2v1.7M368.2 634v2M369.3 632.7v3.2M379.2 633.1v2.8M381.4 632.8v3M383.6 633.1v2.7M384.7 633.9v1.9M385.8 634v1.8M399 632.6v3.1M405.6 633.4v2.3M407.8 633.4v2.2M412.2 633.3v2.3M414.4 632.4v3.2M418.8 634.2v1.4M422.1 633.9v1.7M441.9 633.6v1.9M443 633.5v2M449.6 632.2v3.2M455.1 633.8v1.6M459.5 632.7v2.7M465 633.1v2.3M468.3 632.4v2.9M474.9 633.2v2.1M481.5 632.7v3.2M482.6 633.5v2.4M483.7 634v2M492.5 634.3v2.6M499.1 638.2v2.2M505.7 638.7v3.1M507.9 638.9v3M521 640.3v2.9M525.4 641.5v2M526.5 641.7v1.9M528.8 641.1v2.7M530.9 641v3M532 641.9v2.2M536.4 642v2.5M538.6 642.7v2M540.9 642.9v2M544.1 643.1v2.1" stroke="#161616" stroke-width="1.1"/>
<path d="M174.6 648.1v2.2M176.8 647.7v1.8M177.9 648.2v1.5M179 647.8v1.2M181.2 647.6v1.5M184.5 647.2v2.3M185.6 647.5v1.9M192.2 648v2.2M193.2 646.3v1.2M194.4 647.5v2.1M195.5 647.7v1.8M197.7 647.9v2.2M201 647.1v2.3M204.2 647v1.2M207.6 646.9v1.2M209.8 646.9v2.3M210.9 646.2v1.3M213.1 647.5v1.3M214.2 647.5v1.9M218.6 645.8v1.9M220.8 645.6v1.8M221.9 645.6v1.2M223 645.3v2.1M226.2 645.6v1.4M230.7 645.4v1.2M231.8 645.5v1M234 644.3v1.6M235.1 643.8v1.7M238.4 645.4v2M240.6 644.4v2.3M247.2 644.4v2.2M251.6 642.8v2.2M253.8 642.5v1.9M258.2 642.8v1.6M274.7 641.4v1M275.8 639.9v2.3M280.2 640.5v2.4M281.3 639.4v1.8M282.4 639.9v1.4M284.6 639.6v1.8M286.8 640.8v1.2M287.9 640v1.5M290.1 640.8v1.6M293.4 640.5v1.6M295.6 640.2v2.1M296.7 639.8v2.5M297.8 639.6v1.7M300 637.4v2.3M302.2 637.4v2.3M303.3 637v1.2M305.5 636.8v1.8M309.9 636.4v1.9M311 637.8v1.8M312.1 637.2v2M318.7 637.1v2.3M320.9 636.3v2.4M322 636.5v2.3M323.1 636.2v2.4M324.2 636.9v1.7M325.3 636.8v2.5M328.6 637.5v1.1M330.8 637.1v2.1M331.9 637v1.5M334.1 636.8v1.6M336.3 637v1.9M337.4 636.4v2.2M338.5 638v2M339.6 637.2v1M341.8 638.2v2.5M342.9 637.5v1.6M345.1 637v2M347.3 637v1.2M348.4 636.2v2.3M351.7 636.7v2M352.8 636.9v1.8M353.9 636.2v2M355 637.8v1.5M361.6 636.2v1.7M363.8 638.1v2.4M371.5 637.1v1.6M373.7 636.4v1.8M374.8 637.7v1.8M375.9 637.4v2M377 637.4v2.1M378.1 636.1v2.3M379.2 637.6v2.2M380.3 637.7v2.4M381.4 637v2.5M382.5 637.4v1.3M383.6 637.1v2.3M389.1 636.4v1.1M390.2 636.5v2M395.7 635.8v2M396.8 636.3v1.5M400.1 636v1.3M401.2 636v1.3M402.3 637.8v1.7M403.4 636.1v2.1M404.5 637.2v2M405.6 636.6v2M407.8 637.7v1.1M408.9 636.5v1.4M411.1 635.8v1.1M412.2 637.8v1.1M415.5 636.3v1.5M417.7 637.1v2.1M418.8 636.9v1.9M419.9 637.4v1.9M421 637.3v2.5M422.1 635.9v1M423.2 637.7v1.8M425.4 637.5v2.1M426.5 637.5v1.6M430.9 637.5v1.4M433.1 637.6v2M436.4 635.8v1.5M438.6 637.7v2.4M441.9 636.2v1.1M443 636.6v1.9M445.2 636.9v2.2M447.4 636.4v1.4M448.5 637.3v2.2M449.6 636v2.4M450.7 636.9v2.2M451.8 635.6v2.3M454 636.9v2.4M455.1 636.6v2.4M459.5 637.3v1M461.7 636.3v1.3M463.9 637.3v1.5M469.4 636.3v2.2M477.1 635.9v2M479.3 637.4v1.4M480.4 637.9v2.3M481.5 637.3v2.3M482.6 636.4v1.8M484.8 637.6v2.4M488.1 638.1v1.6M492.5 637.2v1.9M496.9 638.5v2M499.1 640.8v1.6M500.2 643.1v1.7M504.6 642.6v1.6M507.9 642.2v1.7M512.2 643.3v2.3M514.4 643.7v2.1M516.6 644.7v1.9M517.8 644.7v2.3M518.9 644.2v1.2M521 644.9v1M522.1 645.1v1.3M523.2 644.3v1.2M524.4 645.2v2.3M526.5 644v1.4M527.6 645.5v1.9M528.8 644.7v1.7M529.9 645.6v2M530.9 645.9v1.8M532 644.6v2.2M533.1 645.7v2.5M535.4 646.2v2.5M536.4 646.5v1M537.5 645.6v2.1M538.6 645.3v2.2M539.8 646.6v2M541.9 645.1v1.5M543 647.2v1.9" stroke="#b4e000" stroke-width="1.1"/>
<path d="M481.5 616.3v17.9M483.7 616.9v17.1M484.8 618.1v17.2M487 615.3v18.4M488.1 615.7v18.3M490.3 619.6v14.8M491.4 619.7v14.3M492.5 622.2v13.6M495.8 615.7v20.7M340.7 631.2v2.2M341.8 630.5v4.7M342.9 631.6v2.2M344 628.5v4.3M345.1 629.4v6.2M355 616.8v17.1M359.4 609.9v24.9" stroke="#1c1208" stroke-width="1.1"/>
<path d="M224 585H243M246 585H281M224 595H243M246 595H284M289 595H295M221 603H287M288 603H298M361 611H408M415 611H420M181 622H206M212 622H320M420 627H560" stroke="#a00c00" stroke-width="1"/>
<path d="M184 613H201M212 613H312M313 613H317M360 613H408M415 613H475" stroke="#8a0a00" stroke-width="1"/>
<path d="M34 633.5H168" stroke="#5a0c00" stroke-width="1"/>
<path d="M35.7 636.7v2.5M39.3 629.2v2.5M40.3 641.1v2.1M41.5 641.7v3.9M42.3 635.2v5.5M44.7 636.2v5.4M45.5 630.2v2M46.3 639.8v4.5M52.5 631.9v2.5M55.3 631.9v2M55.7 645.4v2.6M57.7 631.7v2.5M58.3 636.7v5M59.7 639.2v2.7M60.5 628.2v1M62.7 638.2v3.2M65.7 641.7v4.2M66.7 642.7v4.2M68.3 643v4.9M70.5 625.2v2M71.3 631.2v1M72.5 627.7v1M73.3 627.2v2M74.5 629.7v1M75.5 636.7v2.8M75.5 639.5v3.2M76.5 625.2v2.5M77.7 630.7v1.5M77.5 636.7v3.6M78.7 629.2v2M79.7 625.2v2M79.7 638.2v4.7M79.5 642.9v5M80.5 631.7v1.5M81.3 636.2v2M82.3 638.7v2.7M83.5 629.7v1M84.3 628.2v2.5M85.5 627.7v2.5M85.5 635.2v2.8M85.3 638v3.1M88.3 628.7v2M90.5 639.5v5.4M92.5 639.8v3.7M96.3 626.3v1.5M96.7 627.8v1M96.3 642.8v3.1M98.7 628v2M98.7 637v4.8M98.7 641.8v4.2M101.7 619.9v2M103.7 623.6v2.5M103.5 643.6v5.1M105.5 644.8v5.3M106.5 629.9v1M107.7 615.2v2.5M107.5 626.2v1.5M108.5 617v1.5M108.3 628v2M108.3 641v3.6M109.7 621.4v2M111.3 611v2.5M111.5 617.5v2.5M112.7 613.4v2M113.5 609.7v1M113.5 621.2v1M114.3 631.5v1M115.7 617.4v2.5M115.7 631.9v2.5M115.3 643.9v3.2M116.5 626.2v2M116.5 628.2v1.5M116.3 639.7v4.3M117.7 616.5v1.5M117.7 619.5v1.5M117.3 626v2.5M118.3 614.6v1M118.7 615.6v1.5M118.5 630.1v1.5M118.7 640.1v5.4M119.5 619.8v1.5M119.3 625.3v2M119.3 644.3v2.7M120.3 614.6v2M120.7 621.6v1M120.3 625.6v1.5M122.3 619.1v1M122.3 625.1v2M122.3 629.1v2M122.5 636.6v5.4M123.7 629.8v1.5M125.3 629.8v1M126.3 631.6v1.5M126.3 639.1v4.9M126.7 644v2.9M127.5 621.3v2.5M128.7 624.6v2.5M128.7 628.6v1.5M129.3 636.8v5.5M129.3 643.8v2.2M131.5 623.8v1M131.3 626.3v1.5M131.5 630.8v2.5M132.7 627.6v1M133.3 622.8v1M133.7 629.3v1.5M133.3 638.3v5.4M134.7 626v1.5M134.3 628.5v2M134.5 630.5v2M135.3 636.5v2.6M135.7 639.1v4.4M136.5 631v1M136.7 640v3.9M138.7 630.5v2M138.5 635.5v2.8M139.5 626v2.5M139.5 637v5.2M140.3 626.5v2M141.3 631v1.5M142.5 627.3v1M148.5 636.3v4.2M149.7 644.4v4M152.7 629v2.5M152.5 631.5v1M152.7 645.3v5M156.3 635.9v4.2M157.3 631.5v1M158.3 635.2v2.3M159.3 640.4v4.7M163.3 623.7v1M163.7 637.2v2.7M164.3 624.2v1M164.3 626.7v1.5M164.3 628.2v2.5M164.7 641.2v4.6M165.3 620.7v1.5M165.7 622.2v1.5M167.7 637v3.6M168.3 638.5v3.9M169.7 639.1v5.1M170.5 643.3v4.5M176.3 635.4v1M181.5 639.5v2M181.5 644v1M185.3 642v2M187.7 605.4v1M189.3 631.5v1.5M189.7 639.5v2M190.7 622.5v2M192.3 607.5v2.5M192.7 616v1.5M192.7 631v1M192.7 633.5v1.5M193.7 622.5v2.5M193.7 629v2.5M194.3 626.5v1.5M195.5 604.5v1.5M195.7 636v2.5M197.3 615.2v2.5M200.3 643.5v1.5M201.7 638.7v1M202.3 637.4v2.5M207.3 630.1v2M210.5 628.4v2.5M211.5 622.2v2M212.5 632.5v1M213.3 625v2.5M213.3 627.5v2.5M214.5 621v1.5M214.5 638.5v1M215.7 621v1.5M218.7 626v1M218.3 631.5v2.5M220.5 625v2M220.5 634.5v1M221.5 621.7v1M222.7 602.9v2M222.3 629.4v1M224.7 583.7v2.5M224.5 612.2v2M224.5 635.2v1.5M225.3 599.2v1.5M225.3 606.7v2.5M225.7 636.7v1M226.7 571.2v2M226.5 613.7v2M226.7 639.2v2M227.3 567.2v2.5M228.7 579.2v1M228.5 587.7v2.5M228.7 639.7v1M229.5 556.7v1M230.3 547.7v2M230.5 582.2v2M230.7 613.7v2M230.7 639.2v1M230.7 641.7v2M231.7 535.2v1M231.7 537.7v2.5M231.3 599.7v1.5M231.7 636.2v1M232.5 577.2v2M232.7 588.2v2M232.3 608.2v2M232.3 616.2v1.5M232.7 632.7v2M233.5 570.2v2.5M233.5 582.7v2M233.7 605.2v2M234.3 550.7v2.5M234.7 560.2v1M234.7 564.2v1.5M234.5 590.7v1.5M234.5 595.2v2.5M234.5 602.2v2M234.3 632.7v2M235.5 581.2v1M236.3 614.7v2.5M236.5 617.2v1.5M236.5 624.7v1M236.7 629.2v2M238.7 576.2v1.5M238.5 582.2v2.5M238.3 620.7v1.5M239.3 571.7v1.5M239.5 595.2v1.5M240.7 614.7v2M242.5 592.7v1.5M242.7 622.7v2.5M243.5 610.7v1M243.7 637.2v1.5M244.5 602.2v2.5M244.5 640.7v1M245.3 604.2v1M245.3 608.7v1M246.3 601v2.5M246.3 603.5v1M246.7 618v1M246.5 639.5v1M247.7 585v1.5M248.7 599.5v1.5M249.3 593v2.5M249.3 595.5v1M249.3 610v1.5M250.5 587v1.5M250.3 597v2M250.7 629v1.5M251.3 640v2.5M252.3 594v2.5M252.7 597.5v1.5M252.7 608v2M252.5 621v1.5M252.7 627v1M253.7 587v2M253.3 603v1M253.7 629v1.5M255.3 583.5v1M256.3 573v2M257.3 579v1M257.7 595v2.5M257.5 603.5v1M258.3 571.5v1.5M258.5 593.5v1.5M258.3 630.5v1.5M258.3 635v1M258.7 637.5v1.5M259.3 625.5v1M260.5 567v2.5M260.7 604v1M260.5 619.5v1.5M260.3 621v1.5M261.7 585v2.5M262.7 554.2v2M262.3 569.7v1M262.3 624.2v2M263.3 562.7v1.5M263.7 583.2v2M263.5 595.7v2.5M263.3 618.2v1.5M264.7 586.2v2M265.7 579.2v2M265.7 582.7v2M266.5 562v1.5M266.3 595v1.5M266.7 596.5v1.5M266.7 607v1.5M266.5 624.5v2M266.5 634v2.5M267.3 585.2v2.5M267.5 617.2v1M268.7 594.9v1M268.3 625.9v2M269.5 578v1M269.3 598.5v1.5M269.5 606.5v2.5M270.3 574.2v2M271.5 593.9v1.5M271.5 620.9v1M271.5 629.4v2.5M271.5 634.9v1M272.7 582v1.5M272.5 586.5v1M272.3 626.5v2M273.3 624.5v2.5M273.3 627v2M273.7 629v1.5M274.5 598.5v1.5M274.7 600v2M274.7 622.5v2.5M275.3 600v1.5M275.7 606v2M275.5 627.5v2.5M276.3 607.9v2.5M276.5 617.9v1.5M277.7 583.2v1.5M278.7 591.5v1M278.3 603v1.5M282.7 609.2v1.5M282.5 620.2v1M285.7 623.7v1M285.5 624.7v1.5M286.3 608.2v1.5M288.7 610.7v1M288.5 626.7v2.5M289.7 616.7v1M289.7 622.2v1M289.3 627.7v1.5M290.5 592.4v2.5M290.3 614.4v2.5M291.5 620.2v1.5M294.5 627.7v2.5M294.5 631.7v2M295.7 608.9v1M297.7 604v2.5M297.3 606.5v1M297.7 619.5v2.5M298.7 610.5v1.5M301.5 620v1M301.5 624v1M302.7 616.7v2M303.7 628.9v1M304.7 614.2v2M304.7 626.2v1M308.3 615.7v1M308.3 618.2v1.5M310.7 620.7v2M311.7 631.2v1M312.7 618.2v2.5M313.3 616.2v2M313.3 628.7v1.5M344.3 628.7v2.5M348.5 633.7v1M356.3 621v1.5M358.3 626.7v2.5M359.3 633.5v1M360.7 620v2.5M360.3 622.5v2M362.5 627.5v2.5M363.3 625v1.5M364.3 616.5v2M367.3 615v2.5M369.7 624.7v1M370.3 629.5v1M374.3 633.1v1.5M375.3 607.9v2M375.5 618.9v2M377.7 621.5v2M377.5 626.5v2M378.5 623.8v2.5M379.5 601v2M379.7 606v1.5M379.5 624v2.5M381.5 617.4v2M381.7 620.9v2M382.3 601.7v1.5M383.3 585.7v1M383.3 586.7v2M385.5 595.2v1M385.5 624.7v2M385.7 628.2v1M386.5 573.5v2.5M386.7 591v1.5M387.3 577v1M388.3 574.8v2M388.7 578.3v2M388.7 598.8v1M388.7 621.8v2.5M388.7 625.8v2.5M389.5 622.1v1.5M390.3 574.8v1M390.7 625.3v1M391.5 585.6v2M391.3 608.6v1M392.5 588.2v2M392.5 615.7v1.5M393.7 602.2v2M394.7 594.2v2M394.7 620.2v1M396.3 582.5v1M397.3 631.7v2.5M398.3 574.9v2M400.5 611.2v1.5M401.5 583.5v2M401.7 588.5v1.5M401.5 594.5v1M402.7 620.7v1M402.3 621.7v1M402.5 625.7v2.5M404.5 609.2v2.5M404.7 613.2v1.5M405.7 605.7v1M405.3 623.2v1M405.5 631.2v2.5M406.7 612.2v2M406.7 633.7v2M407.5 616.2v1.5M412.5 628.2v2.5M413.7 618.7v2M414.7 622.5v2.5M414.5 625v1M415.5 624.5v2.5M416.3 625v1M417.5 627v1.5M417.7 633v1.5M418.7 610v2.5M421.3 622v1.5M421.5 628v1.5M422.5 612.7v1M422.7 613.7v1M423.5 630.7v2.5M423.3 633.2v1M426.3 624v1.5M426.3 630v2.5M427.5 617v1M428.7 606.5v1M428.5 625.5v1M428.7 633.5v1M429.5 625.5v1.5M430.3 605.5v1.5M430.5 630.5v2.5M434.3 628.5v1.5M435.7 605v2.5M435.7 622.5v1.5M436.7 629.2v2.5M437.7 624.2v1M439.5 612.7v2.5M440.3 604.4v1M440.3 610.9v2.5M440.7 626.4v1M441.5 607.7v1.5M443.3 612.4v1.5M445.5 618v2.5M447.5 608.7v2.5M449.7 609.5v1.5M450.5 604.7v1.5M451.7 613.9v2M451.3 624.9v1M452.3 618.9v2M456.7 598.2v1.5M456.7 613.2v1.5M456.3 621.2v2.5M458.5 624.5v2M459.7 617v2M461.7 608v2M461.7 614v1.5M462.7 617v2.5M462.5 627v2.5M463.7 613.2v2.5M465.3 611.5v1M465.3 614v2.5M465.7 616.5v2M465.7 618.5v2.5M467.7 613.4v2M470.5 625v1M472.7 608.5v1M472.3 615.5v2.5M475.5 621.2v1.5M476.7 622.7v2.5M478.7 627.7v2.5M478.5 630.2v2M480.5 627.9v1M480.5 628.9v2M481.7 617.7v2.5M485.3 617.7v1M488.7 621.7v2.5M490.7 625.4v2M490.3 628.9v2M492.3 632.2v2.5M497.7 635.7v1.5M499.7 612.2v2M502.5 629.5v1M502.7 636.5v2.5M503.7 624.5v2M503.5 633.5v1.5M506.7 618.7v1M507.7 628.7v1.5M510.7 611.2v2M510.5 613.2v1.5M513.7 637.7v2M515.7 605.7v2M515.3 615.2v2.5M516.5 603.9v1M516.7 621.4v1.5M516.3 631.9v2.5M517.7 631.7v1M519.5 627.2v2.5M522.3 623.7v2.5M524.5 634.9v1.5M526.5 614.5v1.5M529.3 617.2v2.5M530.5 626.3v1M532.5 613.4v1.5M532.5 635.4v2.5M538.7 628.7v2M539.5 617.2v1M541.7 638.5v1M542.3 636.5v1M542.5 637.5v1M543.5 627.5v2M545.5 613.5v1.5M546.7 626.5v2.5M549.7 623.5v2M549.5 627v1.5M549.5 631.5v1.5M549.5 639.5v5.3M550.3 621v1.5M550.7 625.5v2M550.5 642v5.3M552.3 627.8v2.5M552.3 640.8v5M553.3 628.6v1.5M554.5 619.8v1M554.5 628.3v2.5M556.5 626.3v2.5M557.3 638.2v4.4M559.5 640.1v5.4M562.7 627.9v2.5M563.7 635v3.1M566.7 630.1v2.5M568.3 644.1v5.4M575.7 628.3v2M576.3 625.6v1M577.5 635.3v4.1M579.7 628.3v1.5M579.3 629.8v2.5M580.7 638.1v5.2M582.3 625.2v2M584.5 641.2v2.9M586.5 625.7v1.5M586.7 628.2v2M586.3 636.7v3.1M588.3 629.3v2M590.3 628.1v1M593.7 628.6v1M593.7 643.6v4.3M595.7 632v2M598.7 637v5.1M599.5 625.1v2.5M602.7 630v2M602.3 636v3.4M603.3 628v1M603.5 629v1.5M608.5 626v1.5M608.3 631.5v2M610.5 628.5v2.5M612.7 626.1v1.5M612.5 628.6v1M613.3 643.1v5M614.7 628.2v2M618.3 628.4v2M618.7 643.2v4.2M619.7 626.1v2.5M624.5 629.5v2M626.7 630.5v2M626.5 636.5v4.5M627.5 630.5v2.5M633.7 640.2v4.1M635.3 641.9v4.3M638.3 639.6v5.4M644.7 635.5v4.4M648.3 635.1v5.1M655.5 640.5v2.3M656.5 641.9v4.7M660.7 635.8v5.3M662.3 637.8v2.2M662.5 643.1v5.1M665.7 643.4v4.7M674.7 639.1v2.9" stroke="#ff7a00" stroke-width="1"/>
<path d="M35.5 628.7v1M36.5 628.7v2.5M39.5 627.2v2M40.5 636.2v3.4M46.5 631.2v1.5M46.5 635.2v3.1M47.3 640.5v4.1M49.5 637.7v4.5M50.3 627v2.5M51.5 630.7v2M51.5 637.7v3.1M51.3 640.8v4.8M52.3 640.4v3.6M53.3 627.5v2M55.3 626.4v1.5M57.5 625.2v1.5M57.3 643.8v3.9M61.5 626.7v1M62.3 629.7v2.5M63.3 629.2v2.5M64.5 626.7v1M64.7 643.4v4M65.7 628.7v1M67.3 626.7v2M67.3 635.7v3.5M68.5 640.2v2.8M69.5 625.2v1.5M70.7 639.2v3.2M71.7 642.7v3.8M72.5 639.2v5.4M73.7 640.7v4.9M74.7 637.2v4.4M75.7 629.2v1.5M75.5 630.7v1M78.5 637.7v4.3M78.7 643.5v3.8M79.3 628.7v2.5M80.5 628.2v2M80.5 645.2v3.4M85.7 625.2v2.5M86.5 625.2v1.5M86.5 642.2v4M87.3 640.2v2.1M87.3 642.3v4M88.3 625.2v1M88.7 637.2v5.1M89.3 637.2v3.1M90.5 620.5v1.5M90.3 623.5v2M91.7 619.6v1M91.7 624.6v2.5M92.7 631.8v2M94.3 625.5v1M94.5 628v1.5M94.3 631v2.5M95.7 620.1v2M95.5 622.1v1M96.5 619.8v1.5M97.3 641.6v3.8M98.3 620v2M98.3 622v2.5M98.7 626.5v1.5M99.3 623.6v1M99.5 635.6v4.7M100.5 620.8v2.5M101.3 636.4v2.5M101.5 640.4v4.2M102.3 619v1M102.3 640.1v4.5M103.3 635.1v2.8M103.7 640.9v2.7M104.7 613.8v1.5M104.7 616.8v1M104.3 619.3v1.5M105.5 614.9v1.5M105.3 620.9v2.5M105.5 626.4v2M106.7 614.9v1M106.5 618.4v2M106.3 622.4v1M106.3 626.4v2M107.3 617.7v1.5M107.7 623.7v2.5M107.7 638.3v2.6M109.7 617.9v2M110.5 610.2v2M110.3 639.2v5.5M111.7 636v3.3M111.7 643.8v5M112.3 619.4v2M112.3 640.4v4.6M113.3 618.7v1M113.7 643.7v4.3M114.7 610v1.5M114.3 614v2M114.5 628v1M114.5 629v1M114.7 635.5v4.2M115.3 614.4v1M115.7 629.4v2.5M115.3 641.4v2.6M116.3 620.7v2M116.5 623.7v2.5M117.5 640.5v4.1M118.5 620.1v2M119.7 612.3v2.5M120.5 620.6v1M120.5 639.6v2.8M120.5 642.4v4.6M121.5 643.8v2.1M122.7 620.1v1.5M122.3 627.1v2M123.3 616.8v2.5M123.3 625.3v1.5M123.3 626.8v2M123.5 628.8v1M124.5 620.6v1M124.7 625.1v2.5M124.7 644.1v3.9M127.3 636.8v2.4M128.7 620.6v1M128.5 621.6v1.5M129.7 619.8v2M129.7 626.8v2.5M130.5 625.6v1.5M131.3 638.3v2.8M133.7 628.3v1M134.7 623.5v1M134.3 627.5v1M136.5 643.9v3.5M138.5 627v1M140.7 642.5v4.1M141.3 641.5v5.5M143.7 627.5v2.5M144.7 629.1v1M145.7 635.3v4.9M145.5 643.2v2.3M146.7 628v2M146.5 636v4.4M147.7 638.1v4.2M148.5 643.4v5.4M149.7 636v5.4M150.7 637.1v4M150.5 641.1v4.4M152.5 636v4.8M154.3 643v2.8M158.7 644.8v4M159.7 628.9v1M160.3 639.7v2.2M160.7 641.9v5.1M161.3 629.2v1.5M163.5 631.7v1M164.3 621.7v2.5M164.7 625.2v1.5M164.3 630.7v2.5M165.7 627.2v2.5M166.3 627.7v2M166.7 629.7v2M166.7 636.7v4M170.5 639v2.8M172.3 638.7v2M173.3 638.6v2M175.3 641.3v2.5M177.7 640.2v2M178.3 630v1.5M178.3 634.5v1M178.5 637v2.5M181.7 641.5v1M184.5 617.2v1.5M185.5 617v2.5M185.7 644v1.5M186.3 620.2v2.5M186.3 626.7v1.5M186.7 632.7v1M186.3 639.7v1.5M186.5 643.7v1.5M187.5 643.9v1.5M189.7 621v2M189.3 643v1.5M192.5 635v2.5M193.5 605v2.5M193.5 625v2.5M194.3 605.5v2M194.5 610.5v1M194.5 611.5v1.5M194.5 642.5v1.5M196.3 614.7v2.5M196.3 617.2v2M197.3 617.7v2.5M198.3 630.7v1.5M199.5 625.7v2M199.3 635.2v2.5M200.3 624.5v2.5M202.5 642.9v1M204.5 630v1.5M207.5 627.6v2.5M208.3 631.5v1M208.5 634v1M209.5 632.2v2M212.3 621.5v1M212.5 624v2.5M212.5 635v2.5M213.5 615v2.5M213.5 636v2M214.5 617.5v2M214.5 636v1M214.3 637v1.5M214.7 641v2.5M215.7 611v2M215.3 618.5v1M215.3 622.5v2.5M216.5 620.5v2.5M218.7 610v1M219.5 605.5v1M219.3 609.5v2.5M220.7 633v1.5M220.7 635.5v1M221.3 613.2v1M224.3 580.2v2M224.3 595.2v2M226.7 568.7v2.5M226.3 636.7v2.5M227.5 590.7v1M227.7 594.7v1M228.5 551.7v2M229.3 546.7v2.5M229.7 569.7v2.5M229.7 581.2v2M229.3 629.2v2.5M230.5 558.7v2M230.7 563.7v2M231.3 605.7v2M232.5 573.7v2M233.5 550.7v2M233.7 557.2v2.5M233.3 581.7v1M233.3 589.2v1.5M233.3 601.2v2.5M233.5 624.7v2M234.7 554.7v2.5M234.5 576.2v2.5M234.7 634.7v1M235.5 592.7v1M235.3 607.2v2M235.3 619.7v1.5M235.3 624.2v2.5M236.3 579.2v1.5M236.3 586.7v1.5M236.5 594.2v1.5M236.5 627.2v2M236.3 635.7v2.5M237.7 565.7v2.5M237.5 593.7v2.5M237.7 596.2v2M237.7 622.2v2.5M238.5 579.2v1.5M238.5 584.7v1M238.7 588.7v1M238.5 619.2v1.5M239.3 591.2v2.5M239.5 619.2v2M240.3 603.7v2M241.7 588.2v2M242.7 609.2v2.5M242.5 614.2v2.5M242.5 635.7v2.5M243.7 601.2v2.5M243.5 606.7v2.5M244.5 596.7v2.5M245.7 591.2v2.5M245.5 636.7v1M246.3 594.5v2M246.5 620.5v2.5M246.3 627.5v1M246.3 637.5v2M247.3 639v1M248.5 581.5v2.5M249.5 585.5v1.5M250.5 591.5v2.5M250.7 630.5v1.5M251.7 586v1M251.5 613.5v2M252.5 596.5v1M252.3 616v2M252.7 631v2M253.5 581v1.5M253.5 590.5v2.5M253.7 600.5v2.5M253.5 605.5v1M253.7 632v1.5M254.3 577.5v1.5M256.7 618.5v1.5M256.7 626v1M256.3 636v2.5M256.5 638.5v1M258.5 567v1.5M258.7 585v2.5M258.7 605.5v2.5M259.3 594v1.5M260.3 617v1M260.3 628.5v2.5M261.5 587.5v1M261.7 618v2.5M261.7 626.5v2.5M262.5 594.7v1.5M262.7 614.2v1M262.5 636.7v1M263.7 548.2v1M263.7 571.2v1.5M263.5 591.2v1.5M263.5 601.2v2M263.3 629.2v1.5M264.7 550.2v1.5M264.3 565.2v1.5M265.7 566.2v2.5M265.7 619.2v1.5M266.5 611.5v1M266.7 614v1M268.3 579.9v2M268.5 586.4v1M269.7 576v2M270.7 580.7v1.5M270.3 588.2v2.5M270.5 620.7v1.5M271.5 591.9v2M271.5 635.9v2M272.5 580v2M272.3 605.5v2M272.7 612v1M272.7 616v1.5M272.5 628.5v2.5M274.7 594v1.5M274.5 632.5v1M275.3 585v2.5M275.3 587.5v2M275.7 604.5v1.5M277.7 590.7v1.5M277.7 604.2v2.5M277.5 612.7v2.5M278.7 609v2.5M279.7 584.2v1M280.3 622.2v1.5M282.7 613.7v2M283.3 609.7v1M283.7 625.7v1M284.5 611.2v2M285.3 618.2v1M285.7 626.2v2M285.7 634.2v2.5M286.7 606.2v2M286.3 629.2v2.5M288.5 623.7v1.5M290.3 634.9v1M291.5 593.2v1.5M292.5 612v2.5M292.5 620.5v1.5M292.5 634v1M293.7 622.7v1.5M296.3 602.7v2M296.3 604.7v2M296.7 632.2v2.5M296.7 634.7v2M297.7 623.5v1.5M297.5 632.5v1M299.3 629.7v2M301.3 617.5v2.5M302.7 618.7v1M302.3 619.7v2M303.7 609.4v2.5M307.5 611.2v1.5M307.7 621.7v1.5M312.3 627.7v1M313.3 610.2v2M313.5 613.7v2.5M316.3 630.2v1.5M317.5 620v2.5M317.3 633.5v1M318.3 625.7v2M319.5 632.2v2.5M343.7 631.2v1.5M347.5 627.7v1M349.5 632.7v1M352.3 623.5v2M353.3 623v1M355.7 626.2v2M357.3 620.4v2M358.3 619.7v1M358.7 632.2v1.5M360.3 613v2M360.3 618v2M361.5 624v1M361.5 629.5v1M364.7 630.5v1.5M366.5 614.5v1.5M372.5 625.7v1M374.7 607.6v1.5M374.7 621.6v1.5M374.7 632.1v1M376.5 628.7v2.5M378.3 608.8v1M378.5 614.3v2M381.5 622.9v2M382.5 603.2v2M382.5 627.7v1.5M384.5 585.7v1M384.7 606.2v1M384.5 610.2v2M384.5 612.2v1.5M386.5 579v1.5M386.7 595.5v2M387.7 581v2.5M388.7 586.3v2M389.5 590.1v1M389.3 598.6v2.5M390.5 566.8v2M390.3 568.8v2.5M390.3 572.8v2M390.3 610.3v1.5M392.7 583.2v2M392.5 605.2v2.5M392.7 607.7v2M393.5 582.2v2.5M393.5 619.2v2.5M393.7 633.7v2M394.3 624.2v1.5M395.3 590.7v2M396.3 568.5v2.5M396.5 574v1M396.3 606v2.5M396.7 619v1M398.5 569.4v2.5M398.5 608.4v2M402.7 612.2v1M403.5 599.4v2M403.5 629.4v2M404.7 603.7v2.5M404.7 626.7v2M405.7 628.7v2.5M407.3 613.7v2.5M409.5 628.7v1.5M411.3 633.7v2M413.5 616.2v2.5M414.3 620.5v2M418.7 620.5v2.5M421.5 601.5v2.5M427.5 606v1M427.7 628.5v1M428.7 628v1M430.3 623.5v2.5M431.3 606.5v1M431.3 615v2.5M431.7 622v1M431.3 627.5v2M432.7 617v1.5M437.7 615.7v1M439.3 610.7v2M440.7 617.9v2M440.7 619.9v2M441.3 630.2v1.5M443.3 606.9v1M443.3 616.9v2M444.7 625.2v1.5M448.5 604.4v2M448.7 625.9v2M450.7 609.2v1.5M451.7 625.9v2M452.3 600.4v2.5M452.3 612.9v1.5M452.5 620.9v1M453.3 613.7v2M453.3 629.2v1M456.3 614.7v2M458.5 592v2M458.3 606v1.5M458.7 616.5v2M459.5 605.5v1M460.5 604v2M462.7 612.5v1.5M464.3 613.9v2M464.7 627.9v1.5M465.3 606.5v2M465.5 633v1.5M467.5 605.9v1.5M469.7 612v1M470.7 615.5v2M471.7 621.5v2M473.5 618.7v1M477.7 629.7v2M481.5 616.7v1M481.3 625.7v1M482.3 620.5v1M483.7 627.3v1M484.5 626.4v2.5M487.3 629.4v1M498.7 621.7v2M499.5 609.2v1.5M499.7 620.2v2M500.7 608.5v1.5M502.7 609.5v1M503.7 613v1M503.5 628v1M509.5 639.7v1M510.3 628.2v1.5M514.3 637.7v1.5M516.3 634.4v2M517.7 638.7v2M518.3 608v2M518.3 613v1.5M519.7 618.2v1.5M522.7 635.7v2M523.7 633.4v1.5M523.3 637.9v1M524.3 622.4v1M524.3 636.4v1.5M525.5 617.7v1.5M525.3 635.2v2M525.3 640.2v1M526.3 623.5v2M527.7 638v2.5M528.7 628.1v2M529.3 622.2v2.5M529.3 633.2v2M530.3 607.8v1.5M530.5 627.3v1.5M534.7 623v2M534.7 634.5v2M535.3 619.2v1.5M535.3 622.2v2.5M535.7 636.7v1.5M538.5 621.7v2.5M538.5 637.7v1.5M539.7 618.2v1M539.5 629.2v2.5M540.5 636v1.5M541.5 629.5v2.5M541.7 636.5v2M542.7 634.5v2M542.3 638.5v2M544.5 618v1M544.5 637v2.5M546.7 622.5v1M546.3 641v1M548.3 619v1.5M548.3 623.5v1M550.5 627.5v2M551.3 636v2M552.3 623.3v1M553.3 636.1v4.4M554.5 623.8v2M554.5 625.8v2.5M555.7 627.1v1M555.5 643.6v3M556.7 635.8v3.9M557.3 628.6v2M558.5 626.3v1M558.5 628.3v2M558.7 637.3v2.5M559.5 626.6v2M560.7 627v1.5M560.3 630v2M560.3 637v4.5M562.7 618.9v2.5M562.3 624.4v2M562.5 640.9v5.1M563.5 627v1M564.3 620.7v2.5M564.5 625.7v1M564.3 628.2v2.5M564.7 637.2v5.2M564.7 643.9v4.3M565.7 615.9v2M565.5 618.9v1.5M565.5 624.9v2.5M566.7 624.6v2.5M567.7 614.3v1M568.7 621.1v2.5M568.3 625.1v2M568.5 627.1v1.5M569.5 621.8v2M569.3 625.8v2.5M570.3 614.6v2.5M570.3 617.1v2M570.3 619.1v1M570.7 620.1v2M571.3 614.8v1.5M572.3 614.6v2M572.3 616.6v2.5M572.3 620.6v1M573.3 615.8v2M573.5 619.3v1M574.3 643.3v4.3M575.7 618.3v1M575.7 621.8v2M576.7 613.1v2.5M576.3 617.1v2.5M576.5 622.6v1.5M576.5 626.6v1M577.7 616.3v1M577.5 617.3v2.5M579.5 623.3v2M580.5 628.6v2.5M581.7 621.3v2M581.7 623.3v2M581.3 626.8v1M581.5 640.3v4.7M582.7 621.2v1M582.7 627.2v1M582.5 629.7v1.5M583.3 635.7v3.6M586.7 624.7v1M586.3 631.7v1.5M588.5 626.3v2M588.5 628.3v1M588.5 631.3v2.5M590.7 631.1v1.5M592.3 624v2.5M592.5 642.5v2.9M593.5 625.6v1.5M593.3 629.6v2M594.3 639.3v4.6M595.5 626v2M595.5 635.5v3.5M595.3 642v5.4M596.5 631.6v1M597.7 628.3v1.5M599.5 635.6v2.5M601.7 638v4.6M602.5 640.8v2.6M603.7 640v3.5M604.3 628.5v2.5M604.5 631v1M604.5 632v2.5M604.5 637v4.2M606.3 622v2.5M606.5 628v2M606.5 644.2v3M608.3 627.5v1.5M608.3 629v1M608.7 638.5v4.1M609.5 620.5v1.5M609.5 622v2.5M609.3 628.5v1M611.7 621v2M611.3 626v1M611.3 629.5v2.5M612.7 618.6v1.5M612.5 627.6v1M612.7 631.1v1M612.3 635.1v5.3M613.5 617.4v1.5M613.5 621.4v1.5M613.3 627.4v1.5M614.7 617.7v2.5M614.5 624.7v2M615.3 630v1.5M616.7 617.3v2.5M616.5 619.8v1.5M617.3 623.3v1M617.7 624.3v2M617.3 628.3v1M617.3 629.3v2.5M618.5 614.9v2.5M618.3 619.9v1M619.5 624.1v2M619.5 639.1v4.1M620.5 617.2v2.5M620.7 629.2v2.5M621.5 622.8v2.5M621.5 628.3v2M622.5 627v1.5M624.7 640.5v3.3M625.7 641.5v4.1M628.5 636.8v3.7M629.3 635.6v5.2M629.5 640.8v3.3M630.5 643.7v3.4M638.7 636.3v3.3M640.7 643.4v2.9M642.5 642.4v3M646.3 638v3M648.5 640.1v4.4M651.7 636.6v2.2M651.3 641.8v5.5M653.7 635.7v2.8M653.7 638.5v3.4M655.7 635.2v2.3M656.7 638.2v3.7M657.7 641.2v3.6M658.3 643.6v4M659.7 643.3v4M660.3 641.1v5M661.7 641.3v3.9M667.7 643v4.5M670.5 637.5v5M670.7 644v3.8M675.3 637.6v2" stroke="#e6e000" stroke-width="1"/>
<path d="M35.5 629.7v1.5M37.7 628.7v1.5M42.5 627.2v1M43.5 632.7v1.5M44.5 629.7v1M44.3 644.6v4.4M46.7 627.2v2.5M46.7 632.7v1M47.3 636.2v2.8M48.5 628.7v2M49.3 629.7v1M52.5 626.4v2.5M54.7 629.7v1M55.3 625.4v1M55.3 633.9v2.5M56.5 628.2v1M56.5 629.2v1M57.5 629.2v2.5M58.5 625.2v1M59.5 627.2v1M62.7 626.7v1M63.3 626.7v2.5M63.5 633.2v1M65.7 626.7v2M65.3 629.7v1.5M66.3 628.2v2M68.3 634.2v1.5M71.3 627.7v2M72.3 625.2v2.5M74.7 644.6v5.5M77.5 628.2v2.5M79.3 633.2v2M81.7 625.2v2M82.7 625.2v1M82.3 627.7v1.5M82.3 629.2v2M86.5 626.7v1M88.5 626.2v2.5M88.3 642.3v3.8M89.7 624.7v1M89.3 629.2v2.5M90.5 619v1.5M90.5 633v1.5M91.5 618.6v1M92.5 622.8v2.5M92.7 629.3v2.5M93.5 623.4v1.5M93.5 624.9v2.5M93.3 632.4v2.5M93.7 634.9v2M94.7 617.5v2M94.7 622.5v2M96.7 624.3v1M96.5 633.3v2M97.5 616.4v2.5M97.7 618.9v2M97.5 623.9v1M98.7 624.5v2M99.3 618.6v2M99.3 620.6v1.5M99.5 622.1v1.5M99.5 624.6v1.5M100.3 615.3v2.5M101.5 616.4v2M101.3 621.9v2M101.5 623.9v1.5M102.5 617.5v1.5M102.5 625.5v1.5M102.7 637v3.1M103.3 614.1v1M103.7 616.1v1.5M103.3 629.1v2M104.7 623.8v1.5M104.5 625.3v1.5M105.5 629.9v1.5M106.7 612.9v2M106.7 615.9v1M106.7 633.9v1M107.3 612.2v1.5M107.7 619.2v2M107.3 621.2v2.5M107.5 636.2v2.1M108.3 613v1M108.7 620v2.5M109.7 624.9v1M109.5 625.9v2M109.7 627.9v2.5M110.3 621.2v2.5M110.3 626.2v1M110.7 627.2v1.5M111.7 629v2M112.5 617.9v1.5M112.5 622.9v2.5M112.7 631.9v2.5M113.7 619.7v1.5M113.7 622.2v2M113.7 625.7v1.5M113.3 633.2v1.5M115.3 615.4v2M115.3 622.9v1.5M115.3 624.4v1.5M116.5 610.7v1.5M116.5 612.2v2.5M117.7 615v1.5M117.5 624v2M118.5 611.6v1M118.3 612.6v2M118.3 629.1v1M119.3 616.3v2M120.5 618.1v2.5M121.7 613.8v2.5M121.7 616.3v2M121.5 619.8v1.5M121.3 621.3v2.5M121.5 623.8v1M121.5 624.8v1.5M121.3 626.3v1M121.7 627.3v1M122.3 623.1v2M125.5 619.3v1.5M125.3 622.3v1M125.5 624.8v2M125.7 632.3v2.5M126.3 622.6v2.5M126.3 625.1v1M126.5 626.1v2M127.3 619.8v1.5M127.5 634.3v1M128.5 627.1v1.5M128.5 630.1v2.5M128.7 638.6v5.2M129.5 621.8v2M129.7 623.8v1M129.3 624.8v2M130.7 620.6v1M130.5 632.1v1.5M130.7 637.6v4.4M132.5 628.6v1M135.7 629v1.5M135.5 645v4.6M136.5 624.5v1.5M136.7 626v2M137.7 629v2M142.7 629.8v2M144.7 633.1v2.5M145.3 628.8v1.5M146.3 630v1.5M147.3 628.1v1.5M150.7 628.6v1.5M156.7 628.4v1.5M162.7 626.2v2M163.3 624.7v2.5M163.7 627.2v1.5M163.5 641.4v5.3M165.7 623.7v1M165.7 624.7v1M168.7 642.3v5.2M181.3 626.5v2.5M185.7 619.5v2M185.3 633.5v2.5M186.7 617.2v1.5M189.3 608.5v2M189.7 623v2.5M189.3 634.5v1.5M190.5 617v1M192.3 637.5v1.5M194.5 640v1M197.3 629.2v2M199.7 610.2v2.5M199.3 623.2v2.5M201.3 615.2v2.5M204.3 642.5v1M205.3 634.2v1M206.5 635.4v2.5M215.5 614.5v1M215.7 637v1M217.3 626.5v1.5M218.7 637v1M220.7 638v1.5M223.7 600.2v2.5M225.3 610.7v2.5M226.7 567.7v1M226.3 617.2v1.5M226.7 641.2v1.5M227.3 626.2v2.5M230.3 567.2v2M230.5 570.7v1M231.7 567.2v1.5M232.5 610.2v1.5M238.3 597.2v1.5M238.5 610.7v1M238.3 628.2v1.5M239.7 570.2v1.5M239.5 598.2v1.5M241.5 609.7v2M241.5 617.7v1.5M242.5 611.7v1M245.3 605.2v2M247.5 616v2M248.7 594.5v2M251.7 632v2M257.5 637.5v2.5M263.7 621.2v2.5M263.3 625.2v1M266.7 615v2M267.3 636.2v2.5M272.7 587.5v1.5M272.7 623.5v1.5M273.7 598v2.5M273.7 606.5v2M273.3 610v1M279.5 623.7v1M280.7 613.7v2.5M281.3 617.7v1.5M283.3 594.2v2M287.3 631.7v1.5M294.3 616.2v2.5M301.3 614.5v1.5M303.3 617.9v2M312.7 622.2v2.5M345.7 632.2v2.5M347.5 625.7v2M357.3 617.9v1M359.7 612.5v1.5M367.5 631v2.5M370.3 622v1.5M371.5 615.4v2M376.7 617.7v2M378.3 630.8v2.5M382.3 633.7v1.5M383.3 583.2v1M383.7 602.2v1M383.7 613.7v1M388.5 617.8v1M389.7 573.1v1M389.3 633.6v1M391.7 612.6v2M392.5 576.2v2.5M393.5 590.7v2M393.3 594.2v2M397.7 609.2v2.5M397.3 627.7v2.5M402.7 585.2v1.5M403.5 588.4v2M403.3 601.4v2.5M404.7 595.7v1M404.7 598.2v2.5M410.7 628.2v1.5M415.5 611v1.5M418.5 614v2M419.5 614.5v1M421.3 632.5v2M427.3 611.5v2.5M432.5 627.5v2.5M433.5 632.5v2.5M434.3 615v1.5M438.5 604.2v1M442.7 629v1M447.3 620.2v1M448.7 602.4v2M449.3 603.5v1.5M451.5 617.4v1.5M452.5 604.4v1M457.7 592v1M457.7 593v1M463.5 615.7v1M465.7 599.5v1M469.7 606.5v1M475.3 618.7v1M481.5 623.2v2.5M487.3 622.9v2M490.5 619.4v1.5M506.5 609.7v1.5M512.7 619.2v2.5M516.5 604.9v1.5M520.3 632.7v2.5M520.7 641.2v1M521.3 641v1M525.7 629.7v2.5M526.7 617v1M526.5 622.5v1M527.5 630v2M528.7 612.6v2.5M528.7 621.6v2M528.3 634.1v2M528.7 639.6v1.5M529.5 619.7v2.5M530.7 610.8v2M530.7 612.8v2M530.7 633.3v2.5M531.5 616.4v1.5M532.7 611.4v2M532.3 619.4v2M532.3 630.9v1.5M533.5 615.2v1M533.7 625.2v2.5M533.3 638.7v1M534.5 626.5v2.5M534.7 630.5v2.5M535.5 630.2v2M536.7 623.7v2.5M537.7 630.7v1.5M537.3 641.2v2.5M538.7 635.2v2.5M539.3 619.2v1M539.7 620.2v1.5M540.7 637.5v2M542.3 626v1M543.5 625v1M543.3 632.5v1.5M543.7 638.5v1.5M545.5 628.5v2.5M546.3 635v1.5M546.7 642v1M547.5 640v1M548.5 640v3.2M549.3 621v2.5M549.5 633v2M550.3 618.5v1M550.7 622.5v2M550.7 632.5v2.5M551.5 634v1M551.3 635v1M551.3 639.5v2.9M552.5 624.3v1M553.5 642v5M555.5 628.1v2M556.5 644.2v4.9M557.7 622.1v2M557.3 624.1v1.5M557.5 625.6v2M557.3 633.6v1.5M557.3 635.1v3.1M558.5 620.8v1M558.5 627.3v1M559.7 621.1v1.5M559.3 622.6v2.5M560.7 621.5v1M560.7 624v1.5M560.3 625.5v1.5M561.3 619.2v2.5M561.5 627.7v2M562.5 626.4v1.5M563.3 618v1M563.5 620.5v1.5M563.5 623.5v1M563.3 628v2.5M564.5 615.2v1.5M564.7 619.7v1M564.5 624.7v1M564.5 626.7v1.5M565.3 617.9v1M565.7 623.4v1.5M566.5 618.6v2M566.3 623.1v1.5M566.7 632.6v2.5M566.5 644.1v4.9M567.7 615.3v1.5M567.3 616.8v1.5M567.5 630.8v2M567.7 632.8v2.5M568.7 614.1v1M568.3 615.1v1.5M568.7 618.6v2.5M568.5 631.6v1M568.7 632.6v2.5M569.7 629.8v1.5M570.3 612.1v2.5M570.7 623.1v2.5M570.5 627.1v1M570.5 628.1v2.5M571.3 617.8v1.5M571.3 619.3v1.5M571.7 620.8v1.5M571.7 623.3v2M571.7 626.8v1M571.7 629.3v1.5M572.5 621.6v2.5M572.7 624.1v2M573.7 614.8v1M573.7 620.3v2.5M573.5 625.3v2.5M573.7 629.3v2M573.7 640.8v5M574.5 611.6v1M574.5 614.6v1M574.7 617.6v2.5M574.7 620.1v2M574.3 622.1v2.5M574.7 627.6v1M574.5 637.1v4.7M576.3 619.6v1.5M576.5 627.6v1.5M576.7 635.6v3.6M576.5 639.2v5.2M577.7 615.3v1M577.3 623.3v2M578.7 614.6v1M578.7 618.6v2.5M579.3 619.8v2M579.5 621.8v1.5M579.7 641.3v3.4M580.3 619.1v1M580.3 622.6v1M580.5 624.6v1M580.5 627.1v1.5M581.3 620.3v1M582.5 619.2v1M582.3 620.2v1M583.3 620.2v2M583.5 626.7v1.5M584.3 621.2v2M584.3 623.2v1M584.5 625.7v2.5M584.7 628.2v2.5M585.7 623.7v1.5M585.7 641.2v3.8M586.7 627.2v1M586.5 641.3v2.4M587.3 624.2v1M587.5 625.2v2.5M587.5 633.7v1M587.3 641.7v5.3M589.3 624.5v2.5M591.7 629.8v1.5M591.3 641.3v5.4M592.7 626.5v2M593.7 627.1v1.5M594.3 626.3v2.5M594.3 628.8v2.5M596.5 626.1v2M597.5 624.8v2.5M597.3 627.3v1M597.5 643.3v2.3M598.5 629.5v2M599.5 627.6v1M599.7 639.6v4.3M599.3 644v5.3M600.5 627.5v1.5M600.3 629v1M600.5 630v1M600.7 641.6v4.9M601.3 630v1.5M601.7 635v1.5M602.7 624v2.5M603.3 625v1.5M604.7 623v2M605.7 628.5v1M605.7 629.5v1M606.5 624.5v2M607.5 621.5v1M607.5 626v1.5M607.3 641.7v4M608.3 623.5v2.5M608.7 644v3.2M609.7 624.5v2.5M609.3 632.5v2.5M609.7 638v5.3M609.7 643.3v4.1M610.5 620v1.5M610.7 623v2M610.7 625v2M610.7 634.5v2.5M610.7 644.5v4.6M611.5 639.5v4.1M611.7 643.6v2.9M612.3 622.6v2.5M612.5 643.4v2.4M613.3 622.9v1.5M614.5 620.2v2.5M614.7 634.7v1M614.7 638.7v3.5M615.7 615v1M615.3 617.5v2.5M615.5 620v1M615.3 621v2M615.7 626v1.5M615.5 629v1M615.7 640.5v4.3M616.7 613.8v2M616.3 621.3v1M616.3 624.8v1M616.7 636.3v5M617.3 614.8v2M617.7 616.8v2M617.7 620.3v1.5M617.7 621.8v1.5M617.7 626.3v1M617.5 637.8v3.4M618.7 624.9v2M618.7 639.4v3.8M619.7 616.1v2.5M619.3 618.6v2M619.5 622.1v2M619.7 631.6v1.5M621.3 638.8v2.8M622.5 619.5v2.5M622.7 622v2M622.5 629.5v2M622.3 637v5.5M624.3 623.5v2M625.5 625v1M625.5 626v2.5M626.3 625v2.5M629.7 629.1v2.5M629.3 644v4.7M634.7 637.3v5.3M637.5 643.8v5.5M639.7 632.4v1M639.7 639.4v2.7M643.3 634.9v1M647.5 637.7v4.2M649.5 636.6v2.4M649.7 640.4v3.6M652.7 637.6v2.6M652.5 643.3v3.5M658.5 638.3v5.3M661.7 632.8v2.5M663.7 632.9v2.5M663.3 641.4v3.1M664.5 632.9v1.5M664.3 637.9v4.8M665.5 635.9v3.6M666.5 637.4v3.7M666.5 641.1v4.5M667.7 633v1M667.3 638v3.6M669.7 637v4.1M672.3 638.1v3.4M675.3 641.1v2.5" stroke="#62d800" stroke-width="1"/>
<path d="M41.7 627.2v2M41.3 629.2v1.5M42.3 628.2v2.5M44.3 628.7v1M45.3 632.2v2.5M47.3 628.7v1.5M49.7 628.7v1M51.5 628.2v1M54.3 625.7v2.5M55.7 627.9v2.5M58.3 632.2v2M59.5 625.2v2M59.3 628.2v1.5M62.5 627.7v2M64.7 627.7v2M71.5 625.2v2.5M73.7 625.2v2M74.3 634.2v1.5M75.7 628.2v1M75.3 633.2v2M78.3 625.2v1.5M81.3 634.7v1.5M83.5 633.7v2M87.3 625.2v2.5M89.5 627.2v2M89.7 634.7v2.5M91.7 620.6v1M91.7 623.1v1.5M92.3 618.3v2M92.7 626.8v1M92.5 627.8v1.5M93.7 617.9v1M94.5 624.5v1M95.7 623.1v1M96.7 625.3v1M98.3 633v2.5M103.5 615.1v1M103.7 620.6v1.5M106.7 620.4v2M106.7 632.4v1.5M107.5 629.2v1M108.7 626v2M108.7 633v2M110.7 613.7v2.5M111.7 613.5v2.5M111.7 620v2.5M111.7 624v2M112.7 615.4v2.5M112.7 625.4v1.5M112.3 626.9v2M113.7 610.7v1.5M114.3 623.5v1.5M115.5 610.4v2.5M115.3 627.4v2M116.5 622.7v1M116.3 632.7v2.5M118.7 622.1v1M119.5 634.8v2M122.3 634.1v2.5M123.3 622.3v1.5M124.5 617.6v1.5M125.5 616.8v2.5M126.3 620.1v2.5M130.3 623.6v2M130.7 628.6v2M132.3 629.6v1.5M137.5 625v1M138.5 632.5v1.5M139.3 630v1M141.5 629.5v1.5M142.7 633.3v2M145.5 627.8v1M145.5 633.3v2M147.5 633.1v2M148.7 628.3v2M149.5 628.5v1M151.7 633.3v1.5M152.7 635v1M153.7 629.1v2M155.5 634.2v1.5M157.7 628v2M158.5 627.7v2M166.5 634.7v2M523.3 625.9v1.5M528.3 610.1v2.5M528.5 619.6v1M529.5 627.7v1M529.3 628.7v1.5M530.7 616.3v2.5M535.7 617.2v2M535.3 620.7v1.5M541.5 615v2M541.7 639.5v1M542.5 618v2M547.3 616.5v2.5M547.7 622v2M549.5 619.5v1.5M551.5 622v2M551.3 624v1M551.7 625v1.5M551.7 628v2.5M552.3 622.3v1M553.7 622.6v1.5M556.3 628.8v2.5M557.3 627.6v1M558.5 633.3v1M559.5 628.6v2.5M559.3 632.6v1.5M561.5 621.7v2.5M561.5 625.2v2.5M562.5 617.9v1M563.5 624.5v2.5M563.3 641.2v4.2M564.7 634.7v1M565.5 613.9v2M565.3 634.9v2M566.5 614.6v2.5M567.7 621.3v2.5M567.5 625.3v1M568.5 616.6v2M569.3 612.3v1M569.3 620.8v1M569.5 634.3v1.5M569.3 635.8v4M569.3 639.9v5.5M570.5 622.1v1M571.7 633.8v2.5M573.5 611.3v2.5M573.3 613.8v1M574.3 633.1v1M575.5 615.8v1M575.7 619.3v2.5M575.3 625.3v2M576.7 634.1v1.5M576.7 644.4v5.3M577.7 626.8v1.5M577.5 629.8v2M577.5 642.4v3.8M578.5 625.6v2M579.7 615.3v2.5M580.7 616.1v1.5M581.7 618.3v2M581.3 627.8v2.5M583.7 628.2v2M588.3 624.8v1.5M589.7 623.5v1M589.5 628.5v2M590.5 625.1v1.5M590.5 629.1v2M591.5 623.8v1.5M591.7 628.3v1.5M594.5 624.3v1M594.3 625.3v1M596.5 628.1v2M596.5 641.6v2.4M600.3 625v2.5M601.3 626v2.5M603.7 623.5v1.5M604.3 625v2M604.5 634.5v2.5M605.3 638v4.9M607.3 632.5v1.5M607.7 637.5v2.7M608.5 630v1.5M611.5 624.5v1.5M611.5 627v1M612.5 620.1v2.5M612.3 625.1v1M613.5 620.4v1M613.7 632.9v1.5M613.7 638.9v4.2M614.5 622.7v2M615.7 623v1.5M616.5 622.3v2.5M618.5 617.4v2.5M620.3 626.7v2.5M620.5 634.7v1M622.3 628.5v1M623.3 643.6v3M624.3 625.5v1M624.7 628v1.5M627.7 628v2.5M628.7 629.3v2M632.5 640.2v3.9M633.5 633.2v1M634.7 632.3v2M635.5 635.8v4.6M636.3 635.3v3M637.7 635.3v5.5M643.3 632.4v1M643.7 637.4v5M645.7 644v3.6M647.7 635.5v2.2M654.7 638.7v3.7M656.7 632.7v1.5M656.5 634.2v2.5M659.5 635.8v4.5M665.3 639.5v2.4M667.7 634v2.5M671.3 636.5v3.7" stroke="#2f9e00" stroke-width="1"/>
<path d="M35.3 627.2v1.5M35.7 639.2v3.3M36.5 644.7v2.6M38.7 628.7v2.5M38.3 641.2v2.4M40.7 633.2v1.5M41.7 632.2v1M42.3 633.7v1.5M43.7 631.7v1M43.3 638.7v4.1M44.3 633.7v2.5M46.3 644.4v3.5M47.3 633.2v1.5M48.7 638.2v4.3M56.3 633.2v1M57.3 637.2v5.1M61.3 632.2v2.5M62.3 641.4v3.9M64.7 638.7v3.2M66.3 630.2v1.5M66.5 634.7v2M68.5 632.7v1.5M69.7 643.2v3.2M71.3 632.2v1.5M73.5 632.2v2.5M74.3 625.2v1.5M76.3 639.2v5.3M78.5 626.7v2.5M79.7 631.2v1M83.7 637.2v2.1M84.5 626.7v1.5M84.7 641.2v4.1M86.7 627.7v2.5M88.5 632.2v2.5M90.7 634.5v2M91.7 633.1v2M91.3 644.1v3M93.3 627.4v2M93.5 636.9v4.2M94.5 629.5v1.5M94.5 633.5v1.5M94.3 644v3.1M95.5 627.1v2M95.7 632.1v1M97.5 632.4v1M97.5 637.9v3.7M99.7 629.1v2M101.5 614.9v1.5M101.3 625.4v2M102.3 623v1M103.3 632.6v1M104.5 626.8v2.5M105.3 616.4v2.5M105.7 618.9v2M105.5 641.9v2.9M108.5 624v2M109.3 610.9v1M110.5 617.7v2M110.5 623.7v1M110.3 628.7v2M111.3 631v2M112.7 612.4v1M113.5 612.2v2M114.3 611.5v1M114.5 639.8v3.1M114.5 644.4v4.7M115.3 634.4v2.5M117.7 612.5v2.5M118.5 626.1v1.5M119.3 621.3v2.5M120.5 633.1v1.5M121.3 629.8v1M121.7 633.8v1M124.3 621.6v2M124.5 633.6v1.5M125.5 637.8v2.1M126.7 617.6v2.5M126.7 628.1v2M128.5 623.1v1.5M130.7 621.6v2M130.5 633.6v2.5M131.3 622.8v1M132.3 622.1v1.5M132.3 625.1v2.5M132.5 632.6v2.5M132.7 636.6v4.6M134.7 637.5v5M135.7 627v2M135.5 635v1.5M136.7 633.5v2M137.3 632.5v1.5M138.7 628v1M138.7 634v1.5M139.7 643.7v5M140.5 630v2M141.5 627v2.5M141.3 634v1.5M144.7 635.6v4.6M147.3 629.6v1M149.7 629.5v1.5M155.7 633.2v1M155.3 640.2v2.4M156.7 641.5v4.5M158.5 632.7v2.5M158.5 640.5v4.3M160.3 626.7v2.5M160.3 633.7v1.5M161.3 627.2v2M162.3 624.7v1.5M165.7 639.7v2.7M167.7 632.5v1.5M167.3 635v2M182.7 639.7v1.5M183.7 619.2v2.5M184.5 613.7v2M186.3 622.7v1M186.5 642.7v1M187.3 625.9v1.5M189.7 636v2M190.3 633.5v1M191.3 607.5v1M192.5 629.5v1.5M195.7 619.5v2M195.7 629v1M195.3 638.5v1M203.5 621.3v1M203.5 629.8v1.5M204.5 633v2M211.3 628.7v1.5M219.3 633v1.5M219.3 634.5v1M221.5 601.2v1.5M222.7 619.9v1M222.7 626.9v2.5M223.3 589.2v2M224.3 570.2v1M224.7 636.7v1.5M225.3 567.2v2.5M225.7 577.2v1M225.7 634.2v2.5M227.7 597.2v1M227.3 607.2v1.5M227.7 619.2v2.5M228.3 573.2v1.5M229.5 584.7v2.5M230.7 596.2v1M230.3 623.2v1M231.7 576.2v2.5M232.5 568.2v2.5M233.7 575.7v1.5M233.3 614.7v2.5M235.7 556.2v2.5M236.7 609.2v2.5M239.3 593.7v1.5M239.5 625.7v2M247.5 595.5v2.5M249.5 581v1.5M251.7 608v1M253.7 624.5v1.5M254.7 615v2.5M258.3 576v1.5M261.5 580.5v1.5M261.7 591.5v1M261.7 598.5v1.5M262.3 603.7v1.5M263.7 552.2v1.5M263.7 570.2v1M264.3 610.7v2.5M266.3 557v1M266.5 558v2.5M266.7 602.5v1.5M266.3 632.5v1.5M267.5 566.2v2.5M267.5 598.2v1M267.7 600.7v1.5M269.7 601.5v2M271.5 585.9v1.5M272.3 577.5v1M273.3 585v1M273.7 632v1.5M274.7 617v1M275.5 611v1.5M279.3 603.2v2.5M279.5 626.2v2M280.3 620.7v1.5M281.7 626.7v2.5M282.3 602.7v2.5M282.7 606.7v1M283.5 613.7v1.5M288.3 611.7v1.5M288.7 629.2v2.5M289.7 607.7v2.5M289.3 611.7v2M289.5 633.7v2M291.7 606.7v1.5M291.3 632.2v1M293.7 612.7v2.5M293.7 631.7v2.5M297.3 607.5v1.5M301.5 610.5v2.5M304.5 617.7v1M305.3 628.2v2M309.7 625.7v2.5M310.5 624.2v2.5M311.5 620.2v2M315.3 619.4v2.5M316.5 613.7v1M316.5 623.7v1M316.3 626.2v1M317.3 622.5v2M319.3 630.7v1.5M349.5 633.7v1M353.3 628.5v2M354.7 632.9v2.5M361.3 616.5v1.5M371.5 611.9v2M374.5 619.6v2M375.3 615.9v1.5M376.5 602.2v2.5M376.7 604.7v2.5M377.3 605.5v1.5M377.7 617.5v2.5M380.7 598.7v2.5M385.3 586.7v1M385.3 587.7v1.5M387.7 574.5v1M387.3 615v2.5M388.7 629.8v2M389.3 583.1v1M389.5 629.6v1M391.7 563.6v1M391.7 629.6v2.5M392.3 632.2v1M392.7 633.2v1M394.7 615.7v1.5M395.7 574.7v1M397.5 580.2v2M397.5 617.7v1M401.7 600v1M403.7 631.4v1.5M408.3 627.7v1.5M414.3 618v2.5M418.7 607.5v2.5M419.7 621.5v2.5M419.3 633v2.5M420.5 612.5v1.5M420.7 627.5v1M422.7 623.7v1M423.7 605.7v2.5M433.3 611.5v2M433.3 630v2.5M434.5 606v1.5M435.3 627v2M436.7 619.7v2M438.5 606.7v2M440.7 609.9v1M449.7 612.5v1.5M450.3 615.2v1.5M451.3 601.4v2M460.3 598v1.5M461.7 596.5v1M461.7 610v2.5M461.5 618.5v1.5M466.7 613.7v2.5M467.7 603.9v2M468.5 603.5v1.5M469.7 613v2M472.5 618v2M474.3 621.4v2.5M484.5 624.9v1.5M486.3 634.5v1.5M501.7 622.5v1.5M502.7 606.5v1.5M502.3 619.5v1M513.7 612.7v2.5M513.7 631.7v1.5M517.3 608.2v2M517.3 626.7v2M518.5 620.5v1M521.7 635v1.5M522.5 626.2v2.5M522.7 628.7v1.5M522.7 630.2v1M522.7 639.2v1.5M524.7 630.9v1M526.7 616v1M528.5 620.6v1M528.3 630.1v1.5M528.7 631.6v2.5M528.7 637.6v2M530.7 623.3v1.5M530.5 638.8v2.5M531.3 632.9v2.5M532.7 608.9v2.5M532.3 622.9v2.5M532.3 629.9v1M533.7 622.2v1.5M533.7 635.2v2.5M533.7 637.7v1M534.7 629v1.5M535.3 624.7v1M535.5 627.2v1.5M536.3 620.2v2M540.5 639.5v1M541.5 617v2M543.5 613.5v1M543.3 641.5v2.5M547.3 631.5v2.5M548.3 629v1M548.3 633v2.5M550.7 624.5v1M550.3 635v2.5M550.7 639v3.1M551.7 632v2M551.5 643.8v3.1M552.5 625.3v2.5M555.3 620.1v2.5M555.3 634.6v1.5M560.5 628.5v1.5M560.3 634.5v2.5M565.5 638.4v2.9M565.3 641.3v3.3M570.7 632.1v2M571.5 632.3v1.5M571.7 640.8v4.3M572.3 630.6v1M573.5 631.3v1.5M573.3 634.3v2M575.3 627.3v1M575.3 637.8v3.6M575.7 642.9v4M581.7 633.3v2.5M582.3 632.7v1.5M582.7 640.2v3.7M584.7 632.2v2M584.3 634.2v1M585.7 626.7v2.5M586.7 633.2v2M588.5 641.3v4.7M589.3 636.5v3.2M589.3 641.2v3.6M590.7 635.6v4.9M592.5 628.5v1.5M594.7 632.8v1.5M595.3 628v2.5M596.3 632.6v1.5M597.7 632.8v2M597.5 634.8v2.5M599.5 630.1v2M599.3 633.6v2M600.5 636v4.1M602.3 626.5v2M603.5 635v2M606.5 637.5v5.3M607.5 629v2M613.5 628.9v2.5M616.5 627.3v1M617.7 627.3v1M617.3 633.3v1M618.7 633.4v1M620.5 638.7v2.9M623.3 626.1v1M623.5 630.1v1.5M624.5 643.7v3.6M625.3 628.5v2.5M628.5 632.8v2.5M630.3 633.3v2.5M630.5 637.3v3.4M633.3 632.2v1M637.5 632.3v1.5M638.7 632.3v2.5M646.3 632.5v1M647.5 632.5v1.5M649.7 632.6v2.5M650.7 640.1v4M652.3 632.6v2M655.7 632.7v1M655.7 642.9v5.1M658.7 634.3v1M659.5 634.3v1.5M662.5 632.8v2M671.5 633v1M672.3 633.1v2M676.3 636.1v4.7M678.5 634.7v1" stroke="#3a1200" stroke-width="1"/>
<path d="M35.7 632.7v2.5M37.5 633.2v2M38.7 634.2v2.5M40.3 628.7v2M40.3 632.2v1M41.3 633.2v1M45.5 634.7v1.5M46.7 629.7v1.5M49.5 632.2v1M49.5 634.7v1.5M50.3 632.5v1M51.5 632.7v2M53.7 632.5v2.5M54.3 632.2v1.5M54.7 633.7v1.5M57.3 626.7v2.5M58.7 634.2v2.5M59.3 632.7v2M60.7 633.7v2M67.5 634.7v1M74.5 632.2v2M76.3 633.7v1M78.7 632.7v2M79.3 632.2v1M82.7 632.7v1.5M85.3 633.2v2M87.5 632.2v2M88.7 623.7v1.5M88.7 634.7v1M89.3 622.2v2.5M92.7 620.3v2.5M95.5 633.1v2.5M98.3 619v1M99.3 617.1v1.5M102.3 634.5v2.5M104.5 632.3v2M105.5 632.9v1.5M106.7 634.9v1.5M107.7 634.7v1.5M109.5 633.4v2.5M110.3 633.7v2.5M111.5 633v1.5M118.7 633.1v1M120.7 634.6v2M128.7 632.6v1.5M131.3 634.8v2M134.3 634v2M135.5 633.5v1.5M143.7 633v2M147.5 632.1v1M149.7 634v2M150.5 634.6v1M152.5 634v1M153.5 634.1v2.5M154.5 633.5v2M161.7 632.2v1.5M161.3 633.7v1.5M162.7 632.7v1.5M164.5 634.7v2M165.5 632.7v1M167.5 634v1M168.3 635v2M553.3 634.6v1.5M560.7 620.5v1M560.7 632v1.5M560.7 633.5v1M561.3 624.2v1M564.3 632.2v2.5M566.3 622.1v1M568.3 623.6v1.5M569.7 616.3v1.5M569.3 623.8v2M571.3 622.3v1M572.3 634.6v2.5M573.3 622.8v1M573.7 632.8v1.5M574.5 612.6v2M574.3 615.6v2M575.3 613.8v2M575.3 634.8v1.5M576.5 632.1v2M577.3 619.8v2M577.5 633.3v2M578.3 632.1v2.5M578.3 634.6v1.5M579.5 617.8v2M580.5 620.1v1.5M580.3 621.6v1M580.7 623.6v1M580.7 632.6v1M582.5 622.2v2M582.3 624.2v1M583.3 633.2v2.5M587.7 634.7v2.5M589.5 635v1.5M590.7 632.6v1M590.5 633.6v2M591.3 634.3v2.5M592.7 633v2M594.5 634.3v2M598.7 634.5v1M600.7 632.5v2M601.7 633v2M602.3 633.5v2.5M603.5 633.5v1.5M605.3 633.5v1.5M607.7 624v2M607.3 634v2M608.7 621v2.5M608.3 633.5v1.5M608.5 635v2M610.5 632.5v2M616.7 632.8v2M617.7 613.8v1M617.7 634.3v2M618.5 620.9v2.5M618.5 634.4v2M620.7 622.7v1M621.5 621.3v1.5M621.3 634.8v1M622.7 634.5v2.5M623.7 622.1v2.5M623.5 633.1v1.5M625.5 632.5v1.5M625.3 634v1.5M626.7 634v1M629.7 633.1v2.5M631.5 633.1v1M632.5 633.7v2M635.7 632.3v1M635.5 633.3v1M640.5 632.4v2.5M640.7 634.9v2.5M642.3 633.9v2.5M645.5 632.5v2.5M648.7 632.6v2.5M651.5 634.1v2.5M652.3 634.6v1.5M657.5 634.2v2.5M664.5 634.4v2M669.5 634.5v2.5M671.7 634v2.5" stroke="#1a1a1a" stroke-width="1"/>
<rect x="34.3" y="521.3" width="645.6" height="1.3" fill="#a8a8a8"/>
<rect x="34.3" y="548.3" width="645.6" height="1.1" fill="#c8c8c8"/>
<rect x="34.3" y="575.2" width="645.6" height="1.1" fill="#c0c0c0"/>
<rect x="34.3" y="602.1" width="645.6" height="1.1" fill="#c0c0c0"/>
<rect x="34.3" y="628.9" width="645.6" height="1.4" fill="#d0c8bc"/>
<path d="M275.6 496V650.2M354.4 496V650.2" stroke="#050505" stroke-width=".9"/>
<path d="M277 505.3V514.1M277 522V530.8M277 538.7V547.5M277 555.4V564.2M277 572.1V580.9M277 588.8V597.6M277 605.5V614.3M277 622.2V631M277 638.9V650.9M355.8 495.5V505M355.8 513V522M355.8 530.2V539.2M355.8 547.5V556.5M355.8 564.7V573.7M355.8 582V591M355.8 599.2V608.2M355.8 616.5V625.5M355.8 633.7V642.7M286.2 496.3h8.8M303.6 496.3h8.8M321 496.3h8.8M338.4 496.3h8.8M276.2 650.2H281M289.8 650.2h8.9M307.3 650.2h8.9M324.8 650.2h8.9M342.3 650.2h8.9M352.5 650.2H356.6" stroke="#fff" stroke-width="1.7"/>
<path d="M34.3 495H679.9M34.3 494.5V651.2H680.4M679.9 495V651.2M34.3 495h-4M34.3 521.9h-4M34.3 548.8h-4M34.3 575.8h-4M34.3 602.7h-4M34.3 629.6h-4M34.3 651.2h-4M34.3 651.2v4M61.2 651.2v2.2M88.1 651.2v2.2M115 651.2v4M141.9 651.2v2.2M168.8 651.2v2.2M195.7 651.2v4M222.6 651.2v2.2M249.5 651.2v2.2M276.4 651.2v4M303.3 651.2v2.2M330.2 651.2v2.2M357.1 651.2v4M384 651.2v2.2M410.9 651.2v2.2M437.8 651.2v4M464.7 651.2v2.2M491.6 651.2v2.2M518.5 651.2v4M545.4 651.2v2.2M572.3 651.2v2.2M599.2 651.2v4M626.1 651.2v2.2M653 651.2v2.2M679.9 651.2v4" stroke="#000"/>
<g font-family="Liberation Sans, Arial, sans-serif" font-size="9.3" fill="#111">
<text x="26.9" y="498.4" text-anchor="end">30</text>
<text x="26.9" y="525.3" text-anchor="end">25</text>
<text x="26.9" y="552.2" text-anchor="end">20</text>
<text x="26.9" y="579.2" text-anchor="end">15</text>
<text x="26.9" y="606.1" text-anchor="end">10</text>
<text x="26.9" y="633" text-anchor="end">5</text>
<text x="26.9" y="654.6" text-anchor="end">1</text>
<text x="34.3" y="665.9" text-anchor="middle">0</text>
<text x="115" y="665.9" text-anchor="middle">3</text>
<text x="195.7" y="665.9" text-anchor="middle">6</text>
<text x="276.4" y="665.9" text-anchor="middle">9</text>
<text x="357.1" y="665.9" text-anchor="middle">12</text>
<text x="437.8" y="665.9" text-anchor="middle">15</text>
<text x="518.5" y="665.9" text-anchor="middle">18</text>
<text x="599.2" y="665.9" text-anchor="middle">21</text>
<text x="679.9" y="665.9" text-anchor="middle">24</text>
<text x="356.4" y="679.8" text-anchor="middle">JST</text>
<text transform="translate(9.1 573.1) rotate(-90)" text-anchor="middle">Frequency (MHz)</text>
</g>
<text x="356.6" y="488.4" text-anchor="middle" font-family="Liberation Sans, Arial, sans-serif" font-size="11.1" fill="#111">NICT Ionosonde (Yamagawa) 20230530 90-120 km</text>
<text x="646" y="531.2" font-family="Liberation Serif, Times New Roman, serif" font-weight="bold" font-style="italic" font-size="29.5" fill="#fff">d</text>
</g>
</svg></body></html>
